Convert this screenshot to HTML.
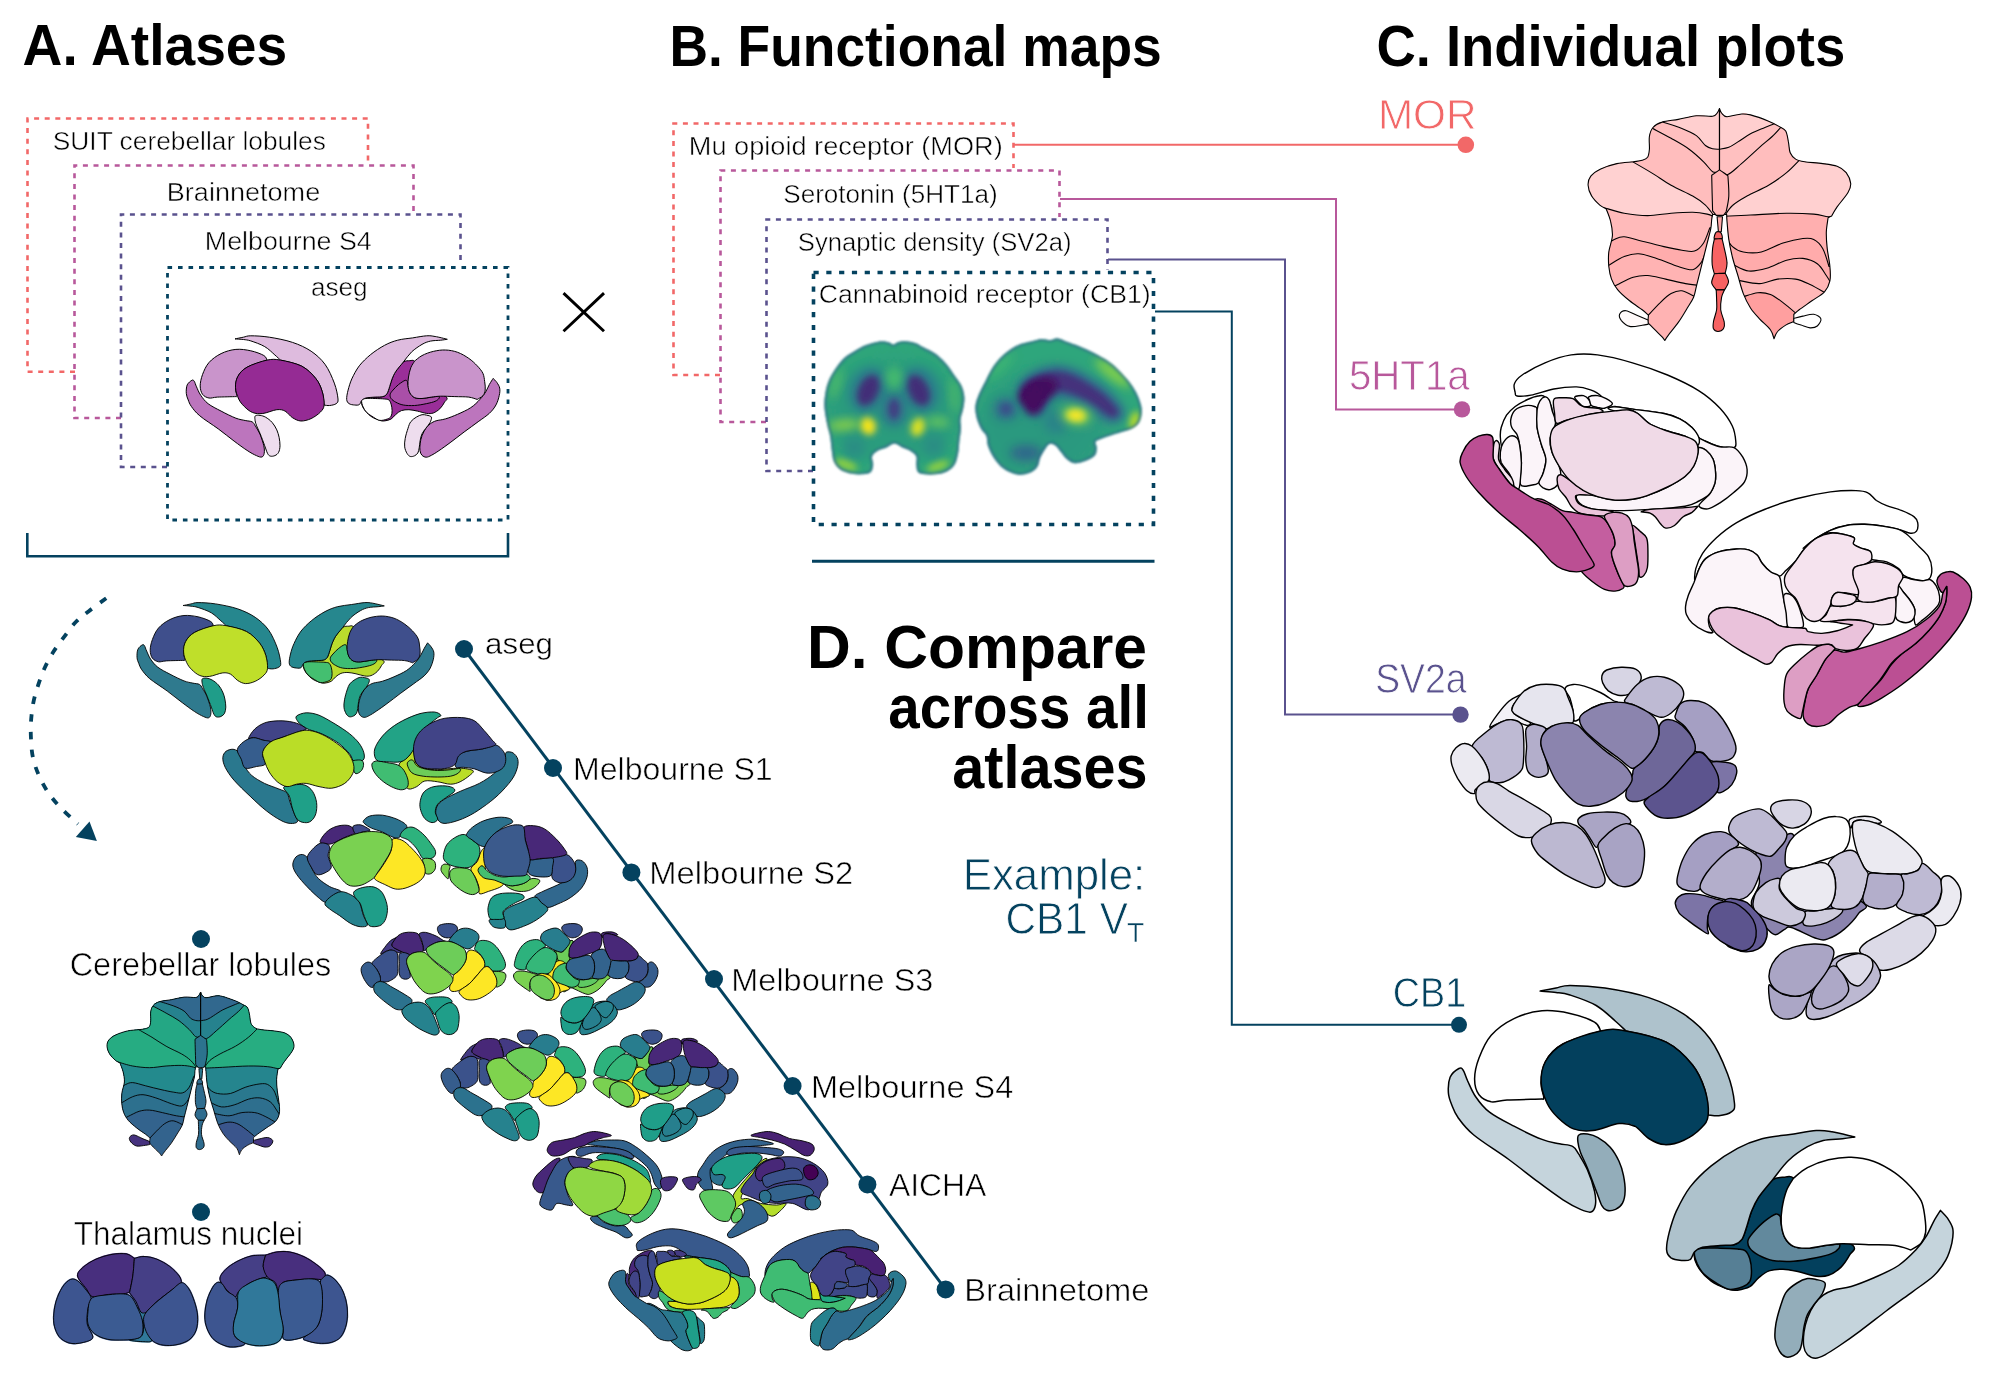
<!DOCTYPE html>
<html><head><meta charset="utf-8"><title>Figure</title>
<style>
html,body{margin:0;padding:0;background:#fff;}
svg{display:block;font-family:"Liberation Sans",sans-serif;}
</style></head>
<body>
<svg width="2000" height="1385" viewBox="0 0 2000 1385">
<rect width="2000" height="1385" fill="#fff"/>
<text opacity="0.999" x="22.6" y="64.5" font-size="57" fill="#000" font-weight="bold" text-anchor="start" textLength="264.6" lengthAdjust="spacingAndGlyphs" >A. Atlases</text>
<text opacity="0.999" x="669.4" y="66" font-size="57" fill="#000" font-weight="bold" text-anchor="start" textLength="492.3" lengthAdjust="spacingAndGlyphs" >B. Functional maps</text>
<text opacity="0.999" x="1376.4" y="66" font-size="57" fill="#000" font-weight="bold" text-anchor="start" textLength="468.8" lengthAdjust="spacingAndGlyphs" >C. Individual plots</text>
<text opacity="0.999" x="806.9" y="668" font-size="61" fill="#000" font-weight="bold" text-anchor="start" textLength="340.1" lengthAdjust="spacingAndGlyphs" >D. Compare</text>
<text opacity="0.999" x="888.3" y="728" font-size="61" fill="#000" font-weight="bold" text-anchor="start" textLength="260.6" lengthAdjust="spacingAndGlyphs" >across all</text>
<text opacity="0.999" x="952.3" y="788" font-size="61" fill="#000" font-weight="bold" text-anchor="start" textLength="195.1" lengthAdjust="spacingAndGlyphs" >atlases</text>
<path d="M75 371.8H27.5V118.5H368V162" fill="none" stroke="#F26868" stroke-width="2.6" stroke-dasharray="5 5.6"/>
<path d="M121 418H74.5V165.5H413.5V211" fill="none" stroke="#B8589B" stroke-width="2.6" stroke-dasharray="5 5.6"/>
<path d="M167 467H121V214.5H460.5V265" fill="none" stroke="#5A528E" stroke-width="2.6" stroke-dasharray="5 5.6"/>
<path d="M167.5 267.5H508V520H167.5Z" fill="none" stroke="#04425F" stroke-width="2.8" stroke-dasharray="4.6 5.9"/>
<text opacity="0.999" x="52.8" y="150" font-size="26.5" fill="#000" font-weight="normal" text-anchor="start" textLength="273.1" lengthAdjust="spacingAndGlyphs" stroke="#fff" stroke-width="0.5">SUIT cerebellar lobules</text>
<text opacity="0.999" x="166.8" y="200.5" font-size="26.5" fill="#000" font-weight="normal" text-anchor="start" textLength="153.4" lengthAdjust="spacingAndGlyphs" stroke="#fff" stroke-width="0.5">Brainnetome</text>
<text opacity="0.999" x="204.8" y="250" font-size="26.5" fill="#000" font-weight="normal" text-anchor="start" textLength="167" lengthAdjust="spacingAndGlyphs" stroke="#fff" stroke-width="0.5">Melbourne S4</text>
<text opacity="0.999" x="310.9" y="296" font-size="26.5" fill="#000" font-weight="normal" text-anchor="start" textLength="56.8" lengthAdjust="spacingAndGlyphs" stroke="#fff" stroke-width="0.5">aseg</text>
<path d="M27.3 533V556.3H508V533" fill="none" stroke="#04425F" stroke-width="2.6"/>
<path d="M563.5 293.1L604 331.2M604 293.1L563.5 331.2" stroke="#000" stroke-width="2.9" fill="none"/>
<path d="M720 375H673.5V123.5H1013.5V168" fill="none" stroke="#F26868" stroke-width="2.6" stroke-dasharray="5 5.6"/>
<path d="M766 422H720.5V170.5H1059.5V217" fill="none" stroke="#B8589B" stroke-width="2.6" stroke-dasharray="5 5.6"/>
<path d="M813 471H766.5V219.5H1107.5V270" fill="none" stroke="#5A528E" stroke-width="2.6" stroke-dasharray="5 5.6"/>
<path d="M813.5 272.5H1153.5V524.5H813.5Z" fill="none" stroke="#04425F" stroke-width="3.6" stroke-dasharray="5.2 7.6"/>
<text opacity="0.999" x="688.8" y="154.5" font-size="26.5" fill="#000" font-weight="normal" text-anchor="start" textLength="313.9" lengthAdjust="spacingAndGlyphs" stroke="#fff" stroke-width="0.5">Mu opioid receptor (MOR)</text>
<text opacity="0.999" x="783.3" y="203" font-size="26.5" fill="#000" font-weight="normal" text-anchor="start" textLength="214.3" lengthAdjust="spacingAndGlyphs" stroke="#fff" stroke-width="0.5">Serotonin (5HT1a)</text>
<text opacity="0.999" x="797.8" y="251" font-size="26.5" fill="#000" font-weight="normal" text-anchor="start" textLength="273.7" lengthAdjust="spacingAndGlyphs" stroke="#fff" stroke-width="0.5">Synaptic density (SV2a)</text>
<text opacity="0.999" x="818.7" y="303" font-size="26.5" fill="#000" font-weight="normal" text-anchor="start" textLength="332" lengthAdjust="spacingAndGlyphs" stroke="#fff" stroke-width="0.5">Cannabinoid receptor (CB1)</text>
<path d="M812 561.3H1154.5" fill="none" stroke="#04425F" stroke-width="3"/>
<path d="M1014 144.8H1466" fill="none" stroke="#F26868" stroke-width="2"/>
<circle cx="1465.8" cy="144.8" r="8.3" fill="#F26868"/>
<path d="M1060 199H1336V409.4H1462" fill="none" stroke="#B8589B" stroke-width="2"/>
<circle cx="1462" cy="409.4" r="8.2" fill="#B8589B"/>
<path d="M1108 259.5H1285V714.6H1460" fill="none" stroke="#5A528E" stroke-width="2"/>
<circle cx="1460.5" cy="714.6" r="8.2" fill="#5A528E"/>
<path d="M1155 311.5H1231.8V1024.8H1459" fill="none" stroke="#04425F" stroke-width="2"/>
<circle cx="1459" cy="1024.8" r="8" fill="#04425F"/>
<text opacity="0.999" x="1377.9" y="129" font-size="43.3" fill="#F26868" font-weight="normal" text-anchor="start" textLength="98.6" lengthAdjust="spacingAndGlyphs" stroke="#fff" stroke-width="0.8">MOR</text>
<text opacity="0.999" x="1349" y="389.5" font-size="43.3" fill="#B8589B" font-weight="normal" text-anchor="start" textLength="120.6" lengthAdjust="spacingAndGlyphs" stroke="#fff" stroke-width="0.8">5HT1a</text>
<text opacity="0.999" x="1375.2" y="693.3" font-size="43.3" fill="#5A528E" font-weight="normal" text-anchor="start" textLength="91.3" lengthAdjust="spacingAndGlyphs" stroke="#fff" stroke-width="0.8">SV2a</text>
<text opacity="0.999" x="1392.8" y="1006.6" font-size="43.3" fill="#04425F" font-weight="normal" text-anchor="start" textLength="73.3" lengthAdjust="spacingAndGlyphs" stroke="#fff" stroke-width="0.8">CB1</text>
<text opacity="0.999" x="962.7" y="889.8" font-size="44.3" fill="#04425F" font-weight="normal" text-anchor="start" textLength="182.6" lengthAdjust="spacingAndGlyphs" stroke="#fff" stroke-width="0.8">Example:</text>
<text opacity="0.999" x="1005.5" y="934" font-size="44.3" fill="#04425F" font-weight="normal" text-anchor="start" textLength="122.4" lengthAdjust="spacingAndGlyphs" stroke="#fff" stroke-width="0.8">CB1 V</text>
<text opacity="0.999" x="1127.1" y="942.4" font-size="28.3" fill="#04425F" font-weight="normal" text-anchor="start" textLength="17.3" lengthAdjust="spacingAndGlyphs" stroke="#fff" stroke-width="0.5">T</text>
<path d="M464 649L945.6 1289.4" stroke="#04425F" stroke-width="3" fill="none"/>
<circle cx="464" cy="649" r="9" fill="#04425F"/>
<circle cx="553" cy="768" r="9" fill="#04425F"/>
<circle cx="631.4" cy="872.4" r="9" fill="#04425F"/>
<circle cx="714" cy="979" r="9" fill="#04425F"/>
<circle cx="792.6" cy="1086" r="9" fill="#04425F"/>
<circle cx="867.4" cy="1184.4" r="9" fill="#04425F"/>
<circle cx="945.6" cy="1289.4" r="9" fill="#04425F"/>
<text opacity="0.999" x="485.1" y="653.6" font-size="29.5" fill="#000" font-weight="normal" text-anchor="start" textLength="67.9" lengthAdjust="spacingAndGlyphs" stroke="#fff" stroke-width="0.5">aseg</text>
<text opacity="0.999" x="573" y="779.6" font-size="31.7" fill="#000" font-weight="normal" text-anchor="start" textLength="199.6" lengthAdjust="spacingAndGlyphs" stroke="#fff" stroke-width="0.6">Melbourne S1</text>
<text opacity="0.999" x="649.3" y="884.4" font-size="31.7" fill="#000" font-weight="normal" text-anchor="start" textLength="204" lengthAdjust="spacingAndGlyphs" stroke="#fff" stroke-width="0.6">Melbourne S2</text>
<text opacity="0.999" x="731.3" y="991" font-size="31.7" fill="#000" font-weight="normal" text-anchor="start" textLength="202.1" lengthAdjust="spacingAndGlyphs" stroke="#fff" stroke-width="0.6">Melbourne S3</text>
<text opacity="0.999" x="810.9" y="1098" font-size="31.7" fill="#000" font-weight="normal" text-anchor="start" textLength="202.4" lengthAdjust="spacingAndGlyphs" stroke="#fff" stroke-width="0.6">Melbourne S4</text>
<text opacity="0.999" x="888.9" y="1196" font-size="31.7" fill="#000" font-weight="normal" text-anchor="start" textLength="97.5" lengthAdjust="spacingAndGlyphs" stroke="#fff" stroke-width="0.6">AICHA</text>
<text opacity="0.999" x="964.3" y="1301" font-size="31.7" fill="#000" font-weight="normal" text-anchor="start" textLength="185.1" lengthAdjust="spacingAndGlyphs" stroke="#fff" stroke-width="0.6">Brainnetome</text>
<circle cx="201" cy="939" r="9" fill="#04425F"/>
<circle cx="201" cy="1212" r="9" fill="#04425F"/>
<text opacity="0.999" x="69.7" y="975.8" font-size="32.3" fill="#000" font-weight="normal" text-anchor="start" textLength="261.5" lengthAdjust="spacingAndGlyphs" stroke="#fff" stroke-width="0.6">Cerebellar lobules</text>
<text opacity="0.999" x="73.7" y="1244.8" font-size="32.3" fill="#000" font-weight="normal" text-anchor="start" textLength="229.4" lengthAdjust="spacingAndGlyphs" stroke="#fff" stroke-width="0.6">Thalamus nuclei</text>
<path d="M106.2 598.2C103.3 600.4 93.9 607.2 88.8 611.2C83.7 615.2 80 617.7 75.8 622C71.6 626.3 67.7 632.2 63.9 637.2C60.1 642.2 56.4 647.1 53.1 652.3C49.9 657.5 46.9 663 44.4 668.6C41.9 674.2 39.8 680.1 37.9 685.9C36 691.7 34.4 697.3 33.2 703.3C32.1 709.3 31.4 715.8 31 721.7C30.6 727.7 30.7 733 31 739C31.3 745 31.6 751.4 32.9 757.4C34.2 763.4 36.2 769.2 38.6 774.8C41 780.4 44 786 47.2 791C50.5 796 54.1 800.6 58.1 805.1C62.1 809.6 68.2 815 71.5 818.1C74.8 821.2 76.9 823 78 824" fill="none" stroke="#04425F" stroke-width="3.8" stroke-dasharray="7.6 10.2"/>
<path d="M89.5 821.4L96.9 840.9L75.8 837Z" fill="#04425F"/>
<g stroke="#000" stroke-width="1.5" stroke-linejoin="round"><path d="M1458.9 1068.5C1456.7 1069.7 1451.9 1073.2 1450.1 1077.2C1448.4 1081.3 1448.1 1088.3 1448.4 1093C1448.7 1097.7 1450.3 1101.2 1451.9 1105.2C1453.5 1109.3 1454.4 1112.5 1458 1117.5C1461.6 1122.5 1465.3 1128 1473.8 1135C1482.2 1142 1498 1151.6 1508.8 1159.5C1519.5 1167.4 1529.5 1175.5 1538.5 1182.2C1547.5 1189 1556 1195.2 1563 1199.8C1570 1204.3 1575.8 1207.3 1580.5 1209.4C1585.2 1211.4 1588.5 1212.7 1591 1212C1593.5 1211.3 1594.8 1208.5 1595.4 1205C1596 1201.5 1595.8 1196.8 1594.5 1191C1593.2 1185.2 1590.1 1176.1 1587.5 1170C1584.9 1163.9 1581.2 1158.2 1578.8 1154.2C1576.3 1150.3 1575.8 1148.1 1572.6 1146.4C1569.4 1144.6 1564.6 1144.9 1559.5 1143.8C1554.4 1142.6 1549.6 1142.3 1542 1139.4C1534.4 1136.5 1522.8 1130.8 1514 1126.2C1505.2 1121.7 1495.9 1117.2 1489.5 1112.2C1483.1 1107.3 1479.1 1101.8 1475.5 1096.5C1471.9 1091.2 1469.7 1085.1 1467.6 1080.8C1465.6 1076.4 1464.7 1072.3 1463.2 1070.2C1461.8 1068.2 1461.1 1067.3 1458.9 1068.5Z" fill="#C5D4DC" /><path d="M1578.8 1135C1580.4 1133.7 1584.3 1133.7 1587.5 1134.1C1590.7 1134.6 1594.2 1135.4 1598 1137.6C1601.8 1139.8 1606.8 1143.3 1610.2 1147.2C1613.8 1151.2 1616.8 1156.6 1619 1161.2C1621.2 1165.9 1622.4 1170.3 1623.4 1175.2C1624.4 1180.2 1625.3 1186.3 1625.1 1191C1625 1195.7 1624.1 1200.2 1622.5 1203.2C1620.9 1206.3 1618.1 1208.2 1615.5 1209.4C1612.9 1210.5 1609.1 1211 1606.8 1210.2C1604.4 1209.5 1603.2 1208.2 1601.5 1205C1599.8 1201.8 1598.6 1197.1 1596.2 1191C1593.9 1184.9 1590.1 1174.7 1587.5 1168.2C1584.9 1161.8 1582.1 1156.9 1580.5 1152.5C1578.9 1148.1 1578.2 1144.9 1577.9 1142C1577.6 1139.1 1577.1 1136.3 1578.8 1135Z" fill="#93ADBA" /><path d="M1540.2 991.1C1542.9 990.6 1551 989 1556 988C1561 987 1561.8 985.4 1570 985.4C1578.2 985.4 1591.9 986 1605 988C1618.1 990 1635.6 993.2 1648.8 997.6C1661.9 1002 1673.5 1007.4 1683.8 1014.2C1694 1021.1 1702.7 1028.8 1710 1038.8C1717.3 1048.7 1723.4 1063 1727.5 1073.8C1731.6 1084.5 1733.9 1097.1 1734.5 1103.5C1735.1 1109.9 1733.6 1110.2 1731 1112.2C1728.4 1114.3 1722.5 1115.3 1718.8 1115.8C1715 1116.2 1710 1115 1708.2 1114.9C1707.7 1110.6 1707.4 1097.8 1704.8 1089.5C1702.1 1081.2 1698.9 1072.9 1692.5 1065C1686.1 1057.1 1677.3 1047.9 1666.2 1042.2C1655.2 1036.6 1632.7 1032.8 1626 1030.9C1624.2 1029.3 1620.5 1025.5 1615.5 1021.2C1610.5 1017 1603.8 1009.9 1596.2 1005.5C1588.7 1001.1 1576.7 997.2 1570 995C1563.3 992.8 1561 993 1556 992.4C1551 991.7 1542.9 991.4 1540.2 991.1Z" fill="#AEC2CC" /><path d="M1600.6 1030.9C1599.6 1029.4 1599.6 1025 1594.5 1022.1C1589.4 1019.2 1578.8 1015.3 1570 1013.4C1561.2 1011.5 1551.3 1009.9 1542 1010.8C1532.7 1011.6 1522.5 1014.5 1514 1018.6C1505.5 1022.7 1497.1 1028.7 1491.2 1035.2C1485.4 1041.8 1481.8 1050.7 1479 1058C1476.2 1065.3 1474.6 1072.9 1474.6 1079C1474.6 1085.1 1476.2 1091 1479 1094.8C1481.8 1098.5 1486.6 1100.9 1491.2 1101.8C1495.9 1102.6 1498.5 1100.4 1507 1100C1515.5 1099.6 1536.2 1099.3 1542 1099.1C1542.3 1098.8 1543.9 1100.1 1543.8 1097.4C1543.6 1094.6 1540.8 1088.5 1541.1 1082.5C1541.4 1076.5 1541.9 1067.9 1545.5 1061.5C1549.1 1055.1 1553.8 1049.1 1563 1044C1572.2 1038.9 1594.4 1033.1 1600.6 1030.9Z" fill="#FFFFFF" /><path d="M1600.6 1030.9C1611.1 1028.7 1615.1 1029 1626 1030.9C1636.9 1032.8 1655.2 1036.6 1666.2 1042.2C1677.3 1047.9 1686.1 1057.1 1692.5 1065C1698.9 1072.9 1702.1 1081.2 1704.8 1089.5C1707.4 1097.8 1708.8 1108.5 1708.2 1114.9C1707.7 1121.3 1705.3 1123.8 1701.2 1128C1697.2 1132.2 1689.9 1137.5 1683.8 1140.2C1677.6 1143 1670.3 1144.9 1664.5 1144.6C1658.7 1144.3 1653.7 1141.6 1648.8 1138.5C1643.8 1135.4 1639.7 1128.7 1634.8 1126.2C1629.8 1123.8 1626 1122.9 1619 1123.6C1612 1124.4 1600.3 1129.8 1592.8 1130.6C1585.2 1131.5 1579.3 1131.1 1573.5 1128.9C1567.7 1126.7 1562.1 1121.7 1557.8 1117.5C1553.4 1113.3 1550 1109.3 1547.2 1103.5C1544.5 1097.7 1541.4 1089.5 1541.1 1082.5C1540.8 1075.5 1541.9 1067.9 1545.5 1061.5C1549.1 1055.1 1553.8 1049.1 1563 1044C1572.2 1038.9 1590.1 1033.1 1600.6 1030.9Z" fill="#03405D" /></g>
<g stroke="#000" stroke-width="1.5" stroke-linejoin="round"><path d="M1940.5 1210.4C1941.7 1211.7 1945.5 1215.2 1947.5 1218.2C1949.5 1221.3 1952 1224.7 1952.8 1228.8C1953.5 1232.8 1953 1237.5 1951.9 1242.8C1950.7 1248 1948.8 1254.7 1945.8 1260.2C1942.7 1265.8 1939 1270.8 1933.5 1276C1928 1281.2 1920.4 1285.9 1912.5 1291.8C1904.6 1297.6 1895 1304.4 1886.2 1311C1877.5 1317.6 1867.9 1325.3 1860 1331.1C1852.1 1337 1844.8 1342.1 1839 1346C1833.2 1349.9 1828.9 1352.7 1825 1354.8C1821.1 1356.8 1818.3 1358.2 1815.4 1358.2C1812.5 1358.2 1809.5 1356.8 1807.5 1354.8C1805.5 1352.7 1804.2 1349.8 1803.7 1346C1803.1 1342.2 1803.4 1336.7 1804 1332C1804.6 1327.3 1805.8 1322.7 1807.5 1318C1809.2 1313.3 1811.9 1307.8 1814.5 1304C1817.1 1300.2 1820 1297.6 1823.2 1295.2C1826.5 1292.9 1829.1 1291.5 1833.8 1290C1838.4 1288.5 1844.5 1288.5 1851.2 1286.5C1858 1284.5 1866.1 1281.2 1874 1277.8C1881.9 1274.2 1891.5 1270.2 1898.5 1265.5C1905.5 1260.8 1911.3 1254.7 1916 1249.8C1920.7 1244.8 1923.6 1240.4 1926.5 1235.8C1929.4 1231.1 1931.2 1226 1933.5 1221.8C1935.8 1217.5 1939.3 1212.3 1940.5 1210.4Z" fill="#C5D4DC" /><path d="M1825 1283C1824 1280.7 1819.2 1280.2 1816.2 1279.5C1813.3 1278.8 1810.7 1278 1807.5 1278.6C1804.3 1279.2 1800.5 1280.8 1797 1283C1793.5 1285.2 1789.1 1288.2 1786.5 1291.8C1783.9 1295.2 1783 1298.8 1781.2 1304C1779.5 1309.2 1777 1317.4 1776 1323.2C1775 1329.1 1774.5 1334.3 1775.1 1339C1775.7 1343.7 1777.8 1348.3 1779.5 1351.2C1781.2 1354.2 1783.3 1356.1 1785.6 1356.8C1788 1357.6 1791.2 1356.7 1793.5 1355.6C1795.8 1354.5 1798.2 1352.9 1799.6 1350.4C1801.1 1347.9 1801.5 1344.7 1802.2 1340.8C1803 1336.8 1803.1 1331.1 1804 1326.8C1804.9 1322.4 1805.8 1318.3 1807.5 1314.5C1809.2 1310.7 1812 1307.5 1814.5 1304C1817 1300.5 1820.6 1297 1822.4 1293.5C1824.1 1290 1826 1285.3 1825 1283Z" fill="#93ADBA" /><path d="M1772.5 1179.9C1776.9 1176.6 1781.2 1177.6 1784.8 1177.3C1788.2 1177 1789.7 1175.1 1793.5 1178.2C1797.3 1181.2 1802.2 1186.8 1807.5 1195.5C1812.8 1204.2 1817.4 1222.2 1825 1230.5C1832.6 1238.8 1848.9 1241.4 1853 1245.5C1857.1 1249.7 1851.5 1251.5 1849.5 1255.2C1847.5 1258.8 1844.2 1264.1 1840.8 1267.4C1837.2 1270.8 1832.6 1273.8 1828.5 1275.3C1824.4 1276.8 1821.2 1276.8 1816.2 1276.2C1811.3 1275.6 1804.3 1273 1798.8 1271.8C1793.2 1270.6 1788 1269.3 1783 1269.2C1778 1269 1773.1 1269.5 1769 1270.9C1764.9 1272.4 1761.7 1275.3 1758.5 1277.9C1755.3 1280.5 1753.2 1284.6 1749.8 1286.7C1746.2 1288.7 1741 1289.7 1737.5 1290.2C1734 1290.6 1733.1 1290.8 1728.8 1289.3C1724.4 1287.8 1716.5 1285.2 1711.2 1281.2C1706 1277.3 1700 1270.4 1697.2 1265.5C1694.5 1260.6 1693.8 1254.7 1694.6 1251.7C1695.5 1248.6 1698.3 1248.3 1702.5 1247.3C1706.7 1246.3 1714.8 1246 1720 1245.5C1725.2 1245.1 1730.4 1245.7 1734 1244.7C1737.6 1243.7 1739.7 1242.6 1741.9 1239.4C1744.1 1236.2 1745.5 1230.1 1747.1 1225.4C1748.7 1220.8 1749.6 1216.1 1751.5 1211.4C1753.4 1206.8 1755 1202.7 1758.5 1197.4C1762 1192.2 1768.1 1183.3 1772.5 1179.9Z" fill="#03405D" /><path d="M1694.6 1251.7C1695.5 1249 1698.3 1248.8 1702.5 1248.2C1706.7 1247.6 1714.2 1248 1720 1248.2C1725.8 1248.3 1733.3 1248.6 1737.5 1249C1741.7 1249.5 1743.3 1249.2 1745.4 1250.8C1747.4 1252.4 1748.7 1255.3 1749.8 1258.7C1750.8 1262 1751.5 1267.1 1751.5 1270.9C1751.5 1274.7 1751.2 1278.8 1749.8 1281.4C1748.3 1284 1746.2 1285.4 1742.8 1286.7C1739.2 1288 1733.1 1289.9 1728.8 1289.3C1724.4 1288.7 1720.6 1285.7 1716.5 1283.2C1712.4 1280.7 1707.5 1277.6 1704.2 1274.4C1701 1271.2 1698.9 1267.7 1697.2 1263.9C1695.6 1260.1 1693.8 1254.3 1694.6 1251.7Z" fill="#567F95" /><path d="M1776 1214C1778.8 1213.2 1779.6 1216.2 1780.4 1216.7C1780.5 1217.8 1780.5 1220.2 1781.2 1223.7C1782 1227.2 1782.7 1233.9 1784.8 1237.7C1786.8 1241.5 1789.7 1244.7 1793.5 1246.4C1797.3 1248.2 1802.2 1248.3 1807.5 1248.2C1812.8 1248 1819.6 1246.3 1825 1245.5C1830.4 1244.8 1837.4 1244.1 1839.9 1243.8C1839.7 1244.5 1840.3 1246.6 1839 1248.2C1837.7 1249.8 1835.8 1251.8 1832 1253.4C1828.2 1255 1822.7 1256.5 1816.2 1257.8C1809.8 1259.1 1800.8 1260.9 1793.5 1261.3C1786.2 1261.7 1778.3 1261.4 1772.5 1260.4C1766.7 1259.4 1762.3 1257.2 1758.5 1255.2C1754.7 1253.1 1751.5 1250.7 1749.8 1248.2C1748 1245.7 1747.4 1242.9 1748 1240.3C1748.6 1237.7 1750.6 1235.5 1753.2 1232.4C1755.9 1229.4 1760 1225 1763.8 1221.9C1767.5 1218.9 1773.2 1214.9 1776 1214Z" fill="#62899D" /><path d="M1854.8 1137C1851 1136.2 1838.4 1132.9 1832 1131.8C1825.6 1130.7 1823.2 1130.1 1816.2 1130.6C1809.2 1131 1799 1133.1 1790 1134.4C1781 1135.8 1770.8 1136.5 1762 1138.8C1753.2 1141.1 1746 1143.9 1737.5 1148.4C1729 1152.9 1719.1 1159.5 1711.2 1165.9C1703.4 1172.3 1696.1 1179.3 1690.2 1186.9C1684.4 1194.5 1679.8 1203.8 1676.2 1211.4C1672.8 1219 1670.9 1226 1669.2 1232.4C1667.6 1238.8 1666.3 1245.7 1666.6 1249.9C1666.9 1254.2 1668.5 1256 1671 1257.8C1673.5 1259.5 1678.3 1260.1 1681.5 1260.4C1684.7 1260.7 1688.1 1261 1690.2 1259.5C1692.4 1258.1 1692.6 1253.7 1694.6 1251.7C1696.7 1249.6 1698.3 1248.3 1702.5 1247.3C1706.7 1246.3 1714.8 1246 1720 1245.5C1725.2 1245.1 1730.4 1245.7 1734 1244.7C1737.6 1243.7 1739.7 1242.6 1741.9 1239.4C1744.1 1236.2 1745.5 1230.1 1747.1 1225.4C1748.7 1220.8 1749.6 1216.1 1751.5 1211.4C1753.4 1206.8 1755 1202.7 1758.5 1197.4C1762 1192.2 1767.5 1186 1772.5 1179.9C1777.5 1173.8 1782.4 1166.2 1788.2 1160.7C1794.1 1155.1 1801.7 1150 1807.5 1146.7C1813.3 1143.3 1817.4 1141.9 1823.2 1140.5C1829.1 1139.2 1837.2 1139.4 1842.5 1138.8C1847.8 1138.2 1852.7 1137.3 1854.8 1137Z" fill="#AEC2CC" /><path d="M1793.5 1178.2C1795.8 1176.4 1801.7 1170.7 1807.5 1167.7C1813.3 1164.6 1821.2 1161.5 1828.5 1159.8C1835.8 1158 1843.7 1156.9 1851.2 1157.2C1858.8 1157.5 1866.7 1158.9 1874 1161.5C1881.3 1164.2 1888.9 1168.7 1895 1172.9C1901.1 1177.2 1906.4 1182.3 1910.8 1186.9C1915.1 1191.6 1918.9 1196 1921.2 1200.9C1923.6 1205.9 1924 1211.4 1924.8 1216.7C1925.5 1221.9 1926.2 1228 1925.6 1232.4C1925 1236.8 1923.7 1240 1921.2 1242.9C1918.8 1245.8 1912.5 1248.8 1910.8 1249.9C1908.1 1249.2 1902 1246.4 1895 1245.5C1888 1244.7 1877.5 1245 1868.8 1244.7C1860 1244.4 1849.8 1243.7 1842.5 1243.8C1835.2 1243.9 1830.8 1244.8 1825 1245.5C1819.2 1246.3 1812.8 1248 1807.5 1248.2C1802.2 1248.3 1797.3 1248.2 1793.5 1246.4C1789.7 1244.7 1786.8 1241.5 1784.8 1237.7C1782.7 1233.9 1781.7 1228.6 1781.2 1223.7C1780.8 1218.7 1781.2 1213.5 1782.1 1207.9C1783 1202.4 1784.6 1195.4 1786.5 1190.4C1788.4 1185.5 1792.3 1180.2 1793.5 1178.2Z" fill="#FFFFFF" /></g>
<g stroke="#000" stroke-width="1" stroke-linejoin="round"><path d="M191.9 380.3C190.7 380.9 188.2 382.8 187.2 384.9C186.3 387.1 186.1 390.9 186.3 393.4C186.5 395.9 187.3 397.7 188.2 399.9C189 402.1 189.5 403.8 191.4 406.5C193.3 409.1 195.3 412.1 199.8 415.8C204.2 419.6 212.6 424.7 218.3 428.9C224 433.1 229.3 437.5 234.1 441.1C238.9 444.7 243.4 448 247.1 450.4C250.8 452.9 253.9 454.5 256.4 455.6C258.8 456.7 260.6 457.4 261.9 457C263.2 456.6 263.9 455.1 264.2 453.3C264.5 451.4 264.5 448.9 263.8 445.8C263.1 442.6 261.5 437.8 260.1 434.5C258.7 431.3 256.7 428.2 255.4 426.1C254.1 424 253.9 422.8 252.2 421.9C250.5 421 247.9 421.1 245.2 420.5C242.5 419.9 240 419.7 235.9 418.2C231.9 416.6 225.7 413.6 221.1 411.1C216.5 408.7 211.5 406.3 208.1 403.7C204.7 401 202.6 398 200.7 395.2C198.7 392.4 197.6 389.1 196.5 386.8C195.4 384.5 195 382.3 194.2 381.2C193.4 380.1 193 379.6 191.9 380.3Z" fill="#BC75BD" /><path d="M255.4 415.8C256.3 415.1 258.4 415.1 260.1 415.4C261.8 415.6 263.6 416.1 265.6 417.2C267.6 418.4 270.3 420.3 272.1 422.4C274 424.5 275.6 427.4 276.8 429.9C277.9 432.4 278.5 434.7 279.1 437.3C279.6 440 280.1 443.3 280 445.8C279.9 448.3 279.5 450.7 278.6 452.3C277.8 454 276.3 455 274.9 455.6C273.5 456.2 271.5 456.5 270.3 456.1C269 455.7 268.4 455 267.5 453.3C266.6 451.5 265.9 449 264.7 445.8C263.5 442.5 261.5 437 260.1 433.6C258.7 430.2 257.2 427.5 256.4 425.2C255.5 422.8 255.1 421.1 255 419.6C254.8 418 254.6 416.5 255.4 415.8Z" fill="#EEDDEE" /><path d="M235 338.9C236.4 338.6 240.7 337.7 243.4 337.2C246 336.7 246.5 335.8 250.8 335.8C255.1 335.8 262.4 336.1 269.3 337.2C276.3 338.3 285.6 340 292.5 342.4C299.5 344.7 305.7 347.6 311.1 351.2C316.5 354.9 321.1 359 325 364.3C328.9 369.6 332.1 377.3 334.3 383.1C336.5 388.8 337.7 395.5 338 399C338.3 402.4 337.5 402.6 336.1 403.7C334.8 404.7 331.7 405.3 329.6 405.5C327.6 405.8 325 405.1 324.1 405.1C323.8 402.8 323.6 395.9 322.2 391.5C320.8 387 319.1 382.6 315.7 378.4C312.3 374.2 307.7 369.3 301.8 366.2C295.9 363.2 284 361.1 280.5 360.1C279.5 359.3 277.5 357.2 274.9 355C272.3 352.7 268.7 348.9 264.7 346.6C260.7 344.2 254.3 342.1 250.8 340.9C247.2 339.8 246 339.9 243.4 339.5C240.7 339.2 236.4 339 235 338.9Z" fill="#DEBBDE" /><path d="M267 360.1C266.5 359.4 266.5 357 263.8 355.5C261.1 353.9 255.4 351.8 250.8 350.8C246.1 349.8 240.9 348.9 235.9 349.4C231 349.8 225.6 351.4 221.1 353.6C216.6 355.8 212.1 359 209 362.5C205.9 366 204 370.7 202.5 374.6C201.1 378.5 200.2 382.6 200.2 385.9C200.2 389.1 201.1 392.3 202.5 394.3C204 396.3 206.6 397.6 209 398C211.5 398.5 212.9 397.3 217.4 397.1C221.9 396.9 232.8 396.7 235.9 396.6C236.1 396.5 236.9 397.2 236.9 395.7C236.8 394.2 235.3 390.9 235.5 387.7C235.6 384.5 235.9 379.9 237.8 376.5C239.7 373.1 242.2 369.9 247.1 367.2C251.9 364.4 263.7 361.3 267 360.1Z" fill="#C994CB" /><path d="M267 360.1C272.6 359 274.7 359.1 280.5 360.1C286.3 361.1 295.9 363.2 301.8 366.2C307.7 369.3 312.3 374.2 315.7 378.4C319.1 382.6 320.8 387 322.2 391.5C323.6 395.9 324.4 401.6 324.1 405.1C323.8 408.5 322.5 409.8 320.4 412.1C318.2 414.3 314.3 417.1 311.1 418.6C307.8 420.1 304 421.1 300.9 421C297.8 420.8 295.2 419.3 292.5 417.7C289.9 416.1 287.7 412.5 285.1 411.1C282.5 409.8 280.5 409.3 276.8 409.7C273.1 410.1 266.9 413 262.8 413.5C258.8 413.9 255.7 413.7 252.6 412.5C249.5 411.4 246.6 408.7 244.3 406.5C242 404.2 240.2 402.1 238.7 399C237.3 395.9 235.6 391.5 235.5 387.7C235.3 384 235.9 379.9 237.8 376.5C239.7 373.1 242.2 369.9 247.1 367.2C251.9 364.4 261.5 361.3 267 360.1Z" fill="#952B94" /></g>
<g stroke="#000" stroke-width="1" stroke-linejoin="round"><path d="M493.1 378.4C493.8 379.1 495.8 380.9 496.9 382.5C498 384.2 499.3 386 499.7 388.1C500.1 390.3 499.9 392.8 499.2 395.6C498.6 398.4 497.6 402 496 404.9C494.3 407.9 492.4 410.5 489.4 413.3C486.4 416.1 482.4 418.6 478.2 421.7C474 424.9 468.8 428.5 464.1 432C459.5 435.5 454.3 439.6 450.1 442.7C445.9 445.8 442 448.6 438.9 450.7C435.8 452.8 433.5 454.2 431.4 455.3C429.3 456.4 427.8 457.2 426.2 457.2C424.7 457.2 423.1 456.4 422 455.3C421 454.2 420.3 452.7 420 450.7C419.7 448.6 419.8 445.7 420.2 443.2C420.5 440.7 421.1 438.2 422 435.7C423 433.2 424.4 430.3 425.8 428.3C427.2 426.3 428.7 424.9 430.5 423.6C432.2 422.4 433.6 421.6 436.1 420.8C438.6 420 441.8 420 445.4 418.9C449 417.9 453.4 416.1 457.6 414.3C461.8 412.4 466.9 410.2 470.7 407.7C474.4 405.3 477.6 402 480 399.3C482.5 396.7 484.1 394.4 485.7 391.9C487.2 389.4 488.2 386.7 489.4 384.4C490.7 382.2 492.5 379.4 493.1 378.4Z" fill="#BC75BD" /><path d="M431.4 417.1C430.8 415.8 428.3 415.6 426.7 415.2C425.1 414.8 423.7 414.4 422 414.7C420.3 415.1 418.3 415.9 416.4 417.1C414.5 418.2 412.2 419.9 410.8 421.7C409.4 423.6 408.9 425.5 408 428.3C407.1 431.1 405.7 435.4 405.2 438.5C404.6 441.6 404.4 444.4 404.7 446.9C405 449.4 406.1 451.9 407.1 453.5C408 455.1 409.1 456.1 410.3 456.5C411.6 456.8 413.3 456.4 414.5 455.8C415.8 455.2 417 454.3 417.8 453C418.6 451.7 418.8 450 419.2 447.9C419.6 445.8 419.7 442.7 420.2 440.4C420.6 438.1 421.1 435.9 422 433.9C423 431.9 424.4 430.1 425.8 428.3C427.1 426.4 429 424.5 430 422.7C430.9 420.8 431.9 418.3 431.4 417.1Z" fill="#EEDDEE" /><path d="M403.3 362.1C405.7 360.3 408 360.9 409.9 360.7C411.7 360.6 412.5 359.6 414.5 361.2C416.6 362.8 419.2 365.8 422 370.4C424.8 375.1 427.3 384.6 431.4 389.1C435.4 393.5 444.2 394.9 446.4 397.1C448.5 399.3 445.6 400.3 444.5 402.2C443.4 404.2 441.7 407 439.8 408.8C437.9 410.6 435.4 412.2 433.3 413C431.1 413.7 429.4 413.7 426.7 413.4C424.1 413.1 420.3 411.7 417.4 411.1C414.4 410.5 411.6 409.8 408.9 409.7C406.3 409.6 403.6 409.9 401.4 410.6C399.3 411.4 397.5 413 395.8 414.4C394.1 415.8 393 417.9 391.1 419C389.3 420.1 386.5 420.7 384.6 420.9C382.7 421.1 382.3 421.2 379.9 420.4C377.6 419.6 373.4 418.3 370.6 416.1C367.8 414 364.6 410.4 363.1 407.7C361.6 405.1 361.2 402 361.7 400.4C362.1 398.8 363.6 398.6 365.9 398C368.1 397.5 372.4 397.3 375.2 397.1C378 396.9 380.8 397.2 382.7 396.6C384.7 396.1 385.8 395.6 386.9 393.8C388.1 392.1 388.9 388.9 389.7 386.4C390.6 383.9 391.1 381.4 392.1 378.9C393.1 376.4 394 374.2 395.8 371.4C397.7 368.6 401 363.9 403.3 362.1Z" fill="#9A2E99" /><path d="M361.7 400.4C362.1 399 363.6 398.8 365.9 398.5C368.1 398.2 372.1 398.4 375.2 398.5C378.4 398.6 382.3 398.7 384.6 399C386.9 399.2 387.7 399.1 388.8 399.9C389.9 400.8 390.6 402.3 391.1 404.1C391.7 405.9 392.1 408.6 392.1 410.6C392.1 412.7 391.9 414.8 391.1 416.2C390.4 417.6 389.3 418.3 387.4 419C385.5 419.7 382.3 420.7 379.9 420.4C377.6 420.1 375.6 418.5 373.4 417.2C371.2 415.8 368.5 414.2 366.8 412.5C365.1 410.8 363.9 408.9 363.1 406.9C362.2 404.9 361.2 401.8 361.7 400.4Z" fill="#FFFFFF" /><path d="M405.2 380.3C406.7 379.8 407.1 381.5 407.5 381.7C407.6 382.3 407.6 383.6 408 385.4C408.4 387.3 408.8 390.9 409.9 392.9C411 394.9 412.5 396.6 414.5 397.6C416.6 398.5 419.2 398.6 422 398.5C424.8 398.4 428.5 397.5 431.4 397.1C434.3 396.7 438 396.3 439.3 396.2C439.3 396.6 439.6 397.7 438.9 398.5C438.2 399.4 437.2 400.5 435.1 401.3C433.1 402.2 430.1 402.9 426.7 403.6C423.3 404.3 418.4 405.3 414.5 405.5C410.6 405.7 406.4 405.6 403.3 405C400.2 404.5 397.9 403.3 395.8 402.2C393.8 401.2 392.1 399.8 391.1 398.5C390.2 397.2 389.9 395.7 390.2 394.3C390.5 392.9 391.6 391.7 393 390.1C394.4 388.5 396.6 386.1 398.6 384.5C400.7 382.9 403.7 380.8 405.2 380.3Z" fill="#A94FA8" /><path d="M447.3 339.3C445.3 338.8 438.6 337 435.1 336.5C431.7 335.9 430.5 335.6 426.7 335.8C423 336 417.5 337.1 412.7 337.9C407.8 338.6 402.4 338.9 397.7 340.2C393 341.4 389.1 342.9 384.6 345.3C380.1 347.7 374.8 351.2 370.6 354.6C366.4 358.1 362.5 361.8 359.3 365.8C356.2 369.9 353.7 374.9 351.8 378.9C350 383 349 386.7 348.1 390.1C347.2 393.5 346.5 397.2 346.7 399.4C346.9 401.7 347.7 402.7 349 403.6C350.4 404.6 352.9 404.9 354.7 405C356.4 405.2 358.2 405.3 359.3 404.6C360.5 403.8 360.6 401.5 361.7 400.4C362.8 399.3 363.6 398.6 365.9 398C368.1 397.5 372.4 397.3 375.2 397.1C378 396.9 380.8 397.2 382.7 396.6C384.7 396.1 385.8 395.6 386.9 393.8C388.1 392.1 388.9 388.9 389.7 386.4C390.6 383.9 391.1 381.4 392.1 378.9C393.1 376.4 394 374.2 395.8 371.4C397.7 368.6 400.7 365.4 403.3 362.1C406 358.8 408.6 354.8 411.7 351.8C414.9 348.9 418.9 346.2 422 344.4C425.1 342.6 427.3 341.8 430.5 341.1C433.6 340.4 437.9 340.5 440.7 340.2C443.6 339.9 446.2 339.4 447.3 339.3Z" fill="#DEBBDE" /><path d="M414.5 361.2C415.8 360.2 418.9 357.2 422 355.6C425.1 353.9 429.4 352.3 433.3 351.4C437.2 350.5 441.4 349.8 445.4 350C449.5 350.1 453.7 350.9 457.6 352.3C461.5 353.7 465.5 356.1 468.8 358.4C472.1 360.6 474.9 363.4 477.2 365.8C479.6 368.3 481.6 370.7 482.9 373.3C484.1 376 484.3 378.9 484.7 381.7C485.1 384.5 485.5 387.8 485.2 390.1C484.9 392.4 484.2 394.2 482.9 395.7C481.5 397.3 478.2 398.8 477.2 399.4C475.8 399.1 472.6 397.6 468.8 397.1C465.1 396.6 459.5 396.8 454.8 396.6C450.1 396.5 444.6 396.1 440.7 396.2C436.8 396.3 434.5 396.7 431.4 397.1C428.3 397.5 424.8 398.4 422 398.5C419.2 398.6 416.6 398.5 414.5 397.6C412.5 396.6 411 394.9 409.9 392.9C408.8 390.9 408.2 388.1 408 385.4C407.8 382.8 408 380 408.5 377C408.9 374.1 409.8 370.4 410.8 367.7C411.8 365.1 413.9 362.3 414.5 361.2Z" fill="#C994CB" /></g>
<g stroke="#000" stroke-width="0.9" stroke-linejoin="round"><path d="M142.3 644.9C141.2 645.4 138.8 647.2 137.9 649.3C137 651.4 136.9 654.9 137 657.3C137.1 659.7 138 661.5 138.8 663.5C139.6 665.6 140 667.2 141.8 669.8C143.7 672.3 145.5 675.1 149.7 678.7C154 682.2 161.9 687.1 167.3 691.1C172.7 695.1 177.7 699.3 182.3 702.7C186.8 706.1 191.1 709.3 194.6 711.6C198.1 713.9 201 715.4 203.4 716.5C205.7 717.5 207.4 718.2 208.6 717.8C209.9 717.4 210.5 716 210.8 714.2C211.1 712.5 211 710.1 210.4 707.1C209.7 704.2 208.2 699.6 206.9 696.5C205.6 693.3 203.7 690.4 202.5 688.4C201.2 686.4 201 685.3 199.4 684.4C197.8 683.6 195.4 683.7 192.8 683.1C190.2 682.5 187.8 682.4 184 680.9C180.2 679.4 174.4 676.5 170 674.2C165.6 671.9 160.9 669.6 157.7 667.1C154.4 664.6 152.5 661.8 150.6 659.1C148.8 656.4 147.7 653.3 146.7 651.1C145.6 648.9 145.2 646.8 144.5 645.7C143.7 644.7 143.4 644.3 142.3 644.9Z" fill="#2F7A8E" /><path d="M202.5 678.7C203.3 678 205.3 678 206.9 678.2C208.5 678.4 210.2 678.9 212.1 680C214.1 681.1 216.5 682.9 218.3 684.9C220.1 686.9 221.6 689.6 222.7 692C223.8 694.4 224.4 696.6 224.9 699.1C225.4 701.6 225.8 704.8 225.8 707.1C225.7 709.5 225.3 711.8 224.5 713.4C223.6 714.9 222.3 715.9 220.9 716.5C219.6 717.1 217.7 717.3 216.5 716.9C215.4 716.5 214.8 715.9 213.9 714.2C213 712.6 212.4 710.2 211.3 707.1C210.1 704 208.2 698.8 206.9 695.6C205.6 692.3 204.2 689.8 203.4 687.6C202.6 685.3 202.2 683.7 202 682.2C201.9 680.7 201.7 679.3 202.5 678.7Z" fill="#1F9D89" /><path d="M183.1 605.5C184.5 605.3 188.6 604.4 191.1 603.9C193.5 603.4 194 602.6 198.1 602.6C202.2 602.6 209.1 602.9 215.7 603.9C222.3 605 231 606.6 237.6 608.8C244.2 611.1 250.1 613.8 255.2 617.3C260.3 620.8 264.7 624.7 268.4 629.7C272.1 634.8 275.1 642 277.2 647.5C279.2 653 280.4 659.4 280.7 662.6C281 665.9 280.3 666.1 278.9 667.1C277.6 668.1 274.7 668.7 272.8 668.9C270.9 669.1 268.4 668.5 267.5 668.4C267.2 666.3 267.1 659.8 265.8 655.5C264.4 651.3 262.8 647.1 259.6 643.1C256.4 639.1 252 634.4 246.4 631.5C240.9 628.6 229.6 626.7 226.2 625.7C225.3 624.9 223.4 623 220.9 620.8C218.4 618.7 215.1 615.1 211.3 612.8C207.5 610.6 201.5 608.6 198.1 607.5C194.7 606.4 193.5 606.5 191.1 606.2C188.6 605.8 184.5 605.6 183.1 605.5Z" fill="#26878E" /><path d="M213.5 625.7C213 625 213 622.8 210.4 621.3C207.8 619.8 202.5 617.8 198.1 616.8C193.7 615.9 188.7 615.1 184 615.5C179.3 615.9 174.2 617.4 170 619.5C165.7 621.6 161.5 624.6 158.5 628C155.6 631.3 153.8 635.8 152.4 639.5C151 643.2 150.2 647.1 150.2 650.2C150.2 653.3 151 656.3 152.4 658.2C153.8 660.1 156.2 661.3 158.5 661.8C160.9 662.2 162.2 661.1 166.4 660.9C170.7 660.6 181.1 660.5 184 660.4C184.2 660.3 185 660.9 184.9 659.5C184.8 658.1 183.4 655 183.6 652C183.7 648.9 183.9 644.6 185.8 641.3C187.6 638 190 635 194.6 632.4C199.2 629.8 210.3 626.8 213.5 625.7Z" fill="#3F4F8C" /><path d="M213.5 625.7C218.7 624.6 220.7 624.8 226.2 625.7C231.7 626.7 240.9 628.6 246.4 631.5C252 634.4 256.4 639.1 259.6 643.1C262.8 647.1 264.4 651.3 265.8 655.5C267.1 659.8 267.8 665.2 267.5 668.4C267.2 671.7 266.1 673 264 675.1C262 677.3 258.3 679.9 255.2 681.3C252.1 682.7 248.5 683.7 245.5 683.6C242.6 683.4 240.1 682 237.6 680.4C235.1 678.9 233.1 675.5 230.6 674.2C228.1 673 226.2 672.5 222.7 672.9C219.2 673.2 213.3 676 209.5 676.4C205.7 676.9 202.8 676.7 199.8 675.5C196.9 674.4 194.1 671.9 191.9 669.8C189.7 667.6 188 665.6 186.7 662.6C185.3 659.7 183.7 655.5 183.6 652C183.4 648.4 183.9 644.6 185.8 641.3C187.6 638 190 635 194.6 632.4C199.2 629.8 208.2 626.8 213.5 625.7Z" fill="#BFDF2A" /></g>
<g stroke="#000" stroke-width="0.9" stroke-linejoin="round"><path d="M427.6 642.8C428.2 643.5 430.1 645.3 431.1 646.8C432.2 648.4 433.4 650 433.8 652.1C434.2 654.2 433.9 656.5 433.4 659.2C432.8 661.8 431.8 665.2 430.3 668C428.7 670.8 426.9 673.3 424.1 675.9C421.3 678.6 417.4 680.9 413.5 683.9C409.5 686.8 404.6 690.3 400.2 693.6C395.8 696.9 390.9 700.8 386.9 703.7C382.9 706.7 379.3 709.2 376.3 711.2C373.4 713.2 371.2 714.6 369.2 715.6C367.2 716.7 365.8 717.4 364.4 717.4C362.9 717.4 361.4 716.7 360.4 715.6C359.4 714.6 358.7 713.1 358.4 711.2C358.2 709.3 358.3 706.5 358.6 704.2C358.9 701.8 359.5 699.5 360.4 697.1C361.3 694.8 362.6 692 363.9 690C365.3 688.1 366.7 686.8 368.4 685.6C370 684.5 371.3 683.7 373.7 683C376 682.3 379.1 682.3 382.5 681.2C385.9 680.2 390 678.6 394 676.8C398 675 402.8 673 406.4 670.6C409.9 668.3 412.9 665.2 415.2 662.7C417.6 660.2 419.1 658 420.5 655.6C422 653.3 422.9 650.7 424.1 648.6C425.3 646.4 427 643.8 427.6 642.8Z" fill="#2F7A8E" /><path d="M369.2 679.5C368.7 678.3 366.3 678.1 364.8 677.7C363.3 677.3 362 677 360.4 677.3C358.8 677.5 356.9 678.4 355.1 679.5C353.3 680.6 351.1 682.1 349.8 683.9C348.5 685.6 348 687.4 347.1 690C346.2 692.7 345 696.8 344.5 699.8C344 702.7 343.7 705.3 344 707.7C344.3 710 345.4 712.4 346.2 713.9C347.1 715.4 348.2 716.3 349.3 716.7C350.5 717.1 352.1 716.6 353.3 716.1C354.5 715.5 355.7 714.7 356.4 713.4C357.2 712.2 357.4 710.6 357.7 708.6C358.1 706.6 358.2 703.7 358.6 701.5C359.1 699.3 359.5 697.3 360.4 695.3C361.3 693.4 362.7 691.8 363.9 690C365.2 688.3 367 686.5 367.9 684.8C368.8 683 369.8 680.6 369.2 679.5Z" fill="#22A085" /><path d="M342.7 627.5C344.9 625.8 347.1 626.3 348.9 626.2C350.7 626 351.4 625.1 353.3 626.6C355.2 628.1 357.7 630.9 360.4 635.3C363 639.7 365.4 648.8 369.2 653C373.1 657.2 381.3 658.5 383.4 660.6C385.5 662.6 382.7 663.6 381.6 665.4C380.6 667.3 379 669.9 377.2 671.6C375.4 673.3 373.1 674.8 371 675.6C368.9 676.3 367.3 676.3 364.8 676C362.3 675.7 358.8 674.4 356 673.8C353.2 673.2 350.5 672.6 348 672.5C345.5 672.4 343 672.6 340.9 673.4C338.9 674.1 337.3 675.6 335.6 676.9C334 678.2 333 680.3 331.2 681.3C329.4 682.3 326.8 682.9 325 683.1C323.2 683.3 322.8 683.4 320.6 682.6C318.4 681.9 314.4 680.6 311.8 678.6C309.1 676.6 306.1 673.1 304.7 670.6C303.3 668.1 302.9 665.2 303.4 663.7C303.8 662.1 305.2 662 307.3 661.5C309.5 660.9 313.5 660.8 316.2 660.6C318.8 660.4 321.4 660.6 323.2 660.1C325.1 659.6 326.1 659.1 327.2 657.5C328.3 655.9 329.1 652.8 329.9 650.4C330.7 648.1 331.1 645.7 332.1 643.4C333.1 641 333.9 639 335.6 636.3C337.4 633.7 340.5 629.2 342.7 627.5Z" fill="#BADC2D" /><path d="M303.4 663.7C303.8 662.3 305.2 662.2 307.3 661.9C309.5 661.6 313.2 661.8 316.2 661.9C319.1 662 322.9 662.1 325 662.3C327.2 662.6 328 662.4 329 663.2C330 664 330.7 665.5 331.2 667.2C331.7 668.9 332.1 671.5 332.1 673.4C332.1 675.3 331.9 677.3 331.2 678.7C330.5 680 329.4 680.6 327.7 681.3C325.9 682 322.8 682.9 320.6 682.6C318.4 682.3 316.5 680.8 314.4 679.5C312.3 678.3 309.8 676.8 308.2 675.1C306.6 673.5 305.5 671.8 304.7 669.8C303.9 667.9 302.9 665 303.4 663.7Z" fill="#44BF70" /><path d="M344.5 644.7C345.9 644.2 346.3 645.8 346.7 646C346.8 646.6 346.8 647.8 347.1 649.5C347.5 651.3 347.9 654.7 348.9 656.6C349.9 658.5 351.4 660.1 353.3 661C355.2 661.9 357.7 662 360.4 661.9C363 661.8 366.5 660.9 369.2 660.6C372 660.2 375.5 659.8 376.8 659.7C376.7 660.1 377 661.1 376.3 661.9C375.7 662.7 374.7 663.7 372.8 664.5C370.9 665.4 368.1 666.1 364.8 666.8C361.6 667.4 357 668.3 353.3 668.5C349.6 668.7 345.7 668.6 342.7 668.1C339.8 667.6 337.5 666.5 335.6 665.4C333.7 664.4 332.1 663.1 331.2 661.9C330.3 660.6 330 659.2 330.3 657.9C330.6 656.6 331.7 655.5 333 654C334.3 652.4 336.4 650.2 338.3 648.7C340.2 647.1 343.1 645.1 344.5 644.7Z" fill="#3DBC74" /><path d="M384.3 605.9C382.4 605.4 376 603.8 372.8 603.2C369.5 602.7 368.4 602.4 364.8 602.6C361.3 602.8 356.1 603.9 351.6 604.5C347 605.2 341.8 605.6 337.4 606.7C333 607.9 329.3 609.3 325 611.6C320.7 613.9 315.7 617.2 311.8 620.4C307.8 623.7 304.1 627.2 301.1 631C298.2 634.8 295.8 639.5 294.1 643.4C292.3 647.2 291.3 650.7 290.5 654C289.7 657.2 289.1 660.6 289.2 662.8C289.3 664.9 290.2 665.9 291.4 666.8C292.7 667.6 295.1 667.9 296.7 668.1C298.3 668.2 300 668.4 301.1 667.6C302.2 666.9 302.3 664.7 303.4 663.7C304.4 662.6 305.2 662 307.3 661.5C309.5 660.9 313.5 660.8 316.2 660.6C318.8 660.4 321.4 660.6 323.2 660.1C325.1 659.6 326.1 659.1 327.2 657.5C328.3 655.9 329.1 652.8 329.9 650.4C330.7 648.1 331.1 645.7 332.1 643.4C333.1 641 333.9 639 335.6 636.3C337.4 633.7 340.2 630.6 342.7 627.5C345.2 624.4 347.7 620.6 350.7 617.8C353.6 615 357.4 612.4 360.4 610.7C363.3 609 365.4 608.3 368.4 607.6C371.3 607 375.4 607 378.1 606.7C380.7 606.5 383.2 606 384.3 605.9Z" fill="#26878E" /><path d="M353.3 626.6C354.5 625.7 357.4 622.9 360.4 621.3C363.3 619.8 367.3 618.2 371 617.3C374.7 616.5 378.7 615.9 382.5 616C386.3 616.2 390.3 616.9 394 618.2C397.7 619.5 401.5 621.8 404.6 624C407.7 626.1 410.4 628.7 412.6 631C414.8 633.4 416.7 635.6 417.9 638.1C419.1 640.6 419.3 643.4 419.6 646C420 648.7 420.4 651.7 420.1 654C419.8 656.2 419.1 657.8 417.9 659.2C416.6 660.7 413.5 662.2 412.6 662.8C411.2 662.4 408.2 661 404.6 660.6C401.1 660.1 395.8 660.3 391.3 660.1C386.9 660 381.8 659.6 378.1 659.7C374.4 659.8 372.2 660.2 369.2 660.6C366.3 660.9 363 661.8 360.4 661.9C357.7 662 355.2 661.9 353.3 661C351.4 660.1 349.9 658.5 348.9 656.6C347.9 654.7 347.3 652 347.1 649.5C346.9 647 347.1 644.4 347.6 641.6C348 638.8 348.8 635.3 349.8 632.8C350.7 630.3 352.7 627.6 353.3 626.6Z" fill="#3F4F8C" /></g>
<g stroke="#000" stroke-width="1.1" stroke-linejoin="round"><clipPath id="cbl1"><path d="M1719.5 108.5C1719.1 109.3 1718.3 111.8 1717.1 113.1C1716 114.3 1716.1 115.8 1712.6 116.3C1709.1 116.8 1702.1 115.2 1696.4 115.8C1690.6 116.3 1684 118.3 1678.3 119.4C1672.6 120.4 1666.3 120.7 1662.1 122.1C1657.8 123.4 1655.1 125.1 1653 127.5C1650.9 129.9 1650 132.9 1649.4 136.5C1648.8 140.1 1649.7 145.7 1649.4 149.2C1649.1 152.6 1648.8 155.4 1647.6 157.3C1646.4 159.1 1644.6 159.6 1642.2 160.3C1639.8 161.1 1637.4 161.2 1633.2 161.8C1629 162.3 1622.3 162.4 1616.9 163.6C1611.5 164.8 1605 166.9 1600.7 169C1596.3 171.1 1592.9 173.5 1590.8 176.2C1588.7 178.9 1587.9 181.9 1588.1 185.3C1588.2 188.6 1589.7 192.8 1591.7 196.1C1593.6 199.4 1597.4 203 1599.8 205.1C1602.2 207.2 1605 208.1 1606.1 208.7C1606.9 210.8 1609.6 216.8 1610.6 221.4C1611.7 225.9 1612.7 230.7 1612.4 235.8C1612.1 240.9 1609.4 246.9 1608.8 252C1608.2 257.2 1608.4 262 1608.8 266.5C1609.3 271 1610 275.2 1611.5 279.1C1613 283 1614.8 286.3 1617.8 289.9C1620.8 293.6 1625.5 297.5 1629.6 300.8C1633.6 304.1 1639 307.4 1642.2 309.8C1645.4 312.2 1647.5 314.3 1648.5 315.2C1648.4 316.4 1647.8 321.2 1647.6 322.4C1648.8 323.6 1652.4 327.3 1654.8 329.7C1657.2 332.1 1660.4 335.1 1662.1 336.9C1663.7 338.7 1664.3 339.9 1664.8 340.5C1665.4 339.6 1666.1 338.1 1668.4 335.1C1670.6 332.1 1675.1 326.9 1678.3 322.4C1681.5 317.9 1684.8 312.2 1687.3 308C1689.9 303.8 1692.1 300.8 1693.6 297.2C1695.2 293.6 1695.3 290.5 1696.4 286.3C1697.4 282.1 1698.8 276.7 1700 271.9C1701.2 267.1 1702.4 262.3 1703.6 257.5C1704.8 252.6 1706 247.8 1707.2 243C1708.4 238.2 1710 232.5 1710.8 228.6C1711.5 224.7 1711.4 221.9 1711.7 219.5C1712 217.2 1712.4 215.3 1712.6 214.5C1713.7 214.5 1718.3 214.5 1719.5 214.5C1719.5 196.8 1719.5 126.2 1719.5 108.5Z"/></clipPath><clipPath id="cbr1"><path d="M1719.5 108.5C1719.8 109.3 1720.4 111.7 1721.6 113.1C1722.9 114.4 1723.7 116.5 1727 116.7C1730.3 116.8 1737.6 114.3 1741.5 114C1745.4 113.7 1746 113.7 1750.5 114.9C1755 116.1 1763.7 119.2 1768.6 121.2C1773.4 123.1 1776.5 124.9 1779.4 126.6C1782.2 128.2 1784.2 128.5 1785.7 131.1C1787.2 133.7 1787.7 138.3 1788.4 141.9C1789.2 145.5 1789 149.9 1790.2 152.8C1791.4 155.6 1793.2 157.6 1795.6 159.1C1798 160.6 1800.1 161 1804.7 161.8C1809.2 162.5 1817.3 162.8 1822.7 163.6C1828.1 164.3 1833.2 164.8 1837.1 166.3C1841.1 167.8 1843.9 169.8 1846.2 172.6C1848.4 175.5 1850.4 180.1 1850.7 183.4C1851 186.8 1850.2 188.6 1848 192.5C1845.7 196.4 1839.9 203 1837.1 206.9C1834.4 210.8 1832.6 214.4 1831.7 215.9C1831.1 216.2 1828.7 217.4 1828.1 217.7C1827.8 220.2 1826.5 227.1 1826.3 232.2C1826.2 237.3 1826.6 242.7 1827.2 248.4C1827.8 254.1 1829.5 261.1 1829.9 266.5C1830.4 271.9 1830.8 276.7 1829.9 280.9C1829 285.1 1827.5 288.4 1824.5 291.8C1821.5 295.1 1816.1 297.8 1811.9 300.8C1807.7 303.8 1802.3 307.5 1799.2 309.8C1796.2 312.1 1794.7 313.6 1793.8 314.3C1793.8 315.5 1793.8 320.3 1793.8 321.5C1792.5 322.1 1788.4 323.5 1785.7 325.1C1783 326.8 1779.5 329.2 1777.6 331.5C1775.6 333.7 1774.6 337.5 1774 338.7C1773.4 337.2 1772.8 333 1770.4 329.7C1768 326.3 1762.8 322.4 1759.5 318.8C1756.2 315.2 1753.2 312.2 1750.5 308C1747.8 303.8 1745.4 299 1743.3 293.6C1741.2 288.1 1739.7 281.5 1737.9 275.5C1736.1 269.5 1734 263.5 1732.5 257.5C1731 251.4 1729.7 245.4 1728.8 239.4C1727.9 233.4 1727.4 225.5 1727 221.4C1726.7 217.2 1726.7 215.6 1726.7 214.5C1725.5 214.5 1720.7 214.5 1719.5 214.5C1719.5 196.8 1719.5 126.2 1719.5 108.5Z"/></clipPath><g clip-path="url(#cbl1)"><path d="M1719.5 108.5C1719.1 109.3 1718.3 111.8 1717.1 113.1C1716 114.3 1716.1 115.8 1712.6 116.3C1709.1 116.8 1702.1 115.2 1696.4 115.8C1690.6 116.3 1684 118.3 1678.3 119.4C1672.6 120.4 1666.3 120.7 1662.1 122.1C1657.8 123.4 1655.1 125.1 1653 127.5C1650.9 129.9 1650 132.9 1649.4 136.5C1648.8 140.1 1649.7 145.7 1649.4 149.2C1649.1 152.6 1648.8 155.4 1647.6 157.3C1646.4 159.1 1644.6 159.6 1642.2 160.3C1639.8 161.1 1637.4 161.2 1633.2 161.8C1629 162.3 1622.3 162.4 1616.9 163.6C1611.5 164.8 1605 166.9 1600.7 169C1596.3 171.1 1592.9 173.5 1590.8 176.2C1588.7 178.9 1587.9 181.9 1588.1 185.3C1588.2 188.6 1589.7 192.8 1591.7 196.1C1593.6 199.4 1597.4 203 1599.8 205.1C1602.2 207.2 1605 208.1 1606.1 208.7C1606.9 210.8 1609.6 216.8 1610.6 221.4C1611.7 225.9 1612.7 230.7 1612.4 235.8C1612.1 240.9 1609.4 246.9 1608.8 252C1608.2 257.2 1608.4 262 1608.8 266.5C1609.3 271 1610 275.2 1611.5 279.1C1613 283 1614.8 286.3 1617.8 289.9C1620.8 293.6 1625.5 297.5 1629.6 300.8C1633.6 304.1 1639 307.4 1642.2 309.8C1645.4 312.2 1647.5 314.3 1648.5 315.2C1648.4 316.4 1647.8 321.2 1647.6 322.4C1648.8 323.6 1652.4 327.3 1654.8 329.7C1657.2 332.1 1660.4 335.1 1662.1 336.9C1663.7 338.7 1664.3 339.9 1664.8 340.5C1665.4 339.6 1666.1 338.1 1668.4 335.1C1670.6 332.1 1675.1 326.9 1678.3 322.4C1681.5 317.9 1684.8 312.2 1687.3 308C1689.9 303.8 1692.1 300.8 1693.6 297.2C1695.2 293.6 1695.3 290.5 1696.4 286.3C1697.4 282.1 1698.8 276.7 1700 271.9C1701.2 267.1 1702.4 262.3 1703.6 257.5C1704.8 252.6 1706 247.8 1707.2 243C1708.4 238.2 1710 232.5 1710.8 228.6C1711.5 224.7 1711.4 221.9 1711.7 219.5C1712 217.2 1712.4 215.3 1712.6 214.5C1713.7 214.5 1718.3 214.5 1719.5 214.5C1719.5 196.8 1719.5 126.2 1719.5 108.5Z" fill="#FFB3B3" stroke="none"/><path d="M1645.8 317.9C1648.2 315.4 1656 306.6 1660.3 302.6C1664.5 298.5 1667.5 295.5 1671.1 293.6C1674.7 291.6 1677.7 290.2 1681.9 290.8C1686.1 291.5 1693.9 296.4 1696.4 297.5L1732.5 296.3L1732.5 95L1570 95L1570 317.9Z" fill="#FFB6B6"/><path d="M1611.5 288.1C1612.6 287.5 1614.2 286.3 1617.8 284.5C1621.4 282.7 1628.2 278.8 1633.2 277.3C1638.1 275.8 1642.2 275.2 1647.6 275.5C1653 275.8 1659.4 277.8 1665.7 279.1C1672 280.5 1680 282.6 1685.5 283.6C1691.1 284.7 1696.8 285.1 1699.1 285.4L1732.5 285.4L1732.5 95L1570 95L1570 288.1Z" fill="#FFB3B3"/><path d="M1606.1 266.5C1606.7 266.2 1606.7 266.3 1609.7 264.7C1612.7 263 1619.3 258.4 1624.2 256.6C1629 254.7 1633.2 253.5 1638.6 253.8C1644 254.1 1650 256.3 1656.6 258.4C1663.3 260.5 1672.3 264.6 1678.3 266.5C1684.3 268.4 1689 270.3 1692.7 269.7C1696.5 269.1 1698.8 265.7 1700.9 262.9C1703 260.1 1704.6 254.6 1705.4 252.9L1732.5 253.8L1732.5 95L1570 95L1570 266.5Z" fill="#FFACAC"/><path d="M1606.1 244.8C1607.5 243.9 1611.2 240.8 1614.2 239.4C1617.2 238.1 1619.5 236.4 1624.2 236.7C1628.8 237 1635.6 239.6 1642.2 241.2C1648.8 242.9 1657.2 245.1 1663.9 246.6C1670.5 248.1 1676.8 249.5 1681.9 250.2C1687 251 1690.9 252.3 1694.5 251.1C1698.2 249.9 1701 246.9 1703.6 243C1706.1 239.1 1708.8 230.2 1709.9 227.7L1732.5 228.6L1732.5 95L1570 95L1570 244.8Z" fill="#FFBABA"/><path d="M1604.3 207.8C1607.6 208.7 1616.9 211.9 1624.2 213.2C1631.4 214.5 1639.8 215.6 1647.6 215.6C1655.4 215.6 1663.6 213.8 1671.1 213.2C1678.6 212.7 1686.7 212.2 1692.7 212.3C1698.8 212.5 1703.6 213.4 1707.2 214.1C1710.8 214.9 1713.2 216.4 1714.4 216.8L1732.5 216.3L1732.5 95L1570 95L1570 207.8Z" fill="#FFD1D1"/><path d="M1631.4 161.1C1634.7 163 1644.6 168.6 1651.2 172.6C1657.8 176.6 1664.2 181.3 1671.1 185.3C1678 189.2 1687 192.8 1692.7 196.1C1698.5 199.4 1701.9 201.9 1705.4 205.1C1708.9 208.4 1712.4 213.8 1713.9 215.6L1732.5 215.6L1732.5 95L1631.4 95Z" fill="#FFBDBD"/><path d="M1650.9 127.5C1654.2 129.3 1664.7 134.7 1671.1 138.3C1677.5 141.9 1683.7 145.2 1689.1 149.2C1694.5 153.1 1699.7 158 1703.6 161.8C1707.5 165.5 1709.9 170.1 1712.6 171.7C1715.3 173.4 1718.6 171.7 1719.8 171.7L1732.5 171.7L1732.5 95L1650.9 95Z" fill="#FFBFBF"/><path d="M1660.3 121.4C1663.9 122.5 1675.9 126 1681.9 128.4C1687.9 130.8 1692.4 132.8 1696.4 135.6C1700.3 138.5 1702.7 143.3 1705.4 145.5C1708.1 147.7 1710.2 148.2 1712.6 148.8C1715 149.4 1718.6 149.1 1719.8 149.2L1732.5 149.2L1732.5 95L1660.3 95Z" fill="#FFCFCF"/></g><path d="M1719.5 108.5C1719.1 109.3 1718.3 111.8 1717.1 113.1C1716 114.3 1716.1 115.8 1712.6 116.3C1709.1 116.8 1702.1 115.2 1696.4 115.8C1690.6 116.3 1684 118.3 1678.3 119.4C1672.6 120.4 1666.3 120.7 1662.1 122.1C1657.8 123.4 1655.1 125.1 1653 127.5C1650.9 129.9 1650 132.9 1649.4 136.5C1648.8 140.1 1649.7 145.7 1649.4 149.2C1649.1 152.6 1648.8 155.4 1647.6 157.3C1646.4 159.1 1644.6 159.6 1642.2 160.3C1639.8 161.1 1637.4 161.2 1633.2 161.8C1629 162.3 1622.3 162.4 1616.9 163.6C1611.5 164.8 1605 166.9 1600.7 169C1596.3 171.1 1592.9 173.5 1590.8 176.2C1588.7 178.9 1587.9 181.9 1588.1 185.3C1588.2 188.6 1589.7 192.8 1591.7 196.1C1593.6 199.4 1597.4 203 1599.8 205.1C1602.2 207.2 1605 208.1 1606.1 208.7C1606.9 210.8 1609.6 216.8 1610.6 221.4C1611.7 225.9 1612.7 230.7 1612.4 235.8C1612.1 240.9 1609.4 246.9 1608.8 252C1608.2 257.2 1608.4 262 1608.8 266.5C1609.3 271 1610 275.2 1611.5 279.1C1613 283 1614.8 286.3 1617.8 289.9C1620.8 293.6 1625.5 297.5 1629.6 300.8C1633.6 304.1 1639 307.4 1642.2 309.8C1645.4 312.2 1647.5 314.3 1648.5 315.2C1648.4 316.4 1647.8 321.2 1647.6 322.4C1648.8 323.6 1652.4 327.3 1654.8 329.7C1657.2 332.1 1660.4 335.1 1662.1 336.9C1663.7 338.7 1664.3 339.9 1664.8 340.5C1665.4 339.6 1666.1 338.1 1668.4 335.1C1670.6 332.1 1675.1 326.9 1678.3 322.4C1681.5 317.9 1684.8 312.2 1687.3 308C1689.9 303.8 1692.1 300.8 1693.6 297.2C1695.2 293.6 1695.3 290.5 1696.4 286.3C1697.4 282.1 1698.8 276.7 1700 271.9C1701.2 267.1 1702.4 262.3 1703.6 257.5C1704.8 252.6 1706 247.8 1707.2 243C1708.4 238.2 1710 232.5 1710.8 228.6C1711.5 224.7 1711.4 221.9 1711.7 219.5C1712 217.2 1712.4 215.3 1712.6 214.5C1713.7 214.5 1718.3 214.5 1719.5 214.5C1719.5 196.8 1719.5 126.2 1719.5 108.5Z" fill="none"/><g clip-path="url(#cbr1)"><path d="M1719.5 108.5C1719.8 109.3 1720.4 111.7 1721.6 113.1C1722.9 114.4 1723.7 116.5 1727 116.7C1730.3 116.8 1737.6 114.3 1741.5 114C1745.4 113.7 1746 113.7 1750.5 114.9C1755 116.1 1763.7 119.2 1768.6 121.2C1773.4 123.1 1776.5 124.9 1779.4 126.6C1782.2 128.2 1784.2 128.5 1785.7 131.1C1787.2 133.7 1787.7 138.3 1788.4 141.9C1789.2 145.5 1789 149.9 1790.2 152.8C1791.4 155.6 1793.2 157.6 1795.6 159.1C1798 160.6 1800.1 161 1804.7 161.8C1809.2 162.5 1817.3 162.8 1822.7 163.6C1828.1 164.3 1833.2 164.8 1837.1 166.3C1841.1 167.8 1843.9 169.8 1846.2 172.6C1848.4 175.5 1850.4 180.1 1850.7 183.4C1851 186.8 1850.2 188.6 1848 192.5C1845.7 196.4 1839.9 203 1837.1 206.9C1834.4 210.8 1832.6 214.4 1831.7 215.9C1831.1 216.2 1828.7 217.4 1828.1 217.7C1827.8 220.2 1826.5 227.1 1826.3 232.2C1826.2 237.3 1826.6 242.7 1827.2 248.4C1827.8 254.1 1829.5 261.1 1829.9 266.5C1830.4 271.9 1830.8 276.7 1829.9 280.9C1829 285.1 1827.5 288.4 1824.5 291.8C1821.5 295.1 1816.1 297.8 1811.9 300.8C1807.7 303.8 1802.3 307.5 1799.2 309.8C1796.2 312.1 1794.7 313.6 1793.8 314.3C1793.8 315.5 1793.8 320.3 1793.8 321.5C1792.5 322.1 1788.4 323.5 1785.7 325.1C1783 326.8 1779.5 329.2 1777.6 331.5C1775.6 333.7 1774.6 337.5 1774 338.7C1773.4 337.2 1772.8 333 1770.4 329.7C1768 326.3 1762.8 322.4 1759.5 318.8C1756.2 315.2 1753.2 312.2 1750.5 308C1747.8 303.8 1745.4 299 1743.3 293.6C1741.2 288.1 1739.7 281.5 1737.9 275.5C1736.1 269.5 1734 263.5 1732.5 257.5C1731 251.4 1729.7 245.4 1728.8 239.4C1727.9 233.4 1727.4 225.5 1727 221.4C1726.7 217.2 1726.7 215.6 1726.7 214.5C1725.5 214.5 1720.7 214.5 1719.5 214.5C1719.5 196.8 1719.5 126.2 1719.5 108.5Z" fill="#FF9F9F" stroke="none"/><path d="M1743.3 296.8C1745.7 296.1 1753.2 293 1757.7 292.7C1762.2 292.3 1766.1 292.8 1770.4 294.5C1774.6 296.1 1778.6 299.4 1783 302.6C1787.4 305.8 1794.3 311.9 1796.5 313.8L1876.9 313.8L1876.9 95L1696.4 95L1696.4 296.8Z" fill="#FFB8B8"/><path d="M1739.7 280.6C1743 281.1 1753.2 283.9 1759.5 283.6C1765.8 283.4 1771.6 279.9 1777.6 279.1C1783.6 278.4 1790.2 278.2 1795.6 279.1C1801 280 1805 282.1 1810.1 284.5C1815.2 286.9 1823.6 292.1 1826.3 293.6L1876.9 293.6L1876.9 95L1696.4 95L1696.4 280.6Z" fill="#FFB5B5"/><path d="M1733.4 264.7C1735.9 265.7 1743.1 270.4 1748.7 271C1754.3 271.6 1760.4 270.1 1766.8 268.3C1773.1 266.5 1780.6 261.8 1786.6 260.2C1792.6 258.5 1797.7 257.8 1802.9 258.4C1808 259 1813.4 260.9 1817.3 263.8C1821.2 266.6 1823.9 272 1826.3 275.5C1828.7 279 1830.8 283 1831.7 284.5L1876.9 284.5L1876.9 95L1696.4 95L1696.4 264.7Z" fill="#FFABAB"/><path d="M1725.2 235.8C1726.4 237.6 1729.4 243.9 1732.5 246.6C1735.5 249.3 1738.5 251.1 1743.3 252C1748.1 252.9 1754.7 253.5 1761.3 252C1768 250.5 1776.1 245.3 1783 243C1789.9 240.8 1797.7 239.1 1802.9 238.5C1808 237.9 1810.4 237.7 1813.7 239.4C1817 241.1 1820.2 243.9 1822.7 248.4C1825.3 252.9 1828 263.5 1829 266.5L1876.9 266.5L1876.9 95L1696.4 95L1696.4 235.8Z" fill="#FFAFAF"/><path d="M1724.3 216.3C1728.7 216.1 1740.1 215.5 1750.5 215C1760.9 214.5 1776.1 213.4 1786.6 213.2C1797.1 213.1 1806.8 213.5 1813.7 214.1C1820.6 214.7 1824.5 216.6 1828.1 216.8C1831.7 217.1 1834.1 215.8 1835.3 215.6L1876.9 215.9L1876.9 95L1696.4 95L1696.4 216.3Z" fill="#FFD0D0"/><path d="M1724.9 215.6C1726.1 213.9 1728.8 208.7 1732.5 205.5C1736.1 202.2 1740.9 199.5 1746.9 196.1C1752.9 192.7 1761.9 189.2 1768.6 185.3C1775.2 181.3 1781.5 176.8 1786.6 172.6C1791.7 168.5 1797.1 162.4 1799.2 160.3L1799.2 95L1696.4 95L1696.4 215.6Z" fill="#FFBDBD"/><path d="M1719.1 171.7C1720.6 172.2 1724.2 175.8 1727.9 174.4C1731.7 173.1 1736.2 168.1 1741.5 163.6C1746.7 159.1 1754.4 151.9 1759.5 147.3C1764.6 142.8 1768.6 139.9 1772.2 136.5C1775.8 133.1 1779.7 128.4 1781.2 126.8L1781.2 95L1696.4 95L1696.4 171.7Z" fill="#FFC0C0"/><path d="M1719.1 149.2C1720.7 148.9 1725.7 148.5 1728.8 147.3C1732 146.1 1734.3 144.2 1737.9 141.9C1741.5 139.7 1746 136.2 1750.5 133.8C1755 131.4 1760.7 129.3 1764.9 127.5C1769.2 125.7 1774 123.9 1775.8 123.2L1775.8 95L1696.4 95L1696.4 149.2Z" fill="#FFCFCF"/></g><path d="M1719.5 108.5C1719.8 109.3 1720.4 111.7 1721.6 113.1C1722.9 114.4 1723.7 116.5 1727 116.7C1730.3 116.8 1737.6 114.3 1741.5 114C1745.4 113.7 1746 113.7 1750.5 114.9C1755 116.1 1763.7 119.2 1768.6 121.2C1773.4 123.1 1776.5 124.9 1779.4 126.6C1782.2 128.2 1784.2 128.5 1785.7 131.1C1787.2 133.7 1787.7 138.3 1788.4 141.9C1789.2 145.5 1789 149.9 1790.2 152.8C1791.4 155.6 1793.2 157.6 1795.6 159.1C1798 160.6 1800.1 161 1804.7 161.8C1809.2 162.5 1817.3 162.8 1822.7 163.6C1828.1 164.3 1833.2 164.8 1837.1 166.3C1841.1 167.8 1843.9 169.8 1846.2 172.6C1848.4 175.5 1850.4 180.1 1850.7 183.4C1851 186.8 1850.2 188.6 1848 192.5C1845.7 196.4 1839.9 203 1837.1 206.9C1834.4 210.8 1832.6 214.4 1831.7 215.9C1831.1 216.2 1828.7 217.4 1828.1 217.7C1827.8 220.2 1826.5 227.1 1826.3 232.2C1826.2 237.3 1826.6 242.7 1827.2 248.4C1827.8 254.1 1829.5 261.1 1829.9 266.5C1830.4 271.9 1830.8 276.7 1829.9 280.9C1829 285.1 1827.5 288.4 1824.5 291.8C1821.5 295.1 1816.1 297.8 1811.9 300.8C1807.7 303.8 1802.3 307.5 1799.2 309.8C1796.2 312.1 1794.7 313.6 1793.8 314.3C1793.8 315.5 1793.8 320.3 1793.8 321.5C1792.5 322.1 1788.4 323.5 1785.7 325.1C1783 326.8 1779.5 329.2 1777.6 331.5C1775.6 333.7 1774.6 337.5 1774 338.7C1773.4 337.2 1772.8 333 1770.4 329.7C1768 326.3 1762.8 322.4 1759.5 318.8C1756.2 315.2 1753.2 312.2 1750.5 308C1747.8 303.8 1745.4 299 1743.3 293.6C1741.2 288.1 1739.7 281.5 1737.9 275.5C1736.1 269.5 1734 263.5 1732.5 257.5C1731 251.4 1729.7 245.4 1728.8 239.4C1727.9 233.4 1727.4 225.5 1727 221.4C1726.7 217.2 1726.7 215.6 1726.7 214.5C1725.5 214.5 1720.7 214.5 1719.5 214.5C1719.5 196.8 1719.5 126.2 1719.5 108.5Z" fill="none"/><path d="M1719.5 108.5L1719.5 170.8" fill="none"/><path d="M1711.7 175.3C1713 174.4 1718.2 170.8 1719.5 169.9C1720.9 170.9 1726.5 174.7 1727.9 175.7C1728.1 179.1 1729.1 190 1728.8 196.1C1728.5 202.1 1726.6 209.3 1726.1 212C1725.7 212.5 1723.9 214.8 1723.4 215.4C1722.2 215.4 1717.4 215.4 1716.2 215.4C1715.6 214.6 1713.2 211.6 1712.6 210.9C1712.4 205 1711.8 181.3 1711.7 175.3Z" fill="#FFB5B5" /><path d="M1717.1 216.8C1718 216.8 1721.6 216.8 1722.5 216.8C1722.3 219.3 1721.5 229.3 1721.3 231.8C1720.8 231.8 1718.9 231.8 1718.4 231.8C1718.2 229.3 1717.3 219.3 1717.1 216.8Z" fill="#FFA9A9" /><path d="M1716.2 232.2C1717.3 231.2 1719.8 231.7 1720.7 232.7C1721.7 233.8 1723 237.5 1722 238.5C1720.9 239.5 1715.4 239.9 1714.4 238.9C1713.4 237.8 1715.2 233.2 1716.2 232.2Z" fill="#F86666" /><path d="M1714.4 238.9C1715.7 238.8 1720.7 238.6 1722 238.5C1722.4 240.2 1723.5 244.4 1724.3 248.4C1725.2 252.5 1726.9 258.8 1727 262.9C1727.2 267 1725.5 271.3 1725.2 273C1723.4 273.1 1716.2 273.6 1714.4 273.7C1714 272.2 1712.5 268.9 1712.2 264.7C1711.9 260.5 1712.2 252.7 1712.6 248.4C1713 244.1 1714.1 240.5 1714.4 238.9Z" fill="#F76363" /><path d="M1714.4 273.7C1716.2 273.6 1723.4 273.2 1725.2 273.2C1725.8 274.6 1728.6 279 1728.5 281.8C1728.4 284.6 1725.2 288.6 1724.5 289.9C1723.1 289.9 1717.6 289.9 1716.2 289.9C1715.5 288.7 1712 285.4 1711.7 282.7C1711.4 280 1714 275.2 1714.4 273.7Z" fill="#F76363" /><path d="M1716.2 289.9C1717.6 289.9 1723.1 289.9 1724.5 289.9C1724 291.1 1722.3 293.9 1721.6 297.2C1721 300.5 1720.3 305.6 1720.7 309.8C1721.2 314 1723.9 319.3 1724.3 322.4C1724.8 325.6 1724.5 327.3 1723.4 328.8C1722.4 330.3 1719.7 331.5 1718 331.5C1716.4 331.5 1714.3 330.4 1713.5 328.8C1712.7 327.1 1713 324.7 1713.5 321.5C1714 318.4 1716.1 313.6 1716.6 309.8C1717.1 306 1716.6 302.3 1716.6 299C1716.5 295.7 1716.3 291.5 1716.2 289.9Z" fill="#F76363" /><path d="M1648 319.9C1646.4 319.3 1642.3 317.7 1638.6 316.1C1634.9 314.6 1629.1 311 1626 310.7C1622.8 310.4 1620.4 312.7 1619.6 314.3C1618.9 316 1619.8 318.6 1621.4 320.6C1623.1 322.6 1626.1 325.6 1629.6 326.4C1633 327.2 1639.1 325.7 1642.2 325.3C1645.3 325 1647.3 324.4 1648.3 324.2C1648.3 323.5 1648 320.6 1648 319.9Z" fill="#FFFAFA" /><path d="M1793.8 318.5C1795.3 318.1 1799.5 316.8 1802.9 316.1C1806.2 315.4 1810.7 313.9 1813.7 314.3C1816.7 314.8 1820.3 316.9 1820.9 318.8C1821.5 320.8 1819.1 324.5 1817.3 326C1815.5 327.6 1812.8 328 1810.1 327.9C1807.4 327.7 1803.8 326 1801 325.1C1798.3 324.2 1795 322.9 1793.8 322.4C1793.8 321.8 1793.8 319.1 1793.8 318.5Z" fill="#FFFFFF" /></g><g stroke="#000" stroke-width="0.9" stroke-linejoin="round"><clipPath id="cbl2"><path d="M200.6 992C200.3 992.5 199.7 994.3 198.9 995.2C198.1 996.1 198.1 997.2 195.7 997.5C193.2 997.8 188.2 996.7 184.1 997.1C180 997.5 175.3 998.9 171.3 999.7C167.2 1000.4 162.7 1000.6 159.7 1001.6C156.7 1002.5 154.8 1003.7 153.3 1005.4C151.8 1007.1 151.1 1009.2 150.7 1011.8C150.3 1014.3 150.9 1018.3 150.7 1020.7C150.5 1023.2 150.3 1025.1 149.4 1026.5C148.6 1027.8 147.3 1028.1 145.6 1028.6C143.8 1029.2 142.1 1029.3 139.1 1029.6C136.1 1030 131.4 1030.1 127.6 1030.9C123.7 1031.8 119.1 1033.3 116 1034.8C112.9 1036.2 110.4 1037.9 108.9 1039.9C107.4 1041.8 106.9 1043.9 107 1046.2C107.1 1048.6 108.2 1051.6 109.6 1053.9C111 1056.2 113.6 1058.8 115.4 1060.3C117.1 1061.8 119.1 1062.4 119.9 1062.8C120.4 1064.3 122.3 1068.6 123.1 1071.8C123.8 1075 124.6 1078.4 124.4 1082C124.1 1085.6 122.2 1089.8 121.8 1093.5C121.4 1097.1 121.5 1100.5 121.8 1103.7C122.1 1106.9 122.6 1109.8 123.7 1112.6C124.8 1115.4 126.1 1117.7 128.2 1120.3C130.3 1122.8 133.7 1125.6 136.6 1127.9C139.5 1130.3 143.3 1132.6 145.6 1134.3C147.8 1136 149.3 1137.5 150.1 1138.1C149.9 1139 149.5 1142.4 149.4 1143.2C150.3 1144.1 152.8 1146.6 154.6 1148.3C156.3 1150 158.5 1152.2 159.7 1153.4C160.9 1154.7 161.3 1155.6 161.6 1156C162.1 1155.4 162.6 1154.3 164.2 1152.2C165.8 1150 169 1146.4 171.3 1143.2C173.5 1140 175.9 1136 177.7 1133C179.5 1130 181.1 1127.9 182.2 1125.4C183.3 1122.8 183.4 1120.7 184.1 1117.7C184.9 1114.7 185.8 1110.9 186.7 1107.5C187.5 1104.1 188.4 1100.7 189.3 1097.3C190.1 1093.9 191 1090.5 191.8 1087.1C192.7 1083.7 193.9 1079.6 194.4 1076.9C194.9 1074.1 194.8 1072.1 195 1070.5C195.3 1068.8 195.6 1067.5 195.7 1066.9C196.5 1066.9 199.8 1066.9 200.6 1066.9C200.6 1054.4 200.6 1004.5 200.6 992Z"/></clipPath><clipPath id="cbr2"><path d="M200.6 992C200.8 992.5 201.2 994.2 202.1 995.2C203 996.1 203.6 997.6 206 997.7C208.3 997.8 213.5 996 216.2 995.8C219 995.6 219.5 995.6 222.7 996.5C225.9 997.3 232.1 999.6 235.5 1000.9C238.9 1002.3 241.2 1003.6 243.2 1004.8C245.3 1005.9 246.7 1006.1 247.7 1008C248.8 1009.8 249.1 1013.1 249.7 1015.6C250.2 1018.2 250.1 1021.2 250.9 1023.3C251.8 1025.3 253.1 1026.7 254.8 1027.7C256.5 1028.8 258 1029.1 261.2 1029.6C264.4 1030.2 270.2 1030.4 274.1 1030.9C277.9 1031.5 281.6 1031.8 284.4 1032.8C287.1 1033.9 289.2 1035.3 290.8 1037.3C292.4 1039.3 293.8 1042.6 294 1045C294.2 1047.3 293.7 1048.6 292.1 1051.3C290.5 1054.1 286.3 1058.8 284.4 1061.6C282.4 1064.3 281.1 1066.9 280.5 1067.9C280.1 1068.2 278.4 1069 277.9 1069.2C277.7 1070.9 276.8 1075.8 276.6 1079.4C276.5 1083 276.9 1086.9 277.3 1090.9C277.7 1095 278.9 1099.8 279.2 1103.7C279.5 1107.5 279.9 1110.9 279.2 1113.9C278.6 1116.9 277.5 1119.2 275.4 1121.5C273.2 1123.9 269.4 1125.8 266.4 1127.9C263.4 1130 259.5 1132.7 257.4 1134.3C255.2 1135.9 254.2 1137 253.5 1137.5C253.5 1138.3 253.5 1141.7 253.5 1142.6C252.6 1143 249.7 1144 247.7 1145.2C245.8 1146.3 243.3 1148 241.9 1149.6C240.6 1151.2 239.8 1153.9 239.4 1154.7C238.9 1153.7 238.5 1150.7 236.8 1148.3C235.1 1146 231.5 1143.2 229.1 1140.7C226.7 1138.1 224.6 1136 222.7 1133C220.7 1130 219 1126.6 217.5 1122.8C216 1119 215 1114.3 213.7 1110.1C212.4 1105.8 210.9 1101.5 209.8 1097.3C208.7 1093 207.9 1088.8 207.2 1084.5C206.6 1080.3 206.2 1074.7 206 1071.8C205.7 1068.8 205.7 1067.7 205.7 1066.9C204.8 1066.9 201.4 1066.9 200.6 1066.9C200.6 1054.4 200.6 1004.5 200.6 992Z"/></clipPath><g clip-path="url(#cbl2)"><path d="M200.6 992C200.3 992.5 199.7 994.3 198.9 995.2C198.1 996.1 198.1 997.2 195.7 997.5C193.2 997.8 188.2 996.7 184.1 997.1C180 997.5 175.3 998.9 171.3 999.7C167.2 1000.4 162.7 1000.6 159.7 1001.6C156.7 1002.5 154.8 1003.7 153.3 1005.4C151.8 1007.1 151.1 1009.2 150.7 1011.8C150.3 1014.3 150.9 1018.3 150.7 1020.7C150.5 1023.2 150.3 1025.1 149.4 1026.5C148.6 1027.8 147.3 1028.1 145.6 1028.6C143.8 1029.2 142.1 1029.3 139.1 1029.6C136.1 1030 131.4 1030.1 127.6 1030.9C123.7 1031.8 119.1 1033.3 116 1034.8C112.9 1036.2 110.4 1037.9 108.9 1039.9C107.4 1041.8 106.9 1043.9 107 1046.2C107.1 1048.6 108.2 1051.6 109.6 1053.9C111 1056.2 113.6 1058.8 115.4 1060.3C117.1 1061.8 119.1 1062.4 119.9 1062.8C120.4 1064.3 122.3 1068.6 123.1 1071.8C123.8 1075 124.6 1078.4 124.4 1082C124.1 1085.6 122.2 1089.8 121.8 1093.5C121.4 1097.1 121.5 1100.5 121.8 1103.7C122.1 1106.9 122.6 1109.8 123.7 1112.6C124.8 1115.4 126.1 1117.7 128.2 1120.3C130.3 1122.8 133.7 1125.6 136.6 1127.9C139.5 1130.3 143.3 1132.6 145.6 1134.3C147.8 1136 149.3 1137.5 150.1 1138.1C149.9 1139 149.5 1142.4 149.4 1143.2C150.3 1144.1 152.8 1146.6 154.6 1148.3C156.3 1150 158.5 1152.2 159.7 1153.4C160.9 1154.7 161.3 1155.6 161.6 1156C162.1 1155.4 162.6 1154.3 164.2 1152.2C165.8 1150 169 1146.4 171.3 1143.2C173.5 1140 175.9 1136 177.7 1133C179.5 1130 181.1 1127.9 182.2 1125.4C183.3 1122.8 183.4 1120.7 184.1 1117.7C184.9 1114.7 185.8 1110.9 186.7 1107.5C187.5 1104.1 188.4 1100.7 189.3 1097.3C190.1 1093.9 191 1090.5 191.8 1087.1C192.7 1083.7 193.9 1079.6 194.4 1076.9C194.9 1074.1 194.8 1072.1 195 1070.5C195.3 1068.8 195.6 1067.5 195.7 1066.9C196.5 1066.9 199.8 1066.9 200.6 1066.9C200.6 1054.4 200.6 1004.5 200.6 992Z" fill="#33638D" stroke="none"/><path d="M148.1 1140C149.8 1138.2 155.4 1132.1 158.4 1129.2C161.4 1126.3 163.5 1124.2 166.1 1122.8C168.7 1121.4 170.8 1120.4 173.8 1120.9C176.8 1121.4 182.4 1124.8 184.1 1125.6L209.8 1124.7L209.8 982.4L94.1 982.4L94.1 1140Z" fill="#33638D"/><path d="M123.7 1119C124.5 1118.6 125.6 1117.7 128.2 1116.4C130.8 1115.2 135.6 1112.4 139.1 1111.3C142.7 1110.3 145.6 1109.8 149.4 1110.1C153.3 1110.3 157.8 1111.6 162.3 1112.6C166.8 1113.6 172.4 1115.1 176.4 1115.8C180.4 1116.5 184.4 1116.9 186 1117.1L209.8 1117.1L209.8 982.4L94.1 982.4L94.1 1119Z" fill="#2D708E"/><path d="M119.9 1103.7C120.3 1103.5 120.3 1103.6 122.4 1102.4C124.6 1101.2 129.3 1097.9 132.7 1096.7C136.1 1095.4 139.1 1094.5 143 1094.7C146.8 1095 151.1 1096.4 155.8 1097.9C160.6 1099.4 167 1102.3 171.3 1103.7C175.5 1105 178.9 1106.4 181.5 1106C184.2 1105.5 185.8 1103.1 187.3 1101.1C188.8 1099.1 190 1095.3 190.5 1094.1L209.8 1094.7L209.8 982.4L94.1 982.4L94.1 1103.7Z" fill="#2A768E"/><path d="M119.9 1088.4C120.8 1087.7 123.5 1085.5 125.6 1084.5C127.8 1083.6 129.4 1082.4 132.7 1082.6C136 1082.8 140.8 1084.6 145.6 1085.8C150.3 1087 156.3 1088.6 161 1089.6C165.7 1090.7 170.2 1091.7 173.8 1092.2C177.5 1092.7 180.3 1093.7 182.8 1092.8C185.4 1092 187.4 1089.8 189.3 1087.1C191.1 1084.3 193 1078 193.8 1076.2L209.8 1076.9L209.8 982.4L94.1 982.4L94.1 1088.4Z" fill="#238A8D"/><path d="M118.6 1062.2C120.9 1062.8 127.6 1065.1 132.7 1066C137.8 1066.9 143.8 1067.7 149.4 1067.7C155 1067.7 160.8 1066.4 166.1 1066C171.5 1065.6 177.3 1065.3 181.5 1065.4C185.8 1065.5 189.3 1066.1 191.8 1066.7C194.4 1067.2 196.1 1068.3 197 1068.6L209.8 1068.2L209.8 982.4L94.1 982.4L94.1 1062.2Z" fill="#26AC82"/><path d="M137.8 1029.1C140.2 1030.5 147.3 1034.5 152 1037.3C156.7 1040.2 161.2 1043.5 166.1 1046.2C171 1049 177.5 1051.6 181.5 1053.9C185.6 1056.2 188 1058 190.5 1060.3C193 1062.6 195.6 1066.4 196.6 1067.7L209.8 1067.7L209.8 982.4L137.8 982.4Z" fill="#24A784"/><path d="M151.7 1005.4C154.1 1006.7 161.6 1010.5 166.1 1013.1C170.7 1015.6 175.1 1018 179 1020.7C182.8 1023.5 186.5 1027 189.3 1029.6C192 1032.3 193.8 1035.5 195.7 1036.7C197.6 1037.8 200 1036.7 200.8 1036.7L209.8 1036.7L209.8 982.4L151.7 982.4Z" fill="#26828E"/><path d="M158.4 1001.1C161 1001.9 169.5 1004.4 173.8 1006C178.1 1007.7 181.3 1009.1 184.1 1011.1C186.9 1013.2 188.6 1016.6 190.5 1018.2C192.5 1019.7 194 1020 195.7 1020.5C197.4 1020.9 200 1020.7 200.8 1020.7L209.8 1020.7L209.8 982.4L158.4 982.4Z" fill="#31688E"/></g><path d="M200.6 992C200.3 992.5 199.7 994.3 198.9 995.2C198.1 996.1 198.1 997.2 195.7 997.5C193.2 997.8 188.2 996.7 184.1 997.1C180 997.5 175.3 998.9 171.3 999.7C167.2 1000.4 162.7 1000.6 159.7 1001.6C156.7 1002.5 154.8 1003.7 153.3 1005.4C151.8 1007.1 151.1 1009.2 150.7 1011.8C150.3 1014.3 150.9 1018.3 150.7 1020.7C150.5 1023.2 150.3 1025.1 149.4 1026.5C148.6 1027.8 147.3 1028.1 145.6 1028.6C143.8 1029.2 142.1 1029.3 139.1 1029.6C136.1 1030 131.4 1030.1 127.6 1030.9C123.7 1031.8 119.1 1033.3 116 1034.8C112.9 1036.2 110.4 1037.9 108.9 1039.9C107.4 1041.8 106.9 1043.9 107 1046.2C107.1 1048.6 108.2 1051.6 109.6 1053.9C111 1056.2 113.6 1058.8 115.4 1060.3C117.1 1061.8 119.1 1062.4 119.9 1062.8C120.4 1064.3 122.3 1068.6 123.1 1071.8C123.8 1075 124.6 1078.4 124.4 1082C124.1 1085.6 122.2 1089.8 121.8 1093.5C121.4 1097.1 121.5 1100.5 121.8 1103.7C122.1 1106.9 122.6 1109.8 123.7 1112.6C124.8 1115.4 126.1 1117.7 128.2 1120.3C130.3 1122.8 133.7 1125.6 136.6 1127.9C139.5 1130.3 143.3 1132.6 145.6 1134.3C147.8 1136 149.3 1137.5 150.1 1138.1C149.9 1139 149.5 1142.4 149.4 1143.2C150.3 1144.1 152.8 1146.6 154.6 1148.3C156.3 1150 158.5 1152.2 159.7 1153.4C160.9 1154.7 161.3 1155.6 161.6 1156C162.1 1155.4 162.6 1154.3 164.2 1152.2C165.8 1150 169 1146.4 171.3 1143.2C173.5 1140 175.9 1136 177.7 1133C179.5 1130 181.1 1127.9 182.2 1125.4C183.3 1122.8 183.4 1120.7 184.1 1117.7C184.9 1114.7 185.8 1110.9 186.7 1107.5C187.5 1104.1 188.4 1100.7 189.3 1097.3C190.1 1093.9 191 1090.5 191.8 1087.1C192.7 1083.7 193.9 1079.6 194.4 1076.9C194.9 1074.1 194.8 1072.1 195 1070.5C195.3 1068.8 195.6 1067.5 195.7 1066.9C196.5 1066.9 199.8 1066.9 200.6 1066.9C200.6 1054.4 200.6 1004.5 200.6 992Z" fill="none"/><g clip-path="url(#cbr2)"><path d="M200.6 992C200.8 992.5 201.2 994.2 202.1 995.2C203 996.1 203.6 997.6 206 997.7C208.3 997.8 213.5 996 216.2 995.8C219 995.6 219.5 995.6 222.7 996.5C225.9 997.3 232.1 999.6 235.5 1000.9C238.9 1002.3 241.2 1003.6 243.2 1004.8C245.3 1005.9 246.7 1006.1 247.7 1008C248.8 1009.8 249.1 1013.1 249.7 1015.6C250.2 1018.2 250.1 1021.2 250.9 1023.3C251.8 1025.3 253.1 1026.7 254.8 1027.7C256.5 1028.8 258 1029.1 261.2 1029.6C264.4 1030.2 270.2 1030.4 274.1 1030.9C277.9 1031.5 281.6 1031.8 284.4 1032.8C287.1 1033.9 289.2 1035.3 290.8 1037.3C292.4 1039.3 293.8 1042.6 294 1045C294.2 1047.3 293.7 1048.6 292.1 1051.3C290.5 1054.1 286.3 1058.8 284.4 1061.6C282.4 1064.3 281.1 1066.9 280.5 1067.9C280.1 1068.2 278.4 1069 277.9 1069.2C277.7 1070.9 276.8 1075.8 276.6 1079.4C276.5 1083 276.9 1086.9 277.3 1090.9C277.7 1095 278.9 1099.8 279.2 1103.7C279.5 1107.5 279.9 1110.9 279.2 1113.9C278.6 1116.9 277.5 1119.2 275.4 1121.5C273.2 1123.9 269.4 1125.8 266.4 1127.9C263.4 1130 259.5 1132.7 257.4 1134.3C255.2 1135.9 254.2 1137 253.5 1137.5C253.5 1138.3 253.5 1141.7 253.5 1142.6C252.6 1143 249.7 1144 247.7 1145.2C245.8 1146.3 243.3 1148 241.9 1149.6C240.6 1151.2 239.8 1153.9 239.4 1154.7C238.9 1153.7 238.5 1150.7 236.8 1148.3C235.1 1146 231.5 1143.2 229.1 1140.7C226.7 1138.1 224.6 1136 222.7 1133C220.7 1130 219 1126.6 217.5 1122.8C216 1119 215 1114.3 213.7 1110.1C212.4 1105.8 210.9 1101.5 209.8 1097.3C208.7 1093 207.9 1088.8 207.2 1084.5C206.6 1080.3 206.2 1074.7 206 1071.8C205.7 1068.8 205.7 1067.7 205.7 1066.9C204.8 1066.9 201.4 1066.9 200.6 1066.9C200.6 1054.4 200.6 1004.5 200.6 992Z" fill="#3A558C" stroke="none"/><path d="M217.5 1125.1C219.2 1124.6 224.6 1122.5 227.8 1122.2C231 1121.9 233.8 1122.3 236.8 1123.5C239.8 1124.6 242.7 1126.9 245.8 1129.2C248.9 1131.5 253.8 1135.8 255.4 1137.1L312.6 1137.1L312.6 982.4L184.1 982.4L184.1 1125.1Z" fill="#32658E"/><path d="M215 1113.6C217.3 1114 224.6 1116 229.1 1115.8C233.6 1115.6 237.7 1113.1 241.9 1112.6C246.2 1112.1 250.9 1112 254.8 1112.6C258.7 1113.2 261.4 1114.7 265.1 1116.4C268.7 1118.1 274.7 1121.8 276.6 1122.8L312.6 1122.8L312.6 982.4L184.1 982.4L184.1 1113.6Z" fill="#2E6F8E"/><path d="M210.5 1102.4C212.3 1103.1 217.4 1106.4 221.4 1106.9C225.3 1107.3 229.7 1106.2 234.2 1104.9C238.7 1103.7 244.1 1100.4 248.4 1099.2C252.7 1098 256.3 1097.5 259.9 1097.9C263.6 1098.4 267.4 1099.7 270.2 1101.8C273 1103.8 274.9 1107.6 276.6 1110.1C278.4 1112.5 279.9 1115.4 280.5 1116.4L312.6 1116.4L312.6 982.4L184.1 982.4L184.1 1102.4Z" fill="#2A788E"/><path d="M204.7 1082C205.5 1083.3 207.7 1087.7 209.8 1089.6C212 1091.5 214.1 1092.8 217.5 1093.5C221 1094.1 225.7 1094.5 230.4 1093.5C235.1 1092.4 240.9 1088.7 245.8 1087.1C250.7 1085.5 256.3 1084.3 259.9 1083.9C263.6 1083.5 265.3 1083.4 267.7 1084.5C270 1085.7 272.3 1087.7 274.1 1090.9C275.9 1094.1 277.8 1101.5 278.6 1103.7L312.6 1103.7L312.6 982.4L184.1 982.4L184.1 1082Z" fill="#25858E"/><path d="M204 1068.2C207.1 1068 215.3 1067.7 222.7 1067.3C230.1 1066.9 240.9 1066.1 248.4 1066C255.9 1065.9 262.7 1066.2 267.7 1066.7C272.6 1067.1 275.4 1068.4 277.9 1068.6C280.5 1068.7 282.2 1067.8 283.1 1067.7L312.6 1067.9L312.6 982.4L184.1 982.4L184.1 1068.2Z" fill="#27AD81"/><path d="M204.4 1067.7C205.3 1066.5 207.2 1062.8 209.8 1060.5C212.4 1058.2 215.8 1056.3 220.1 1053.9C224.4 1051.5 230.8 1049 235.5 1046.2C240.2 1043.5 244.7 1040.2 248.4 1037.3C252 1034.4 255.9 1030.1 257.4 1028.6L257.4 982.4L184.1 982.4L184.1 1067.7Z" fill="#22A884"/><path d="M200.3 1036.7C201.4 1037 203.9 1039.5 206.6 1038.6C209.3 1037.6 212.5 1034.1 216.2 1030.9C220 1027.7 225.5 1022.6 229.1 1019.4C232.7 1016.2 235.5 1014.2 238.1 1011.8C240.7 1009.4 243.4 1006 244.5 1004.9L244.5 982.4L184.1 982.4L184.1 1036.7Z" fill="#26828E"/><path d="M200.3 1020.7C201.5 1020.5 205 1020.3 207.2 1019.4C209.5 1018.6 211.1 1017.2 213.7 1015.6C216.2 1014 219.5 1011.6 222.7 1009.9C225.9 1008.2 230 1006.7 233 1005.4C236 1004.1 239.4 1002.8 240.7 1002.3L240.7 982.4L184.1 982.4L184.1 1020.7Z" fill="#31688E"/></g><path d="M200.6 992C200.8 992.5 201.2 994.2 202.1 995.2C203 996.1 203.6 997.6 206 997.7C208.3 997.8 213.5 996 216.2 995.8C219 995.6 219.5 995.6 222.7 996.5C225.9 997.3 232.1 999.6 235.5 1000.9C238.9 1002.3 241.2 1003.6 243.2 1004.8C245.3 1005.9 246.7 1006.1 247.7 1008C248.8 1009.8 249.1 1013.1 249.7 1015.6C250.2 1018.2 250.1 1021.2 250.9 1023.3C251.8 1025.3 253.1 1026.7 254.8 1027.7C256.5 1028.8 258 1029.1 261.2 1029.6C264.4 1030.2 270.2 1030.4 274.1 1030.9C277.9 1031.5 281.6 1031.8 284.4 1032.8C287.1 1033.9 289.2 1035.3 290.8 1037.3C292.4 1039.3 293.8 1042.6 294 1045C294.2 1047.3 293.7 1048.6 292.1 1051.3C290.5 1054.1 286.3 1058.8 284.4 1061.6C282.4 1064.3 281.1 1066.9 280.5 1067.9C280.1 1068.2 278.4 1069 277.9 1069.2C277.7 1070.9 276.8 1075.8 276.6 1079.4C276.5 1083 276.9 1086.9 277.3 1090.9C277.7 1095 278.9 1099.8 279.2 1103.7C279.5 1107.5 279.9 1110.9 279.2 1113.9C278.6 1116.9 277.5 1119.2 275.4 1121.5C273.2 1123.9 269.4 1125.8 266.4 1127.9C263.4 1130 259.5 1132.7 257.4 1134.3C255.2 1135.9 254.2 1137 253.5 1137.5C253.5 1138.3 253.5 1141.7 253.5 1142.6C252.6 1143 249.7 1144 247.7 1145.2C245.8 1146.3 243.3 1148 241.9 1149.6C240.6 1151.2 239.8 1153.9 239.4 1154.7C238.9 1153.7 238.5 1150.7 236.8 1148.3C235.1 1146 231.5 1143.2 229.1 1140.7C226.7 1138.1 224.6 1136 222.7 1133C220.7 1130 219 1126.6 217.5 1122.8C216 1119 215 1114.3 213.7 1110.1C212.4 1105.8 210.9 1101.5 209.8 1097.3C208.7 1093 207.9 1088.8 207.2 1084.5C206.6 1080.3 206.2 1074.7 206 1071.8C205.7 1068.8 205.7 1067.7 205.7 1066.9C204.8 1066.9 201.4 1066.9 200.6 1066.9C200.6 1054.4 200.6 1004.5 200.6 992Z" fill="none"/><path d="M200.6 992L200.6 1036" fill="none"/><path d="M195 1039.2C196 1038.6 199.6 1036 200.6 1035.4C201.6 1036.1 205.6 1038.8 206.6 1039.5C206.7 1041.9 207.5 1049.6 207.2 1053.9C207 1058.2 205.6 1063.3 205.3 1065.1C205 1065.5 203.7 1067.2 203.4 1067.6C202.5 1067.6 199.1 1067.6 198.3 1067.6C197.8 1067 196.1 1064.9 195.7 1064.4C195.6 1060.2 195.1 1043.4 195 1039.2Z" fill="#2C738E" /><path d="M198.9 1068.6C199.5 1068.6 202.1 1068.6 202.7 1068.6C202.6 1070.3 202 1077.4 201.8 1079.2C201.5 1079.2 200.1 1079.2 199.8 1079.2C199.6 1077.4 199 1070.3 198.9 1068.6Z" fill="#2A788E" /><path d="M198.3 1079.4C199 1078.7 200.8 1079.1 201.5 1079.8C202.1 1080.6 203.1 1083.2 202.4 1083.9C201.6 1084.6 197.7 1084.9 197 1084.1C196.3 1083.4 197.5 1080.1 198.3 1079.4Z" fill="#2F6C8E" /><path d="M197 1084.1C197.9 1084.1 201.5 1083.9 202.4 1083.9C202.6 1085.1 203.4 1088 204 1090.9C204.6 1093.8 205.9 1098.2 206 1101.1C206.1 1104 204.9 1107.1 204.7 1108.3C203.4 1108.4 198.3 1108.7 197 1108.8C196.7 1107.7 195.6 1105.4 195.4 1102.4C195.2 1099.4 195.4 1094 195.7 1090.9C195.9 1087.9 196.8 1085.3 197 1084.1Z" fill="#2F6C8E" /><path d="M197 1108.8C198.3 1108.7 203.4 1108.5 204.7 1108.4C205.1 1109.4 207.1 1112.5 207 1114.5C206.9 1116.5 204.6 1119.3 204.2 1120.3C203.2 1120.3 199.2 1120.3 198.3 1120.3C197.7 1119.4 195.3 1117.1 195 1115.2C194.8 1113.2 196.6 1109.8 197 1108.8Z" fill="#2F6C8E" /><path d="M198.3 1120.3C199.2 1120.3 203.2 1120.3 204.2 1120.3C203.8 1121.1 202.6 1123 202.1 1125.4C201.7 1127.7 201.1 1131.3 201.5 1134.3C201.8 1137.3 203.7 1141 204 1143.2C204.4 1145.5 204.1 1146.6 203.4 1147.7C202.6 1148.8 200.7 1149.6 199.5 1149.6C198.4 1149.6 196.9 1148.9 196.3 1147.7C195.8 1146.5 196 1144.8 196.3 1142.6C196.7 1140.4 198.1 1137 198.5 1134.3C198.9 1131.6 198.6 1129 198.5 1126.6C198.5 1124.3 198.3 1121.3 198.3 1120.3Z" fill="#2F6C8E" /><path d="M149.7 1141.5C148.6 1141 145.6 1139.9 143 1138.8C140.4 1137.7 136.2 1135.2 134 1134.9C131.7 1134.7 130 1136.3 129.5 1137.5C129 1138.7 129.6 1140.5 130.8 1142C132 1143.4 134.1 1145.5 136.6 1146C139 1146.6 143.3 1145.5 145.6 1145.3C147.8 1145 149.2 1144.6 149.9 1144.5C149.9 1144 149.7 1142 149.7 1141.5Z" fill="#46327E" /><path d="M253.5 1140.4C254.6 1140.2 257.6 1139.3 259.9 1138.8C262.3 1138.3 265.5 1137.2 267.7 1137.5C269.8 1137.8 272.4 1139.3 272.8 1140.7C273.2 1142.1 271.5 1144.7 270.2 1145.8C268.9 1146.9 267 1147.2 265.1 1147.1C263.2 1147 260.6 1145.8 258.7 1145.2C256.7 1144.5 254.4 1143.6 253.5 1143.2C253.5 1142.8 253.5 1140.9 253.5 1140.4Z" fill="#453781" /></g>
<defs><filter id="b5" x="-50%" y="-50%" width="200%" height="200%"><feGaussianBlur stdDeviation="5"/></filter><filter id="b3" x="-50%" y="-50%" width="200%" height="200%"><feGaussianBlur stdDeviation="3.2"/></filter><filter id="b8" x="-50%" y="-50%" width="200%" height="200%"><feGaussianBlur stdDeviation="8"/></filter><filter id="b1" x="-5%" y="-5%" width="110%" height="110%"><feGaussianBlur stdDeviation="0.9"/></filter><clipPath id="ccor"><path d="M867.6 344.5C869.8 343.8 873 342.9 875.4 342.3C877.8 341.7 879.9 341.2 882.1 341.2C884.4 341.2 887 341.7 888.8 342.3C890.7 342.9 891.8 344.5 893.3 344.5C894.8 344.5 896.1 342.9 897.8 342.3C899.5 341.7 901.3 341.1 903.4 341C905.4 340.9 907.9 341.3 910.1 341.7C912.3 342.2 914.8 342.6 916.8 343.4C918.9 344.3 920 345.5 922.4 346.8C924.8 348.1 928.8 349.8 931.4 351.3C934 352.8 935.5 353.5 938.1 355.7C940.7 358 944.2 361.3 947 364.7C949.8 368 952.4 372.3 954.9 375.9C957.3 379.4 960 382.4 961.6 385.9C963.2 389.5 964.1 393.4 964.4 397.1C964.7 400.9 963.9 404.6 963.3 408.3C962.6 412.1 960.8 416.2 960.5 419.5C960.1 422.9 961.2 424.7 961 428.5C960.8 432.2 959.8 437.8 959.3 441.9C958.9 446 959 449.3 958.2 453.1C957.5 456.8 956.7 461.2 954.9 464.3C953 467.3 950.2 469.9 947 471.5C943.9 473.2 939.6 473.9 935.8 474.3C932.1 474.8 927.6 474.7 924.7 474.3C921.7 474 919.3 473.8 917.9 472.1C916.5 470.4 916.5 466.9 916.3 464.3C916 461.7 917.3 458.7 916.3 456.4C915.2 454.2 912.4 452.3 910.1 450.8C907.8 449.3 904.9 448.7 902.3 447.5C899.7 446.3 897.1 443.6 894.4 443.6C891.8 443.6 889.4 446.3 886.6 447.5C883.8 448.7 880.1 449.3 877.7 450.8C875.2 452.3 872.8 454.2 872.1 456.4C871.3 458.7 873.4 461.7 873.2 464.3C873 466.9 872.6 470.4 870.9 472.1C869.3 473.8 866.3 474.1 863.1 474.3C859.9 474.6 855.7 474.5 851.9 473.8C848.2 473 843.7 471.8 840.7 469.9C837.8 467.9 835.5 465.2 834 462C832.5 458.9 832.4 455.1 831.8 450.8C831.1 446.6 830.9 440.6 830.1 436.3C829.4 432 828.2 429.8 827.3 425.1C826.4 420.4 824.9 413.4 824.5 408.3C824.1 403.3 824.4 399.4 825.1 394.9C825.7 390.4 826.7 385.8 828.4 381.5C830.1 377.2 832.5 373.1 835.1 369.2C837.8 365.2 840.9 361 844.1 358C847.3 355 851.2 353.1 854.2 351.3C857.1 349.4 859.8 347.9 862 346.8C864.2 345.7 865.3 345.3 867.6 344.5Z"/></clipPath><clipPath id="csag"><path d="M1014.7 474.1C1011.4 473 1006.6 471 1003.1 468.3C999.7 465.6 996.4 461.5 993.9 457.9C991.4 454.2 989.4 450 988.1 446.3C986.9 442.7 987.5 438.8 986.4 435.9C985.2 433 982.8 432.1 981.2 429C979.5 425.9 977.5 421.3 976.6 417.4C975.6 413.6 975 409.7 975.4 405.9C975.8 402 977.3 398.2 978.9 394.3C980.4 390.5 982.7 386.6 984.6 382.8C986.6 378.9 988.1 375.1 990.4 371.2C992.7 367.4 995.4 363.1 998.5 359.7C1001.6 356.2 1005.3 353 1008.9 350.4C1012.6 347.8 1016.6 345.6 1020.5 344.1C1024.3 342.5 1028.6 342 1032 341.2C1035.5 340.3 1038.2 339.1 1041.3 338.9C1044.3 338.7 1047.8 340.1 1050.5 340C1053.2 339.9 1054.9 338.1 1057.4 338.3C1059.9 338.5 1062.6 340.1 1065.5 341.2C1068.4 342.2 1071.3 343.3 1074.8 344.6C1078.2 346 1082.5 347.5 1086.3 349.3C1090.2 351 1094 352.9 1097.9 355C1101.7 357.2 1105.8 359.3 1109.4 362C1113.1 364.7 1116.6 367.9 1119.8 371.2C1123.1 374.5 1126.4 378.2 1129.1 381.6C1131.8 385.1 1134.1 388.4 1136 392C1137.9 395.7 1139.7 400.1 1140.6 403.6C1141.6 407 1142 409.7 1141.8 412.8C1141.6 415.9 1140.8 419.6 1139.5 422.1C1138.1 424.6 1136.2 426.3 1133.7 427.8C1131.2 429.4 1127.9 430.2 1124.5 431.3C1121 432.5 1116.8 433.5 1112.9 434.8C1109.1 436 1104.2 437.7 1101.4 438.8C1098.5 440 1096.3 440.3 1095.6 441.7C1094.8 443.2 1096.7 445.4 1096.7 447.5C1096.7 449.6 1096.7 452.5 1095.6 454.4C1094.4 456.3 1092.3 457.7 1089.8 459C1087.3 460.4 1083.2 461.8 1080.6 462.5C1077.9 463.2 1075.9 463.7 1073.6 463.1C1071.3 462.5 1068.8 460.9 1066.7 459C1064.6 457.2 1062.8 454.4 1060.9 452.1C1059 449.8 1057.1 446.5 1055.1 445.2C1053.2 443.8 1051.1 443.2 1049.4 444C1047.6 444.8 1046.3 447.5 1044.7 449.8C1043.2 452.1 1041.3 455.2 1040.1 457.9C1039 460.6 1039.1 463.7 1037.8 466C1036.5 468.3 1034.5 470.3 1032 471.8C1029.5 473.2 1025.7 474.3 1022.8 474.6C1019.9 475 1018 475.1 1014.7 474.1Z"/></clipPath></defs><g filter="url(#b1)"><g clip-path="url(#ccor)"><rect x="815" y="335" width="160" height="150" fill="#2FA67B"/><ellipse cx="894" cy="412" rx="66" ry="52" fill="#2A9480" opacity="0.55" transform="rotate(0 894 412)" filter="url(#b8)"/><ellipse cx="868" cy="390" rx="19" ry="24" fill="#2C7F8C" opacity="0.95" transform="rotate(20 868 390)" filter="url(#b5)"/><ellipse cx="920" cy="390" rx="19" ry="24" fill="#2C7F8C" opacity="0.95" transform="rotate(-20 920 390)" filter="url(#b5)"/><ellipse cx="894" cy="409" rx="14" ry="18" fill="#2F768D" opacity="0.9" transform="rotate(0 894 409)" filter="url(#b5)"/><ellipse cx="868.4" cy="390.4" rx="10" ry="16.4" fill="#432D78" opacity="1" transform="rotate(25 868.4 390.4)" filter="url(#b3)"/><ellipse cx="918.6" cy="390.4" rx="10" ry="16.4" fill="#432D78" opacity="1" transform="rotate(-25 918.6 390.4)" filter="url(#b3)"/><ellipse cx="894" cy="409" rx="5.6" ry="10.4" fill="#433A82" opacity="1" transform="rotate(0 894 409)" filter="url(#b3)"/><ellipse cx="894" cy="378" rx="8" ry="11" fill="#4CC06C" opacity="0.9" transform="rotate(0 894 378)" filter="url(#b5)"/><ellipse cx="868" cy="426" rx="7.6" ry="9" fill="#F4E41F" opacity="1" transform="rotate(-20 868 426)" filter="url(#b3)"/><ellipse cx="918" cy="427" rx="6.8" ry="9.6" fill="#D8E028" opacity="1" transform="rotate(20 918 427)" filter="url(#b3)"/><ellipse cx="844" cy="425" rx="16" ry="5.6" fill="#8FD444" opacity="0.9" transform="rotate(-5 844 425)" filter="url(#b5)"/><ellipse cx="938" cy="422" rx="12" ry="5.2" fill="#6CCB5A" opacity="0.85" transform="rotate(5 938 422)" filter="url(#b5)"/><ellipse cx="836" cy="384" rx="5" ry="16" fill="#5FC761" opacity="0.6" transform="rotate(15 836 384)" filter="url(#b5)"/><ellipse cx="954" cy="396" rx="4.4" ry="18" fill="#5FC761" opacity="0.6" transform="rotate(-5 954 396)" filter="url(#b5)"/><ellipse cx="846" cy="464.4" rx="12" ry="4.4" fill="#A5DA37" opacity="0.9" transform="rotate(20 846 464.4)" filter="url(#b3)"/><ellipse cx="938" cy="466" rx="12" ry="4" fill="#A5DA37" opacity="0.9" transform="rotate(-20 938 466)" filter="url(#b3)"/><ellipse cx="854" cy="448" rx="11" ry="11" fill="#2C8A86" opacity="0.8" transform="rotate(0 854 448)" filter="url(#b5)"/><ellipse cx="934" cy="446" rx="11" ry="11" fill="#2C8A86" opacity="0.8" transform="rotate(0 934 446)" filter="url(#b5)"/><path d="M867.6 344.5C869.8 343.8 873 342.9 875.4 342.3C877.8 341.7 879.9 341.2 882.1 341.2C884.4 341.2 887 341.7 888.8 342.3C890.7 342.9 891.8 344.5 893.3 344.5C894.8 344.5 896.1 342.9 897.8 342.3C899.5 341.7 901.3 341.1 903.4 341C905.4 340.9 907.9 341.3 910.1 341.7C912.3 342.2 914.8 342.6 916.8 343.4C918.9 344.3 920 345.5 922.4 346.8C924.8 348.1 928.8 349.8 931.4 351.3C934 352.8 935.5 353.5 938.1 355.7C940.7 358 944.2 361.3 947 364.7C949.8 368 952.4 372.3 954.9 375.9C957.3 379.4 960 382.4 961.6 385.9C963.2 389.5 964.1 393.4 964.4 397.1C964.7 400.9 963.9 404.6 963.3 408.3C962.6 412.1 960.8 416.2 960.5 419.5C960.1 422.9 961.2 424.7 961 428.5C960.8 432.2 959.8 437.8 959.3 441.9C958.9 446 959 449.3 958.2 453.1C957.5 456.8 956.7 461.2 954.9 464.3C953 467.3 950.2 469.9 947 471.5C943.9 473.2 939.6 473.9 935.8 474.3C932.1 474.8 927.6 474.7 924.7 474.3C921.7 474 919.3 473.8 917.9 472.1C916.5 470.4 916.5 466.9 916.3 464.3C916 461.7 917.3 458.7 916.3 456.4C915.2 454.2 912.4 452.3 910.1 450.8C907.8 449.3 904.9 448.7 902.3 447.5C899.7 446.3 897.1 443.6 894.4 443.6C891.8 443.6 889.4 446.3 886.6 447.5C883.8 448.7 880.1 449.3 877.7 450.8C875.2 452.3 872.8 454.2 872.1 456.4C871.3 458.7 873.4 461.7 873.2 464.3C873 466.9 872.6 470.4 870.9 472.1C869.3 473.8 866.3 474.1 863.1 474.3C859.9 474.6 855.7 474.5 851.9 473.8C848.2 473 843.7 471.8 840.7 469.9C837.8 467.9 835.5 465.2 834 462C832.5 458.9 832.4 455.1 831.8 450.8C831.1 446.6 830.9 440.6 830.1 436.3C829.4 432 828.2 429.8 827.3 425.1C826.4 420.4 824.9 413.4 824.5 408.3C824.1 403.3 824.4 399.4 825.1 394.9C825.7 390.4 826.7 385.8 828.4 381.5C830.1 377.2 832.5 373.1 835.1 369.2C837.8 365.2 840.9 361 844.1 358C847.3 355 851.2 353.1 854.2 351.3C857.1 349.4 859.8 347.9 862 346.8C864.2 345.7 865.3 345.3 867.6 344.5Z" fill="none" stroke="#34618D" stroke-width="3.2" opacity="0.85" filter="url(#b1)"/></g></g><g filter="url(#b1)"><g clip-path="url(#csag)"><rect x="970" y="330" width="180" height="150" fill="#2FA67B"/><ellipse cx="1040" cy="428" rx="66" ry="52" fill="#2B9282" opacity="0.6" transform="rotate(0 1040 428)" filter="url(#b8)"/><path d="M1022.8 389.7C1023.5 386.4 1026.2 383.2 1029.7 380.5C1033.2 377.8 1039 375.1 1043.6 373.5C1048.2 372 1052.6 371 1057.4 371.2C1062.3 371.4 1067.5 372.8 1072.5 374.7C1077.5 376.6 1082.5 379.7 1087.5 382.8C1092.5 385.9 1098.1 389.5 1102.5 393.2C1106.9 396.8 1111.4 401.5 1114.1 404.7C1116.8 408 1118.7 410.7 1118.7 412.8C1118.7 414.9 1116 417.1 1114.1 417.4C1112.1 417.8 1110 416.9 1107.1 415.1C1104.2 413.4 1100.8 409.7 1096.7 407C1092.7 404.3 1087.5 401.3 1082.9 399C1078.2 396.6 1073.4 394.5 1069 393.2C1064.6 391.8 1059.8 390.9 1056.3 390.9C1052.8 390.9 1050.1 391.6 1048.2 393.2C1046.3 394.7 1045.9 397.6 1044.7 400.1C1043.6 402.6 1042.8 406.3 1041.3 408.2C1039.7 410.1 1037.4 411.7 1035.5 411.7C1033.6 411.7 1031.4 410.1 1029.7 408.2C1028 406.3 1026.2 403.2 1025.1 400.1C1023.9 397 1022 393 1022.8 389.7Z" fill="#2E6F8E" stroke="#2E6F8E" stroke-width="13" stroke-linejoin="round" filter="url(#b5)"/><ellipse cx="1006" cy="409" rx="12" ry="11" fill="#31688E" opacity="0.95" transform="rotate(0 1006 409)" filter="url(#b5)"/><ellipse cx="1026" cy="453" rx="16" ry="8" fill="#33638D" opacity="0.9" transform="rotate(0 1026 453)" filter="url(#b5)"/><ellipse cx="1056" cy="422" rx="12" ry="12" fill="#2C7F8C" opacity="0.8" transform="rotate(0 1056 422)" filter="url(#b5)"/><path d="M1022.8 389.7C1023.5 386.4 1026.2 383.2 1029.7 380.5C1033.2 377.8 1039 375.1 1043.6 373.5C1048.2 372 1052.6 371 1057.4 371.2C1062.3 371.4 1067.5 372.8 1072.5 374.7C1077.5 376.6 1082.5 379.7 1087.5 382.8C1092.5 385.9 1098.1 389.5 1102.5 393.2C1106.9 396.8 1111.4 401.5 1114.1 404.7C1116.8 408 1118.7 410.7 1118.7 412.8C1118.7 414.9 1116 417.1 1114.1 417.4C1112.1 417.8 1110 416.9 1107.1 415.1C1104.2 413.4 1100.8 409.7 1096.7 407C1092.7 404.3 1087.5 401.3 1082.9 399C1078.2 396.6 1073.4 394.5 1069 393.2C1064.6 391.8 1059.8 390.9 1056.3 390.9C1052.8 390.9 1050.1 391.6 1048.2 393.2C1046.3 394.7 1045.9 397.6 1044.7 400.1C1043.6 402.6 1042.8 406.3 1041.3 408.2C1039.7 410.1 1037.4 411.7 1035.5 411.7C1033.6 411.7 1031.4 410.1 1029.7 408.2C1028 406.3 1026.2 403.2 1025.1 400.1C1023.9 397 1022 393 1022.8 389.7Z" fill="#45307B" filter="url(#b3)"/><ellipse cx="1038" cy="391" rx="21" ry="12.4" fill="#440F5E" opacity="0.95" transform="rotate(-25 1038 391)" filter="url(#b3)"/><ellipse cx="1033.6" cy="400" rx="10" ry="15" fill="#440F5E" opacity="0.9" transform="rotate(5 1033.6 400)" filter="url(#b3)"/><ellipse cx="1006" cy="409" rx="5" ry="5" fill="#3D4A89" opacity="1" transform="rotate(0 1006 409)" filter="url(#b3)"/><ellipse cx="1076" cy="415.4" rx="10.4" ry="6" fill="#FDE725" opacity="1" transform="rotate(8 1076 415.4)" filter="url(#b3)"/><ellipse cx="1076" cy="415.4" rx="17" ry="11" fill="#7AD151" opacity="0.55" transform="rotate(8 1076 415.4)" filter="url(#b5)"/><ellipse cx="1076" cy="415.4" rx="8" ry="4.4" fill="#FDE725" opacity="1" transform="rotate(8 1076 415.4)" filter="url(#b3)"/><ellipse cx="1113" cy="373" rx="22" ry="6" fill="#8ED645" opacity="0.9" transform="rotate(38 1113 373)" filter="url(#b5)"/><ellipse cx="1134.4" cy="421" rx="4.4" ry="10" fill="#C5E021" opacity="0.95" transform="rotate(15 1134.4 421)" filter="url(#b3)"/><ellipse cx="1000" cy="366" rx="18" ry="5.6" fill="#46BE70" opacity="0.6" transform="rotate(-45 1000 366)" filter="url(#b5)"/><path d="M1014.7 474.1C1011.4 473 1006.6 471 1003.1 468.3C999.7 465.6 996.4 461.5 993.9 457.9C991.4 454.2 989.4 450 988.1 446.3C986.9 442.7 987.5 438.8 986.4 435.9C985.2 433 982.8 432.1 981.2 429C979.5 425.9 977.5 421.3 976.6 417.4C975.6 413.6 975 409.7 975.4 405.9C975.8 402 977.3 398.2 978.9 394.3C980.4 390.5 982.7 386.6 984.6 382.8C986.6 378.9 988.1 375.1 990.4 371.2C992.7 367.4 995.4 363.1 998.5 359.7C1001.6 356.2 1005.3 353 1008.9 350.4C1012.6 347.8 1016.6 345.6 1020.5 344.1C1024.3 342.5 1028.6 342 1032 341.2C1035.5 340.3 1038.2 339.1 1041.3 338.9C1044.3 338.7 1047.8 340.1 1050.5 340C1053.2 339.9 1054.9 338.1 1057.4 338.3C1059.9 338.5 1062.6 340.1 1065.5 341.2C1068.4 342.2 1071.3 343.3 1074.8 344.6C1078.2 346 1082.5 347.5 1086.3 349.3C1090.2 351 1094 352.9 1097.9 355C1101.7 357.2 1105.8 359.3 1109.4 362C1113.1 364.7 1116.6 367.9 1119.8 371.2C1123.1 374.5 1126.4 378.2 1129.1 381.6C1131.8 385.1 1134.1 388.4 1136 392C1137.9 395.7 1139.7 400.1 1140.6 403.6C1141.6 407 1142 409.7 1141.8 412.8C1141.6 415.9 1140.8 419.6 1139.5 422.1C1138.1 424.6 1136.2 426.3 1133.7 427.8C1131.2 429.4 1127.9 430.2 1124.5 431.3C1121 432.5 1116.8 433.5 1112.9 434.8C1109.1 436 1104.2 437.7 1101.4 438.8C1098.5 440 1096.3 440.3 1095.6 441.7C1094.8 443.2 1096.7 445.4 1096.7 447.5C1096.7 449.6 1096.7 452.5 1095.6 454.4C1094.4 456.3 1092.3 457.7 1089.8 459C1087.3 460.4 1083.2 461.8 1080.6 462.5C1077.9 463.2 1075.9 463.7 1073.6 463.1C1071.3 462.5 1068.8 460.9 1066.7 459C1064.6 457.2 1062.8 454.4 1060.9 452.1C1059 449.8 1057.1 446.5 1055.1 445.2C1053.2 443.8 1051.1 443.2 1049.4 444C1047.6 444.8 1046.3 447.5 1044.7 449.8C1043.2 452.1 1041.3 455.2 1040.1 457.9C1039 460.6 1039.1 463.7 1037.8 466C1036.5 468.3 1034.5 470.3 1032 471.8C1029.5 473.2 1025.7 474.3 1022.8 474.6C1019.9 475 1018 475.1 1014.7 474.1Z" fill="none" stroke="#34618D" stroke-width="3.2" opacity="0.85" filter="url(#b1)"/></g></g>
<g stroke="#000" stroke-width="1.4" stroke-linejoin="round"><path d="M1515.2 392.5C1514.8 390.5 1513.2 386.7 1514.4 383.8C1515.5 380.8 1517.1 378.5 1522.2 375C1527.4 371.5 1536.8 366.1 1545 362.8C1553.2 359.4 1562.5 356.2 1571.2 354.9C1580 353.6 1587.3 353.6 1597.5 354.9C1607.7 356.2 1620.8 359.4 1632.5 362.8C1644.2 366.1 1656.4 370.3 1667.5 375C1678.6 379.7 1690.2 385.2 1699 390.8C1707.8 396.3 1714.5 402.4 1720 408.2C1725.5 414.1 1729.6 420.2 1732.2 425.8C1734.9 431.3 1735.5 437.9 1735.8 441.5C1736 445.1 1736.6 446.8 1734 447.6C1731.4 448.5 1724.7 447.8 1720 446.8C1715.3 445.7 1709.5 443 1706 441.5C1702.5 440 1701.3 440.3 1699 438C1696.7 435.7 1695.2 430.7 1692 427.5C1688.8 424.3 1684.4 421.1 1679.8 418.8C1675.1 416.4 1671.9 415.1 1664 413.5C1656.1 411.9 1640.7 410.3 1632.5 409.1C1624.3 408 1619.1 406.8 1615 406.5C1610.9 406.2 1610.3 409.1 1608 407.4C1605.7 405.6 1603.9 398.9 1601 396C1598.1 393.1 1594.6 391.4 1590.5 389.9C1586.4 388.4 1582.6 387 1576.5 386.9C1570.4 386.8 1561.3 387.6 1553.8 389C1546.2 390.4 1537.1 394 1531 395.1C1524.9 396.3 1519.6 396.4 1517 396C1514.4 395.6 1515.7 394.5 1515.2 392.5Z" fill="#FFFFFF" /><path d="M1699 438C1700.2 438.6 1702.5 440 1706 441.5C1709.5 443 1715.3 445.7 1720 446.8C1724.7 447.8 1730.2 445.9 1734 447.6C1737.8 449.4 1740.6 453.6 1742.8 457.2C1744.9 460.9 1746.8 465.4 1747.1 469.5C1747.4 473.6 1746.7 478 1744.5 481.8C1742.3 485.5 1738.1 488.8 1734 492.2C1729.9 495.8 1724.4 500 1720 502.8C1715.6 505.5 1711.2 508.4 1707.8 508.9C1704.2 509.3 1698.7 507.9 1699 505.4C1699.3 502.9 1706.9 497.6 1709.5 494C1712.1 490.4 1713.7 487 1714.8 483.5C1715.8 480 1715.9 477.1 1715.6 473C1715.3 468.9 1714.6 462.8 1713 459C1711.4 455.2 1708.5 452.3 1706 450.2C1703.5 448.2 1699.3 448.8 1698.1 446.8C1697 444.7 1698.9 439.5 1699 438Z" fill="#FBF4F9" /><path d="M1576.5 495.8C1577.4 494.1 1581.8 493.9 1585.2 494C1588.8 494.1 1592.5 495.6 1597.5 496.6C1602.5 497.6 1609.2 499.7 1615 500.1C1620.8 500.6 1627.2 500 1632.5 499.2C1637.8 498.5 1640.7 497.8 1646.5 495.8C1652.3 493.7 1661.1 490.2 1667.5 487C1673.9 483.8 1680.6 480 1685 476.5C1689.4 473 1691.6 470.1 1693.8 466C1695.9 461.9 1697.2 455.1 1698.1 452C1699 448.9 1697.7 447.9 1699 447.6C1700.3 447.3 1703.7 448.4 1706 450.2C1708.3 452.1 1711.4 455.2 1713 459C1714.6 462.8 1715.3 468.9 1715.6 473C1715.9 477.1 1715.8 480 1714.8 483.5C1713.7 487 1712.1 491.1 1709.5 494C1706.9 496.9 1703.1 499 1699 501C1694.9 503 1693.2 504.9 1685 506.2C1676.8 507.6 1661.7 508.7 1650 509.4C1638.3 510.1 1624.6 510.7 1615 510.6C1605.4 510.5 1598.1 510 1592.2 508.9C1586.4 507.7 1582.6 505.8 1580 503.6C1577.4 501.4 1575.6 497.4 1576.5 495.8Z" fill="#FBF4F9" /><path d="M1501.2 427.5C1502.3 423.7 1504.2 418.8 1506.5 415.2C1508.8 411.8 1511.8 409.1 1515.2 406.5C1518.8 403.9 1523.7 401.2 1527.5 399.5C1531.3 397.8 1535.1 396.4 1538 396C1540.9 395.6 1542.7 394.5 1545 396.9C1547.3 399.2 1552 404.9 1552 410C1552 415.1 1549.1 422.8 1545 427.5C1540.9 432.2 1532.8 435.1 1527.5 438C1522.2 440.9 1517.6 443.2 1513.5 445C1509.4 446.8 1505.2 449.7 1503 448.5C1500.8 447.3 1500.7 441.5 1500.4 438C1500.1 434.5 1500.2 431.3 1501.2 427.5Z" fill="#FFFFFF" /><path d="M1525.8 405.6C1529 405 1532.6 405.8 1534.5 406.5C1536.4 407.2 1536.7 406.5 1537.1 410C1537.6 413.5 1536.4 421.7 1537.1 427.5C1537.9 433.3 1540 439.8 1541.5 445C1543 450.2 1545.6 454.3 1545.9 459C1546.2 463.7 1544.4 469.1 1543.2 473C1542.1 476.9 1540.9 480.6 1538.9 482.6C1536.8 484.7 1534.1 485 1531 485.2C1527.9 485.5 1522.1 488.2 1520.5 484.4C1518.9 480.6 1521.5 469.1 1521.4 462.5C1521.2 455.9 1520.4 449.7 1519.6 445C1518.9 440.3 1518.3 437.4 1517 434.5C1515.7 431.6 1512.8 430.1 1511.8 427.5C1510.7 424.9 1510.3 421.7 1510.9 418.8C1511.5 415.8 1512.8 412.2 1515.2 410C1517.7 407.8 1522.5 406.2 1525.8 405.6Z" fill="#FBF4F9" /><path d="M1510 436.2C1512.3 435.4 1515.4 436.5 1517 438C1518.6 439.5 1518.9 440.9 1519.6 445C1520.4 449.1 1521.2 457 1521.4 462.5C1521.5 468 1520.9 473.9 1520.5 478.2C1520.1 482.6 1519.9 487.6 1518.8 488.8C1517.6 489.9 1515 487.6 1513.5 485.2C1512 482.9 1512 478.5 1510 474.8C1508 471 1502.9 466.3 1501.2 462.5C1499.6 458.7 1500.1 455.2 1500.4 452C1500.7 448.8 1501.4 445.9 1503 443.2C1504.6 440.6 1507.7 437.1 1510 436.2Z" fill="#FBF4F9" /><path d="M1496 440.6C1497 440.3 1499.1 441.9 1499.5 445C1499.9 448.1 1497.8 454.9 1498.6 459C1499.5 463.1 1502.6 466.3 1504.8 469.5C1506.9 472.7 1510.3 475.6 1511.8 478.2C1513.2 480.9 1513.8 484.4 1513.5 485.2C1513.2 486.1 1512.3 486.1 1510 483.5C1507.7 480.9 1502.3 473.6 1499.5 469.5C1496.7 465.4 1494.4 462.8 1493.4 459C1492.4 455.2 1492.9 449.8 1493.4 446.8C1493.8 443.7 1495 440.9 1496 440.6Z" fill="#F3E1EC" /><path d="M1545 396.9C1546.6 396.7 1548.2 398.2 1549.4 400.4C1550.5 402.6 1551 406.2 1552 410C1553 413.8 1555.8 418.5 1555.5 423.1C1555.2 427.8 1550.8 433.2 1550.2 438C1549.7 442.8 1550.5 447.3 1552 452C1553.5 456.7 1557.5 462.2 1559 466C1560.5 469.8 1561 471.5 1560.8 474.8C1560.5 478 1559 482.8 1557.2 485.2C1555.5 487.7 1552.6 489.2 1550.2 489.6C1547.9 490.1 1545.1 489 1543.2 487.9C1541.4 486.7 1538.9 485.1 1538.9 482.6C1538.9 480.1 1542.1 476.9 1543.2 473C1544.4 469.1 1546.2 463.7 1545.9 459C1545.6 454.3 1543 450.2 1541.5 445C1540 439.8 1537.9 433.3 1537.1 427.5C1536.4 421.7 1536.7 414.4 1537.1 410C1537.6 405.6 1538.4 403.4 1539.8 401.2C1541.1 399.1 1543.4 397 1545 396.9Z" fill="#FBF4F9" /><path d="M1553.8 399.5C1555.1 396.9 1559.3 397.9 1562.5 397.8C1565.7 397.6 1570.1 397.5 1573 398.6C1575.9 399.8 1577.7 403.3 1580 404.8C1582.3 406.2 1584.1 406.8 1587 407.4C1589.9 408 1594.9 407.5 1597.5 408.2C1600.1 409 1604.2 410.7 1602.8 411.8C1601.3 412.8 1594.9 412.9 1588.8 414.4C1582.6 415.8 1571.4 419 1566 420.5C1560.6 422 1558.3 424.3 1556.4 423.1C1554.5 422 1555.1 417.4 1554.6 413.5C1554.2 409.6 1552.4 402.1 1553.8 399.5Z" fill="#F0DAE7" /><path d="M1574.8 396.9C1575.6 395.8 1581.2 395.2 1583.5 395.6C1585.8 396.1 1587.6 397.8 1588.8 399.5C1589.9 401.2 1591.4 404.5 1590.5 405.6C1589.6 406.8 1585.5 407.1 1583.5 406.5C1581.5 405.9 1579.7 403.7 1578.2 402.1C1576.8 400.5 1573.9 398 1574.8 396.9Z" fill="#FDF8FB" /><path d="M1588.8 396.9C1590.1 396.1 1594.6 395.4 1597.5 395.6C1600.4 395.9 1603.8 397.3 1606.2 398.6C1608.7 400 1612.7 402.3 1612.4 403.9C1612.1 405.5 1607 407.7 1604.5 408.2C1602 408.8 1599.7 407.8 1597.5 407.4C1595.3 406.9 1592.7 406.8 1591.4 405.6C1590.1 404.5 1590.1 401.8 1589.6 400.4C1589.2 398.9 1587.4 397.7 1588.8 396.9Z" fill="#FDF8FB" /><path d="M1557.2 478.2C1557.5 475.9 1558.7 474.5 1560.8 474.8C1562.8 475 1565.7 477.4 1569.5 480C1573.3 482.6 1579.7 488 1583.5 490.5C1587.3 493 1593.1 494.1 1592.2 494.9C1591.4 495.6 1581 494.4 1578.2 494.9C1575.5 495.3 1575.3 495.9 1575.6 497.5C1575.9 499.1 1577.2 502.6 1580 504.5C1582.8 506.4 1587.6 507.9 1592.2 508.9C1596.9 509.9 1604.5 510 1608 510.6C1611.5 511.2 1613.8 511.5 1613.2 512.4C1612.7 513.2 1608.6 515.4 1604.5 515.9C1600.4 516.3 1593.1 515.6 1588.8 515C1584.4 514.4 1581.2 513.8 1578.2 512.4C1575.3 510.9 1573.3 508.7 1571.2 506.2C1569.2 503.8 1568 500.4 1566 497.5C1564 494.6 1560.5 492 1559 488.8C1557.5 485.5 1557 480.6 1557.2 478.2Z" fill="#EBC5DC" /><path d="M1641.2 511.9C1642.7 511.4 1642.7 510.1 1650 509.4C1657.3 508.7 1677 508.2 1685 507.6C1693 507.1 1695.9 506.5 1698.1 506.2C1697.1 507.3 1694.5 510.6 1692 512.4C1689.5 514.1 1686.2 514.6 1683.2 516.8C1680.3 518.9 1677.4 523.6 1674.5 525.5C1671.6 527.4 1668.1 528.4 1665.8 528.1C1663.4 527.8 1662.2 525.6 1660.5 523.8C1658.8 521.9 1657 518.5 1655.2 516.8C1653.5 515 1652.3 514.1 1650 513.2C1647.7 512.4 1642.7 512.1 1641.2 511.9Z" fill="#EBC5DC" /><path d="M1608 408.2C1608 407.6 1610.9 406.7 1615 406.9C1619.1 407 1624.3 408 1632.5 409.1C1640.7 410.2 1656.1 411.9 1664 413.5C1671.9 415.1 1675.1 416.4 1679.8 418.8C1684.4 421.1 1688.8 424.3 1692 427.5C1695.2 430.7 1698.1 435.1 1699 438C1699.9 440.9 1699.6 445.3 1697.2 445C1694.9 444.7 1690 438.6 1685 436.2C1680 433.9 1673.3 433 1667.5 431C1661.7 429 1655 426.9 1650 424C1645 421.1 1641.2 415.8 1637.8 413.5C1634.2 411.2 1632.8 410.4 1629 410C1625.2 409.6 1618.5 411.2 1615 410.9C1611.5 410.6 1608 408.9 1608 408.2Z" fill="#FFFFFF" /><path d="M1550.2 438C1550.5 433.9 1551.1 430.4 1553.8 427.5C1556.4 424.6 1560.2 422.7 1566 420.5C1571.8 418.3 1580.6 416 1588.8 414.4C1596.9 412.8 1608.3 411.6 1615 410.9C1621.7 410.1 1625.2 409.6 1629 410C1632.8 410.4 1634.2 411.2 1637.8 413.5C1641.2 415.8 1645 421.1 1650 424C1655 426.9 1661.7 429 1667.5 431C1673.3 433 1680.3 434.5 1685 436.2C1689.7 438 1693.3 438.9 1695.5 441.5C1697.7 444.1 1698.4 447.9 1698.1 452C1697.8 456.1 1695.9 461.9 1693.8 466C1691.6 470.1 1689.4 473 1685 476.5C1680.6 480 1673.9 483.8 1667.5 487C1661.1 490.2 1652.3 493.7 1646.5 495.8C1640.7 497.8 1637.8 498.5 1632.5 499.2C1627.2 500 1620.8 500.6 1615 500.1C1609.2 499.7 1602.8 498.2 1597.5 496.6C1592.2 495 1588.2 493.3 1583.5 490.5C1578.8 487.7 1573.6 484.1 1569.5 480C1565.4 475.9 1561.9 470.7 1559 466C1556.1 461.3 1553.5 456.7 1552 452C1550.5 447.3 1550 442.1 1550.2 438Z" fill="#F0DAE7" /><path d="M1534.5 500.1C1535.1 498.7 1538.6 498.5 1541.5 499.2C1544.4 500 1548.5 502.6 1552 504.5C1555.5 506.4 1559 509.3 1562.5 510.6C1566 511.9 1568.6 511.6 1573 512.4C1577.4 513.1 1584.1 514.3 1588.8 515C1593.4 515.7 1597.8 515.3 1601 516.8C1604.2 518.2 1606 520.8 1608 523.8C1610 526.7 1612.1 530.8 1613.2 534.2C1614.4 537.8 1615.3 541.8 1615 544.8C1614.7 547.7 1611.8 549.1 1611.5 551.8C1611.2 554.4 1612.1 556.7 1613.2 560.5C1614.4 564.3 1616.8 570.4 1618.5 574.5C1620.2 578.6 1623 582.7 1623.8 585C1624.5 587.3 1624.3 587.5 1622.9 588.5C1621.4 589.5 1618.1 591 1615 591.1C1611.9 591.3 1608.3 591 1604.5 589.4C1600.7 587.8 1596 584.4 1592.2 581.5C1588.5 578.6 1585 575.7 1581.8 571.9C1578.5 568.1 1576.2 563.9 1573 558.8C1569.8 553.6 1566.6 547.4 1562.5 541.2C1558.4 535.1 1552.6 527.5 1548.5 522C1544.4 516.5 1540.3 511.6 1538 508C1535.7 504.4 1533.9 501.6 1534.5 500.1Z" fill="#C45E9F" /><path d="M1487.2 434.5C1489.6 434.6 1491.5 435.1 1492.5 437.1C1493.5 439.2 1493.2 443.1 1493.4 446.8C1493.5 450.4 1492.4 455.2 1493.4 459C1494.4 462.8 1496.7 465.4 1499.5 469.5C1502.3 473.6 1506.8 480.1 1510 483.5C1513.2 486.9 1514.7 487 1518.8 489.6C1522.8 492.2 1529.5 496.8 1534.5 499.2C1539.5 501.7 1543.8 501.9 1548.5 504.5C1553.2 507.1 1558.4 510.9 1562.5 515C1566.6 519.1 1569.5 523.8 1573 529C1576.5 534.2 1580.3 541.2 1583.5 546.5C1586.7 551.8 1590.5 557.3 1592.2 560.5C1594 563.7 1594.6 564.3 1594 565.8C1593.4 567.2 1591.7 568.2 1588.8 569.2C1585.8 570.3 1580.9 571.9 1576.5 571.9C1572.1 571.9 1566.6 570.9 1562.5 569.2C1558.4 567.6 1556.1 566 1552 562.2C1547.9 558.5 1543.5 552 1538 546.5C1532.5 541 1525.5 534.8 1518.8 529C1512 523.2 1504.5 517.6 1497.8 511.5C1491 505.4 1483.8 498.1 1478.5 492.2C1473.2 486.4 1469.3 481.5 1466.2 476.5C1463.2 471.5 1460.7 466.6 1460.1 462.5C1459.5 458.4 1461.1 455.5 1462.8 452C1464.4 448.5 1467.1 444.1 1469.8 441.5C1472.4 438.9 1475.6 437.4 1478.5 436.2C1481.4 435.1 1484.9 434.4 1487.2 434.5Z" fill="#BB4F93" /><path d="M1632.5 525.5C1633.4 524.6 1637.2 528.7 1639.5 530.8C1641.8 532.8 1645.1 534.5 1646.5 537.8C1647.9 541 1647.8 545 1647.9 550C1648 555 1648 563.3 1647.4 567.5C1646.7 571.7 1645.2 573.9 1643.9 575.4C1642.6 576.9 1640.4 577.9 1639.5 576.6C1638.6 575.3 1639.2 571.9 1638.6 567.5C1638 563.1 1636.8 555.2 1636 550C1635.2 544.8 1634.5 540.1 1633.9 536C1633.3 531.9 1631.6 526.4 1632.5 525.5Z" fill="#DD9EC4" /><path d="M1604.5 515.9C1605.4 514 1610.3 512.8 1613.2 512.4C1616.2 511.9 1619.4 512.4 1622 513.2C1624.6 514.1 1627.2 515.3 1629 517.6C1630.8 520 1631.6 523.3 1632.5 527.2C1633.4 531.2 1633.5 536 1634.2 541.2C1635 546.5 1636.1 553.5 1636.9 558.8C1637.6 564 1638.8 568.7 1638.6 572.8C1638.5 576.8 1637.6 581 1636 583.2C1634.4 585.5 1631 586.1 1629 586.4C1627 586.7 1625.5 587 1623.8 585C1622 583 1620.2 578.6 1618.5 574.5C1616.8 570.4 1614.4 564.3 1613.2 560.5C1612.1 556.7 1611.2 554.4 1611.5 551.8C1611.8 549.1 1614.7 547.7 1615 544.8C1615.3 541.8 1614.4 537.8 1613.2 534.2C1612.1 530.8 1609.5 526.8 1608 523.8C1606.5 520.7 1603.6 517.8 1604.5 515.9Z" fill="#DD9EC4" /></g><g stroke="#000" stroke-width="1.4" stroke-linejoin="round"><path d="M1694.9 580.6C1694.4 580.6 1694.5 573.2 1695.8 568.6C1697.1 564.1 1699.2 558.4 1702.6 553.3C1706 548.2 1710.6 543.1 1716.2 537.9C1721.9 532.8 1728.5 527.4 1736.7 522.6C1744.9 517.8 1755.7 512.9 1765.7 509C1775.6 505 1785.5 501.6 1796.3 498.7C1807.1 495.9 1820.5 493.3 1830.4 491.9C1840.4 490.6 1849.7 490.4 1856 490.6C1862.2 490.7 1864.5 491.1 1867.9 492.8C1871.3 494.4 1873.3 498.3 1876.4 500.5C1879.6 502.6 1882.4 503.9 1886.7 505.6C1890.9 507.3 1897.5 508.8 1902 510.7C1906.5 512.5 1911.3 514.7 1913.9 516.6C1916.5 518.6 1917.3 520.2 1917.7 522.6C1918.1 525 1917.7 529.4 1916.5 531.1C1915.3 532.9 1913.5 533.5 1910.5 533.2C1907.5 532.9 1903.4 530.6 1898.6 529.4C1893.8 528.2 1887.2 526.9 1881.6 526C1875.9 525.2 1870.2 524.5 1864.5 524.3C1858.8 524.2 1853.1 524.2 1847.5 525.2C1841.8 526.2 1835.5 528.1 1830.4 530.3C1825.3 532.4 1821.1 535 1816.8 537.9C1812.5 540.9 1808.3 544.5 1804.9 548.2C1801.5 551.9 1799.5 556.4 1796.3 560.1C1793.2 563.8 1789 567.6 1786.1 570.3C1783.3 573 1781.9 576 1779.3 576.3C1776.7 576.6 1773.6 574.2 1770.8 572C1767.9 569.9 1764.5 566.3 1762.3 563.5C1760 560.7 1759.4 557.3 1757.1 555C1754.9 552.7 1752 550.9 1748.6 549.9C1745.2 548.9 1741.5 548.7 1736.7 549C1731.9 549.3 1724.8 550 1719.6 551.6C1714.5 553.1 1709.4 555.6 1706 558.4C1702.6 561.2 1701 564.9 1699.2 568.6C1697.4 572.3 1695.5 580.6 1694.9 580.6Z" fill="#FFFFFF" /><path d="M1685.6 606.1C1685.8 603 1686.7 599.9 1688.1 595.9C1689.5 591.9 1692.2 586.8 1694.1 582.3C1695.9 577.7 1697.2 572.6 1699.2 568.6C1701.2 564.6 1702.6 561.2 1706 558.4C1709.4 555.6 1714.5 553.1 1719.6 551.6C1724.8 550 1731.9 549.3 1736.7 549C1741.5 548.7 1745.2 548.9 1748.6 549.9C1752 550.9 1754.9 552.7 1757.1 555C1759.4 557.3 1760 560.7 1762.3 563.5C1764.5 566.3 1767.9 569.9 1770.8 572C1773.6 574.2 1777.5 573.5 1779.3 576.3C1781.1 579.1 1781 584.7 1781.9 589.1C1782.7 593.5 1783.4 598.2 1784.4 602.7C1785.4 607.3 1787.4 612.4 1787.8 616.3C1788.2 620.3 1788.4 625 1787 626.6C1785.5 628.1 1782.3 626.9 1779.3 625.7C1776.3 624.6 1773.6 621.9 1769.1 619.7C1764.5 617.6 1758 614.9 1752 612.9C1746.1 610.9 1738.4 608.7 1733.3 607.8C1728.2 607 1724.8 607.3 1721.4 607.8C1717.9 608.4 1715 609.5 1712.8 611.2C1710.7 612.9 1709.1 615.5 1708.6 618C1708 620.6 1708.7 624.2 1709.4 626.6C1710.1 629 1713.7 631.8 1712.8 632.5C1712 633.2 1707.7 632.4 1704.3 630.8C1700.9 629.3 1695.4 625.9 1692.4 623.2C1689.4 620.5 1687.6 617.5 1686.4 614.6C1685.3 611.8 1685.3 609.2 1685.6 606.1Z" fill="#FBF4F9" /><path d="M1803.2 548.2C1803.2 548.2 1812.2 540.9 1816.8 537.9C1821.3 535 1825.3 532.4 1830.4 530.3C1835.5 528.1 1841.8 526.2 1847.5 525.2C1853.1 524.2 1858.8 524.2 1864.5 524.3C1870.2 524.5 1875.9 525.2 1881.6 526C1887.2 526.9 1894.3 528 1898.6 529.4C1902.9 530.8 1903.7 531.7 1907.1 534.5C1910.5 537.4 1915.5 542.8 1919 546.5C1922.6 550.2 1926.3 553 1928.4 556.7C1930.6 560.4 1931.7 564.9 1931.8 568.6C1932 572.3 1930.8 576.9 1929.3 578.8C1927.7 580.8 1925.3 580.6 1922.5 580.6C1919.6 580.6 1915.4 579.7 1912.2 578.8C1909.1 578 1906 577.1 1903.7 575.4C1901.4 573.7 1901.4 570.9 1898.6 568.6C1895.8 566.3 1891.2 563.4 1886.7 561.8C1882.1 560.2 1874 561 1871.3 559.2C1868.6 557.5 1872.2 553.4 1870.5 551.6C1868.8 549.7 1863.9 549.4 1861.1 548.2C1858.3 546.9 1854.6 545.6 1853.4 543.9C1852.3 542.2 1855.8 539.5 1854.3 537.9C1852.7 536.4 1848 535.4 1844.1 534.5C1840.1 533.7 1835 532.3 1830.4 532.8C1825.9 533.4 1821.3 535.4 1816.8 537.9C1812.2 540.5 1803.2 548.2 1803.2 548.2Z" fill="#FFFFFF" /><path d="M1898.6 585.7C1898.5 583.2 1900.6 578.6 1902.9 577.5C1905.1 576.4 1909 578.6 1912.2 579.2C1915.5 579.8 1919.5 580.8 1922.5 580.9C1925.4 581 1927.9 578.9 1930.1 579.7C1932.4 580.5 1934.5 583 1936.1 585.7C1937.7 588.4 1939.1 592.8 1939.5 595.9C1939.9 599 1940.4 601.3 1938.6 604.4C1936.9 607.5 1932.3 611.8 1929.3 614.6C1926.3 617.5 1923 619.7 1920.8 621.5C1918.5 623.2 1916.8 625.7 1915.6 624.9C1914.5 624 1914.1 618.9 1913.9 616.3C1913.8 613.8 1915.4 612.1 1914.8 609.5C1914.2 607 1912.4 603.8 1910.5 601C1908.7 598.2 1905.7 595 1903.7 592.5C1901.7 589.9 1898.7 588.2 1898.6 585.7Z" fill="#FBF4F9" /><path d="M1896 597.6C1896.6 592.6 1897.3 587.4 1898.6 586.5C1899.9 585.7 1901.7 590.1 1903.7 592.5C1905.7 594.9 1908.7 598.2 1910.5 601C1912.4 603.8 1914.2 606.7 1914.8 609.5C1915.4 612.4 1914.9 615.9 1913.9 618C1912.9 620.2 1911.1 621.7 1908.8 622.3C1906.5 622.9 1902.5 622.4 1900.3 621.5C1898.1 620.5 1896.2 620.3 1895.5 616.3C1894.8 612.4 1895.5 602.6 1896 597.6Z" fill="#FBF4F9" /><path d="M1783.6 595.9C1784.1 592.8 1787.4 593.3 1789.5 594.2C1791.7 595 1794.4 597.6 1796.3 601C1798.3 604.4 1800.3 610.4 1801.5 614.6C1802.6 618.9 1804.3 624.4 1803.2 626.6C1802 628.8 1797.2 627.9 1794.6 627.9C1792.1 628 1789.2 629.4 1787.8 626.9C1786.4 624.4 1786.8 618.1 1786.1 612.9C1785.4 607.8 1783 599 1783.6 595.9Z" fill="#FBF4F9" /><path d="M1830.4 606.1C1832.8 604.8 1837.2 606.7 1840.7 606.5C1844.1 606.2 1848.2 605.3 1850.9 604.4C1853.6 603.6 1853.1 601.8 1856.8 601.3C1860.5 600.9 1868.1 602.3 1873 601.9C1878 601.4 1883 599.5 1886.7 598.8C1890.4 598.1 1893.8 594.7 1895.2 597.6C1896.6 600.5 1895.8 612.1 1895.2 616.3C1894.6 620.6 1894.1 621.7 1891.8 623.2C1889.5 624.6 1884.7 624.8 1881.6 624.9C1878.4 624.9 1876.4 624.4 1873 623.7C1869.6 622.9 1865.4 621 1861.1 620.3C1856.8 619.6 1852.6 619.2 1847.5 619.4C1842.4 619.6 1835 621.3 1830.4 621.5C1825.9 621.7 1820.9 621.7 1820.2 620.6C1819.5 619.5 1824.5 617.1 1826.2 614.6C1827.9 612.2 1828 607.5 1830.4 606.1Z" fill="#F5E3EE" /><path d="M1785.3 575.4C1787.1 571.2 1793.1 564.6 1796.3 560.1C1799.6 555.6 1801.5 551.9 1804.9 548.2C1808.3 544.5 1812.5 540.4 1816.8 537.9C1821.1 535.4 1825.9 533.7 1830.4 533.2C1835 532.6 1840.1 533.7 1844.1 534.5C1848 535.3 1852.7 536.4 1854.3 537.9C1855.8 539.5 1852.3 542.2 1853.4 543.9C1854.6 545.6 1858.3 546.9 1861.1 548.2C1863.9 549.4 1868.8 549.6 1870.5 551.6C1872.2 553.6 1872.3 558 1871.3 560.1C1870.3 562.2 1867.4 563.1 1864.5 564.4C1861.7 565.6 1856.1 565.9 1854.3 567.8C1852.4 569.6 1852.9 572.5 1853.4 575.4C1854 578.4 1856.8 582.5 1857.7 585.7C1858.5 588.8 1860.3 592.9 1858.5 594.2C1856.8 595.5 1851 593.6 1847.5 593.3C1843.9 593 1839.8 591.8 1837.2 592.5C1834.7 593.2 1833.3 595.5 1832.1 597.6C1831 599.7 1831.6 602.4 1830.4 605.3C1829.3 608.1 1827.3 612.1 1825.3 614.6C1823.3 617.2 1821.1 619.6 1818.5 620.6C1815.9 621.6 1812.5 621.6 1810 620.6C1807.4 619.6 1805.4 618.2 1803.2 614.6C1800.9 611.1 1798.6 603 1796.3 599.3C1794.1 595.6 1791.4 594.8 1789.5 592.5C1787.7 590.2 1786 588.5 1785.3 585.7C1784.6 582.8 1783.4 579.7 1785.3 575.4Z" fill="#F5E3EE" /><path d="M1854.3 567.8C1856.1 565.6 1861.1 565.4 1864.5 564.4C1867.9 563.4 1871 561.9 1874.7 561.8C1878.4 561.7 1882.7 562.2 1886.7 563.5C1890.6 564.8 1895.9 567.2 1898.6 569.5C1901.3 571.7 1902.9 574.4 1902.9 577.1C1902.9 579.8 1899.6 582.5 1898.6 585.7C1897.6 588.8 1898.9 593.8 1896.9 595.9C1894.9 598 1890.6 597.5 1886.7 598.4C1882.7 599.4 1877 601.3 1873 601.9C1869.1 602.4 1865.4 602.3 1862.8 601.9C1860.3 601.4 1858.4 601.1 1857.7 599.3C1857 597.5 1859.3 594.5 1858.5 590.8C1857.8 587.1 1854.1 581 1853.4 577.1C1852.7 573.3 1852.4 569.9 1854.3 567.8Z" fill="#F5E3EE" /><path d="M1832.1 597.6C1833 595.5 1834.7 593.1 1837.2 592.5C1839.8 591.9 1844.5 593.3 1847.5 593.8C1850.5 594.4 1853.7 594.8 1855.1 595.9C1856.6 596.9 1856.7 598.7 1856 600.2C1855.3 601.6 1853.4 603.4 1850.9 604.4C1848.3 605.4 1843.8 606 1840.7 606.1C1837.5 606.3 1833.6 606.7 1832.1 605.3C1830.7 603.8 1831.3 599.7 1832.1 597.6Z" fill="#F5E3EE" /><path d="M1708.6 618C1708.3 614.6 1710.7 612.9 1712.8 611.2C1715 609.5 1717.9 608.4 1721.4 607.8C1724.8 607.3 1728.2 607 1733.3 607.8C1738.4 608.7 1746.1 610.9 1752 612.9C1758 614.9 1764.5 617.6 1769.1 619.7C1773.6 621.9 1775.9 624.4 1779.3 625.7C1782.7 627 1785.3 627 1789.5 627.4C1793.8 627.8 1801.7 627.6 1804.9 628.3C1808 629 1805.4 630.8 1808.3 631.7C1811.1 632.5 1817.1 633.5 1821.9 633.4C1826.7 633.2 1832.1 632.2 1837.2 630.8C1842.4 629.4 1850 625.9 1852.6 624.9C1850.6 624.6 1844.3 623.7 1840.7 623.2C1837 622.6 1832.1 621.7 1830.4 621.5C1833.3 621.2 1842.4 619.9 1847.5 619.7C1852.6 619.6 1856.8 619.9 1861.1 620.6C1865.4 621.3 1871.3 622.4 1873 624C1874.7 625.6 1872.7 627.6 1871.3 630C1869.9 632.4 1866.8 635.5 1864.5 638.5C1862.2 641.5 1860.5 645.9 1857.7 647.9C1854.9 649.9 1851.2 650.3 1847.5 650.4C1843.8 650.6 1838.4 649.7 1835.5 648.7C1832.7 647.7 1833.6 645 1830.4 644.5C1827.3 643.9 1821.9 645.3 1816.8 645.3C1811.7 645.3 1804.9 644.2 1799.7 644.5C1794.6 644.7 1789.8 645.5 1786.1 647C1782.4 648.6 1780 651.3 1777.6 653.8C1775.2 656.4 1773.6 660.7 1771.6 662.4C1769.6 664.1 1768.4 664.6 1765.7 664.1C1763 663.5 1759.7 661.2 1755.4 658.9C1751.2 656.7 1745.2 653.6 1740.1 650.4C1735 647.3 1729 643.3 1724.8 640.2C1720.5 637.1 1717.2 635.4 1714.5 631.7C1711.8 628 1708.9 621.5 1708.6 618Z" fill="#EAC2DB" /><path d="M1946.3 572C1948.4 571.6 1950.3 570.9 1953.1 572C1956 573.2 1960.5 576.3 1963.4 578.8C1966.2 581.4 1968.8 584.2 1970.2 587.4C1971.5 590.5 1972.1 593.3 1971.5 597.6C1971 601.9 1969.3 607.5 1966.8 612.9C1964.3 618.3 1960.8 624 1956.5 630C1952.3 635.9 1946.9 642.5 1941.2 648.7C1935.5 655 1929 661.5 1922.5 667.5C1915.9 673.4 1908.8 679.4 1902 684.5C1895.2 689.6 1887.2 694.7 1881.6 698.1C1875.9 701.6 1871.9 703.7 1867.9 705C1863.9 706.2 1858.3 707.2 1857.7 705.8C1857.1 704.4 1860.8 700.6 1864.5 696.4C1868.2 692.3 1875.3 686.5 1879.8 681.1C1884.4 675.7 1888.1 668.6 1891.8 664.1C1895.5 659.5 1898 657.2 1902 653.8C1906 650.4 1911.1 647.6 1915.6 643.6C1920.2 639.6 1925.3 634.5 1929.3 630C1933.2 625.4 1936.8 620.9 1939.5 616.3C1942.2 611.8 1944.2 606.7 1945.5 602.7C1946.7 598.7 1946.6 595.2 1946.8 592.5C1947 589.8 1946.7 587.5 1946.7 586.5C1946 587.5 1944.1 592.1 1942.9 592.5C1941.7 592.9 1940.5 591.1 1939.5 589.1C1938.5 587.1 1936.8 583 1936.9 580.6C1937.1 578.1 1938.8 576 1940.4 574.6C1941.9 573.2 1944.2 572.5 1946.3 572Z" fill="#BB4F93" /><path d="M1946.7 586.5C1946 587.7 1944.1 590.1 1942.9 593.3C1941.7 596.6 1942.3 601.7 1939.5 606.1C1936.7 610.5 1931.3 615.5 1925.9 619.7C1920.5 624 1914.5 628 1907.1 631.7C1899.7 635.4 1889.5 639.1 1881.6 641.9C1873.6 644.7 1865.6 647 1859.4 648.7C1853.1 650.4 1848.3 651.9 1844.1 652.1C1839.8 652.4 1837 649 1833.8 650.3C1830.7 651.5 1828.2 655.5 1825.3 659.6C1822.5 663.7 1819.6 670.1 1816.8 675C1814 679.8 1810.3 684.1 1808.3 688.6C1806.3 693.1 1805.7 697.7 1804.9 702.2C1804 706.8 1802.6 712.2 1803.2 715.9C1803.7 719.6 1805.7 722.6 1808.3 724.4C1810.8 726.2 1815.1 726.6 1818.5 726.4C1821.9 726.3 1825.3 725.6 1828.7 723.5C1832.1 721.5 1835.5 716.9 1838.9 714.2C1842.4 711.5 1846 709 1849.2 707.3C1852.3 705.7 1855.1 706 1857.7 704.3C1860.3 702.6 1860.8 701.2 1864.5 697.1C1868.2 693.1 1875.3 685.8 1879.8 680.1C1884.4 674.4 1888.1 667.4 1891.8 663C1895.5 658.6 1898 656.9 1902 653.7C1906 650.4 1911.1 647.6 1915.6 643.6C1920.2 639.7 1925.3 634.5 1929.3 630C1933.2 625.4 1936.8 620.9 1939.5 616.3C1942.2 611.8 1944.2 606.7 1945.5 602.7C1946.7 598.7 1946.6 595.2 1946.8 592.5C1947 589.8 1946.7 587.5 1946.7 586.5Z" fill="#C45E9F" /><path d="M1834.7 647.7C1833.8 646.7 1831.4 644.6 1828.7 644.3C1826 644 1821.9 644.6 1818.5 646C1815.1 647.4 1812 650 1808.3 652.8C1804.6 655.7 1799.9 659.6 1796.3 663C1792.8 666.4 1789 669.6 1787 673.3C1785 677 1784.9 680.4 1784.4 685.2C1783.9 690 1783.6 698 1784.1 702.2C1784.5 706.5 1785.2 708.3 1787 710.8C1788.7 713.2 1792.4 715.4 1794.6 716.7C1796.9 718 1799.3 719.1 1800.6 718.4C1801.9 717.7 1801.6 715.4 1802.3 712.5C1803 709.5 1803.9 704.5 1804.9 700.5C1805.9 696.6 1806.3 692.9 1808.3 688.6C1810.3 684.3 1814 679.8 1816.8 675C1819.6 670.1 1822.5 663.7 1825.3 659.6C1828.2 655.5 1832.3 652.2 1833.8 650.3C1835.4 648.3 1835.5 648.7 1834.7 647.7Z" fill="#DD9EC4" /></g>
<g stroke="#000" stroke-width="1.4" stroke-linejoin="round"><path d="M1489.7 727C1489.2 725.6 1494.5 718.4 1497.7 714.1C1500.9 709.9 1505.2 704.5 1508.9 701.3C1512.7 698.1 1517.8 696.1 1520.2 694.9C1522.6 693.7 1524.4 692.5 1523.4 694.1C1522.3 695.7 1515.6 701.7 1513.7 704.5C1511.9 707.3 1511.6 709.1 1512.1 710.9C1512.7 712.8 1514 713.9 1517 715.7C1519.9 717.6 1528.2 720.5 1529.8 722.1C1531.4 723.7 1529.8 725.8 1526.6 725.4C1523.4 724.9 1514.8 720.3 1510.5 719.7C1506.3 719.2 1504.4 720.9 1500.9 722.1C1497.4 723.3 1490.2 728.3 1489.7 727Z" fill="#F2F1F6" /><path d="M1565.1 688.5C1565.6 686.2 1569.9 684.9 1573.1 684.5C1576.3 684.1 1579.7 684.7 1584.3 686.1C1588.8 687.4 1595.5 690.1 1600.3 692.5C1605.1 694.9 1610.5 698.9 1613.1 700.5C1615.8 702.1 1618.5 701.4 1616.4 702.1C1614.2 702.8 1605.7 702.8 1600.3 704.5C1595 706.2 1587.8 710.1 1584.3 712.5C1580.8 714.9 1581.2 717.6 1579.5 718.9C1577.7 720.3 1574.9 721.9 1573.9 720.5C1572.8 719.2 1573.7 714.7 1573.1 710.9C1572.4 707.2 1571.2 701.8 1569.9 698.1C1568.5 694.4 1564.5 690.7 1565.1 688.5Z" fill="#FFFFFF" /><path d="M1513.7 704.5C1515.6 701.3 1519.6 694.9 1523.4 691.7C1527.1 688.5 1531.4 686.5 1536.2 685.3C1541 684.1 1547.7 684.1 1552.2 684.5C1556.8 684.9 1560.8 685.4 1563.4 687.7C1566.1 689.9 1566.7 694.2 1568.3 698.1C1569.9 702 1572.3 706.9 1573.1 710.9C1573.9 714.9 1574.1 720.1 1573.1 722.1C1572 724.1 1570.1 722.3 1566.7 722.9C1563.2 723.6 1555.7 725.2 1552.2 726.2C1548.8 727.1 1549.6 729.2 1545.8 728.6C1542.1 727.9 1534.6 724.3 1529.8 722.1C1525 720 1519.9 717.6 1517 715.7C1514 713.9 1512.7 712.8 1512.1 710.9C1511.6 709.1 1511.9 707.7 1513.7 704.5Z" fill="#E6E5EE" /><path d="M1601.9 675.7C1602.6 673.5 1603.5 671.4 1606.7 670C1609.9 668.7 1616.4 667.4 1621.2 667.3C1626 667.2 1632.3 667.7 1635.6 669.2C1638.9 670.8 1640.8 673.8 1641.2 676.5C1641.6 679.1 1640 682.3 1638 685.3C1636 688.2 1632.5 692.4 1629.2 694.1C1625.8 695.7 1621.4 695.7 1618 695.2C1614.5 694.7 1610.9 692.9 1608.3 690.9C1605.8 688.8 1603.8 685.4 1602.7 682.9C1601.7 680.3 1601.3 677.8 1601.9 675.7Z" fill="#D7D5E4" /><path d="M1626 698.1C1628 695.2 1633.2 687.9 1637.2 684.5C1641.2 681 1645.5 678.5 1650 677.3C1654.6 676.1 1659.6 676.1 1664.4 677.3C1669.3 678.5 1675.7 681.8 1678.9 684.5C1682.1 687.1 1683.4 690.2 1683.7 693.3C1684 696.4 1682.6 699.6 1680.5 702.9C1678.3 706.2 1674.1 710.9 1670.9 713.3C1667.7 715.7 1665 717.5 1661.2 717.3C1657.5 717.2 1653.2 714.7 1648.4 712.5C1643.6 710.4 1636.3 706.2 1632.4 704.5C1628.5 702.8 1626.2 703.2 1625.2 702.1C1624.1 701 1624 701 1626 698.1Z" fill="#BEBAD3" /><path d="M1675.7 714.1C1676.5 711.6 1678.1 706 1680.5 703.7C1682.9 701.4 1686.1 700.6 1690.1 700.5C1694.1 700.4 1700 700.9 1704.5 702.9C1709.1 704.9 1713.3 708.2 1717.4 712.5C1721.4 716.8 1725.5 722.9 1728.6 728.6C1731.6 734.2 1735 741.5 1735.8 746.2C1736.6 750.9 1735.1 754.2 1733.4 756.6C1731.6 759 1729.1 760 1725.4 760.6C1721.6 761.3 1714.7 762 1710.9 760.6C1707.2 759.3 1705.6 754.2 1702.9 752.6C1700.3 751 1696.5 753.1 1694.9 751C1693.3 748.9 1694.9 743.8 1693.3 739.8C1691.7 735.8 1688.2 730.4 1685.3 727C1682.4 723.5 1677.3 721.1 1675.7 718.9C1674.1 716.8 1674.9 716.7 1675.7 714.1Z" fill="#A59FC3" /><path d="M1710.9 762.2C1713.1 761.4 1721.4 761.7 1725.4 762.2C1729.4 762.8 1733.1 763.6 1735 765.4C1736.9 767.3 1737.1 770.2 1736.6 773.4C1736.1 776.7 1733.9 781.7 1731.8 784.7C1729.6 787.6 1726.2 789.9 1723.8 791.1C1721.4 792.3 1718.3 794 1717.4 791.9C1716.4 789.7 1719 782.4 1718.2 778.3C1717.4 774.1 1713.7 769.7 1712.5 767C1711.3 764.4 1708.8 763 1710.9 762.2Z" fill="#7C74A6" /><path d="M1659.6 725.4C1660.8 722.8 1663.1 720.3 1666.1 719.7C1669 719.2 1673.8 720.4 1677.3 722.1C1680.7 723.9 1684.1 727 1686.9 730.2C1689.7 733.4 1692.8 737.9 1694.1 741.4C1695.4 744.9 1695.6 748.3 1694.9 751C1694.2 753.7 1692.5 754.5 1690.1 757.4C1687.7 760.4 1684.8 763.8 1680.5 768.6C1676.2 773.4 1670.1 781.3 1664.4 786.3C1658.8 791.2 1652.2 795.8 1646.8 798.3C1641.5 800.8 1635.9 801.8 1632.4 801.5C1628.9 801.2 1626.8 799.2 1626 796.7C1625.2 794.2 1626.5 789.9 1627.6 786.3C1628.6 782.7 1631.3 778 1632.4 775.1C1633.5 772.1 1631.9 771.3 1634 768.6C1636.1 766 1641.7 762.8 1645.2 759C1648.7 755.3 1652.6 750.2 1654.8 746.2C1657.1 742.2 1658 738.4 1658.8 735C1659.6 731.5 1658.4 727.9 1659.6 725.4Z" fill="#6E6799" /><path d="M1696.5 752.6C1698.7 751.9 1700.5 751.8 1702.9 753.4C1705.3 755 1708.4 758.4 1710.9 762.2C1713.5 766.1 1717.1 771.8 1718.2 776.7C1719.2 781.5 1719.6 786.5 1717.4 791.1C1715.1 795.6 1709.9 799.9 1704.5 803.9C1699.2 807.9 1691.4 812.7 1685.3 815.1C1679.1 817.5 1672.7 818.3 1667.7 818.3C1662.6 818.3 1658.7 817.5 1654.8 815.1C1651 812.7 1645.5 806.8 1644.4 803.9C1643.3 801 1645.1 800.4 1648.4 797.5C1651.8 794.6 1659.1 791.1 1664.4 786.3C1669.8 781.5 1676.2 773.4 1680.5 768.6C1684.8 763.8 1687.4 760.1 1690.1 757.4C1692.8 754.7 1694.4 753.3 1696.5 752.6Z" fill="#5C548E" /><path d="M1579.5 718.9C1579.5 716 1580.8 714.9 1584.3 712.5C1587.8 710.1 1595 706.2 1600.3 704.5C1605.7 702.8 1611 702.1 1616.4 702.1C1621.7 702.1 1627 702.8 1632.4 704.5C1637.7 706.2 1644.4 709.9 1648.4 712.5C1652.4 715.2 1654.7 717.1 1656.4 720.5C1658.2 724 1659.1 729.1 1658.8 733.4C1658.6 737.6 1657.1 741.9 1654.8 746.2C1652.6 750.5 1648.4 755.5 1645.2 759C1642 762.5 1638 765.6 1635.6 767C1633.2 768.5 1633.5 769.2 1630.8 767.8C1628.1 766.5 1624.6 762.9 1619.6 759C1614.5 755.1 1606.2 749.4 1600.3 744.6C1594.4 739.8 1587.8 734.4 1584.3 730.2C1580.8 725.9 1579.5 721.9 1579.5 718.9Z" fill="#8B84AE" /><path d="M1525.8 730.2C1526.3 726.7 1528 726.3 1529.8 725.4C1531.5 724.4 1533.5 724 1536.2 724.5C1538.9 725.1 1544.7 726.8 1545.8 728.6C1546.9 730.3 1543.4 732.3 1542.6 735C1541.8 737.6 1540.5 740.6 1541 744.6C1541.5 748.6 1544.6 754.5 1545.8 759C1547 763.6 1548.8 768.9 1548.2 771.8C1547.7 774.8 1544.9 775.9 1542.6 776.7C1540.3 777.5 1537 777.5 1534.6 776.7C1532.2 775.9 1529.6 774.5 1528.2 771.8C1526.7 769.2 1526 764.9 1525.8 760.6C1525.5 756.3 1526.6 751.3 1526.6 746.2C1526.6 741.1 1525.2 733.6 1525.8 730.2Z" fill="#B3AECB" /><path d="M1542.6 735C1544.5 731.9 1548.2 728.2 1552.2 726.2C1556.2 724.1 1562.4 723.1 1566.7 722.9C1570.9 722.8 1574.4 723.3 1577.9 725.4C1581.3 727.4 1583.2 731 1587.5 735C1591.8 739 1597.6 744.6 1603.5 749.4C1609.4 754.2 1618.2 759.8 1622.8 763.8C1627.3 767.8 1629.3 770.5 1630.8 773.4C1632.3 776.4 1632.9 778.3 1631.6 781.5C1630.2 784.7 1626.9 789.2 1622.8 792.7C1618.6 796.2 1612.1 800 1606.7 802.3C1601.4 804.6 1595.5 806 1590.7 806.3C1585.9 806.6 1581.9 805.9 1577.9 803.9C1573.9 801.9 1570.4 798.3 1566.7 794.3C1562.9 790.3 1558.9 785.7 1555.4 779.9C1552 774 1548.2 764.9 1545.8 759C1543.4 753.1 1541.5 748.6 1541 744.6C1540.5 740.6 1540.7 738 1542.6 735Z" fill="#8B84AE" /><path d="M1472.1 746.2C1472.9 741.9 1481.7 735.8 1486.5 731.8C1491.3 727.8 1496.6 724.1 1500.9 722.1C1505.2 720.1 1508.8 719.5 1512.1 719.7C1515.5 720 1519.1 721.5 1521 723.7C1522.8 726 1523 727 1523.4 733.4C1523.8 739.8 1523.9 755.8 1523.4 762.2C1522.8 768.6 1522.6 768.9 1520.2 771.8C1517.8 774.8 1512.4 778 1508.9 779.9C1505.5 781.7 1502.5 782.6 1499.3 782.7C1496.1 782.9 1491.6 782.7 1489.7 780.7C1487.8 778.6 1489.4 774.1 1488.1 770.2C1486.8 766.4 1484.4 761.4 1481.7 757.4C1479 753.4 1471.3 750.5 1472.1 746.2Z" fill="#BEBAD3" /><path d="M1451.2 755.8C1451.9 752.9 1453.9 749.9 1456 747.8C1458.2 745.7 1461.4 743.7 1464 743.5C1466.7 743.2 1469.1 743.9 1472.1 746.2C1475 748.5 1479 753.4 1481.7 757.4C1484.4 761.4 1486.9 766.5 1488.1 770.2C1489.3 774 1489.7 777.5 1488.9 779.9C1488.1 782.3 1485.6 783.1 1483.3 784.7C1481 786.3 1476.7 788 1475.3 789.5C1473.8 790.9 1475.8 793.2 1474.5 793.5C1473.1 793.8 1470.1 793.6 1467.3 791.1C1464.4 788.5 1460.2 782.5 1457.6 778.3C1455.1 774 1453.1 769.2 1452 765.4C1451 761.7 1450.6 758.8 1451.2 755.8Z" fill="#EBEAF1" /><path d="M1476.1 791.1C1476.5 788.1 1478.1 786.2 1480.1 784.7C1482.1 783.1 1485.2 781.9 1488.1 781.8C1491 781.6 1494.2 782.3 1497.7 783.9C1501.2 785.4 1504.7 788.5 1508.9 791.1C1513.2 793.6 1518.3 796.2 1523.4 799.1C1528.4 802 1535.1 806 1539.4 808.7C1543.7 811.4 1547 813.3 1549 815.1C1551 817 1551.4 818.1 1551.4 819.9C1551.4 821.8 1551 823.9 1549 826.4C1547 828.8 1542.6 832.5 1539.4 834.4C1536.2 836.2 1533.3 837.3 1529.8 837.6C1526.3 837.8 1522.8 837.8 1518.6 836C1514.3 834.1 1509.2 830.1 1504.1 826.4C1499.1 822.6 1492.5 817.5 1488.1 813.5C1483.7 809.5 1479.7 806 1477.7 802.3C1475.7 798.6 1475.7 794 1476.1 791.1Z" fill="#D9D7E5" /><path d="M1578.7 818.5C1580.1 816.8 1583.4 814.8 1587.5 813.7C1591.6 812.6 1598.2 812.2 1603.5 812.1C1608.9 812 1615.6 812.1 1619.6 812.9C1623.6 813.7 1625.8 815.2 1627.6 816.9C1629.4 818.6 1631.5 821.5 1630.5 823C1629.4 824.5 1624.6 824.1 1621.2 825.7C1617.7 827.4 1613.4 830.3 1609.9 832.9C1606.5 835.6 1602.6 839.3 1600.3 841.7C1598 844.1 1597.9 847.8 1596.3 847.4C1594.7 847 1592.7 842.3 1590.7 839.3C1588.7 836.4 1586.3 832.3 1584.3 829.7C1582.3 827.2 1579.6 826 1578.7 824.1C1577.7 822.2 1577.2 820.2 1578.7 818.5Z" fill="#AAA5C5" /><path d="M1531.4 840.9C1531.1 837.5 1533.3 835.6 1536.2 832.9C1539.1 830.3 1544.5 826.6 1549 824.9C1553.6 823.2 1558.9 822.4 1563.4 822.5C1568 822.6 1572.5 823.7 1576.3 825.7C1580 827.7 1583 830.7 1585.9 834.5C1588.8 838.4 1591.5 843.9 1593.9 849C1596.3 854 1598.5 859.9 1600.3 865C1602.2 870.1 1604.9 875.9 1605.1 879.4C1605.4 882.9 1603.8 884.5 1601.9 885.8C1600.1 887.2 1597.4 888 1593.9 887.4C1590.4 886.9 1585.9 884.8 1581.1 882.6C1576.3 880.5 1570.4 877.8 1565.1 874.6C1559.7 871.4 1553.6 866.9 1549 863.4C1544.5 859.9 1540.7 857.5 1537.8 853.8C1534.9 850 1531.6 844.4 1531.4 840.9Z" fill="#BCB8D1" /><path d="M1597.9 845.8C1598.2 842 1600.7 840.7 1603.5 837.7C1606.3 834.8 1611 830.5 1614.7 828.1C1618.5 825.8 1622.8 823.9 1626 823.6C1629.2 823.4 1631.6 824.7 1634 826.5C1636.4 828.3 1638.7 830.8 1640.4 834.5C1642.1 838.3 1643.9 843.9 1644.4 849C1644.9 854 1644.3 860.2 1643.6 865C1642.9 869.8 1642.3 874.5 1640.4 877.8C1638.5 881.2 1635.3 883.6 1632.4 885C1629.4 886.5 1626 887 1622.8 886.6C1619.6 886.2 1615.8 884.6 1613.1 882.6C1610.5 880.6 1608.6 878.4 1606.7 874.6C1604.9 870.9 1603.4 865 1601.9 860.2C1600.5 855.4 1597.6 849.5 1597.9 845.8Z" fill="#A8A3C4" /></g><g stroke="#000" stroke-width="1.4" stroke-linejoin="round"><path d="M1756.2 852.1C1758.3 845.7 1766.1 847.1 1772.2 844.1C1778.4 841.2 1789.1 830.2 1793.1 834.5C1797.1 838.8 1784.8 858.6 1796.3 869.8C1807.8 881 1851.6 894.6 1862 901.8C1872.4 909.1 1861.7 908.5 1858.8 913.1C1855.9 917.6 1849.4 924.8 1844.4 929.1C1839.3 933.4 1832.9 937.1 1828.3 938.7C1823.8 940.3 1823.3 940.6 1817.1 938.7C1811 936.8 1796.8 929.1 1791.5 927.5C1786.1 925.9 1787.7 927.9 1785.1 929.1C1782.4 930.3 1778.4 934.7 1775.4 934.7C1772.5 934.7 1770.6 932.2 1767.4 929.1C1764.2 926 1758.9 920.8 1756.2 916.3C1753.5 911.7 1750.8 907.5 1751.4 901.8C1751.9 896.2 1758.6 890.9 1759.4 882.6C1760.2 874.3 1754.1 858.6 1756.2 852.1Z" fill="#8B84AE" /><path d="M1849.2 820.1C1850.2 818.2 1853.5 817.4 1857.2 816.9C1860.9 816.3 1867.6 816.1 1871.6 816.9C1875.6 817.7 1880.4 820.6 1881.2 821.7C1882 822.8 1879.6 823.6 1876.4 823.3C1873.2 823 1865.7 820.3 1862 820.1C1858.3 819.8 1855.9 820.3 1854 821.7C1852.1 823 1851.6 828.4 1850.8 828.1C1850 827.8 1848.1 822 1849.2 820.1Z" fill="#EFEEF4" /><path d="M1770.6 808.9C1770.6 806.2 1772.5 803.9 1775.4 802.4C1778.4 801 1784 800.3 1788.3 800C1792.5 799.8 1797.5 799.8 1801.1 800.8C1804.7 801.9 1808.3 804 1809.9 806.5C1811.5 808.9 1811.6 812.3 1810.7 815.3C1809.8 818.2 1807.2 822 1804.3 824.1C1801.3 826.2 1796.5 827.8 1793.1 828.1C1789.6 828.4 1786.4 827.3 1783.4 825.7C1780.5 824.1 1777.6 821.3 1775.4 818.5C1773.3 815.7 1770.6 811.5 1770.6 808.9Z" fill="#D7D5E4" /><path d="M1728.9 826.5C1729.6 824 1730.8 820.2 1733.7 817.7C1736.7 815.1 1742.3 812.7 1746.6 811.3C1750.8 809.8 1755.7 808.5 1759.4 808.9C1763.1 809.3 1765.8 811.3 1769 813.7C1772.2 816.1 1775.7 820.1 1778.6 823.3C1781.6 826.5 1785.6 830 1786.7 832.9C1787.7 835.8 1786.4 838.2 1785.1 840.9C1783.7 843.6 1781 846.4 1778.6 848.9C1776.2 851.5 1773.8 855.4 1770.6 856.2C1767.4 857 1763.4 855.2 1759.4 853.7C1755.4 852.3 1750.6 849.7 1746.6 847.3C1742.6 844.9 1738.2 841.7 1735.4 839.3C1732.5 836.9 1730.8 835 1729.7 832.9C1728.7 830.8 1728.3 829 1728.9 826.5Z" fill="#BEBAD3" /><path d="M1677.6 876.2C1678.5 872.2 1680 865.5 1682.4 860.2C1684.8 854.8 1688.3 848.4 1692.1 844.1C1695.8 839.9 1700.1 836.6 1704.9 834.5C1709.7 832.4 1716.6 831.5 1720.9 831.6C1725.2 831.8 1727.6 833.2 1730.5 835.3C1733.5 837.4 1738.6 841.6 1738.6 844.1C1738.6 846.7 1734 847.3 1730.5 850.5C1727.1 853.7 1721.7 859.1 1717.7 863.4C1713.7 867.6 1709.4 871.9 1706.5 876.2C1703.6 880.5 1702.2 886.5 1700.1 889C1697.9 891.6 1696.6 891.4 1693.7 891.4C1690.7 891.4 1685.2 890.2 1682.4 889C1679.7 887.8 1678.1 886.3 1677.3 884.2C1676.5 882.1 1676.8 880.2 1677.6 876.2Z" fill="#A59FC3" /><path d="M1700.1 885.8C1700.6 882.6 1703.6 877.3 1706.5 873C1709.4 868.7 1713.7 864 1717.7 860.2C1721.7 856.3 1726.8 851.9 1730.5 849.7C1734.3 847.6 1737 847.2 1740.2 847.3C1743.4 847.5 1746.6 848.7 1749.8 850.5C1753 852.4 1757.5 855.9 1759.4 858.6C1761.3 861.2 1761.6 863.1 1761.3 866.6C1761.1 870 1759.5 875.1 1757.8 879.4C1756.1 883.7 1753.8 889 1751.4 892.2C1749 895.4 1746.8 897.3 1743.4 898.6C1739.9 900 1735.4 900.5 1730.5 900.2C1725.7 900 1719.1 898.4 1714.5 897C1710 895.7 1705.7 894.1 1703.3 892.2C1700.9 890.4 1699.5 889 1700.1 885.8Z" fill="#B3AECB" /><path d="M1675.2 903.4C1675.1 900.8 1676.7 898.6 1678.4 897C1680.2 895.4 1682 894.2 1685.7 893.8C1689.3 893.4 1695.3 893.8 1700.1 894.6C1704.9 895.4 1710.5 897.4 1714.5 898.6C1718.5 899.8 1724.4 900.5 1724.1 901.8C1723.9 903.2 1715.6 904.2 1712.9 906.7C1710.2 909.1 1709 912.8 1708.1 916.3C1707.2 919.7 1707.3 924.6 1707.3 927.5C1707.3 930.4 1709.3 933.6 1708.1 933.9C1706.9 934.2 1703.3 931.2 1700.1 929.1C1696.9 927 1692.3 923.8 1688.9 921.1C1685.4 918.4 1681.5 916 1679.2 913.1C1677 910.1 1675.4 906.1 1675.2 903.4Z" fill="#7C74A6" /><path d="M1724.1 901.8C1727.3 895.3 1738.6 900 1743.4 901C1748.2 902.1 1749.8 905.2 1753 908.3C1756.2 911.3 1760.3 915.7 1762.6 919.5C1765 923.2 1766.7 927 1767.1 930.7C1767.5 934.4 1766.6 938.9 1765 941.9C1763.5 945 1760.9 947.5 1757.8 949.1C1754.7 950.8 1750 951.7 1746.6 951.9C1743.1 952 1740.7 951.9 1737 949.9C1733.2 948 1726.3 948.3 1724.1 940.3C1722 932.3 1720.9 908.4 1724.1 901.8Z" fill="#635B96" /><path d="M1708.1 916.3C1708.6 912.5 1710.2 909.1 1712.9 906.7C1715.6 904.2 1720.4 902.4 1724.1 901.8C1727.9 901.3 1731.9 902.1 1735.4 903.4C1738.8 904.8 1742 907.2 1745 909.9C1747.9 912.5 1751.1 916 1753 919.5C1754.9 923 1755.9 927 1756.2 930.7C1756.5 934.4 1755.7 939 1754.6 941.9C1753.5 944.9 1751.9 946.9 1749.8 948.3C1747.6 949.8 1745 951 1741.8 950.7C1738.6 950.5 1734.5 948.7 1730.5 946.7C1726.5 944.7 1721.2 941.7 1717.7 938.7C1714.2 935.8 1711.3 932.8 1709.7 929.1C1708.1 925.4 1707.6 920 1708.1 916.3Z" fill="#5C548E" /><path d="M1785.1 860.2C1785.1 857 1785.1 851.5 1786.7 847.3C1788.3 843.2 1791.2 838.8 1794.7 835.3C1798.1 831.8 1802.7 829.3 1807.5 826.5C1812.3 823.7 1818.7 820.1 1823.5 818.5C1828.3 816.8 1832.6 816.4 1836.4 816.6C1840.1 816.7 1843.7 817.4 1846 819.3C1848.2 821.2 1849.4 824.5 1850 828.1C1850.5 831.7 1850.1 837.2 1849.2 840.9C1848.2 844.7 1846.8 848 1844.4 850.5C1842 853.1 1838.8 854.4 1834.7 856.2C1830.7 857.9 1825.4 859.2 1820.3 861C1815.2 862.7 1808.8 865.4 1804.3 866.6C1799.7 867.8 1796 868.2 1793.1 868.2C1790.1 868.2 1788 867.9 1786.7 866.6C1785.3 865.2 1785.1 863.4 1785.1 860.2Z" fill="#FFFFFF" /><path d="M1854 821.7C1855.6 820.6 1858.3 819.8 1862 820.1C1865.7 820.3 1871.4 821.4 1876.4 823.3C1881.5 825.2 1887.4 828.1 1892.5 831.3C1897.5 834.5 1902.6 838.8 1906.9 842.5C1911.2 846.3 1915.6 850.5 1918.1 853.7C1920.7 857 1922.1 859.1 1922.1 861.8C1922.1 864.4 1920.7 867.8 1918.1 869.8C1915.6 871.8 1912 873.1 1906.9 873.8C1901.8 874.5 1893.8 874.1 1887.7 873.8C1881.5 873.5 1874 873.4 1870 872.2C1866 871 1865.7 869.9 1863.6 866.6C1861.5 863.2 1858.9 857.2 1857.2 852.1C1855.5 847.1 1854 840.4 1853.2 836.1C1852.4 831.8 1852.3 828.9 1852.4 826.5C1852.5 824.1 1852.4 822.8 1854 821.7Z" fill="#EBEAF1" /><path d="M1805.1 911.5C1807 910.1 1810.3 911.5 1813.9 911.1C1817.5 910.7 1823 909.5 1826.7 909.1C1830.5 908.6 1833.7 908.1 1836.4 908.3C1839 908.4 1842.5 908.8 1842.8 910.2C1843 911.5 1840.6 914.2 1838 916.3C1835.3 918.4 1830.7 921.1 1826.7 922.7C1822.7 924.3 1817.6 925.5 1813.9 925.9C1810.2 926.3 1806.2 926.2 1804.3 925.1C1802.4 924 1802.6 921.8 1802.7 919.5C1802.8 917.2 1803.2 912.9 1805.1 911.5Z" fill="#CFCCDD" /><path d="M1753 903.4C1753.3 900.5 1754.1 895.7 1756.2 892.2C1758.3 888.8 1762.6 884.9 1765.8 882.6C1769 880.3 1773 879.1 1775.4 878.6C1777.8 878.1 1779.6 877.7 1780.2 879.4C1780.9 881.1 1778.4 885.7 1779.4 889C1780.5 892.4 1783.8 896.2 1786.7 899.4C1789.5 902.6 1793.3 906.3 1796.3 908.3C1799.2 910.3 1802.8 910.1 1804.3 911.5C1805.8 912.8 1805.6 914.4 1805.1 916.3C1804.6 918.1 1803.6 921.1 1801.1 922.7C1798.5 924.3 1794.1 926.2 1789.9 925.9C1785.6 925.6 1780 922.7 1775.4 921.1C1770.9 919.5 1766.1 918.1 1762.6 916.3C1759.1 914.4 1756.2 912 1754.6 909.9C1753 907.7 1752.7 906.4 1753 903.4Z" fill="#CCC9DC" /><path d="M1828.3 864.2C1828.6 861.6 1832.1 858.3 1834.7 856.2C1837.4 854 1841.4 852.3 1844.4 851.3C1847.3 850.4 1850.2 850.1 1852.4 850.5C1854.5 850.9 1855.3 851.1 1857.2 853.7C1859.1 856.4 1861.7 863.1 1863.6 866.6C1865.5 870 1868 871.4 1868.4 874.6C1868.8 877.8 1867.1 881.8 1866 885.8C1864.9 889.8 1863.7 895.2 1862 898.6C1860.3 902.1 1858.5 904.8 1855.6 906.7C1852.7 908.5 1848.4 909.5 1844.4 909.5C1840.4 909.5 1833.1 909 1831.5 906.7C1829.9 904.3 1834.1 899.4 1834.7 895.4C1835.4 891.4 1835.8 886.6 1835.6 882.6C1835.3 878.6 1834.3 874.5 1833.1 871.4C1831.9 868.3 1828.1 866.7 1828.3 864.2Z" fill="#CCC9DC" /><path d="M1779.4 885.8C1779.4 883.1 1780.1 878.9 1781.8 876.2C1783.6 873.5 1786.1 871.4 1789.9 869.8C1793.6 868.2 1799.2 867.8 1804.3 866.6C1809.4 865.4 1816.3 862.8 1820.3 862.6C1824.3 862.3 1826.1 863 1828.3 865C1830.6 867 1832.7 870.8 1833.9 874.6C1835.2 878.3 1835.7 883.1 1835.6 887.4C1835.4 891.7 1834.6 896.8 1833.1 900.2C1831.7 903.7 1829.9 906.5 1826.7 908.3C1823.5 910 1818.5 910.7 1813.9 910.7C1809.4 910.7 1803.8 910 1799.5 908.3C1795.2 906.5 1791.2 902.9 1788.3 900.2C1785.3 897.6 1783.3 894.6 1781.8 892.2C1780.4 889.8 1779.4 888.5 1779.4 885.8Z" fill="#EBEAF1" /><path d="M1868.4 874.6C1869.6 872.5 1870 873.1 1873.2 873C1876.4 872.9 1883.1 873.8 1887.7 874.1C1892.2 874.4 1897.8 873.2 1900.5 874.6C1903.2 876 1903.3 879.4 1903.7 882.6C1904.1 885.8 1904 890.4 1902.9 893.8C1901.8 897.3 1899.8 901 1897.3 903.4C1894.7 905.9 1891.4 907.5 1887.7 908.3C1883.9 909.1 1878.6 908.9 1874.8 908.3C1871.1 907.6 1867.2 905.9 1865.2 904.2C1863.2 902.6 1862.7 901.7 1862.8 898.6C1862.9 895.6 1865.1 889.8 1866 885.8C1866.9 881.8 1867.2 876.7 1868.4 874.6Z" fill="#B3AECB" /><path d="M1901.3 874.6C1902 873.1 1904.9 874.5 1907.7 873.8C1910.5 873 1915.6 871.8 1918.1 870.1C1920.7 868.4 1920.5 863.2 1922.9 863.4C1925.3 863.6 1929.6 868.7 1932.5 871.4C1935.5 874.1 1939.1 875.9 1940.6 879.4C1942 882.9 1941.9 888.2 1941.4 892.2C1940.8 896.2 1939.4 900.2 1937.4 903.4C1935.4 906.7 1932.3 909.6 1929.3 911.5C1926.4 913.3 1923.5 914.5 1919.7 914.7C1916 914.8 1910.8 913.7 1906.9 912.3C1903 910.8 1897.2 908.8 1896.5 905.9C1895.7 902.9 1901.2 898.5 1902.4 894.6C1903.6 890.8 1903.9 885.9 1903.7 882.6C1903.5 879.3 1900.6 876.1 1901.3 874.6Z" fill="#BEBAD3" /><path d="M1941.4 879.4C1942.4 876.6 1945.5 875.6 1947.8 875.7C1950 875.8 1952.9 877.7 1955 880.2C1957.1 882.7 1959.8 886.7 1960.6 890.6C1961.4 894.5 1961 899.2 1959.8 903.4C1958.6 907.7 1955.8 912.8 1953.4 916.3C1951 919.7 1948.3 922.7 1945.4 924.3C1942.4 925.8 1938.7 925.8 1935.8 925.6C1932.8 925.3 1929.9 924.2 1927.7 922.7C1925.6 921.1 1922.5 918.1 1922.9 916.3C1923.3 914.4 1927.6 913.6 1930.1 911.5C1932.7 909.3 1936.2 906.7 1938.2 903.4C1940.1 900.2 1941.1 896.2 1941.7 892.2C1942.2 888.2 1940.3 882.2 1941.4 879.4Z" fill="#EBEAF1" /><path d="M1859.6 949.9C1860.1 947.5 1863.2 944.6 1866.8 941.9C1870.4 939.3 1876.2 936.7 1881.2 933.9C1886.3 931.1 1892.2 927.9 1897.3 925.1C1902.4 922.3 1907.7 918.7 1911.7 917.1C1915.7 915.5 1918.1 914.8 1921.3 915.5C1924.5 916.1 1928.5 918.8 1930.9 921.1C1933.3 923.4 1935.5 925.9 1935.8 929.1C1936 932.3 1934.9 936.3 1932.5 940.3C1930.1 944.3 1925.6 949.4 1921.3 953.1C1917 956.9 1912 960.1 1906.9 962.8C1901.8 965.4 1895.4 968 1890.9 969.2C1886.3 970.4 1882.8 970.8 1879.6 970C1876.4 969.2 1874.3 966.6 1871.6 964.4C1869 962.1 1865.6 958.8 1863.6 956.4C1861.6 953.9 1859.1 952.3 1859.6 949.9Z" fill="#DCDAE7" /><path d="M1833.9 959C1836.4 956.9 1838.6 955.8 1842.8 954.8C1846.9 953.9 1854 952.5 1858.8 953.2C1863.6 954 1868.3 956.7 1871.6 959.3C1875 961.9 1877.4 966 1878.8 968.9C1880.3 971.9 1881.1 973.7 1880.4 977C1879.8 980.2 1877.9 984.4 1874.8 988.2C1871.8 991.9 1867.1 995.9 1862 999.4C1856.9 1002.9 1850.2 1006.1 1844.4 1009C1838.5 1012 1832.1 1015.3 1826.7 1017C1821.4 1018.8 1815.6 1019.7 1812.3 1019.4C1809 1019.2 1807.6 1017.7 1806.7 1015.4C1805.8 1013.2 1806 1009.6 1806.7 1005.8C1807.4 1002.1 1808.4 997.5 1810.7 993C1813 988.4 1817.4 982.8 1820.3 978.6C1823.3 974.3 1826.1 970.6 1828.3 967.3C1830.6 964.1 1831.5 961.1 1833.9 959Z" fill="#BCB8D1" /><path d="M1769 985C1769.8 983.5 1771.2 987.3 1773.8 989C1776.5 990.6 1780.8 993.7 1785.1 994.9C1789.3 996.1 1795.2 996.6 1799.5 996.2C1803.8 995.7 1809.4 991.1 1810.7 992.2C1812 993.3 1809.1 999 1807.5 1002.6C1805.9 1006.2 1803.8 1011.2 1801.1 1013.8C1798.4 1016.5 1794.9 1018 1791.5 1018.6C1788 1019.3 1783.4 1019.2 1780.2 1017.8C1777 1016.5 1774 1014 1772.2 1010.6C1770.4 1007.3 1769.9 1002.1 1769.3 997.8C1768.8 993.5 1768.3 986.4 1769 985Z" fill="#ABA6C6" /><path d="M1811.5 999.4C1811.5 996.6 1812.2 993.5 1813.9 989.8C1815.6 986 1819.3 980.7 1821.9 977C1824.6 973.2 1827.5 969.1 1829.9 967.3C1832.3 965.6 1834.2 965.5 1836.4 966.5C1838.5 967.6 1840.9 970.9 1842.8 973.7C1844.6 976.6 1846.6 980.4 1847.6 983.4C1848.5 986.3 1849.2 988.7 1848.4 991.4C1847.6 994.1 1845.6 997 1842.8 999.4C1840 1001.8 1835.3 1004.2 1831.5 1005.8C1827.8 1007.4 1823.3 1008.9 1820.3 1009C1817.4 1009.2 1815.4 1008.2 1813.9 1006.6C1812.4 1005 1811.5 1002.2 1811.5 999.4Z" fill="#ADA8C7" /><path d="M1769 976.9C1768.8 972.9 1770.1 968.1 1772.2 964C1774.4 960 1777.8 955.8 1781.8 952.8C1785.9 949.9 1790.9 947.9 1796.3 946.4C1801.6 944.9 1808.6 944.1 1813.9 944C1819.3 943.9 1825 944.3 1828.3 945.6C1831.7 946.9 1833.7 948.7 1833.9 952C1834.2 955.4 1831.9 961.2 1829.9 965.7C1827.9 970.1 1824.9 974.5 1821.9 978.5C1819 982.5 1816 986.8 1812.3 989.7C1808.6 992.6 1804 995 1799.5 995.8C1794.9 996.6 1789.3 995.8 1785.1 994.5C1780.8 993.2 1776.5 991 1773.8 988.1C1771.2 985.2 1769.3 980.9 1769 976.9Z" fill="#AAA5C5" /><path d="M1836.4 964.1C1836.6 961.1 1842.5 958.7 1846 956.9C1849.4 955.2 1853.7 953.9 1857.2 953.7C1860.7 953.5 1864.3 954.4 1866.8 955.6C1869.4 956.9 1871.6 958.8 1872.4 961.2C1873.2 963.7 1872.8 967.4 1871.6 970.5C1870.4 973.7 1867.3 977.6 1865.2 980.2C1863.1 982.7 1861.2 985.2 1858.8 985.8C1856.4 986.3 1853.2 985.1 1850.8 983.4C1848.4 981.6 1846.8 978.6 1844.4 975.4C1842 972.1 1836.1 967.2 1836.4 964.1Z" fill="#DEDCE9" /></g>
<g stroke="#000" stroke-width="0.9" stroke-linejoin="round"><path d="M222.8 757.7C223 755 224.2 752.7 226 751.3C227.9 749.9 231.6 748.8 234 749.4C236.5 749.9 238.7 751.8 240.5 754.5C242.2 757.2 242.6 762.3 244.5 765.7C246.3 769.2 248.3 772.4 251.7 775.4C255 778.3 260 781.1 264.5 783.4C269.1 785.6 275.2 787.4 278.9 789C282.7 790.6 285.1 790.7 287 793C288.8 795.3 288.8 798.9 290.2 802.6C291.5 806.3 293.8 812.2 295 815.4C296.2 818.6 298.2 820.5 297.4 821.8C296.6 823.2 293 823.7 290.2 823.4C287.4 823.2 284.5 822.4 280.5 820.2C276.5 818.1 271.2 814.6 266.1 810.6C261 806.6 255.4 801.3 250.1 796.2C244.7 791.1 238.2 785 234 780.2C229.9 775.4 227.1 771.1 225.2 767.3C223.4 763.6 222.7 760.4 222.8 757.7Z" fill="#2A788E" /><path d="M283.7 787.4C284.4 785.5 289.9 785.4 293.4 785C296.8 784.6 301.4 783.9 304.6 785C307.8 786 310.6 788.4 312.6 791.4C314.6 794.3 316.1 798.9 316.6 802.6C317.1 806.3 316.7 810.8 315.8 813.8C314.9 816.9 312.9 819.6 311 821C309.1 822.5 306.9 822.9 304.6 822.6C302.3 822.4 299.4 821.7 297.4 819.4C295.4 817.2 293.9 812.9 292.6 809C291.2 805.1 290.8 799.8 289.4 796.2C287.9 792.6 283.1 789.2 283.7 787.4Z" fill="#1FA088" /><path d="M296.6 716C298 714.7 302.5 713 306.2 712.8C309.9 712.7 314.2 713.4 319 715.2C323.8 717.1 330 721 335.1 724C340.1 727.1 345.5 730.5 349.5 733.7C353.5 736.9 356.7 740.1 359.1 743.3C361.5 746.5 363.2 750.1 363.9 752.9C364.6 755.7 364.7 758.7 363.1 760.1C361.5 761.6 356.6 762.8 354.3 761.7C352 760.7 352.2 756.8 349.5 753.7C346.8 750.6 342.8 746.3 338.3 743C333.7 739.7 327 736.2 322.2 734C317.4 731.8 312.7 731 309.4 729.7C306.1 728.3 304.2 727.1 302.2 725.7C300.2 724.2 298.3 722.4 297.4 720.8C296.4 719.2 295.1 717.4 296.6 716Z" fill="#22A386" /><path d="M248.5 738.5C248.7 737 252 731.5 254.9 728.9C257.8 726.2 261.6 723.8 266.1 722.4C270.7 721.1 277.1 720.7 282.1 720.8C287.2 721 292.6 721.9 296.6 723.2C300.6 724.6 305.7 727.5 306.2 728.9C306.7 730.2 303.5 729.9 299.8 731.3C296 732.6 288.6 735.1 283.7 736.9C278.9 738.6 274.4 741.1 270.9 741.7C267.4 742.2 265.8 740.7 262.9 740.1C260 739.4 255.7 737.9 253.3 737.7C250.9 737.4 248.2 739.9 248.5 738.5Z" fill="#414487" /><path d="M237.3 749.7C237.7 746.8 241 743.7 243.7 741.7C246.3 739.7 250.1 737.9 253.3 737.7C256.5 737.4 260 739.4 262.9 740.1C265.8 740.8 270.7 740.7 270.9 742C271.2 743.3 265.8 745.7 264.5 748.1C263.2 750.4 262.8 753.4 262.9 756.1C263 758.8 266.4 762.4 265.3 764.1C264.2 765.9 259.8 765.9 256.5 766.5C253.2 767.2 247.8 769.3 245.3 768.1C242.7 766.9 242.6 762.4 241.3 759.3C239.9 756.2 236.9 752.6 237.3 749.7Z" fill="#365D8D" /><path d="M351.1 761.7C352.3 760.3 358.6 759.7 360.7 760.1C362.8 760.5 363.5 762.4 363.6 764.1C363.7 765.9 362.8 768.9 361.5 770.5C360.2 772.1 357.3 774 355.9 773.7C354.5 773.5 354 770.9 353.2 768.9C352.4 766.9 349.8 763.2 351.1 761.7Z" fill="#3FBC73" /><path d="M262.9 751.3C264 748.1 267.4 744.1 270.9 741.7C274.4 739.3 278.9 738.6 283.7 736.9C288.6 735.1 295.5 732.3 299.8 731.3C304.1 730.2 305.7 729.9 309.4 730.5C313.1 731 317.7 732.3 322.2 734.5C326.8 736.6 332.4 740.2 336.7 743.3C340.9 746.4 345.1 749.4 347.9 752.9C350.7 756.4 352.7 760.7 353.5 764.1C354.3 767.6 354.2 770.5 352.7 773.7C351.2 777 348.1 781 344.7 783.4C341.2 785.8 336.1 787.6 331.8 788.2C327.6 788.7 323.3 787.4 319 786.6C314.7 785.8 309.9 783.8 306.2 783.4C302.5 783 299.8 783.6 296.6 784.2C293.4 784.7 290.2 787 287 786.6C283.7 786.2 280.3 784.2 277.3 781.8C274.4 779.4 271.5 775.6 269.3 772.1C267.2 768.7 265.6 764.4 264.5 760.9C263.4 757.4 261.8 754.5 262.9 751.3Z" fill="#BADD27" /></g><g stroke="#000" stroke-width="0.9" stroke-linejoin="round"><path d="M506.6 752.1C507.9 751.6 511.1 751.7 513 752.9C514.9 754.1 517.1 756.6 517.8 759.3C518.5 762 518.1 765.5 517 768.9C515.9 772.4 514.5 775.9 511.4 780.2C508.3 784.4 503.4 790 498.6 794.6C493.8 799.1 487.9 803.7 482.5 807.4C477.2 811.2 471.9 814.5 466.5 817C461.2 819.6 454.8 821.7 450.5 822.6C446.2 823.6 443.3 823.8 440.9 822.6C438.5 821.4 436.7 818.1 436.1 815.4C435.4 812.8 435.5 809.3 436.9 806.6C438.2 803.9 440.2 801.9 444.1 799.4C447.9 796.9 454.2 794.1 460.1 791.4C466 788.7 473.7 786.3 479.3 783.4C484.9 780.4 490 777 493.8 773.7C497.5 770.5 499.9 767.1 501.8 764.1C503.7 761.2 504.2 758.1 505 756.1C505.8 754.1 505.3 752.6 506.6 752.1Z" fill="#2A788E" /><path d="M420 802.6C420.4 799.7 421.4 795.5 423.2 793C425.1 790.4 428 788.6 431.2 787.4C434.4 786.2 439 785.8 442.5 785.8C445.9 785.8 450.1 786.4 452.1 787.4C454.1 788.3 455.6 789.6 454.5 791.4C453.4 793.1 448.5 795.7 445.7 797.8C442.9 799.9 439.4 801.8 437.7 804.2C435.9 806.6 435.3 809.7 435.3 812.2C435.3 814.8 438.2 817.7 437.7 819.4C437.1 821.2 434.2 822.8 432 822.6C429.9 822.5 426.7 820.6 424.8 818.6C423 816.6 421.6 813.3 420.8 810.6C420 807.9 419.6 805.5 420 802.6Z" fill="#1FA088" /><path d="M399.2 764.1C400.2 761.5 406.4 758.8 408.8 756.1C411.2 753.4 412.5 747.3 413.6 748.1C414.7 748.9 413.9 757.7 415.2 760.9C416.5 764.1 418.4 765.9 421.6 767.3C424.8 768.8 430.2 769.5 434.4 769.7C438.7 770 443 769.2 447.3 768.9C451.5 768.7 455.8 767.9 460.1 768.1C464.4 768.4 471.3 769.3 472.9 770.5C474.5 771.7 471.9 773.5 469.7 775.4C467.6 777.2 463.3 780.3 460.1 781.8C456.9 783.2 454.2 784.2 450.5 784.2C446.7 784.2 441.9 782.3 437.7 781.8C433.4 781.2 428.3 780.2 424.8 781C421.4 781.8 419.5 785.2 416.8 786.6C414.1 787.9 410.9 789.5 408.8 789C406.7 788.4 405.1 786.2 404 783.4C402.9 780.6 403.2 775.4 402.4 772.1C401.6 768.9 398.1 766.8 399.2 764.1Z" fill="#BADD27" /><path d="M407.2 764.1C406.9 762 409.3 760.7 410.4 760.1C411.5 759.6 412.5 760 413.6 760.9C414.7 761.9 414.9 764.4 416.8 765.7C418.7 767.1 421.4 768.1 424.8 768.9C428.3 769.7 433.4 770.4 437.7 770.5C441.9 770.7 446.7 770.1 450.5 769.7C454.2 769.4 458.8 768.1 460.1 768.6C461.4 769.2 460.1 771.7 458.5 772.9C456.9 774.2 454 775.5 450.5 776.2C447 776.8 442.2 777 437.7 777C433.1 777 427.5 776.8 423.2 776.2C419 775.5 414.7 774.9 412 772.9C409.3 770.9 407.5 766.3 407.2 764.1Z" fill="#6DCD59" /><path d="M371.9 764.1C372.3 762.3 374.3 761.2 376.7 760.9C379.1 760.7 382.9 761.9 386.4 762.5C389.8 763.2 394.6 763.6 397.6 764.9C400.5 766.3 402.3 768 404 770.5C405.7 773.1 407.5 777.4 408 780.2C408.5 783 408.4 785.8 407.2 787.4C406 789 403.5 789.9 400.8 789.8C398.1 789.6 394.4 788.2 391.2 786.6C388 785 384.3 782.6 381.5 780.2C378.7 777.8 375.9 774.8 374.3 772.1C372.7 769.5 371.5 766 371.9 764.1Z" fill="#40BD72" /><path d="M374.3 751.3C374.6 748.2 376.1 745.2 378.3 741.7C380.6 738.2 383.9 733.9 388 730.5C392 727 397 723.6 402.4 720.8C407.7 718 414.7 715.1 420 713.6C425.4 712.2 431 711.8 434.4 712C437.9 712.3 440.3 714.3 440.9 715.2C441.4 716.2 439.5 716.2 437.7 717.6C435.8 719.1 432.6 721.4 429.6 724C426.7 726.7 422.4 729.9 420 733.7C417.6 737.4 417.1 742.8 415.2 746.5C413.3 750.2 411.2 753.6 408.8 756.1C406.4 758.7 404.5 760.8 400.8 761.7C397 762.7 390.4 762 386.4 761.7C382.3 761.5 378.7 761.9 376.7 760.1C374.7 758.4 374.1 754.4 374.3 751.3Z" fill="#22A386" /><path d="M455.3 760.9C455.7 758.8 456.4 756.2 458.5 754.5C460.6 752.9 464.1 751.9 468.1 751C472.1 750 478 749.9 482.5 748.9C487.1 747.9 491.9 744.5 495.4 744.9C498.8 745.3 501.6 748.9 503.4 751.3C505.1 753.7 505.8 756.6 505.8 759.3C505.8 762 505.1 765.2 503.4 767.3C501.6 769.5 498.3 771.2 495.4 772.1C492.4 773.1 489.2 773.5 485.8 772.9C482.3 772.4 478.3 769.9 474.5 768.9C470.8 768 466.4 767.6 463.3 767.3C460.2 767.1 457.4 768.4 456.1 767.3C454.8 766.3 454.9 763.1 455.3 760.9Z" fill="#365D8D" /><path d="M413.6 746.5C414.1 742 415.7 737.4 418.4 733.7C421.1 729.9 425.4 726.6 429.6 724C433.9 721.5 438.7 719.5 444.1 718.4C449.4 717.4 456.6 717.2 461.7 717.6C466.8 718 470.8 718.7 474.5 720.8C478.3 723 481.2 727.3 484.1 730.5C487.1 733.7 490.3 737.7 492.2 740.1C494 742.5 497 743.4 495.4 744.9C493.8 746.4 487.4 747.8 482.5 748.9C477.7 750 470.5 750.1 466.5 751.3C462.5 752.5 460.4 754 458.5 756.1C456.6 758.2 457.2 762.1 455.3 764.1C453.4 766.1 450.7 767.3 447.3 768.1C443.8 768.9 438.7 769.1 434.4 768.9C430.2 768.8 424.8 768.7 421.6 767.3C418.4 766 416.5 764.4 415.2 760.9C413.9 757.4 413.1 751 413.6 746.5Z" fill="#414487" /></g><g stroke="#000" stroke-width="0.9" stroke-linejoin="round"><path d="M292.8 864.1C293 861.6 294.4 858.5 296 856.9C297.6 855.3 300.4 854.2 302.4 854.5C304.4 854.8 306.5 856.1 308.1 858.5C309.7 860.9 310.3 865.6 312.1 868.9C313.8 872.3 315.5 875.6 318.5 878.6C321.4 881.5 326 884.4 329.7 886.6C333.4 888.7 340.4 889.8 340.9 891.4C341.5 893 335.3 894.3 332.9 896.2C330.5 898.1 329.2 902.6 326.5 902.6C323.8 902.6 320.6 899.4 316.9 896.2C313.1 893 307.7 887.4 304 883.4C300.4 879.4 297.1 875.4 295.2 872.1C293.4 868.9 292.7 866.7 292.8 864.1Z" fill="#31688E" /><path d="M324.9 903.4C325.2 901.3 328.6 898.1 331.3 896.2C334 894.2 337.7 892 340.9 891.7C344.1 891.4 347.9 893.3 350.5 894.6C353.2 895.9 355.4 897.8 357 899.4C358.6 901 359.1 901.5 360.2 904.2C361.2 906.9 362.2 912 363.4 915.4C364.6 918.9 367.9 923.2 367.4 925.1C366.8 926.9 363 926.9 360.2 926.7C357.4 926.4 354 925.3 350.5 923.4C347.1 921.6 342.8 917.8 339.3 915.4C335.8 913 332.1 911 329.7 909C327.3 907 324.6 905.5 324.9 903.4Z" fill="#26828E" /><path d="M353.7 892.2C354.5 890.6 357.2 889.1 360.2 888.2C363.1 887.2 368.2 886.3 371.4 886.6C374.6 886.8 377.3 888.2 379.4 889.8C381.5 891.4 382.9 893.3 384.2 896.2C385.5 899.1 387.1 903.7 387.4 907.4C387.7 911.2 386.9 915.7 385.8 918.6C384.7 921.6 383.1 923.7 381 925.1C378.9 926.4 375.2 926.8 373 926.7C370.8 926.5 369.5 926.4 367.9 924.2C366.3 922.1 364.6 917.3 363.4 913.8C362.1 910.4 361.5 906.1 360.2 903.4C358.8 900.7 356.4 899.7 355.4 897.8C354.3 895.9 352.9 893.8 353.7 892.2Z" fill="#1F9E89" /><path d="M363.4 820.8C364.2 819.5 366.6 817 369.8 816C373 815.1 378.1 814.7 382.6 815.2C387.1 815.8 393 817.5 397 819.2C401 821 405.6 823.5 406.7 825.7C407.7 827.8 404.8 830.1 403.4 832.1C402.1 834.1 400.5 836.9 398.6 837.7C396.8 838.5 394.9 837.8 392.2 836.9C389.6 835.9 386.1 833.5 382.6 832.1C379.1 830.6 374.3 829.4 371.4 828.1C368.4 826.7 366.3 825.3 365 824C363.6 822.8 362.6 822.2 363.4 820.8Z" fill="#2C728E" /><path d="M400.2 836.1C399.7 834.2 402.9 830.3 405.1 828.9C407.2 827.4 410.1 826.5 413.1 827.3C416 828.1 419.7 831 422.7 833.7C425.6 836.3 428.6 840.3 430.7 843.3C432.8 846.2 435 849 435.5 851.3C436 853.6 435.2 855.6 433.9 856.9C432.6 858.2 429.4 859.1 427.5 859.3C425.6 859.6 424.6 860.4 422.7 858.5C420.8 856.6 418.7 851.2 416.3 848.1C413.9 845 410.9 842.1 408.3 840.1C405.6 838.1 400.8 837.9 400.2 836.1Z" fill="#2DB27D" /><path d="M422.7 859.3C423.5 858.1 427.1 858.1 429.1 858.5C431.1 858.9 433.7 860 434.7 861.7C435.7 863.5 435.9 866.9 435.2 868.9C434.5 870.9 432.4 873.1 430.7 873.7C429 874.4 426.2 874.3 425.1 872.9C424 871.6 424.7 868 424.3 865.7C423.9 863.5 421.9 860.5 422.7 859.3Z" fill="#7AD151" /><path d="M320.1 841.7C320.1 839.7 323.8 834.6 326.5 832.1C329.2 829.5 332.6 827.6 336.1 826.5C339.6 825.3 344.4 824.9 347.3 825.3C350.3 825.7 352.4 827.6 353.7 828.9C355.1 830.1 357 831.4 355.4 832.9C353.7 834.3 347.9 835.9 344.1 837.7C340.4 839.4 335.8 842.2 332.9 843.3C330 844.4 328.6 844.4 326.5 844.1C324.4 843.8 320.1 843.7 320.1 841.7Z" fill="#482878" /><path d="M352.9 826.5C353.7 825 357.8 824.6 360.2 824.8C362.6 825.1 365.8 827.1 367.4 828.1C369 829 370.7 829.8 369.8 830.5C368.8 831.1 364.2 831.5 361.8 832.1C359.4 832.6 356.8 834.6 355.4 833.7C353.9 832.7 352.1 827.9 352.9 826.5Z" fill="#3E4A89" /><path d="M307.3 857.7C307.4 854.8 309.9 852.1 312.1 849.7C314.2 847.3 317.5 844.2 320.1 843.3C322.6 842.4 325.7 843.3 327.3 844.1C328.9 844.9 329.6 846.1 329.7 848.1C329.8 850.1 327.8 852.9 328.1 856.1C328.4 859.3 331.8 864.5 331.3 867.3C330.8 870.1 327.3 871.7 324.9 872.9C322.5 874.1 319.1 875.5 316.9 874.5C314.6 873.6 312.9 870.1 311.3 867.3C309.7 864.5 307.1 860.7 307.3 857.7Z" fill="#3B528B" /><path d="M392.2 839.3C394 837.7 398.6 838.6 401.8 840.1C405.1 841.5 408.3 844.9 411.5 848.1C414.7 851.3 418.8 855.8 421.1 859.3C423.4 862.8 424.7 866 425.1 868.9C425.5 871.9 425 874.5 423.5 877C422 879.4 419.3 881.5 416.3 883.4C413.2 885.2 408.5 887.2 405.1 888.2C401.6 889.1 398.6 889.5 395.4 889C392.2 888.4 389.3 886.7 385.8 885C382.3 883.2 375.7 881 374.6 878.6C373.5 876.2 377.5 873.5 379.4 870.5C381.3 867.6 383.8 864.4 385.8 860.9C387.8 857.4 390.4 853.3 391.4 849.7C392.5 846.1 390.5 840.9 392.2 839.3Z" fill="#FDE725" /><path d="M329.7 851.3C330.5 848.6 331.6 845.7 334.5 843.3C337.4 840.9 342.5 838.7 347.3 836.9C352.1 835 358 832.9 363.4 832.1C368.7 831.3 375.1 831.4 379.4 832.1C383.7 832.7 386.9 834.5 389 836.1C391.2 837.7 392 839.1 392.2 841.7C392.5 844.2 392 847.8 390.6 851.3C389.3 854.8 386.3 859.1 384.2 862.5C382.1 866 379.7 869.5 377.8 872.1C375.9 874.8 375.7 876.4 373 878.6C370.3 880.7 365.5 883.8 361.8 885C358 886.2 353.7 886.6 350.5 885.8C347.3 885 345.2 883 342.5 880.2C339.9 877.4 336.6 872.4 334.5 868.9C332.4 865.5 330.5 862.3 329.7 859.3C328.9 856.4 328.9 854 329.7 851.3Z" fill="#7AD151" /></g><g stroke="#000" stroke-width="0.9" stroke-linejoin="round"><path d="M575.8 860.9C577 859.3 580.3 859.9 582.2 860.9C584.1 862 586.2 864.7 587 867.3C587.8 870 587.9 873.5 587 877C586.1 880.4 584.2 884.7 581.4 888.2C578.6 891.6 574.2 895.1 570.2 897.8C566.2 900.5 561.1 902.6 557.4 904.2C553.6 905.8 550.4 907.7 547.7 907.4C545.1 907.1 543.5 904.5 541.3 902.6C539.2 900.7 534.6 898.1 534.9 896.2C535.2 894.3 539.2 893.3 542.9 891.4C546.7 889.5 553.1 887.1 557.4 885C561.6 882.8 565.6 881 568.6 878.6C571.5 876.2 573.8 873.5 575 870.5C576.2 867.6 574.6 862.5 575.8 860.9Z" fill="#31688E" /><path d="M503.6 912.2C504.4 910.2 506.5 909 509.3 907.4C512.1 905.8 516.2 904.3 520.5 902.6C524.8 900.9 531.4 897 534.9 897C538.4 897 539.2 900.7 541.3 902.6C543.5 904.5 547.2 906.3 547.7 908.2C548.3 910.1 546.9 911.6 544.5 913.8C542.1 916.1 537.3 919.6 533.3 921.8C529.3 924.1 524.2 926.1 520.5 927.5C516.7 928.8 513.3 930 510.9 929.9C508.5 929.7 507.1 928.4 506.1 926.7C505 924.9 504.8 921.8 504.4 919.4C504 917 502.8 914.2 503.6 912.2Z" fill="#26828E" /><path d="M490 919.4C492.2 918.5 501.1 917.4 503.6 918.6C506.2 919.8 505.7 925.1 505.3 926.7C504.8 928.3 503 928.1 501.2 928.3C499.5 928.4 496.6 928.1 494.8 927.5C493.1 926.8 491.6 925.6 490.8 924.2C490 922.9 487.9 920.4 490 919.4Z" fill="#26828E" /><path d="M488.4 905.8C489 903.4 489.8 899.8 491.6 897.8C493.5 895.8 496.2 894.6 499.6 893.8C503.1 893 508.7 892.9 512.5 893C516.2 893.1 520.2 893.7 522.1 894.6C524 895.5 524.8 897.3 523.7 898.6C522.6 899.9 518.3 901.1 515.7 902.6C513 904.1 509.8 905.8 507.7 907.4C505.5 909 503.5 910.4 502.8 912.2C502.2 914.1 505 917.4 503.6 918.6C502.3 919.8 497.1 919.4 494.8 919.4C492.6 919.4 491.1 919.8 490 918.6C488.9 917.4 488.4 914.4 488.1 912.2C487.8 910.1 487.8 908.2 488.4 905.8Z" fill="#1F9E89" /><path d="M470.8 868.9C471 866.3 475.6 864.4 477.2 861.7C478.8 859.1 479.2 855.2 480.4 852.9C481.6 850.6 483.3 847.6 484.4 848.1C485.5 848.6 486.7 852.9 486.8 856.1C486.9 859.3 484.9 864.4 485.2 867.3C485.5 870.3 486 871.9 488.4 873.7C490.8 875.6 497.1 877 499.6 878.6C502.2 880.2 503.6 881.9 503.6 883.4C503.6 884.8 502.2 886 499.6 887.4C497.1 888.7 491.8 890.3 488.4 891.4C485.1 892.5 481.2 894.6 479.6 893.8C478 893 479.5 889.2 478.8 886.6C478.1 883.9 476.9 880.7 475.6 877.8C474.3 874.8 470.5 871.6 470.8 868.9Z" fill="#FDE725" /><path d="M504.4 884.2C504.7 883.6 509.3 885.9 512.5 885.8C515.7 885.6 520.5 884.6 523.7 883.4C526.9 882.2 529 879.1 531.7 878.6C534.4 878 538.9 879 539.7 880.2C540.5 881.4 538.4 884 536.5 885.8C534.6 887.5 531.4 889.6 528.5 890.6C525.6 891.5 521.8 891.6 518.9 891.4C515.9 891.1 513.3 890.2 510.9 889C508.5 887.8 504.2 884.7 504.4 884.2Z" fill="#7AD151" /><path d="M478 870.5C477.7 868.5 480.5 865.7 482 865.7C483.5 865.7 484.7 868.9 486.8 870.5C489 872.1 491.9 874.3 494.8 875.4C497.8 876.4 501 877 504.4 877C507.9 877 511.9 875.8 515.7 875.4C519.4 874.9 524.5 874 526.9 874.5C529.3 875.1 530.6 877.1 530.1 878.6C529.6 880 526.6 882.2 523.7 883.4C520.7 884.6 515.7 885.6 512.5 885.8C509.3 885.9 507.4 885.1 504.4 884.2C501.5 883.2 498.3 881.2 494.8 880.2C491.4 879.1 486.4 879.4 483.6 877.8C480.8 876.2 478.3 872.5 478 870.5Z" fill="#44BF70" /><path d="M441.9 865.7C442.6 864.7 443.8 864.1 445.1 864.1C446.5 864.1 449.3 864.7 449.9 865.7C450.6 866.8 449.4 868.4 449.1 870.5C448.9 872.7 449.1 877.8 448.3 878.6C447.5 879.4 445.5 876.7 444.3 875.4C443.1 874 441.5 872.1 441.1 870.5C440.7 868.9 441.3 866.8 441.9 865.7Z" fill="#7AD151" /><path d="M449.9 872.1C450.6 870.1 452.3 868.8 454.7 868.1C457.2 867.5 461.7 867.7 464.4 868.1C467 868.5 468.9 868.8 470.8 870.5C472.7 872.3 474.3 875.6 475.6 878.6C476.9 881.5 478.4 885.9 478.8 888.2C479.2 890.4 479.1 891.1 478 892.2C476.9 893.3 474.7 894.6 472.4 894.6C470.1 894.6 467 893.5 464.4 892.2C461.7 890.8 458.6 888.6 456.4 886.6C454.1 884.6 451.8 882.6 450.7 880.2C449.7 877.8 449.3 874.1 449.9 872.1Z" fill="#6DCD59" /><path d="M443.5 854.5C443.9 852 444.9 847.7 446.7 844.9C448.6 842.1 451.8 839.4 454.7 837.7C457.7 835.9 461.4 834.1 464.4 834.5C467.3 834.9 470 838.2 472.4 840.1C474.8 842 477.6 843.3 478.8 845.7C480 848.1 480.1 851.7 479.6 854.5C479.1 857.3 477.3 860.4 475.6 862.5C473.9 864.7 471.9 866.5 469.2 867.3C466.5 868.1 462.8 867.7 459.6 867.3C456.4 866.9 452.5 866.1 449.9 864.9C447.4 863.7 445.4 861.9 444.3 860.1C443.3 858.4 443.1 857 443.5 854.5Z" fill="#2DB27D" /><path d="M466.8 833.7C467.6 832.1 469.6 829.4 472.4 827.3C475.2 825.1 479.3 822.5 483.6 820.8C487.9 819.2 493.8 817.7 498 817.3C502.3 816.9 506.9 817.6 509.3 818.4C511.7 819.3 513.3 821.1 512.5 822.4C511.7 823.8 507.4 824.6 504.4 826.5C501.5 828.3 497.5 831.1 494.8 833.7C492.2 836.2 490 839.5 488.4 841.7C486.8 843.8 486.8 846 485.2 846.5C483.6 847 480.9 846 478.8 844.9C476.7 843.8 474.3 841.4 472.4 840.1C470.5 838.7 468.5 837.9 467.6 836.9C466.6 835.8 466 835.3 466.8 833.7Z" fill="#2C728E" /><path d="M552.5 858C554.9 855.6 562.7 854 566.2 854.5C569.6 855 571.8 858.5 573.4 860.9C575 863.3 575.8 866.3 575.8 868.9C575.8 871.6 574.9 874.8 573.4 877C571.9 879.1 569.4 880.8 567 881.8C564.6 882.7 561.4 883.1 559 882.6C556.6 882 553.7 880.8 552.5 878.6C551.3 876.3 551.7 872.4 551.7 868.9C551.7 865.5 550.1 860.4 552.5 858Z" fill="#3B528B" /><path d="M530.1 860.1C532.1 858.2 536 859.3 539.7 859C543.5 858.7 550.4 856.6 552.5 858C554.7 859.4 552.8 864.4 552.5 867.3C552.3 870.2 552.5 873.7 550.9 875.4C549.3 877 546.1 877 542.9 877C539.7 877 534.2 876.4 531.7 875.4C529.2 874.3 528 873.1 527.7 870.5C527.4 868 528.1 862 530.1 860.1Z" fill="#33638D" /><path d="M523.7 827.3C525.2 825.4 529.8 825.4 533.3 825.7C536.8 825.9 540.8 826.7 544.5 828.9C548.3 831 552.5 835.3 555.8 838.5C559 841.7 562 845.4 563.8 848.1C565.5 850.8 568 852.9 566.2 854.5C564.3 856.1 557 857 552.5 857.7C548.1 858.4 543.5 858.2 539.7 858.5C536 858.8 532.1 861.1 530.1 859.3C528.1 857.6 528.6 851.8 527.7 848.1C526.8 844.4 525.2 840.3 524.5 836.9C523.8 833.4 522.2 829.1 523.7 827.3Z" fill="#482878" /><path d="M484.4 848.1C485.2 845.4 486.4 842.8 488.4 840.1C490.4 837.4 493.2 834.3 496.4 832.1C499.6 829.8 504.2 827.7 507.7 826.5C511.1 825.3 514.6 824.7 517.3 824.8C519.9 825 522.4 824.7 523.7 827.3C525 829.8 524.5 836.1 525.3 840.1C526.1 844.1 527.7 847.8 528.5 851.3C529.3 854.8 530.2 857.7 530.1 860.9C530 864.1 528.5 868.1 527.7 870.5C526.9 872.9 527.6 874.4 525.3 875.4C523 876.3 517.8 876 514.1 876.2C510.3 876.3 506.6 876.7 502.8 876.2C499.1 875.6 494.6 874.7 491.6 872.9C488.7 871.2 486.5 868.5 485.2 865.7C483.9 862.9 483.7 859.1 483.6 856.1C483.5 853.2 483.6 850.8 484.4 848.1Z" fill="#3B5A8C" /></g><g stroke="#000" stroke-width="0.9" stroke-linejoin="round"><path d="M380.7 953.8C380.4 953.1 383.1 949.5 384.8 947.3C386.4 945.1 388.5 942.4 390.4 940.8C392.3 939.2 394.9 938.2 396.1 937.6C397.3 936.9 398.3 936.3 397.8 937.1C397.2 938 393.8 941 392.9 942.4C391.9 943.8 391.8 944.7 392.1 945.7C392.3 946.6 393 947.2 394.5 948.1C396 949 400.2 950.5 401 951.3C401.8 952.2 401 953.2 399.4 953C397.8 952.8 393.4 950.4 391.3 950.1C389.1 949.9 388.1 950.7 386.4 951.3C384.6 952 381 954.5 380.7 953.8Z" fill="#443A83" /><path d="M418.9 934.3C419.1 933.2 421.3 932.5 422.9 932.3C424.6 932.1 426.3 932.4 428.6 933.1C430.9 933.8 434.3 935.1 436.7 936.3C439.2 937.6 441.9 939.6 443.2 940.4C444.6 941.2 446 940.9 444.9 941.2C443.8 941.5 439.5 941.5 436.7 942.4C434 943.3 430.4 945.3 428.6 946.5C426.9 947.7 427.1 949 426.2 949.7C425.3 950.4 423.9 951.2 423.3 950.5C422.8 949.9 423.3 947.6 422.9 945.7C422.6 943.8 422 941.1 421.3 939.2C420.6 937.3 418.6 935.5 418.9 934.3Z" fill="#443A83" /><path d="M392.9 942.4C393.8 940.8 395.9 937.6 397.8 935.9C399.7 934.3 401.8 933.3 404.3 932.7C406.7 932.1 410.1 932.1 412.4 932.3C414.7 932.5 416.7 932.8 418.1 933.9C419.4 935.1 419.7 937.2 420.5 939.2C421.3 941.1 422.5 943.6 422.9 945.7C423.3 947.7 423.5 950.3 422.9 951.3C422.4 952.4 421.4 951.4 419.7 951.8C417.9 952.1 414.1 952.9 412.4 953.4C410.6 953.9 411 954.9 409.1 954.6C407.2 954.3 403.4 952.4 401 951.3C398.6 950.3 396 949 394.5 948.1C393 947.2 392.3 946.6 392.1 945.7C391.8 944.7 391.9 944 392.9 942.4Z" fill="#482878" /><path d="M437.6 927.8C437.9 926.7 438.4 925.7 440 925C441.6 924.3 444.9 923.7 447.3 923.6C449.7 923.5 452.9 923.8 454.6 924.6C456.3 925.3 457.3 926.9 457.5 928.2C457.7 929.6 456.9 931.2 455.8 932.7C454.8 934.2 453.1 936.3 451.4 937.1C449.7 938 447.4 938 445.7 937.7C443.9 937.4 442.1 936.6 440.8 935.5C439.5 934.5 438.5 932.8 438 931.5C437.4 930.2 437.2 928.9 437.6 927.8Z" fill="#3B528B" /><path d="M449.7 939.2C450.8 937.7 453.4 934 455.4 932.3C457.5 930.5 459.6 929.2 461.9 928.6C464.2 928 466.8 928 469.2 928.6C471.7 929.2 474.9 930.9 476.6 932.3C478.2 933.6 478.9 935.2 479 936.7C479.1 938.3 478.5 939.9 477.4 941.6C476.3 943.3 474.1 945.7 472.5 946.9C470.9 948.1 469.5 949 467.6 948.9C465.7 948.8 463.6 947.6 461.1 946.5C458.7 945.4 455 943.3 453 942.4C451 941.5 449.9 941.7 449.3 941.2C448.8 940.7 448.7 940.7 449.7 939.2Z" fill="#287D8E" /><path d="M474.9 947.3C475.3 946 476.1 943.2 477.4 942C478.6 940.9 480.2 940.5 482.2 940.4C484.3 940.3 487.3 940.6 489.6 941.6C491.9 942.6 494 944.3 496.1 946.5C498.1 948.6 500.2 951.8 501.7 954.6C503.3 957.4 505 961.2 505.4 963.5C505.8 965.9 505.1 967.6 504.2 968.8C503.3 970 502 970.5 500.1 970.8C498.2 971.2 494.7 971.5 492.8 970.8C490.9 970.1 490.1 967.6 488.7 966.8C487.4 966 485.5 967 484.7 966C483.9 964.9 484.7 962.3 483.9 960.3C483.1 958.2 481.3 955.5 479.8 953.8C478.3 952 475.7 950.8 474.9 949.7C474.1 948.6 474.5 948.6 474.9 947.3Z" fill="#2DB27D" /><path d="M492.8 971.6C493.9 971.2 498.1 971.4 500.1 971.6C502.1 971.9 504 972.3 505 973.3C505.9 974.2 506.1 975.7 505.8 977.3C505.5 978.9 504.4 981.5 503.4 983C502.3 984.5 500.5 985.6 499.3 986.2C498.1 986.8 496.5 987.7 496.1 986.6C495.6 985.6 496.9 981.8 496.5 979.7C496.1 977.7 494.2 975.4 493.6 974.1C493 972.7 491.7 972 492.8 971.6Z" fill="#7AD151" /><path d="M466.8 953C467.4 951.7 468.6 950.4 470.1 950.1C471.5 949.9 474 950.5 475.7 951.3C477.5 952.2 479.2 953.8 480.6 955.4C482 957 483.6 959.3 484.3 961.1C484.9 962.8 485 964.6 484.7 966C484.3 967.3 483.5 967.7 482.2 969.2C481 970.7 479.5 972.4 477.4 974.9C475.2 977.3 472.1 981.3 469.2 983.8C466.4 986.3 463 988.6 460.3 989.9C457.6 991.2 454.8 991.6 453 991.5C451.2 991.4 450.2 990.4 449.7 989.1C449.3 987.8 450 985.6 450.6 983.8C451.1 982 452.5 979.6 453 978.1C453.5 976.6 452.7 976.2 453.8 974.9C454.9 973.5 457.7 971.9 459.5 970C461.3 968.1 463.2 965.5 464.4 963.5C465.5 961.5 466 959.6 466.4 957.8C466.8 956.1 466.2 954.3 466.8 953Z" fill="#FDE725" /><path d="M485.5 966.8C486.6 966.4 487.5 966.4 488.7 967.2C490 968 491.5 969.7 492.8 971.6C494.1 973.6 495.9 976.5 496.5 978.9C497 981.4 497.2 983.9 496.1 986.2C494.9 988.5 492.3 990.7 489.6 992.7C486.8 994.8 482.9 997.2 479.8 998.4C476.7 999.6 473.4 1000 470.9 1000C468.3 1000 466.3 999.6 464.4 998.4C462.4 997.2 459.6 994.2 459.1 992.7C458.5 991.2 459.4 991 461.1 989.5C462.8 988 466.5 986.2 469.2 983.8C472 981.4 475.2 977.3 477.4 974.9C479.5 972.4 480.9 970.6 482.2 969.2C483.6 967.8 484.4 967.1 485.5 966.8Z" fill="#FDE725" /><path d="M426.2 949.7C426.2 948.2 426.9 947.7 428.6 946.5C430.4 945.3 434 943.3 436.7 942.4C439.5 941.5 442.2 941.2 444.9 941.2C447.6 941.2 450.3 941.5 453 942.4C455.7 943.3 459.1 945.1 461.1 946.5C463.2 947.8 464.3 948.8 465.2 950.5C466.1 952.3 466.5 954.9 466.4 957C466.3 959.2 465.5 961.4 464.4 963.5C463.2 965.7 461.1 968.3 459.5 970C457.9 971.8 455.8 973.3 454.6 974.1C453.4 974.8 453.5 975.1 452.2 974.5C450.8 973.8 449.1 972 446.5 970C443.9 968 439.7 965.1 436.7 962.7C433.8 960.3 430.4 957.6 428.6 955.4C426.9 953.2 426.2 951.2 426.2 949.7Z" fill="#6DCD59" /><path d="M399 955.4C399.2 953.6 400.1 953.4 401 953C401.9 952.5 402.9 952.3 404.3 952.6C405.6 952.8 408.6 953.7 409.1 954.6C409.7 955.5 407.9 956.5 407.5 957.8C407.1 959.2 406.4 960.7 406.7 962.7C407 964.7 408.5 967.7 409.1 970C409.7 972.3 410.6 975 410.3 976.5C410.1 978 408.7 978.5 407.5 978.9C406.4 979.3 404.7 979.3 403.4 978.9C402.2 978.5 400.9 977.9 400.2 976.5C399.4 975.1 399.1 973 399 970.8C398.8 968.7 399.4 966.1 399.4 963.5C399.4 960.9 398.7 957.2 399 955.4Z" fill="#3B528B" /><path d="M407.5 957.8C408.5 956.3 410.3 954.4 412.4 953.4C414.4 952.4 417.5 951.8 419.7 951.8C421.9 951.7 423.6 952 425.4 953C427.1 954 428.1 955.8 430.3 957.8C432.4 959.9 435.4 962.7 438.4 965.1C441.4 967.6 445.8 970.4 448.1 972.4C450.4 974.5 451.4 975.8 452.2 977.3C452.9 978.8 453.3 979.7 452.6 981.4C451.9 983 450.2 985.3 448.1 987C446 988.8 442.7 990.8 440 991.9C437.3 993.1 434.3 993.8 431.9 993.9C429.4 994.1 427.4 993.7 425.4 992.7C423.3 991.7 421.6 989.9 419.7 987.9C417.8 985.8 415.8 983.5 414 980.6C412.2 977.6 410.3 973 409.1 970C407.9 967 407 964.7 406.7 962.7C406.4 960.7 406.6 959.4 407.5 957.8Z" fill="#7FD34E" /><path d="M371.8 963.5C372.2 961.4 376.6 958.2 379.1 956.2C381.5 954.2 384.2 952.4 386.4 951.3C388.5 950.3 390.4 950 392.1 950.1C393.8 950.3 395.6 951 396.5 952.2C397.5 953.3 397.6 953.8 397.8 957C398 960.3 398 968.4 397.8 971.6C397.5 974.9 397.3 975 396.1 976.5C394.9 978 392.2 979.6 390.4 980.6C388.7 981.5 387.2 982 385.6 982C383.9 982.1 381.6 982 380.7 981C379.7 979.9 380.6 977.7 379.9 975.7C379.2 973.7 378 971.2 376.6 969.2C375.3 967.2 371.4 965.7 371.8 963.5Z" fill="#3B528B" /><path d="M361.2 968.4C361.5 966.9 362.6 965.4 363.6 964.3C364.7 963.3 366.3 962.3 367.7 962.1C369.1 962 370.3 962.3 371.8 963.5C373.2 964.7 375.3 967.2 376.6 969.2C378 971.2 379.3 973.8 379.9 975.7C380.5 977.6 380.7 979.3 380.3 980.6C379.9 981.8 378.6 982.2 377.4 983C376.3 983.8 374.1 984.7 373.4 985.4C372.6 986.2 373.7 987.3 373 987.5C372.3 987.6 370.7 987.5 369.3 986.2C367.9 985 365.7 981.9 364.4 979.7C363.2 977.6 362.1 975.1 361.6 973.3C361.1 971.4 360.9 969.9 361.2 968.4Z" fill="#365D8D" /><path d="M373.8 986.2C374 984.7 374.8 983.8 375.8 983C376.8 982.2 378.4 981.6 379.9 981.5C381.4 981.5 383 981.8 384.8 982.6C386.5 983.4 388.3 985 390.4 986.2C392.6 987.5 395.2 988.8 397.8 990.3C400.3 991.8 403.7 993.8 405.9 995.2C408 996.5 409.7 997.5 410.8 998.4C411.8 999.4 412 999.9 412 1000.8C412 1001.8 411.8 1002.9 410.8 1004.1C409.7 1005.3 407.5 1007.2 405.9 1008.1C404.3 1009.1 402.8 1009.6 401 1009.8C399.2 1009.9 397.5 1009.9 395.3 1009C393.2 1008 390.6 1006 388 1004.1C385.4 1002.2 382.1 999.6 379.9 997.6C377.7 995.6 375.6 993.8 374.6 991.9C373.6 990 373.6 987.7 373.8 986.2Z" fill="#2C728E" /><path d="M425.8 1000.1C426.5 999.2 428.2 998.2 430.3 997.7C432.3 997.1 435.7 996.9 438.4 996.9C441.1 996.8 444.5 996.9 446.5 997.3C448.5 997.7 449.6 998.4 450.6 999.3C451.5 1000.2 452.6 1001.6 452 1002.4C451.5 1003.1 449 1002.9 447.3 1003.8C445.6 1004.6 443.4 1006.1 441.6 1007.4C439.9 1008.8 437.9 1010.7 436.7 1011.9C435.6 1013.1 435.5 1014.9 434.7 1014.7C433.9 1014.5 432.9 1012.1 431.9 1010.7C430.9 1009.2 429.6 1007.1 428.6 1005.8C427.6 1004.5 426.3 1003.9 425.8 1003C425.3 1002 425 1001 425.8 1000.1Z" fill="#1F9E89" /><path d="M401.8 1011.5C401.7 1009.7 402.8 1008.8 404.3 1007.4C405.7 1006.1 408.5 1004.2 410.8 1003.4C413.1 1002.5 415.8 1002.1 418.1 1002.1C420.4 1002.2 422.7 1002.7 424.6 1003.8C426.5 1004.8 427.9 1006.3 429.4 1008.2C430.9 1010.2 432.3 1013 433.5 1015.5C434.7 1018.1 435.8 1021.1 436.7 1023.6C437.7 1026.2 439.1 1029.2 439.2 1030.9C439.3 1032.7 438.5 1033.5 437.6 1034.2C436.6 1034.9 435.3 1035.3 433.5 1035C431.7 1034.7 429.4 1033.6 427 1032.6C424.6 1031.5 421.6 1030.1 418.9 1028.5C416.2 1026.9 413.1 1024.6 410.8 1022.8C408.5 1021.1 406.6 1019.9 405.1 1018C403.6 1016.1 402 1013.2 401.8 1011.5Z" fill="#26828E" /><path d="M435.5 1013.9C435.7 1012 437 1011.3 438.4 1009.8C439.8 1008.4 442.2 1006.2 444.1 1005C446 1003.8 448.1 1002.8 449.7 1002.7C451.4 1002.6 452.6 1003.2 453.8 1004.2C455 1005.1 456.2 1006.3 457.1 1008.2C457.9 1010.1 458.8 1013 459.1 1015.5C459.4 1018.1 459 1021.2 458.7 1023.6C458.3 1026.1 458 1028.4 457.1 1030.1C456.1 1031.8 454.5 1033 453 1033.8C451.5 1034.5 449.7 1034.8 448.1 1034.6C446.5 1034.4 444.6 1033.6 443.2 1032.6C441.9 1031.6 440.9 1030.4 440 1028.5C439.1 1026.6 438.3 1023.6 437.6 1021.2C436.8 1018.8 435.4 1015.8 435.5 1013.9Z" fill="#1F9E89" /></g><g stroke="#000" stroke-width="0.9" stroke-linejoin="round"><path d="M554.4 950C555.5 946.7 559.4 947.4 562.5 945.9C565.7 944.4 571.1 938.9 573.1 941.1C575.1 943.2 568.9 953.2 574.7 958.9C580.5 964.6 602.7 971.5 607.9 975.2C613.2 978.8 607.8 978.5 606.3 980.8C604.8 983.1 601.6 986.8 599 989C596.5 991.1 593.2 993 590.9 993.8C588.6 994.6 588.4 994.8 585.2 993.8C582.1 992.9 575 989 572.3 988.1C569.6 987.3 570.4 988.3 569 989C567.7 989.6 565.7 991.8 564.2 991.8C562.7 991.8 561.7 990.5 560.1 989C558.5 987.4 555.8 984.8 554.4 982.5C553.1 980.2 551.7 978 552 975.2C552.3 972.3 555.7 969.6 556.1 965.4C556.5 961.2 553.4 953.2 554.4 950Z" fill="#7AD151" /><path d="M556.1 950.8C556.8 949.9 560.1 952.4 561.7 952C563.4 951.6 564.4 950.2 565.8 948.4C567.1 946.5 568.6 942.2 569.8 941.1C571.1 939.9 572.9 940.4 573.1 941.5C573.2 942.5 571.3 945.2 570.7 947.5C570 949.9 569.2 953.8 569 955.7C568.9 957.6 570.1 957.7 569.8 958.9C569.6 960.1 568.6 962.1 567.4 963C566.2 963.9 563.9 964.3 562.5 964.2C561.2 964.1 560.2 963.3 559.3 962.2C558.4 961 557.6 959.2 557 957.3C556.5 955.4 555.3 951.7 556.1 950.8Z" fill="#6DCD59" /><path d="M548 974.2C549 970.2 554 963.2 556.8 961.4C559.6 959.5 563.9 961.4 564.8 962.9C565.8 964.4 563.6 967.9 562.5 970.3C561.5 972.7 558.1 975.3 558.4 977.4C558.7 979.6 562.3 981.4 564.2 983.3C566 985.2 569.9 987.4 569.6 988.7C569.3 990.1 564.7 990.6 562.5 991.4C560.4 992.2 558.8 994.5 556.8 993.5C554.8 992.5 551.9 988.6 550.4 985.4C548.9 982.2 546.9 978.2 548 974.2Z" fill="#FDE725" /><path d="M601.5 933.7C602 932.8 603.6 932.4 605.5 932.1C607.4 931.9 610.8 931.7 612.8 932.1C614.8 932.5 617.3 934 617.7 934.6C618.1 935.1 616.9 935.5 615.2 935.4C613.6 935.2 609.8 933.9 607.9 933.7C606.1 933.6 604.8 933.9 603.9 934.6C602.9 935.2 602.7 937.9 602.3 937.8C601.9 937.7 600.9 934.7 601.5 933.7Z" fill="#482878" /><path d="M561.7 928.1C561.7 926.7 562.7 925.6 564.2 924.8C565.7 924.1 568.5 923.7 570.7 923.6C572.8 923.5 575.3 923.5 577.1 924C579 924.5 580.8 925.6 581.6 926.8C582.4 928.1 582.5 929.8 582 931.3C581.5 932.8 580.2 934.7 578.8 935.8C577.3 936.9 574.8 937.7 573.1 937.8C571.3 937.9 569.7 937.4 568.2 936.6C566.7 935.8 565.2 934.4 564.2 932.9C563.1 931.5 561.7 929.4 561.7 928.1Z" fill="#3B528B" /><path d="M540.7 937C541 935.7 541.6 933.8 543.1 932.5C544.6 931.2 547.4 930 549.6 929.3C551.7 928.5 554.2 927.9 556.1 928.1C558 928.3 559.3 929.3 560.9 930.5C562.5 931.7 564.3 933.7 565.8 935.4C567.3 937 569.3 938.8 569.8 940.2C570.4 941.7 569.7 942.9 569 944.3C568.4 945.7 567 947.1 565.8 948.4C564.6 949.6 563.4 951.6 561.7 952C560.1 952.4 558.1 951.5 556.1 950.8C554 950.1 551.6 948.8 549.6 947.5C547.5 946.3 545.3 944.7 543.9 943.5C542.5 942.3 541.6 941.3 541.1 940.2C540.5 939.2 540.3 938.3 540.7 937Z" fill="#287D8E" /><path d="M514.7 962.2C515.1 960.1 515.9 956.8 517.1 954C518.4 951.3 520.1 948.1 522 945.9C523.9 943.8 526.1 942.1 528.5 941.1C530.9 940 534.4 939.5 536.6 939.6C538.8 939.7 540 940.4 541.5 941.5C543 942.5 545.5 944.6 545.5 945.9C545.5 947.2 543.2 947.5 541.5 949.2C539.7 950.8 537 953.5 535 955.7C533 957.8 530.8 960 529.3 962.2C527.8 964.3 527.1 967.4 526.1 968.7C525 969.9 524.3 969.9 522.8 969.9C521.3 969.9 518.5 969.3 517.1 968.7C515.8 968 515 967.3 514.6 966.2C514.1 965.1 514.3 964.2 514.7 962.2Z" fill="#2DB27D" /><path d="M526.1 967C526.3 965.4 527.8 962.7 529.3 960.5C530.8 958.4 533 956 535 954C537 952.1 539.6 949.8 541.5 948.8C543.4 947.7 544.7 947.5 546.3 947.5C548 947.6 549.6 948.2 551.2 949.2C552.8 950.1 555.1 951.9 556.1 953.2C557 954.6 557.2 955.5 557 957.3C556.9 959.1 556.1 961.6 555.2 963.8C554.4 966 553.2 968.7 552 970.3C550.8 971.9 549.7 972.9 548 973.5C546.2 974.2 543.9 974.5 541.5 974.3C539 974.2 535.7 973.4 533.4 972.7C531.1 972 528.9 971.2 527.7 970.3C526.5 969.3 525.8 968.7 526.1 967Z" fill="#35B779" /><path d="M513.5 976C513.4 974.6 514.2 973.5 515.1 972.7C516 971.9 516.9 971.3 518.8 971.1C520.6 970.9 523.6 971.1 526.1 971.5C528.5 971.9 531.3 972.9 533.4 973.5C535.4 974.1 538.4 974.5 538.2 975.2C538.1 975.8 533.9 976.4 532.6 977.6C531.2 978.8 530.6 980.7 530.1 982.5C529.6 984.2 529.7 986.7 529.7 988.1C529.7 989.6 530.7 991.3 530.1 991.4C529.5 991.5 527.7 990 526.1 989C524.4 987.9 522.1 986.2 520.4 984.9C518.6 983.5 516.7 982.3 515.5 980.8C514.4 979.3 513.6 977.3 513.5 976Z" fill="#7AD151" /><path d="M538.2 975.2C539.8 971.8 545.5 974.2 548 974.7C550.4 975.3 551.2 976.8 552.8 978.4C554.4 980 556.5 982.2 557.7 984.1C558.9 986 559.7 987.9 560 989.8C560.2 991.7 559.7 993.9 558.9 995.4C558.1 997 556.8 998.3 555.2 999.1C553.7 999.9 551.3 1000.4 549.6 1000.5C547.8 1000.5 546.6 1000.5 544.7 999.5C542.8 998.5 539.3 998.7 538.2 994.6C537.1 990.6 536.6 978.5 538.2 975.2Z" fill="#FDE725" /><path d="M530.1 982.5C530.4 980.6 531.2 978.8 532.6 977.6C533.9 976.4 536.3 975.4 538.2 975.2C540.1 974.9 542.1 975.3 543.9 976C545.7 976.6 547.3 977.9 548.8 979.2C550.3 980.6 551.9 982.3 552.8 984.1C553.8 985.8 554.3 987.9 554.4 989.8C554.6 991.7 554.2 994 553.6 995.4C553.1 996.9 552.3 998 551.2 998.7C550.1 999.4 548.8 1000 547.1 999.9C545.5 999.8 543.5 998.9 541.5 997.9C539.4 996.9 536.7 995.3 535 993.8C533.2 992.3 531.7 990.8 530.9 989C530.1 987.1 529.8 984.4 530.1 982.5Z" fill="#6DCD59" /><path d="M569 954C569 952.4 569 949.6 569.8 947.5C570.7 945.5 572.1 943.2 573.9 941.5C575.7 939.7 577.9 938.4 580.4 937C582.8 935.6 586.1 933.8 588.5 932.9C590.9 932.1 593.1 931.9 595 932C596.9 932 598.7 932.4 599.8 933.3C601 934.3 601.6 936 601.9 937.8C602.1 939.6 601.9 942.4 601.5 944.3C601 946.2 600.2 947.9 599 949.2C597.8 950.5 596.2 951.1 594.2 952C592.1 952.9 589.4 953.6 586.9 954.4C584.3 955.3 581.1 956.7 578.8 957.3C576.5 957.9 574.6 958.1 573.1 958.1C571.6 958.1 570.5 958 569.8 957.3C569.2 956.6 569 955.7 569 954Z" fill="#482878" /><path d="M603.9 934.6C604.7 934 606.1 933.6 607.9 933.7C609.8 933.9 612.7 934.4 615.2 935.4C617.8 936.3 620.8 937.8 623.3 939.4C625.9 941.1 628.5 943.2 630.6 945.1C632.8 947 635 949.2 636.3 950.8C637.6 952.4 638.3 953.5 638.3 954.9C638.3 956.2 637.6 957.9 636.3 958.9C635 959.9 633.2 960.6 630.6 960.9C628.1 961.3 624 961.1 620.9 960.9C617.8 960.8 614 960.7 612 960.1C610 959.5 609.8 959 608.8 957.3C607.7 955.6 606.4 952.6 605.5 950C604.6 947.4 603.9 944 603.5 941.9C603.1 939.7 603 938.2 603.1 937C603.1 935.8 603.1 935.1 603.9 934.6Z" fill="#482878" /><path d="M579.2 980C580.1 979.3 581.8 980.1 583.6 979.9C585.4 979.7 588.2 979 590.1 978.8C592 978.6 593.6 978.3 595 978.4C596.3 978.5 598.1 978.7 598.2 979.4C598.4 980 597.1 981.4 595.8 982.5C594.4 983.5 592.1 984.9 590.1 985.7C588.1 986.5 585.5 987.1 583.6 987.3C581.7 987.5 579.7 987.5 578.8 986.9C577.8 986.4 577.9 985.2 577.9 984.1C578 982.9 578.2 980.7 579.2 980Z" fill="#5EC962" /><path d="M552.8 976C553 974.5 553.4 972 554.4 970.3C555.5 968.5 557.7 966.6 559.3 965.4C560.9 964.3 563 963.7 564.2 963.4C565.4 963.1 566.3 962.9 566.6 963.8C566.9 964.7 565.7 967 566.2 968.7C566.7 970.3 568.4 972.3 569.8 973.9C571.3 975.6 573.2 977.4 574.7 978.4C576.2 979.4 578 979.3 578.8 980C579.5 980.7 579.4 981.5 579.2 982.5C578.9 983.4 578.4 984.9 577.1 985.7C575.9 986.5 573.6 987.5 571.5 987.3C569.3 987.2 566.5 985.7 564.2 984.9C561.9 984.1 559.4 983.4 557.7 982.5C555.9 981.5 554.4 980.3 553.6 979.2C552.8 978.1 552.7 977.5 552.8 976Z" fill="#3FBC73" /><path d="M590.9 956.1C591.1 954.8 592.8 953.1 594.2 952C595.5 950.9 597.5 950.1 599 949.6C600.5 949.1 602 949 603.1 949.2C604.2 949.4 604.6 949.4 605.5 950.8C606.5 952.1 607.8 955.5 608.8 957.3C609.7 959.1 611 959.7 611.2 961.4C611.4 963 610.5 965 610 967C609.4 969.1 608.8 971.8 607.9 973.5C607.1 975.3 606.2 976.7 604.7 977.6C603.2 978.5 601.1 979 599 979C597 979 593.4 978.8 592.5 977.6C591.7 976.4 593.8 973.9 594.2 971.9C594.5 969.9 594.7 967.4 594.6 965.4C594.4 963.4 594 961.3 593.4 959.7C592.7 958.2 590.8 957.4 590.9 956.1Z" fill="#33638D" /><path d="M566.2 967C566.2 965.7 566.5 963.5 567.4 962.2C568.3 960.8 569.6 959.7 571.5 958.9C573.4 958.1 576.2 957.9 578.8 957.3C581.3 956.7 584.8 955.4 586.9 955.3C588.9 955.1 589.8 955.5 590.9 956.5C592.1 957.5 593.1 959.5 593.8 961.4C594.4 963.2 594.6 965.7 594.6 967.8C594.5 970 594.1 972.6 593.4 974.3C592.6 976.1 591.7 977.5 590.1 978.4C588.5 979.3 585.9 979.6 583.6 979.6C581.3 979.6 578.5 979.3 576.3 978.4C574.2 977.5 572.1 975.7 570.7 974.3C569.2 973 568.2 971.5 567.4 970.3C566.7 969.1 566.2 968.4 566.2 967Z" fill="#33638D" /><path d="M611.2 961.4C611.8 960.3 612 960.6 613.6 960.5C615.2 960.5 618.6 961 620.9 961.1C623.2 961.2 626 960.6 627.4 961.4C628.8 962.1 628.8 963.8 629 965.4C629.2 967 629.2 969.3 628.6 971.1C628.1 972.9 627.1 974.7 625.8 976C624.5 977.2 622.8 978 620.9 978.4C619 978.8 616.3 978.7 614.4 978.4C612.5 978.1 610.6 977.2 609.6 976.4C608.6 975.6 608.3 975.1 608.3 973.5C608.4 972 609.5 969.1 610 967C610.4 965 610.6 962.4 611.2 961.4Z" fill="#33638D" /><path d="M627.8 961.4C628.1 960.6 629.6 961.3 631 960.9C632.5 960.6 635 960 636.3 959.1C637.6 958.2 637.5 955.6 638.7 955.7C640 955.8 642.1 958.4 643.6 959.7C645.1 961.1 646.9 962 647.7 963.8C648.4 965.5 648.3 968.3 648.1 970.3C647.8 972.3 647.1 974.3 646 976C645 977.6 643.5 979.1 642 980C640.5 981 639 981.6 637.1 981.6C635.2 981.7 632.6 981.2 630.6 980.4C628.7 979.7 625.8 978.7 625.4 977.2C625 975.7 627.8 973.5 628.4 971.5C629 969.5 629.1 967.1 629 965.4C628.9 963.7 627.5 962.1 627.8 961.4Z" fill="#3B528B" /><path d="M648.1 963.8C648.6 962.4 650.2 961.9 651.3 961.9C652.5 962 653.9 962.9 655 964.2C656 965.5 657.4 967.5 657.8 969.5C658.2 971.4 658 973.8 657.4 976C656.8 978.1 655.4 980.7 654.2 982.5C652.9 984.2 651.6 985.7 650.1 986.5C648.6 987.3 646.7 987.3 645.2 987.2C643.7 987 642.3 986.5 641.2 985.7C640.1 984.9 638.5 983.4 638.7 982.5C639 981.5 641.1 981.1 642.4 980C643.7 978.9 645.5 977.6 646.5 976C647.4 974.3 648 972.3 648.2 970.3C648.5 968.3 647.6 965.2 648.1 963.8Z" fill="#365D8D" /><path d="M606.7 999.5C607 998.3 608.6 996.8 610.4 995.4C612.2 994.1 615.1 992.8 617.7 991.4C620.2 990 623.2 988.3 625.8 986.9C628.3 985.5 631 983.7 633.1 982.9C635.1 982.1 636.3 981.7 637.9 982.1C639.6 982.4 641.6 983.7 642.8 984.9C644 986 645.1 987.3 645.2 989C645.4 990.6 644.8 992.6 643.6 994.6C642.4 996.7 640.1 999.2 637.9 1001.1C635.8 1003 633.2 1004.6 630.6 1006C628.1 1007.4 624.8 1008.6 622.5 1009.2C620.2 1009.9 618.5 1010.1 616.9 1009.7C615.2 1009.2 614.2 1008 612.8 1006.8C611.5 1005.7 609.8 1004 608.8 1002.8C607.7 1001.5 606.5 1000.7 606.7 999.5Z" fill="#2C728E" /><path d="M593.8 1004.1C595 1003 596.1 1002.5 598.2 1002C600.3 1001.5 603.9 1000.8 606.3 1001.2C608.8 1001.5 611.1 1002.9 612.8 1004.3C614.5 1005.6 615.7 1007.6 616.5 1009.1C617.2 1010.6 617.6 1011.6 617.3 1013.2C616.9 1014.8 616 1017 614.4 1018.9C612.9 1020.8 610.5 1022.8 607.9 1024.6C605.4 1026.3 602 1027.9 599 1029.4C596.1 1030.9 592.8 1032.6 590.1 1033.5C587.4 1034.4 584.5 1034.8 582.8 1034.7C581.1 1034.6 580.4 1033.8 580 1032.7C579.5 1031.5 579.6 1029.7 580 1027.8C580.3 1025.9 580.9 1023.6 582 1021.3C583.2 1019 585.4 1016.2 586.9 1014C588.4 1011.8 589.8 1010 590.9 1008.3C592.1 1006.7 592.5 1005.1 593.8 1004.1Z" fill="#26828E" /><path d="M560.9 1017.2C561.3 1016.5 562 1018.4 563.4 1019.3C564.7 1020.1 566.9 1021.7 569 1022.3C571.2 1022.9 574.2 1023.2 576.3 1022.9C578.5 1022.7 581.3 1020.4 582 1020.9C582.7 1021.4 581.2 1024.3 580.4 1026.2C579.6 1028 578.5 1030.5 577.1 1031.9C575.8 1033.2 574 1034 572.3 1034.3C570.5 1034.6 568.2 1034.6 566.6 1033.9C565 1033.2 563.5 1031.9 562.5 1030.2C561.6 1028.5 561.4 1025.9 561.1 1023.7C560.8 1021.6 560.5 1018 560.9 1017.2Z" fill="#1F9E89" /><path d="M582.4 1024.6C582.4 1023.1 582.7 1021.6 583.6 1019.7C584.5 1017.8 586.3 1015.1 587.7 1013.2C589 1011.3 590.5 1009.2 591.7 1008.3C592.9 1007.4 593.9 1007.4 595 1007.9C596.1 1008.5 597.3 1010.1 598.2 1011.6C599.2 1013 600.2 1014.9 600.6 1016.4C601.1 1017.9 601.5 1019.1 601.1 1020.5C600.6 1021.8 599.6 1023.3 598.2 1024.6C596.8 1025.8 594.4 1027 592.5 1027.8C590.6 1028.6 588.4 1029.4 586.9 1029.4C585.4 1029.5 584.4 1029 583.6 1028.2C582.9 1027.4 582.4 1026 582.4 1024.6Z" fill="#277F8E" /><path d="M560.9 1013.1C560.8 1011.1 561.5 1008.7 562.5 1006.7C563.6 1004.6 565.4 1002.5 567.4 1001C569.4 999.5 572 998.5 574.7 997.7C577.4 997 580.9 996.6 583.6 996.5C586.3 996.4 589.2 996.6 590.9 997.3C592.6 998 593.6 998.9 593.8 1000.6C593.9 1002.3 592.7 1005.2 591.7 1007.5C590.7 1009.7 589.2 1011.9 587.7 1014C586.2 1016 584.7 1018.2 582.8 1019.6C580.9 1021.1 578.6 1022.3 576.3 1022.7C574 1023.1 571.2 1022.7 569 1022.1C566.9 1021.4 564.7 1020.3 563.4 1018.8C562 1017.3 561.1 1015.2 560.9 1013.1Z" fill="#1F9E89" /><path d="M595 1006.7C595.1 1005.1 598.1 1003.9 599.8 1003C601.6 1002.2 603.8 1001.5 605.5 1001.4C607.3 1001.3 609.1 1001.8 610.4 1002.4C611.7 1003 612.8 1004 613.2 1005.2C613.6 1006.5 613.4 1008.3 612.8 1009.9C612.2 1011.5 610.6 1013.5 609.6 1014.8C608.5 1016.1 607.5 1017.4 606.3 1017.7C605.1 1017.9 603.5 1017.3 602.3 1016.4C601.1 1015.6 600.2 1014 599 1012.4C597.8 1010.8 594.8 1008.2 595 1006.7Z" fill="#26828E" /></g><g stroke="#000" stroke-width="0.9" stroke-linejoin="round"><path d="M460.7 1060C460.4 1059.3 463.1 1055.7 464.8 1053.5C466.4 1051.4 468.5 1048.7 470.4 1047.1C472.3 1045.5 474.9 1044.5 476.1 1043.9C477.3 1043.3 478.3 1042.7 477.8 1043.5C477.2 1044.3 473.8 1047.3 472.9 1048.7C471.9 1050.1 471.8 1051 472.1 1051.9C472.3 1052.9 473 1053.4 474.5 1054.3C476 1055.3 480.2 1056.8 481 1057.6C481.8 1058.4 481 1059.4 479.4 1059.2C477.8 1059 473.4 1056.6 471.3 1056.4C469.1 1056.1 468.1 1057 466.4 1057.6C464.6 1058.2 461 1060.7 460.7 1060Z" fill="#443A83" /><path d="M498.9 1040.6C499.1 1039.5 501.3 1038.8 502.9 1038.6C504.6 1038.4 506.3 1038.8 508.6 1039.4C510.9 1040.1 514.3 1041.4 516.7 1042.7C519.2 1043.9 521.9 1045.9 523.2 1046.7C524.6 1047.5 526 1047.2 524.9 1047.5C523.8 1047.8 519.5 1047.8 516.7 1048.7C514 1049.6 510.4 1051.5 508.6 1052.7C506.9 1053.9 507.1 1055.3 506.2 1056C505.3 1056.6 503.9 1057.4 503.3 1056.8C502.8 1056.1 503.3 1053.8 502.9 1051.9C502.6 1050 502 1047.4 501.3 1045.5C500.6 1043.6 498.6 1041.8 498.9 1040.6Z" fill="#443A83" /><path d="M472.9 1048.7C473.8 1047.1 475.9 1043.9 477.8 1042.3C479.7 1040.6 481.8 1039.6 484.3 1039C486.7 1038.4 490.1 1038.4 492.4 1038.6C494.7 1038.8 496.7 1039.1 498.1 1040.2C499.4 1041.4 499.7 1043.5 500.5 1045.5C501.3 1047.4 502.5 1049.9 502.9 1051.9C503.3 1053.9 503.5 1056.6 502.9 1057.6C502.4 1058.6 501.4 1057.6 499.7 1058C497.9 1058.3 494.1 1059.1 492.4 1059.6C490.6 1060.1 491 1061.1 489.1 1060.8C487.2 1060.5 483.4 1058.6 481 1057.6C478.6 1056.5 476 1055.3 474.5 1054.3C473 1053.4 472.3 1052.9 472.1 1051.9C471.8 1051 471.9 1050.3 472.9 1048.7Z" fill="#482878" /><path d="M517.6 1034.2C517.9 1033.1 518.4 1032.1 520 1031.4C521.6 1030.7 524.9 1030.1 527.3 1030C529.7 1029.9 532.9 1030.2 534.6 1031C536.3 1031.7 537.3 1033.3 537.5 1034.6C537.7 1035.9 536.9 1037.6 535.8 1039C534.8 1040.5 533.1 1042.6 531.4 1043.5C529.7 1044.3 527.4 1044.3 525.7 1044C523.9 1043.8 522.1 1042.9 520.8 1041.9C519.5 1040.8 518.5 1039.1 518 1037.8C517.4 1036.5 517.2 1035.3 517.6 1034.2Z" fill="#3B528B" /><path d="M529.7 1045.5C530.8 1044 533.4 1040.4 535.4 1038.6C537.5 1036.9 539.6 1035.6 541.9 1035C544.2 1034.4 546.8 1034.4 549.2 1035C551.7 1035.6 554.9 1037.3 556.6 1038.6C558.2 1040 558.9 1041.5 559 1043.1C559.1 1044.6 558.5 1046.2 557.4 1047.9C556.3 1049.6 554.1 1051.9 552.5 1053.1C550.9 1054.3 549.5 1055.2 547.6 1055.2C545.7 1055.1 543.6 1053.8 541.1 1052.7C538.7 1051.7 535 1049.6 533 1048.7C531 1047.8 529.9 1048 529.3 1047.5C528.8 1047 528.7 1047 529.7 1045.5Z" fill="#287D8E" /><path d="M554.9 1053.5C555.3 1052.3 556.1 1049.4 557.4 1048.3C558.6 1047.2 560.2 1046.8 562.2 1046.7C564.3 1046.6 567.3 1046.9 569.6 1047.9C571.9 1048.9 574 1050.6 576.1 1052.7C578.1 1054.9 580.2 1058 581.7 1060.8C583.3 1063.6 585 1067.3 585.4 1069.7C585.8 1072 585.1 1073.7 584.2 1074.9C583.3 1076.1 582 1076.6 580.1 1076.9C578.2 1077.3 574.7 1077.6 572.8 1076.9C570.9 1076.3 570.1 1073.7 568.7 1072.9C567.4 1072.1 565.5 1073.2 564.7 1072.1C563.9 1071 564.7 1068.5 563.9 1066.4C563.1 1064.4 561.3 1061.7 559.8 1060C558.3 1058.2 555.7 1057 554.9 1056C554.1 1054.9 554.5 1054.8 554.9 1053.5Z" fill="#2DB27D" /><path d="M572.8 1077.7C573.9 1077.3 578.1 1077.5 580.1 1077.7C582.1 1078 584 1078.4 585 1079.3C585.9 1080.3 586.1 1081.8 585.8 1083.4C585.5 1085 584.4 1087.5 583.4 1089C582.3 1090.5 580.5 1091.6 579.3 1092.2C578.1 1092.8 576.5 1093.7 576.1 1092.6C575.6 1091.6 576.9 1087.9 576.5 1085.8C576.1 1083.7 574.2 1081.5 573.6 1080.1C573 1078.8 571.7 1078.1 572.8 1077.7Z" fill="#7AD151" /><path d="M546.8 1059.2C547.4 1057.9 548.6 1056.6 550.1 1056.4C551.5 1056.1 554 1056.7 555.7 1057.6C557.5 1058.4 559.2 1060 560.6 1061.6C562 1063.2 563.6 1065.5 564.3 1067.2C564.9 1069 565 1070.7 564.7 1072.1C564.3 1073.4 563.5 1073.8 562.2 1075.3C561 1076.8 559.5 1078.5 557.4 1081C555.2 1083.4 552.1 1087.3 549.2 1089.8C546.4 1092.3 543 1094.6 540.3 1095.9C537.6 1097.1 534.8 1097.6 533 1097.5C531.2 1097.3 530.2 1096.3 529.7 1095.1C529.3 1093.8 530 1091.6 530.6 1089.8C531.1 1088 532.5 1085.7 533 1084.2C533.5 1082.7 532.7 1082.3 533.8 1081C534.9 1079.6 537.7 1078 539.5 1076.1C541.3 1074.2 543.2 1071.7 544.4 1069.7C545.5 1067.7 546 1065.8 546.4 1064C546.8 1062.3 546.2 1060.5 546.8 1059.2Z" fill="#FDE725" /><path d="M565.5 1072.9C566.6 1072.6 567.5 1072.5 568.7 1073.3C570 1074.1 571.5 1075.8 572.8 1077.7C574.1 1079.7 575.9 1082.6 576.5 1085C577 1087.4 577.2 1090 576.1 1092.2C574.9 1094.5 572.3 1096.7 569.6 1098.7C566.8 1100.7 562.9 1103.1 559.8 1104.3C556.7 1105.5 553.4 1106 550.9 1106C548.3 1106 546.3 1105.5 544.4 1104.3C542.4 1103.1 539.6 1100.2 539.1 1098.7C538.5 1097.2 539.4 1096.9 541.1 1095.5C542.8 1094 546.5 1092.2 549.2 1089.8C552 1087.4 555.2 1083.4 557.4 1081C559.5 1078.5 560.9 1076.7 562.2 1075.3C563.6 1074 564.4 1073.2 565.5 1072.9Z" fill="#FDE725" /><path d="M506.2 1056C506.2 1054.5 506.9 1053.9 508.6 1052.7C510.4 1051.5 514 1049.6 516.7 1048.7C519.5 1047.8 522.2 1047.5 524.9 1047.5C527.6 1047.5 530.3 1047.8 533 1048.7C535.7 1049.6 539.1 1051.4 541.1 1052.7C543.2 1054.1 544.3 1055 545.2 1056.8C546.1 1058.5 546.5 1061.1 546.4 1063.2C546.3 1065.4 545.5 1067.5 544.4 1069.7C543.2 1071.8 541.1 1074.4 539.5 1076.1C537.9 1077.9 535.8 1079.4 534.6 1080.1C533.4 1080.9 533.5 1081.2 532.2 1080.6C530.8 1079.9 529.1 1078.1 526.5 1076.1C523.9 1074.2 519.7 1071.3 516.7 1068.9C513.8 1066.4 510.4 1063.8 508.6 1061.6C506.9 1059.5 506.2 1057.4 506.2 1056Z" fill="#6DCD59" /><path d="M479 1061.6C479.2 1059.9 480.1 1059.7 481 1059.2C481.9 1058.7 482.9 1058.5 484.3 1058.8C485.6 1059.1 488.6 1059.9 489.1 1060.8C489.7 1061.7 487.9 1062.7 487.5 1064C487.1 1065.4 486.4 1066.8 486.7 1068.9C487 1070.9 488.5 1073.8 489.1 1076.1C489.7 1078.4 490.6 1081.1 490.3 1082.6C490.1 1084 488.7 1084.6 487.5 1085C486.4 1085.4 484.7 1085.4 483.4 1085C482.2 1084.6 480.9 1083.9 480.2 1082.6C479.4 1081.2 479.1 1079.1 479 1076.9C478.8 1074.8 479.4 1072.2 479.4 1069.7C479.4 1067.1 478.7 1063.4 479 1061.6Z" fill="#3B528B" /><path d="M487.5 1064C488.5 1062.5 490.3 1060.6 492.4 1059.6C494.4 1058.6 497.5 1058 499.7 1058C501.9 1057.9 503.6 1058.2 505.4 1059.2C507.1 1060.2 508.1 1062 510.3 1064C512.4 1066 515.4 1068.9 518.4 1071.3C521.4 1073.7 525.8 1076.5 528.1 1078.5C530.4 1080.6 531.4 1081.9 532.2 1083.4C532.9 1084.9 533.3 1085.8 532.6 1087.4C531.9 1089 530.2 1091.3 528.1 1093C526 1094.8 522.7 1096.7 520 1097.9C517.3 1099 514.3 1099.8 511.9 1099.9C509.4 1100 507.4 1099.7 505.4 1098.7C503.3 1097.7 501.6 1095.9 499.7 1093.9C497.8 1091.8 495.8 1089.6 494 1086.6C492.2 1083.6 490.3 1079.1 489.1 1076.1C487.9 1073.2 487 1070.9 486.7 1068.9C486.4 1066.8 486.6 1065.6 487.5 1064Z" fill="#7FD34E" /><path d="M451.8 1069.7C452.2 1067.5 456.6 1064.4 459.1 1062.4C461.5 1060.4 464.2 1058.6 466.4 1057.6C468.5 1056.6 470.4 1056.2 472.1 1056.4C473.8 1056.5 475.6 1057.2 476.5 1058.4C477.5 1059.5 477.6 1060 477.8 1063.2C478 1066.4 478 1074.5 477.8 1077.7C477.5 1081 477.3 1081.1 476.1 1082.6C474.9 1084 472.2 1085.7 470.4 1086.6C468.7 1087.5 467.2 1088 465.6 1088.1C463.9 1088.1 461.6 1088.1 460.7 1087C459.7 1086 460.6 1083.7 459.9 1081.8C459.2 1079.8 458 1077.3 456.6 1075.3C455.3 1073.3 451.4 1071.8 451.8 1069.7Z" fill="#3B528B" /><path d="M441.2 1074.5C441.5 1073 442.6 1071.5 443.6 1070.5C444.7 1069.4 446.3 1068.4 447.7 1068.3C449.1 1068.2 450.3 1068.5 451.8 1069.7C453.2 1070.8 455.3 1073.3 456.6 1075.3C458 1077.3 459.3 1079.9 459.9 1081.8C460.5 1083.6 460.7 1085.4 460.3 1086.6C459.9 1087.8 458.6 1088.2 457.4 1089C456.3 1089.8 454.1 1090.7 453.4 1091.4C452.6 1092.2 453.7 1093.3 453 1093.5C452.3 1093.6 450.7 1093.5 449.3 1092.2C447.9 1091 445.7 1087.9 444.4 1085.8C443.2 1083.6 442.1 1081.2 441.6 1079.3C441.1 1077.5 440.9 1076 441.2 1074.5Z" fill="#365D8D" /><path d="M453.8 1092.2C454 1090.8 454.8 1089.8 455.8 1089C456.8 1088.2 458.4 1087.6 459.9 1087.6C461.4 1087.5 463 1087.8 464.8 1088.6C466.5 1089.4 468.3 1091 470.4 1092.2C472.6 1093.5 475.2 1094.8 477.8 1096.3C480.3 1097.8 483.7 1099.8 485.9 1101.1C488 1102.5 489.7 1103.4 490.8 1104.3C491.8 1105.3 492 1105.8 492 1106.8C492 1107.7 491.8 1108.8 490.8 1110C489.7 1111.2 487.5 1113.1 485.9 1114C484.3 1115 482.8 1115.5 481 1115.6C479.2 1115.8 477.5 1115.8 475.3 1114.8C473.2 1113.9 470.6 1111.9 468 1110C465.4 1108.1 462.1 1105.5 459.9 1103.5C457.7 1101.5 455.6 1099.8 454.6 1097.9C453.6 1096 453.6 1093.7 453.8 1092.2Z" fill="#2C728E" /><path d="M505.8 1106C506.5 1105.2 508.2 1104.1 510.3 1103.6C512.3 1103.1 515.7 1102.9 518.4 1102.8C521.1 1102.7 524.5 1102.8 526.5 1103.2C528.5 1103.6 529.6 1104.4 530.6 1105.2C531.5 1106.1 532.6 1107.5 532 1108.3C531.5 1109 529 1108.8 527.3 1109.7C525.6 1110.5 523.4 1111.9 521.6 1113.3C519.9 1114.6 517.9 1116.5 516.7 1117.7C515.6 1118.9 515.5 1120.7 514.7 1120.5C513.9 1120.3 512.9 1118 511.9 1116.5C510.9 1115 509.6 1113 508.6 1111.7C507.6 1110.4 506.3 1109.8 505.8 1108.9C505.3 1107.9 505 1106.9 505.8 1106Z" fill="#1F9E89" /><path d="M481.8 1117.3C481.7 1115.6 482.8 1114.6 484.3 1113.3C485.7 1111.9 488.5 1110.1 490.8 1109.3C493.1 1108.4 495.8 1108 498.1 1108C500.4 1108.1 502.7 1108.7 504.6 1109.7C506.5 1110.7 507.9 1112.1 509.4 1114.1C510.9 1116 512.3 1118.8 513.5 1121.3C514.7 1123.9 515.8 1126.9 516.7 1129.4C517.7 1132 519.1 1134.9 519.2 1136.7C519.3 1138.4 518.5 1139.2 517.6 1139.9C516.6 1140.6 515.3 1141 513.5 1140.7C511.7 1140.4 509.4 1139.4 507 1138.3C504.6 1137.2 501.6 1135.9 498.9 1134.2C496.2 1132.6 493.1 1130.4 490.8 1128.6C488.5 1126.9 486.6 1125.6 485.1 1123.8C483.6 1121.9 482 1119.1 481.8 1117.3Z" fill="#26828E" /><path d="M515.5 1119.7C515.7 1117.9 517 1117.2 518.4 1115.7C519.8 1114.2 522.2 1112.1 524.1 1110.9C526 1109.7 528.1 1108.7 529.7 1108.6C531.4 1108.5 532.6 1109.1 533.8 1110.1C535 1111 536.2 1112.2 537.1 1114.1C537.9 1116 538.8 1118.8 539.1 1121.3C539.4 1123.9 539 1127 538.7 1129.4C538.3 1131.8 538 1134.2 537.1 1135.9C536.1 1137.5 534.5 1138.8 533 1139.5C531.5 1140.2 529.7 1140.5 528.1 1140.3C526.5 1140.1 524.6 1139.3 523.2 1138.3C521.9 1137.3 520.9 1136.1 520 1134.2C519.1 1132.4 518.3 1129.4 517.6 1127C516.8 1124.6 515.4 1121.6 515.5 1119.7Z" fill="#1F9E89" /></g><g stroke="#000" stroke-width="0.9" stroke-linejoin="round"><path d="M634.2 1056.5C635.3 1053.2 639.2 1053.9 642.3 1052.4C645.5 1050.9 650.9 1045.3 652.9 1047.5C654.9 1049.7 648.7 1059.7 654.5 1065.4C660.4 1071.1 682.6 1078.1 687.8 1081.7C693.1 1085.4 687.7 1085.1 686.2 1087.4C684.7 1089.7 681.5 1093.4 678.9 1095.6C676.3 1097.8 673.1 1099.7 670.8 1100.5C668.5 1101.3 668.2 1101.4 665.1 1100.5C662 1099.5 654.8 1095.6 652.1 1094.8C649.4 1094 650.2 1095 648.8 1095.6C647.5 1096.2 645.5 1098.4 644 1098.4C642.5 1098.4 641.5 1097.1 639.9 1095.6C638.3 1094 635.6 1091.4 634.2 1089.1C632.9 1086.8 631.5 1084.6 631.8 1081.7C632.1 1078.9 635.4 1076.2 635.8 1072C636.3 1067.8 633.1 1059.7 634.2 1056.5Z" fill="#7AD151" /><path d="M635.8 1057.3C636.6 1056.4 639.9 1058.9 641.5 1058.5C643.2 1058.1 644.2 1056.7 645.6 1054.9C647 1053 648.4 1048.7 649.7 1047.5C650.9 1046.4 652.8 1046.8 652.9 1047.9C653 1049 651.1 1051.7 650.5 1054C649.8 1056.4 649 1060.3 648.8 1062.2C648.7 1064.1 649.9 1064.2 649.7 1065.4C649.4 1066.7 648.4 1068.6 647.2 1069.5C646 1070.4 643.7 1070.9 642.3 1070.7C641 1070.6 640 1069.9 639.1 1068.7C638.2 1067.5 637.4 1065.7 636.8 1063.8C636.3 1061.9 635.1 1058.2 635.8 1057.3Z" fill="#6DCD59" /><path d="M627.7 1080.8C628.8 1076.7 633.8 1069.8 636.6 1067.9C639.4 1066 643.7 1067.9 644.6 1069.4C645.6 1070.9 643.4 1074.4 642.3 1076.8C641.3 1079.3 637.9 1081.8 638.2 1084C638.5 1086.2 642.1 1088 644 1089.9C645.8 1091.8 649.7 1094 649.4 1095.3C649.1 1096.7 644.5 1097.2 642.3 1098C640.2 1098.8 638.6 1101.2 636.6 1100.2C634.5 1099.1 631.6 1095.2 630.2 1092C628.7 1088.8 626.7 1084.8 627.7 1080.8Z" fill="#FDE725" /><path d="M681.3 1040.2C681.9 1039.2 683.5 1038.8 685.4 1038.6C687.3 1038.3 690.7 1038.1 692.7 1038.6C694.7 1039 697.2 1040.5 697.6 1041C698 1041.5 696.8 1041.9 695.2 1041.8C693.5 1041.7 689.7 1040.3 687.8 1040.2C685.9 1040 684.7 1040.3 683.8 1041C682.8 1041.7 682.6 1044.4 682.2 1044.3C681.7 1044.1 680.8 1041.1 681.3 1040.2Z" fill="#482878" /><path d="M641.5 1034.5C641.5 1033.1 642.5 1032 644 1031.2C645.5 1030.5 648.3 1030.1 650.5 1030C652.6 1029.9 655.1 1029.9 657 1030.4C658.8 1031 660.6 1032 661.4 1033.3C662.3 1034.5 662.3 1036.2 661.8 1037.7C661.4 1039.2 660.1 1041.1 658.6 1042.2C657.1 1043.3 654.7 1044.1 652.9 1044.3C651.1 1044.4 649.5 1043.9 648 1043C646.5 1042.2 645.1 1040.8 644 1039.4C642.9 1037.9 641.5 1035.8 641.5 1034.5Z" fill="#3B528B" /><path d="M620.4 1043.4C620.8 1042.2 621.4 1040.3 622.9 1039C624.3 1037.7 627.2 1036.5 629.4 1035.7C631.5 1035 634 1034.3 635.8 1034.5C637.7 1034.7 639.1 1035.7 640.7 1036.9C642.3 1038.1 644.1 1040.2 645.6 1041.8C647.1 1043.4 649.1 1045.2 649.7 1046.7C650.2 1048.2 649.5 1049.4 648.8 1050.8C648.2 1052.1 646.8 1053.6 645.6 1054.9C644.4 1056.1 643.2 1058.1 641.5 1058.5C639.9 1058.9 637.9 1058 635.8 1057.3C633.8 1056.5 631.4 1055.3 629.4 1054C627.3 1052.8 625.1 1051.2 623.7 1050C622.2 1048.7 621.4 1047.8 620.8 1046.7C620.3 1045.6 620.1 1044.7 620.4 1043.4Z" fill="#287D8E" /><path d="M594.4 1068.7C594.9 1066.7 595.6 1063.3 596.9 1060.6C598.1 1057.8 599.8 1054.6 601.7 1052.4C603.6 1050.2 605.8 1048.6 608.2 1047.5C610.7 1046.5 614.2 1046 616.4 1046.1C618.5 1046.1 619.7 1046.9 621.2 1047.9C622.7 1049 625.3 1051.1 625.3 1052.4C625.3 1053.7 623 1054 621.2 1055.7C619.5 1057.3 616.8 1060 614.7 1062.2C612.7 1064.4 610.5 1066.5 609 1068.7C607.6 1070.9 606.9 1073.9 605.8 1075.2C604.7 1076.5 604 1076.4 602.5 1076.4C601.1 1076.4 598.2 1075.8 596.9 1075.2C595.5 1074.6 594.7 1073.9 594.3 1072.8C593.8 1071.7 594 1070.7 594.4 1068.7Z" fill="#2DB27D" /><path d="M605.8 1073.6C606.1 1072 607.6 1069.2 609 1067.1C610.5 1064.9 612.7 1062.5 614.7 1060.6C616.8 1058.6 619.3 1056.3 621.2 1055.3C623.1 1054.2 624.5 1054 626.1 1054C627.7 1054.1 629.4 1054.7 631 1055.7C632.6 1056.6 634.9 1058.4 635.8 1059.7C636.8 1061.1 637 1062 636.8 1063.8C636.7 1065.6 635.9 1068.2 635 1070.3C634.2 1072.5 633 1075.2 631.8 1076.8C630.6 1078.5 629.5 1079.4 627.7 1080.1C626 1080.8 623.7 1081.1 621.2 1080.9C618.8 1080.8 615.4 1080 613.1 1079.3C610.8 1078.6 608.6 1077.8 607.4 1076.8C606.2 1075.9 605.5 1075.2 605.8 1073.6Z" fill="#35B779" /><path d="M593.2 1082.6C593.1 1081.2 593.9 1080.1 594.8 1079.3C595.7 1078.5 596.7 1077.9 598.5 1077.7C600.3 1077.5 603.4 1077.7 605.8 1078.1C608.2 1078.5 611.1 1079.5 613.1 1080.1C615.1 1080.7 618.1 1081.1 618 1081.7C617.8 1082.4 613.6 1083 612.3 1084.2C610.9 1085.4 610.3 1087.3 609.9 1089.1C609.4 1090.8 609.4 1093.3 609.4 1094.8C609.4 1096.3 610.5 1097.9 609.9 1098C609.2 1098.2 607.4 1096.7 605.8 1095.6C604.2 1094.5 601.9 1092.9 600.1 1091.5C598.3 1090.2 596.4 1088.9 595.2 1087.4C594.1 1085.9 593.3 1083.9 593.2 1082.6Z" fill="#7AD151" /><path d="M618 1081.7C619.6 1078.4 625.3 1080.8 627.7 1081.3C630.2 1081.9 631 1083.4 632.6 1085C634.2 1086.6 636.3 1088.8 637.5 1090.7C638.7 1092.6 639.5 1094.5 639.7 1096.4C640 1098.3 639.5 1100.5 638.7 1102.1C637.9 1103.7 636.6 1104.9 635 1105.8C633.5 1106.6 631.1 1107.1 629.4 1107.2C627.6 1107.2 626.4 1107.2 624.5 1106.2C622.6 1105.2 619.1 1105.4 618 1101.3C616.9 1097.2 616.4 1085.1 618 1081.7Z" fill="#FDE725" /><path d="M609.9 1089.1C610.1 1087.2 610.9 1085.4 612.3 1084.2C613.6 1083 616.1 1082 618 1081.7C619.9 1081.5 621.9 1081.9 623.7 1082.6C625.4 1083.2 627 1084.5 628.5 1085.8C630 1087.2 631.7 1088.9 632.6 1090.7C633.5 1092.5 634.1 1094.5 634.2 1096.4C634.4 1098.3 634 1100.6 633.4 1102.1C632.9 1103.6 632.1 1104.6 631 1105.4C629.9 1106.1 628.5 1106.7 626.9 1106.6C625.3 1106.5 623.3 1105.6 621.2 1104.6C619.2 1103.5 616.5 1102 614.7 1100.5C613 1099 611.5 1097.5 610.7 1095.6C609.9 1093.7 609.6 1091 609.9 1089.1Z" fill="#6DCD59" /><path d="M648.8 1060.6C648.8 1058.9 648.8 1056.1 649.7 1054C650.5 1051.9 652 1049.7 653.7 1047.9C655.5 1046.2 657.8 1044.9 660.2 1043.4C662.7 1042 665.9 1040.2 668.3 1039.4C670.8 1038.5 672.9 1038.3 674.8 1038.4C676.7 1038.5 678.6 1038.8 679.7 1039.8C680.9 1040.8 681.5 1042.4 681.7 1044.3C682 1046.1 681.8 1048.9 681.3 1050.8C680.9 1052.7 680.1 1054.4 678.9 1055.7C677.7 1057 676.1 1057.6 674 1058.5C672 1059.4 669.3 1060.1 666.7 1061C664.1 1061.8 660.9 1063.2 658.6 1063.8C656.3 1064.4 654.4 1064.6 652.9 1064.6C651.4 1064.6 650.3 1064.5 649.7 1063.8C649 1063.1 648.8 1062.2 648.8 1060.6Z" fill="#482878" /><path d="M683.8 1041C684.6 1040.5 685.9 1040 687.8 1040.2C689.7 1040.3 692.6 1040.9 695.2 1041.8C697.7 1042.8 700.7 1044.3 703.3 1045.9C705.8 1047.5 708.4 1049.7 710.6 1051.6C712.8 1053.5 715 1055.7 716.3 1057.3C717.6 1058.9 718.3 1060 718.3 1061.4C718.3 1062.7 717.6 1064.4 716.3 1065.4C715 1066.5 713.2 1067.1 710.6 1067.5C708 1067.8 704 1067.6 700.8 1067.5C697.7 1067.3 693.9 1067.3 691.9 1066.7C689.9 1066.1 689.7 1065.5 688.7 1063.8C687.6 1062.1 686.3 1059.1 685.4 1056.5C684.5 1053.9 683.8 1050.5 683.4 1048.3C683 1046.2 682.9 1044.7 683 1043.4C683 1042.2 683 1041.5 683.8 1041Z" fill="#482878" /><path d="M659 1086.6C659.9 1085.9 661.6 1086.7 663.5 1086.5C665.3 1086.3 668.1 1085.6 670 1085.4C671.9 1085.2 673.5 1084.9 674.8 1085C676.2 1085.1 678 1085.3 678.1 1086C678.2 1086.7 677 1088 675.7 1089.1C674.3 1090.1 672 1091.5 670 1092.3C667.9 1093.1 665.4 1093.8 663.5 1094C661.6 1094.2 659.5 1094.1 658.6 1093.6C657.6 1093 657.7 1091.9 657.8 1090.7C657.9 1089.5 658.1 1087.3 659 1086.6Z" fill="#5EC962" /><path d="M632.6 1082.6C632.7 1081.1 633.1 1078.6 634.2 1076.8C635.3 1075.1 637.5 1073.1 639.1 1072C640.7 1070.8 642.8 1070.2 644 1069.9C645.2 1069.7 646.1 1069.4 646.4 1070.3C646.7 1071.2 645.5 1073.5 646 1075.2C646.5 1076.9 648.2 1078.9 649.7 1080.5C651.1 1082.1 653 1084 654.5 1085C656 1086 657.9 1085.9 658.6 1086.6C659.3 1087.3 659.3 1088.1 659 1089.1C658.7 1090 658.3 1091.5 657 1092.3C655.7 1093.1 653.5 1094.1 651.3 1094C649.1 1093.8 646.3 1092.3 644 1091.5C641.7 1090.7 639.2 1090 637.5 1089.1C635.7 1088.1 634.2 1086.9 633.4 1085.8C632.6 1084.7 632.5 1084 632.6 1082.6Z" fill="#3FBC73" /><path d="M670.8 1062.6C670.9 1061.3 672.7 1059.6 674 1058.5C675.4 1057.4 677.4 1056.5 678.9 1056.1C680.4 1055.6 681.9 1055.5 683 1055.7C684 1055.9 684.5 1055.9 685.4 1057.3C686.4 1058.7 687.7 1062 688.7 1063.8C689.6 1065.6 690.9 1066.3 691.1 1067.9C691.3 1069.5 690.4 1071.6 689.9 1073.6C689.3 1075.6 688.7 1078.3 687.8 1080.1C687 1081.9 686.1 1083.3 684.6 1084.2C683.1 1085.1 680.9 1085.6 678.9 1085.6C676.9 1085.6 673.2 1085.4 672.4 1084.2C671.6 1083 673.7 1080.5 674 1078.5C674.4 1076.4 674.6 1074 674.4 1072C674.3 1069.9 673.8 1067.8 673.2 1066.3C672.6 1064.7 670.6 1063.9 670.8 1062.6Z" fill="#33638D" /><path d="M646 1073.6C646 1072.2 646.3 1070.1 647.2 1068.7C648.1 1067.3 649.4 1066.3 651.3 1065.4C653.2 1064.6 656 1064.4 658.6 1063.8C661.2 1063.2 664.7 1061.9 666.7 1061.8C668.7 1061.6 669.6 1062 670.8 1063C671.9 1064 673 1066 673.6 1067.9C674.2 1069.8 674.5 1072.2 674.4 1074.4C674.4 1076.6 674 1079.2 673.2 1080.9C672.5 1082.7 671.6 1084.1 670 1085C668.3 1085.9 665.8 1086.2 663.5 1086.2C661.2 1086.2 658.3 1085.9 656.2 1085C654 1084.1 652 1082.3 650.5 1080.9C649 1079.6 648 1078.1 647.2 1076.8C646.5 1075.6 646 1074.9 646 1073.6Z" fill="#33638D" /><path d="M691.1 1067.9C691.7 1066.8 691.9 1067.1 693.5 1067.1C695.2 1067 698.5 1067.5 700.8 1067.6C703.1 1067.8 706 1067.2 707.3 1067.9C708.7 1068.6 708.8 1070.3 709 1072C709.2 1073.6 709.1 1075.9 708.6 1077.7C708 1079.4 707 1081.3 705.7 1082.6C704.4 1083.8 702.7 1084.6 700.8 1085C698.9 1085.4 696.2 1085.3 694.3 1085C692.4 1084.7 690.5 1083.8 689.5 1083C688.4 1082.1 688.2 1081.7 688.2 1080.1C688.3 1078.5 689.4 1075.6 689.9 1073.6C690.3 1071.6 690.5 1069 691.1 1067.9Z" fill="#33638D" /><path d="M707.7 1067.9C708.1 1067.1 709.6 1067.9 711 1067.5C712.4 1067.1 715 1066.5 716.3 1065.6C717.6 1064.7 717.5 1062.1 718.7 1062.2C719.9 1062.3 722.1 1064.9 723.6 1066.3C725.1 1067.6 726.9 1068.6 727.6 1070.3C728.4 1072.1 728.3 1074.8 728.1 1076.8C727.8 1078.9 727 1080.9 726 1082.6C725 1084.2 723.4 1085.7 722 1086.6C720.5 1087.6 719 1088.2 717.1 1088.3C715.2 1088.3 712.5 1087.8 710.6 1087C708.6 1086.3 705.7 1085.3 705.3 1083.8C704.9 1082.3 707.7 1080 708.3 1078.1C708.9 1076.1 709.1 1073.7 709 1072C708.9 1070.3 707.4 1068.6 707.7 1067.9Z" fill="#3B528B" /><path d="M728.1 1070.3C728.6 1068.9 730.2 1068.4 731.3 1068.5C732.5 1068.5 733.9 1069.5 735 1070.7C736 1072 737.4 1074.1 737.8 1076C738.2 1078 738 1080.4 737.4 1082.6C736.8 1084.7 735.4 1087.3 734.1 1089.1C732.9 1090.8 731.6 1092.4 730.1 1093.1C728.6 1093.9 726.7 1093.9 725.2 1093.8C723.7 1093.7 722.2 1093.1 721.1 1092.3C720.1 1091.5 718.5 1090 718.7 1089.1C718.9 1088.1 721.1 1087.7 722.4 1086.6C723.7 1085.5 725.5 1084.2 726.4 1082.6C727.4 1080.9 727.9 1078.9 728.2 1076.8C728.5 1074.8 727.5 1071.7 728.1 1070.3Z" fill="#365D8D" /><path d="M686.6 1106.2C686.9 1105 688.4 1103.5 690.3 1102.1C692.1 1100.7 695 1099.5 697.6 1098C700.2 1096.6 703.1 1095 705.7 1093.6C708.3 1092.1 711 1090.3 713 1089.5C715.1 1088.7 716.3 1088.3 717.9 1088.7C719.5 1089 721.6 1090.4 722.8 1091.5C724 1092.7 725.1 1094 725.2 1095.6C725.3 1097.2 724.8 1099.3 723.6 1101.3C722.4 1103.3 720.1 1105.9 717.9 1107.8C715.7 1109.7 713.2 1111.3 710.6 1112.7C708 1114.1 704.8 1115.3 702.5 1116C700.2 1116.6 698.4 1116.8 696.8 1116.4C695.2 1116 694.1 1114.7 692.7 1113.5C691.4 1112.4 689.7 1110.7 688.7 1109.4C687.6 1108.2 686.4 1107.4 686.6 1106.2Z" fill="#2C728E" /><path d="M673.6 1110.8C674.8 1109.7 676 1109.2 678.1 1108.7C680.2 1108.2 683.8 1107.5 686.2 1107.9C688.7 1108.2 691 1109.6 692.7 1110.9C694.4 1112.3 695.6 1114.3 696.4 1115.8C697.1 1117.3 697.5 1118.3 697.2 1119.9C696.8 1121.5 695.9 1123.7 694.3 1125.6C692.8 1127.5 690.4 1129.6 687.8 1131.3C685.3 1133.1 681.9 1134.7 678.9 1136.2C675.9 1137.7 672.7 1139.4 670 1140.3C667.3 1141.2 664.3 1141.6 662.7 1141.5C661 1141.4 660.3 1140.6 659.8 1139.5C659.3 1138.3 659.5 1136.5 659.8 1134.6C660.2 1132.7 660.7 1130.4 661.8 1128.1C663 1125.7 665.2 1122.9 666.7 1120.7C668.2 1118.6 669.6 1116.7 670.8 1115C671.9 1113.4 672.4 1111.8 673.6 1110.8Z" fill="#26828E" /><path d="M640.7 1124C641.1 1123.2 641.8 1125.2 643.2 1126C644.5 1126.9 646.7 1128.4 648.8 1129C651 1129.6 654 1129.9 656.2 1129.7C658.3 1129.5 661.2 1127.1 661.8 1127.6C662.5 1128.2 661 1131.1 660.2 1132.9C659.4 1134.8 658.3 1137.3 657 1138.6C655.6 1140 653.9 1140.8 652.1 1141.1C650.3 1141.4 648 1141.4 646.4 1140.7C644.8 1140 643.3 1138.7 642.3 1137C641.4 1135.3 641.2 1132.7 640.9 1130.5C640.6 1128.3 640.3 1124.7 640.7 1124Z" fill="#1F9E89" /><path d="M662.3 1131.3C662.3 1129.9 662.6 1128.3 663.5 1126.4C664.3 1124.5 666.2 1121.8 667.5 1119.9C668.9 1118 670.4 1115.9 671.6 1115C672.8 1114.1 673.8 1114.1 674.8 1114.6C675.9 1115.2 677.1 1116.9 678.1 1118.3C679 1119.7 680.1 1121.7 680.5 1123.2C681 1124.7 681.3 1125.9 680.9 1127.2C680.5 1128.6 679.5 1130.1 678.1 1131.3C676.7 1132.5 674.3 1133.8 672.4 1134.6C670.5 1135.4 668.2 1136.1 666.7 1136.2C665.2 1136.3 664.2 1135.8 663.5 1135C662.7 1134.2 662.3 1132.7 662.3 1131.3Z" fill="#277F8E" /><path d="M640.7 1119.9C640.6 1117.8 641.3 1115.4 642.3 1113.4C643.4 1111.3 645.2 1109.1 647.2 1107.6C649.3 1106.2 651.8 1105.1 654.5 1104.4C657.2 1103.6 660.8 1103.2 663.5 1103.2C666.2 1103.1 669.1 1103.3 670.8 1104C672.5 1104.7 673.5 1105.5 673.6 1107.2C673.8 1108.9 672.6 1111.9 671.6 1114.2C670.6 1116.4 669 1118.6 667.5 1120.7C666 1122.7 664.6 1124.9 662.7 1126.4C660.8 1127.9 658.5 1129.1 656.2 1129.5C653.9 1129.9 651 1129.5 648.8 1128.8C646.7 1128.2 644.5 1127.1 643.2 1125.6C641.8 1124.1 640.9 1121.9 640.7 1119.9Z" fill="#1F9E89" /><path d="M674.8 1113.4C675 1111.8 678 1110.6 679.7 1109.7C681.5 1108.8 683.6 1108.2 685.4 1108.1C687.2 1108 689 1108.4 690.3 1109.1C691.6 1109.7 692.7 1110.7 693.1 1111.9C693.5 1113.2 693.3 1115 692.7 1116.6C692.1 1118.3 690.5 1120.2 689.5 1121.5C688.4 1122.8 687.4 1124.1 686.2 1124.4C685 1124.7 683.4 1124.1 682.2 1123.2C680.9 1122.3 680.1 1120.7 678.9 1119.1C677.7 1117.5 674.7 1115 674.8 1113.4Z" fill="#26828E" /></g><g stroke="#000" stroke-width="0.9" stroke-linejoin="round"><path d="M547.3 1148.9C547.8 1147 549.4 1143.9 552.1 1142.4C554.7 1141 559.5 1140.8 563.3 1140C567 1139.2 571 1138.7 574.5 1137.6C578 1136.6 580.9 1134.6 584.1 1133.6C587.3 1132.6 590.5 1131.7 593.7 1131.5C597 1131.4 600.4 1132.2 603.4 1132.8C606.3 1133.5 611.4 1134.7 611.4 1135.6C611.4 1136.4 606.3 1136.8 603.4 1137.6C600.4 1138.5 597 1139.5 593.7 1140.8C590.5 1142.2 587.6 1144.3 584.1 1145.7C580.7 1147 576.4 1147.4 572.9 1148.9C569.4 1150.3 566.5 1153.3 563.3 1154.5C560.1 1155.7 556.1 1156.2 553.7 1156.1C551.3 1155.9 549.9 1154.9 548.9 1153.7C547.8 1152.5 546.7 1150.7 547.3 1148.9Z" fill="#482173" /><path d="M587.3 1144C587.3 1143.2 592.9 1141.5 597 1140.8C601 1140.2 606.8 1140 611.4 1140C615.9 1140 620.2 1139.8 624.2 1140.8C628.2 1141.9 631.7 1144 635.4 1146.5C639.2 1148.9 643.2 1152.2 646.7 1155.3C650.1 1158.3 653.9 1161.7 656.3 1164.9C658.7 1168.1 660 1171.3 661.1 1174.5C662.2 1177.7 663 1181.7 662.7 1184.1C662.4 1186.5 660.8 1188.9 659.5 1188.9C658.1 1188.9 656 1186.5 654.7 1184.1C653.3 1181.7 652.8 1177.4 651.5 1174.5C650.1 1171.6 649.3 1169.4 646.7 1166.5C644 1163.6 639.2 1159.5 635.4 1156.9C631.7 1154.2 628.5 1152.1 624.2 1150.5C619.9 1148.9 614.3 1148.1 609.8 1147.3C605.2 1146.5 600.7 1146.2 597 1145.7C593.2 1145.1 587.3 1144.8 587.3 1144Z" fill="#33638D" /><path d="M576.1 1152.1C576.4 1150.8 576.9 1149 579.3 1148.1C581.7 1147.1 586 1146.6 590.5 1146.5C595.1 1146.3 601.8 1146.9 606.6 1147.3C611.4 1147.7 615.7 1148.1 619.4 1148.9C623.1 1149.7 626.6 1150.7 629 1152.1C631.4 1153.4 633.6 1155.8 633.8 1156.9C634.1 1157.9 633 1158.9 630.6 1158.5C628.2 1158.1 623.4 1155.4 619.4 1154.5C615.4 1153.5 611.1 1153.1 606.6 1152.9C602 1152.6 596.2 1152.3 592.1 1152.9C588.1 1153.4 584.9 1155.6 582.5 1156.1C580.1 1156.5 578.8 1156.3 577.7 1155.6C576.6 1154.9 575.8 1153.3 576.1 1152.1Z" fill="#38598C" /><path d="M590.5 1217.8C591.1 1216.7 594.8 1215.5 597 1216.2C599.1 1216.9 600.4 1220.2 603.4 1221.8C606.3 1223.4 611.1 1225.1 614.6 1225.8C618.1 1226.5 621.8 1225 624.2 1225.8C626.6 1226.6 627.7 1229 629 1230.6C630.4 1232.2 632.8 1234.2 632.2 1235.4C631.7 1236.6 628.5 1238.4 625.8 1237.8C623.1 1237.3 619.9 1234 616.2 1232.2C612.5 1230.5 607.1 1229 603.4 1227.4C599.6 1225.8 595.9 1224.2 593.7 1222.6C591.6 1221 590 1218.9 590.5 1217.8Z" fill="#33638D" /><path d="M532.8 1184.1C532.8 1181.7 534.2 1178.8 536 1176.1C537.9 1173.4 541.1 1170.8 544 1168.1C547 1165.4 551 1161.7 553.7 1160.1C556.3 1158.5 559.5 1157.4 560.1 1158.5C560.6 1159.5 558.2 1163.8 556.9 1166.5C555.5 1169.2 553.4 1171.6 552.1 1174.5C550.7 1177.4 549.9 1181.5 548.9 1184.1C547.8 1186.8 547 1189.1 545.7 1190.5C544.3 1192 542.4 1192.9 540.8 1192.9C539.2 1192.9 537.4 1192 536 1190.5C534.7 1189.1 532.8 1186.5 532.8 1184.1Z" fill="#482878" /><path d="M544 1190.5C545.1 1187.6 545.9 1184.1 547.3 1180.9C548.6 1177.7 550.2 1174.5 552.1 1171.3C553.9 1168.1 555.8 1164.1 558.5 1161.7C561.1 1159.3 565.2 1157.5 568.1 1156.9C571 1156.2 575.3 1155.8 576.1 1157.7C576.9 1159.5 574.2 1165.6 572.9 1168.1C571.6 1170.6 569.4 1170.5 568.1 1172.9C566.8 1175.3 564.9 1178.8 564.9 1182.5C564.9 1186.3 566.8 1191.6 568.1 1195.4C569.4 1199.1 573.2 1203.4 572.9 1205C572.6 1206.6 569.2 1205.2 566.5 1205C563.8 1204.7 559.3 1202.6 556.9 1203.4C554.5 1204.2 553.9 1208.8 552.1 1209.8C550.2 1210.7 547.7 1209.8 545.7 1209C543.6 1208.2 540.8 1206.7 540 1205C539.2 1203.2 540.2 1201 540.8 1198.6C541.5 1196.2 543 1193.5 544 1190.5Z" fill="#38598C" /><path d="M568.1 1157.7C568.4 1155.9 571.8 1156.7 574.5 1156.9C577.2 1157 581.2 1157.9 584.1 1158.5C587.1 1159 591.3 1158.7 592.1 1160.1C592.9 1161.4 590.8 1165.2 588.9 1166.5C587.1 1167.8 583.6 1168 580.9 1168.1C578.2 1168.2 575 1169 572.9 1167.3C570.8 1165.6 567.8 1159.4 568.1 1157.7Z" fill="#443A83" /><path d="M597 1156.9C597.8 1155.9 600.2 1154.1 603.4 1153.7C606.6 1153.3 611.9 1153.7 616.2 1154.5C620.5 1155.3 625.3 1157 629 1158.5C632.8 1159.9 635.7 1161.4 638.6 1163.3C641.6 1165.2 644.8 1167.3 646.7 1169.7C648.5 1172.1 649.3 1175.6 649.9 1177.7C650.4 1179.9 651.2 1183.1 649.9 1182.5C648.5 1182 644.8 1176.9 641.8 1174.5C638.9 1172.1 636 1170.1 632.2 1168.1C628.5 1166.1 623.7 1163.8 619.4 1162.5C615.1 1161.1 610 1160.6 606.6 1160.1C603.1 1159.5 600.2 1159.8 598.6 1159.3C597 1158.7 596.2 1157.8 597 1156.9Z" fill="#1FA088" /><path d="M661.1 1179.3C662.2 1177.8 664.8 1177.2 667.5 1176.9C670.2 1176.6 675.8 1176.5 677.1 1177.7C678.5 1178.9 676.6 1182.1 675.5 1184.1C674.4 1186.1 672.6 1188.7 670.7 1189.7C668.8 1190.8 665.9 1191.2 664.3 1190.5C662.7 1189.9 661.6 1187.6 661.1 1185.7C660.5 1183.9 660 1180.8 661.1 1179.3Z" fill="#472F7D" /><path d="M651.5 1190.5C653.3 1188.1 656.3 1188.1 657.9 1188.9C659.5 1189.7 661.1 1192.7 661.1 1195.4C661.1 1198 659.5 1201.8 657.9 1205C656.3 1208.2 653.9 1211.9 651.5 1214.6C649.1 1217.3 646.1 1219.7 643.4 1221C640.8 1222.3 637.6 1223.1 635.4 1222.6C633.3 1222.1 630.1 1219.4 630.6 1217.8C631.2 1216.2 636 1215.4 638.6 1213C641.3 1210.6 644.5 1207.1 646.7 1203.4C648.8 1199.6 649.6 1192.9 651.5 1190.5Z" fill="#4AC16D" /><path d="M597 1214.6C597 1212.7 600.7 1210.7 603.4 1209.8C606 1208.8 609.8 1208.6 613 1209C616.2 1209.4 619.9 1211 622.6 1212.2C625.3 1213.4 627.7 1214.7 629 1216.2C630.4 1217.7 631.4 1219.5 630.6 1221C629.8 1222.5 627.1 1224.3 624.2 1225C621.3 1225.7 616.5 1225.7 613 1225C609.5 1224.3 606 1222.7 603.4 1221C600.7 1219.3 597 1216.5 597 1214.6Z" fill="#4AC16D" /><path d="M588.9 1166.5C588.1 1164.9 592.4 1162 595.4 1160.9C598.3 1159.8 602.6 1159.8 606.6 1160.1C610.6 1160.3 615.1 1161.1 619.4 1162.5C623.7 1163.8 628.5 1166.1 632.2 1168.1C636 1170.1 638.9 1172.1 641.8 1174.5C644.8 1176.9 648.3 1179.6 649.9 1182.5C651.5 1185.5 652 1188.7 651.5 1192.1C650.9 1195.6 648.8 1199.9 646.7 1203.4C644.5 1206.8 641.6 1211.1 638.6 1213C635.7 1214.9 632.8 1215.1 629 1214.6C625.3 1214.1 617.3 1212.2 616.2 1209.8C615.1 1207.4 621.1 1203.9 622.6 1200.2C624.1 1196.4 625 1191.1 625 1187.3C625 1183.6 624.6 1180.1 622.6 1177.7C620.6 1175.3 616.7 1174.1 613 1172.9C609.2 1171.7 604.2 1171.6 600.2 1170.5C596.2 1169.4 589.7 1168.1 588.9 1166.5Z" fill="#A0DA39" /><path d="M564.9 1182.5C564.9 1179.1 566.5 1175.3 568.1 1172.9C569.7 1170.5 572.1 1169 574.5 1168.1C576.9 1167.2 579.6 1167 582.5 1167.3C585.5 1167.6 588.7 1169 592.1 1169.7C595.6 1170.4 599.6 1170.6 603.4 1171.3C607.1 1172 611.4 1172.6 614.6 1173.7C617.8 1174.8 620.9 1175.4 622.6 1177.7C624.3 1180 625 1183.6 625 1187.3C625 1191.1 624.1 1196.7 622.6 1200.2C621.1 1203.6 619.4 1206 616.2 1208.2C613 1210.3 607.1 1211.6 603.4 1213C599.6 1214.3 597 1216.2 593.7 1216.2C590.5 1216.2 587.3 1215.1 584.1 1213C580.9 1210.8 577.2 1206.6 574.5 1203.4C571.8 1200.2 569.7 1197.2 568.1 1193.7C566.5 1190.3 564.9 1186 564.9 1182.5Z" fill="#8FD744" /></g><g stroke="#000" stroke-width="0.9" stroke-linejoin="round"><path d="M750.9 1135.6C750.6 1134.7 755.9 1133.5 758.9 1132.8C761.8 1132.2 765.3 1131.4 768.5 1131.5C771.7 1131.7 774.6 1132.5 778.1 1133.6C781.6 1134.8 785.3 1137.2 789.3 1138.4C793.3 1139.6 798.4 1139.9 802.2 1140.8C805.9 1141.8 809.8 1142.6 811.8 1144C813.8 1145.5 814.5 1147.8 814.2 1149.7C813.9 1151.5 811.9 1154.3 810.2 1155.3C808.4 1156.2 806.2 1156.1 803.8 1155.3C801.4 1154.5 799 1152.3 795.8 1150.5C792.5 1148.6 788.5 1145.8 784.5 1144C780.5 1142.3 775.7 1141.1 771.7 1140C767.7 1139 764 1138.4 760.5 1137.6C757 1136.9 751.1 1136.4 750.9 1135.6Z" fill="#482173" /><path d="M698 1172.9C698.8 1170.2 700.6 1168.1 702.8 1164.9C704.9 1161.7 707.6 1156.9 710.8 1153.7C714 1150.5 717.7 1147.8 722 1145.7C726.3 1143.5 731.4 1141.9 736.4 1140.8C741.5 1139.8 747.4 1139.1 752.5 1139.2C757.5 1139.4 763.4 1140.8 766.9 1141.6C770.4 1142.4 774.4 1143.4 773.3 1144C772.2 1144.7 765.3 1145.1 760.5 1145.7C755.7 1146.2 749.5 1146.2 744.4 1147.3C739.4 1148.3 734 1149.9 730 1152.1C726 1154.2 723.3 1156.9 720.4 1160.1C717.5 1163.3 713.9 1167.8 712.4 1171.3C710.9 1174.8 711.6 1177.8 711.6 1180.9C711.6 1184 713.3 1188.1 712.4 1189.7C711.4 1191.3 707.8 1190.9 706 1190.5C704.1 1190.1 702.5 1188.9 701.2 1187.3C699.8 1185.7 698.5 1183.3 698 1180.9C697.4 1178.5 697.2 1175.6 698 1172.9Z" fill="#33638D" /><path d="M710.8 1168.1C711.9 1167 715.1 1171.8 717.2 1172.9C719.3 1174 722.1 1173.4 723.6 1174.5C725.1 1175.6 726.3 1177.6 726 1179.3C725.7 1181.1 723.7 1184.1 722 1184.9C720.3 1185.7 717.5 1185.1 715.6 1184.1C713.7 1183.2 711.6 1182 710.8 1179.3C710 1176.6 709.7 1169.2 710.8 1168.1Z" fill="#2C728E" /><path d="M726.8 1152.1C727.3 1150.8 729.8 1149 733.2 1148.1C736.7 1147.1 742.6 1146.6 747.7 1146.5C752.7 1146.3 758.6 1146.9 763.7 1147.3C768.8 1147.7 774.8 1148.1 778.1 1148.9C781.5 1149.7 783.5 1150.9 783.7 1152.1C784 1153.3 782 1155.7 779.7 1156.1C777.4 1156.5 774.1 1155 770.1 1154.5C766.1 1153.9 760.5 1153.1 755.7 1152.9C750.9 1152.7 745.5 1152.9 741.2 1153.3C737 1153.8 732.4 1155.8 730 1155.6C727.6 1155.4 726.3 1153.3 726.8 1152.1Z" fill="#38598C" /><path d="M682.7 1179.3C683.7 1178.1 687.4 1177.3 689.9 1176.9C692.5 1176.5 696.1 1176.4 698 1176.9C699.8 1177.4 701.4 1178.9 701.2 1180.1C700.9 1181.3 697.6 1182.5 696.4 1184.1C695.2 1185.7 695.3 1188.9 693.9 1189.7C692.6 1190.5 689.9 1189.9 688.3 1188.9C686.7 1188 685.3 1185.7 684.3 1184.1C683.4 1182.5 681.8 1180.5 682.7 1179.3Z" fill="#472F7D" /><path d="M733.2 1195.4C734.3 1192.1 738.3 1187.9 741.2 1184.1C744.2 1180.4 747.7 1176.6 750.9 1172.9C754.1 1169.2 757.8 1164.1 760.5 1161.7C763.2 1159.3 766.4 1157.7 766.9 1158.5C767.4 1159.3 765.6 1163.3 763.7 1166.5C761.8 1169.7 758.9 1173.7 755.7 1177.7C752.5 1181.7 746.9 1187.1 744.4 1190.5C742 1194 740.7 1197.2 741.2 1198.6C741.8 1199.9 744.4 1197.8 747.7 1198.6C750.9 1199.4 755.7 1202.3 760.5 1203.4C765.3 1204.4 772.2 1205 776.5 1205C780.8 1205 785.6 1202.3 786.1 1203.4C786.7 1204.4 782.1 1209.2 779.7 1211.4C777.3 1213.5 774.9 1216.5 771.7 1216.2C768.5 1215.9 764.5 1211.9 760.5 1209.8C756.5 1207.6 751.4 1203.9 747.7 1203.4C743.9 1202.8 740.4 1204.4 738 1206.6C735.6 1208.7 734.3 1215.7 733.2 1216.2C732.2 1216.7 731.4 1211.9 731.6 1209.8C731.9 1207.6 734.6 1205.8 734.8 1203.4C735.1 1201 732.2 1198.6 733.2 1195.4Z" fill="#B5DE2B" /><path d="M711.6 1168.1C712.1 1166 714.4 1163.7 717.2 1161.7C720 1159.7 723.9 1157.4 728.4 1156.1C733 1154.7 739.6 1154.1 744.4 1153.7C749.3 1153.3 754.3 1153 757.3 1153.7C760.2 1154.3 762.1 1155.8 762.1 1157.7C762.1 1159.5 759.1 1162.6 757.3 1164.9C755.4 1167.2 753.3 1168.9 750.9 1171.3C748.5 1173.7 745.5 1176.6 742.8 1179.3C740.2 1182 737.5 1185.7 734.8 1187.3C732.2 1188.9 729 1189.2 726.8 1188.9C724.7 1188.7 722.3 1187.6 722 1185.7C721.7 1183.9 725.2 1179.6 725.2 1177.7C725.2 1175.8 723.9 1175 722 1174.5C720.1 1174 715.7 1175.6 714 1174.5C712.3 1173.4 711 1170.2 711.6 1168.1Z" fill="#1FA088" /><path d="M699.6 1195.4C699.8 1193.2 701.7 1191.5 704.4 1190.5C707 1189.6 711.9 1189.6 715.6 1189.7C719.3 1189.9 723.9 1190.1 726.8 1191.3C729.8 1192.5 731.8 1194.7 733.2 1197C734.7 1199.2 735.9 1202 735.6 1205C735.4 1207.9 732.8 1211.9 731.6 1214.6C730.4 1217.3 730.6 1220.1 728.4 1221C726.3 1221.9 722 1221.5 718.8 1220.2C715.6 1218.9 711.9 1215.8 709.2 1213C706.5 1210.2 704.4 1206.3 702.8 1203.4C701.2 1200.4 699.3 1197.5 699.6 1195.4Z" fill="#5EC962" /><path d="M757.3 1166.5C759.7 1164.1 762.6 1161.7 766.9 1160.1C771.2 1158.5 777.6 1157.3 782.9 1156.9C788.3 1156.5 793.9 1156.6 799 1157.7C804 1158.7 809.1 1160.7 813.4 1163.3C817.7 1165.8 822.2 1169.4 824.6 1172.9C827 1176.4 828.4 1180.9 827.8 1184.1C827.3 1187.3 823 1189.5 821.4 1192.1C819.8 1194.8 820.3 1197.2 818.2 1200.2C816.1 1203.1 812.9 1209.2 808.6 1209.8C804.3 1210.3 797.9 1204.4 792.5 1203.4C787.2 1202.3 781.3 1203.6 776.5 1203.4C771.7 1203.1 768 1202.8 763.7 1201.8C759.4 1200.7 754.6 1198.6 750.9 1197C747.1 1195.4 742.3 1194.3 741.2 1192.1C740.2 1190 742.6 1187.1 744.4 1184.1C746.3 1181.2 750.3 1177.4 752.5 1174.5C754.6 1171.6 754.9 1168.9 757.3 1166.5Z" fill="#414487" /><path d="M757.3 1168.1C759.1 1165.6 763.2 1162.5 766.9 1160.9C770.6 1159.3 776.8 1158.1 779.7 1158.5C782.7 1158.9 784 1161.4 784.5 1163.3C785.1 1165.2 785.3 1167.8 782.9 1169.7C780.5 1171.6 773.8 1172.6 770.1 1174.5C766.4 1176.4 762.9 1180.7 760.5 1180.9C758.1 1181.2 756.2 1178.2 755.7 1176.1C755.1 1174 755.4 1170.6 757.3 1168.1Z" fill="#482878" /><path d="M763.7 1176.1C766 1174.2 771.7 1172.6 776.5 1171.3C781.3 1170 788.5 1168.1 792.5 1168.1C796.6 1168.1 799 1169.4 800.6 1171.3C802.2 1173.2 804 1177.7 802.2 1179.3C800.3 1180.9 793.9 1180.1 789.3 1180.9C784.8 1181.7 778.7 1183.1 774.9 1184.1C771.2 1185.2 768.9 1187.6 766.9 1187.3C764.9 1187.1 763.4 1184.4 762.9 1182.5C762.4 1180.7 761.4 1178 763.7 1176.1Z" fill="#3B528B" /><path d="M766.9 1190.5C768.8 1188.7 774.9 1186.8 779.7 1185.7C784.5 1184.7 790.9 1183.9 795.8 1184.1C800.6 1184.4 805.6 1185.7 808.6 1187.3C811.5 1188.9 814.5 1192.1 813.4 1193.7C812.3 1195.4 806.7 1195.9 802.2 1197C797.6 1198 790.7 1199.4 786.1 1200.2C781.6 1201 777.8 1202.3 774.9 1201.8C772 1201.2 769.8 1198.8 768.5 1197C767.2 1195.1 765 1192.4 766.9 1190.5Z" fill="#33638D" /><path d="M803.8 1168.1C804.4 1166.4 806.7 1165.2 808.6 1164.9C810.4 1164.6 813.4 1165.2 815 1166.5C816.6 1167.8 818.2 1170.9 818.2 1172.9C818.2 1174.9 816.6 1177.4 815 1178.5C813.4 1179.6 810.3 1180.2 808.6 1179.6C806.8 1179.1 805.4 1177.2 804.6 1175.3C803.8 1173.4 803.1 1169.8 803.8 1168.1Z" fill="#440154" /><path d="M807 1197C808.6 1195.5 812.7 1195.4 815 1196.2C817.3 1197 820.1 1199.8 820.6 1201.8C821.1 1203.8 819.9 1206.8 818.2 1208.2C816.5 1209.5 812.3 1210.3 810.2 1209.8C808 1209.2 805.9 1207.1 805.4 1205C804.8 1202.8 805.4 1198.4 807 1197Z" fill="#2C728E" /><path d="M760.5 1192.1C761.7 1190.8 765.2 1190 766.9 1190.5C768.6 1191.1 770.5 1193.5 770.9 1195.4C771.3 1197.2 770.5 1200.4 769.3 1201.8C768.1 1203.1 765.3 1203.9 763.7 1203.4C762.1 1202.8 760.2 1200.4 759.7 1198.6C759.1 1196.7 759.3 1193.5 760.5 1192.1Z" fill="#2C728E" /><path d="M742.8 1203.4C743.9 1201.8 747.9 1199.9 750.9 1200.2C753.8 1200.4 757.8 1202.8 760.5 1205C763.2 1207.1 765.8 1210.3 766.9 1213C768 1215.7 768.5 1218.9 766.9 1221C765.3 1223.1 760.5 1224.2 757.3 1225.8C754.1 1227.4 750.9 1229 747.7 1230.6C744.4 1232.2 741 1234.2 738 1235.4C735.1 1236.6 731.8 1238.1 730 1237.8C728.3 1237.6 726.8 1235.8 727.6 1233.8C728.4 1231.8 732.3 1228.8 734.8 1225.8C737.4 1222.9 741.2 1218.9 742.8 1216.2C744.4 1213.5 744.4 1211.9 744.4 1209.8C744.4 1207.6 741.8 1205 742.8 1203.4Z" fill="#33638D" /><path d="M731.6 1216.2C732.3 1214.1 734.8 1210 736.4 1209C738 1207.9 740.3 1208.3 741.2 1209.8C742.2 1211.2 742.8 1215.7 742 1217.8C741.2 1219.9 738 1221.9 736.4 1222.6C734.8 1223.3 733.2 1222.9 732.4 1221.8C731.6 1220.7 731 1218.3 731.6 1216.2Z" fill="#5EC962" /></g><g stroke="#000" stroke-width="0.9" stroke-linejoin="round"><path d="M636.9 1248.7C636.7 1247.6 635.9 1245.7 636.5 1244.2C637.1 1242.7 637.9 1241.5 640.5 1239.7C643.1 1237.9 647.9 1235.1 652.1 1233.4C656.3 1231.6 661 1230 665.5 1229.3C669.9 1228.6 673.7 1228.6 678.9 1229.3C684.1 1230 690.8 1231.6 696.7 1233.4C702.7 1235.1 708.9 1237.2 714.6 1239.7C720.2 1242.1 726.2 1244.9 730.7 1247.8C735.1 1250.6 738.5 1253.8 741.4 1256.8C744.2 1259.8 746.3 1262.9 747.6 1265.8C749 1268.6 749.2 1272 749.4 1273.8C749.5 1275.7 749.8 1276.5 748.5 1277C747.2 1277.5 743.7 1277.1 741.4 1276.5C739 1276 736 1274.6 734.2 1273.8C732.4 1273.1 731.8 1273.2 730.7 1272C729.5 1270.8 728.7 1268.3 727.1 1266.7C725.4 1265 723.2 1263.4 720.8 1262.2C718.5 1261 716.8 1260.3 712.8 1259.5C708.8 1258.6 700.9 1257.8 696.7 1257.2C692.6 1256.6 689.9 1256 687.8 1255.9C685.7 1255.7 685.4 1257.2 684.2 1256.3C683 1255.4 682.1 1252 680.7 1250.5C679.2 1249 677.4 1248.1 675.3 1247.3C673.2 1246.5 671.3 1245.8 668.2 1245.8C665 1245.7 660.4 1246.1 656.6 1246.9C652.7 1247.6 648.1 1249.4 645 1250C641.8 1250.6 639.2 1250.7 637.8 1250.5C636.5 1250.2 637.1 1249.7 636.9 1248.7Z" fill="#38598C" /><path d="M730.7 1272C731.2 1272.3 732.4 1273.1 734.2 1273.8C736 1274.6 739 1276 741.4 1276.5C743.7 1277.1 746.6 1276.1 748.5 1277C750.4 1277.9 751.9 1280.1 753 1282C754.1 1283.8 755.1 1286.2 755.2 1288.2C755.3 1290.3 755 1292.6 753.9 1294.5C752.7 1296.5 750.6 1298.2 748.5 1300C746.4 1301.8 743.6 1303.9 741.4 1305.3C739.1 1306.8 736.9 1308.3 735.1 1308.5C733.3 1308.7 730.5 1308 730.7 1306.7C730.8 1305.4 734.7 1302.7 736 1300.8C737.3 1299 738.2 1297.2 738.7 1295.5C739.2 1293.7 739.3 1292.2 739.1 1290C739 1287.9 738.6 1284.8 737.8 1282.8C737 1280.9 735.5 1279.4 734.2 1278.3C733 1277.3 730.8 1277.6 730.2 1276.5C729.6 1275.5 730.6 1272.8 730.7 1272Z" fill="#3FBC73" /><path d="M668.2 1301.8C668.6 1300.9 670.8 1300.8 672.6 1300.8C674.4 1300.9 676.3 1301.7 678.9 1302.2C681.4 1302.7 684.8 1303.8 687.8 1304C690.8 1304.2 694.1 1303.9 696.7 1303.5C699.4 1303.2 700.9 1302.8 703.9 1301.8C706.8 1300.7 711.3 1298.9 714.6 1297.2C717.9 1295.6 721.3 1293.6 723.5 1291.8C725.7 1290 726.9 1288.5 728 1286.5C729.1 1284.4 729.8 1280.8 730.2 1279.2C730.7 1277.7 730 1277.2 730.7 1277C731.3 1276.8 733 1277.4 734.2 1278.3C735.4 1279.3 737 1280.9 737.8 1282.8C738.6 1284.8 739 1287.9 739.1 1290C739.3 1292.2 739.2 1293.7 738.7 1295.5C738.2 1297.2 737.3 1299.3 736 1300.8C734.7 1302.3 732.7 1303.4 730.7 1304.5C728.6 1305.5 727.7 1306.4 723.5 1307.2C719.3 1307.9 711.6 1308.4 705.7 1308.8C699.7 1309.1 692.7 1309.4 687.8 1309.4C682.9 1309.4 679.2 1309.1 676.2 1308.5C673.2 1307.9 671.3 1306.9 669.9 1305.8C668.6 1304.7 667.7 1302.6 668.2 1301.8Z" fill="#DDE318" /><path d="M629.8 1266.7C630.3 1264.7 631.3 1262.2 632.5 1260.4C633.6 1258.6 635.1 1257.2 636.9 1255.9C638.7 1254.5 641.2 1253.2 643.2 1252.2C645.1 1251.3 647 1250.7 648.5 1250.5C650 1250.2 650.9 1249.7 652.1 1250.9C653.3 1252.1 655.7 1255 655.7 1257.7C655.7 1260.3 654.2 1264.2 652.1 1266.7C650 1269.1 645.8 1270.5 643.2 1272C640.5 1273.5 638.1 1274.8 636 1275.7C633.9 1276.6 631.8 1278.1 630.7 1277.5C629.6 1276.8 629.5 1273.8 629.3 1272C629.2 1270.2 629.3 1268.6 629.8 1266.7Z" fill="#482878" /><path d="M642.3 1255.4C643.9 1255.1 645.8 1255.5 646.7 1255.9C647.7 1256.2 647.9 1255.9 648.1 1257.7C648.3 1259.5 647.7 1263.7 648.1 1266.7C648.4 1269.7 649.6 1273 650.3 1275.7C651.1 1278.4 652.4 1280.4 652.5 1282.8C652.7 1285.2 651.8 1288 651.2 1290C650.6 1292.1 650 1294 649 1295C647.9 1296 646.5 1296.2 645 1296.3C643.4 1296.5 640.4 1297.9 639.6 1295.9C638.8 1294 640.1 1288 640 1284.7C640 1281.3 639.5 1278.1 639.2 1275.7C638.8 1273.2 638.5 1271.8 637.8 1270.2C637.1 1268.8 635.7 1268 635.1 1266.7C634.6 1265.3 634.4 1263.7 634.7 1262.2C635 1260.7 635.7 1258.8 636.9 1257.7C638.2 1256.5 640.6 1255.7 642.3 1255.4Z" fill="#3E4A89" /><path d="M634.2 1271.2C635.4 1270.7 637 1271.3 637.8 1272C638.6 1272.8 638.8 1273.6 639.2 1275.7C639.5 1277.8 640 1281.8 640 1284.7C640.1 1287.5 639.8 1290.5 639.6 1292.8C639.4 1295 639.3 1297.6 638.7 1298.2C638.1 1298.8 636.8 1297.5 636 1296.3C635.3 1295.1 635.3 1292.9 634.2 1291C633.2 1289 630.6 1286.6 629.8 1284.7C629 1282.7 629.2 1280.9 629.3 1279.2C629.5 1277.6 629.9 1276.1 630.7 1274.8C631.5 1273.4 633.1 1271.6 634.2 1271.2Z" fill="#414487" /><path d="M627.1 1273.4C627.6 1273.2 628.7 1274.1 628.9 1275.7C629.1 1277.2 628 1280.8 628.4 1282.8C628.9 1284.9 630.4 1286.6 631.6 1288.2C632.7 1289.9 634.4 1291.4 635.1 1292.8C635.9 1294.1 636.2 1295.9 636 1296.3C635.9 1296.8 635.4 1296.8 634.2 1295.5C633.1 1294.1 630.3 1290.3 628.9 1288.2C627.5 1286.2 626.3 1284.8 625.8 1282.8C625.2 1280.9 625.5 1278.1 625.8 1276.5C626 1275 626.6 1273.6 627.1 1273.4Z" fill="#46327E" /><path d="M652.1 1250.9C652.9 1250.8 653.7 1251.6 654.3 1252.7C654.9 1253.8 655.1 1255.7 655.7 1257.7C656.2 1259.6 657.6 1262 657.5 1264.4C657.3 1266.8 655.1 1269.6 654.8 1272C654.5 1274.5 654.9 1276.8 655.7 1279.2C656.4 1281.7 658.5 1284.5 659.2 1286.5C660 1288.4 660.3 1289.3 660.1 1291C660 1292.6 659.2 1295.1 658.3 1296.3C657.5 1297.6 656 1298.4 654.8 1298.6C653.6 1298.8 652.2 1298.3 651.2 1297.7C650.2 1297.1 649 1296.3 649 1295C649 1293.7 650.6 1292.1 651.2 1290C651.8 1288 652.7 1285.2 652.5 1282.8C652.4 1280.4 651.1 1278.4 650.3 1275.7C649.6 1273 648.4 1269.7 648.1 1266.7C647.7 1263.7 647.9 1259.9 648.1 1257.7C648.3 1255.4 648.7 1254.3 649.4 1253.2C650.1 1252 651.3 1251 652.1 1250.9Z" fill="#3E4A89" /><path d="M656.6 1252.2C657.2 1250.9 659.4 1251.4 661 1251.4C662.7 1251.3 664.9 1251.2 666.4 1251.8C667.9 1252.4 668.8 1254.2 669.9 1255C671.1 1255.7 672 1256 673.5 1256.3C675 1256.6 677.5 1256.4 678.9 1256.8C680.2 1257.1 682.3 1258 681.6 1258.5C680.8 1259.1 677.5 1259.2 674.4 1259.9C671.3 1260.7 665.6 1262.3 662.8 1263C660.1 1263.8 658.9 1265 657.9 1264.4C656.9 1263.8 657.2 1261.5 657 1259.5C656.8 1257.4 655.9 1253.6 656.6 1252.2Z" fill="#3E4A89" /><path d="M667.3 1250.9C667.7 1250.3 670.5 1250 671.7 1250.3C672.9 1250.5 673.8 1251.4 674.4 1252.2C675 1253.1 675.8 1254.8 675.3 1255.4C674.9 1256 672.8 1256.2 671.7 1255.9C670.7 1255.6 669.8 1254.4 669.1 1253.6C668.3 1252.8 666.8 1251.5 667.3 1250.9Z" fill="#443A83" /><path d="M674.4 1250.9C675.1 1250.5 677.4 1250.1 678.9 1250.3C680.4 1250.4 682.1 1251.1 683.3 1251.8C684.6 1252.5 686.6 1253.7 686.5 1254.5C686.3 1255.3 683.7 1256.5 682.4 1256.8C681.2 1257 680 1256.5 678.9 1256.3C677.8 1256.1 676.4 1256 675.8 1255.4C675.1 1254.8 675.1 1253.5 674.9 1252.7C674.6 1252 673.7 1251.3 674.4 1250.9Z" fill="#443A83" /><path d="M658.3 1292.8C658.5 1291.5 659.1 1290.8 660.1 1291C661.2 1291.1 662.7 1292.3 664.6 1293.7C666.5 1295 669.8 1297.8 671.7 1299C673.7 1300.3 676.6 1300.9 676.2 1301.3C675.8 1301.7 670.5 1301.1 669.1 1301.3C667.6 1301.5 667.6 1301.8 667.7 1302.7C667.9 1303.5 668.5 1305.3 669.9 1306.2C671.4 1307.2 673.8 1308 676.2 1308.5C678.6 1309 682.4 1309.1 684.2 1309.4C686 1309.7 687.2 1309.8 686.9 1310.3C686.6 1310.8 684.5 1311.9 682.4 1312.1C680.4 1312.3 676.6 1312 674.4 1311.7C672.2 1311.4 670.5 1311 669.1 1310.3C667.6 1309.5 666.5 1308.4 665.5 1307.2C664.4 1305.9 663.8 1304.2 662.8 1302.7C661.8 1301.2 660 1299.8 659.2 1298.2C658.5 1296.5 658.2 1294 658.3 1292.8Z" fill="#3FBC73" /><path d="M701.2 1310C701.9 1309.8 701.9 1309.1 705.7 1308.8C709.4 1308.4 719.4 1308.1 723.5 1307.9C727.6 1307.6 729.1 1307.3 730.2 1307.2C729.7 1307.7 728.3 1309.4 727.1 1310.3C725.8 1311.2 724.1 1311.4 722.6 1312.5C721.1 1313.7 719.6 1316.1 718.2 1317C716.7 1318 714.9 1318.6 713.7 1318.4C712.5 1318.2 711.9 1317.1 711 1316.2C710.1 1315.2 709.2 1313.5 708.3 1312.5C707.4 1311.6 706.8 1311.2 705.7 1310.8C704.5 1310.3 701.9 1310.2 701.2 1310Z" fill="#3FBC73" /><path d="M684.2 1256.8C684.2 1256.4 685.7 1256 687.8 1256C689.9 1256.1 692.6 1256.6 696.7 1257.2C700.9 1257.8 708.8 1258.6 712.8 1259.5C716.8 1260.3 718.5 1261 720.8 1262.2C723.2 1263.4 725.4 1265 727.1 1266.7C728.7 1268.3 730.2 1270.5 730.7 1272C731.1 1273.5 730.9 1275.8 729.8 1275.7C728.6 1275.5 726 1272.4 723.5 1271.2C721 1270 717.6 1269.5 714.6 1268.5C711.6 1267.4 708.2 1266.3 705.7 1264.8C703.1 1263.3 701.2 1260.7 699.4 1259.5C697.6 1258.2 696.9 1257.9 694.9 1257.7C693 1257.4 689.6 1258.3 687.8 1258.1C686 1258 684.2 1257.1 684.2 1256.8Z" fill="#22A884" /><path d="M654.8 1272C654.9 1270 655.2 1268.2 656.6 1266.7C657.9 1265.2 659.8 1264.2 662.8 1263C665.8 1261.9 670.2 1260.7 674.4 1259.9C678.6 1259.1 684.4 1258.5 687.8 1258.1C691.2 1257.7 693 1257.4 694.9 1257.7C696.9 1257.9 697.6 1258.2 699.4 1259.5C701.2 1260.7 703.1 1263.3 705.7 1264.8C708.2 1266.3 711.6 1267.4 714.6 1268.5C717.6 1269.5 721.1 1270.2 723.5 1271.2C725.9 1272.1 727.8 1272.5 728.9 1273.8C730 1275.2 730.4 1277.2 730.2 1279.2C730.1 1281.3 729.1 1284.4 728 1286.5C726.9 1288.5 725.7 1290 723.5 1291.8C721.3 1293.6 717.9 1295.6 714.6 1297.2C711.3 1298.9 706.8 1300.7 703.9 1301.8C700.9 1302.8 699.4 1303.2 696.7 1303.5C694.1 1303.9 690.8 1304.2 687.8 1304C684.8 1303.8 681.6 1303 678.9 1302.2C676.2 1301.4 674.1 1300.5 671.7 1299C669.4 1297.6 666.7 1295.8 664.6 1293.7C662.5 1291.6 660.7 1288.9 659.2 1286.5C657.7 1284 656.4 1281.7 655.7 1279.2C654.9 1276.8 654.6 1274.1 654.8 1272Z" fill="#C8E020" /><path d="M646.7 1304C647 1303.2 648.8 1303.2 650.3 1303.5C651.8 1303.9 653.9 1305.3 655.7 1306.2C657.5 1307.2 659.2 1308.7 661 1309.4C662.8 1310.1 664.1 1309.9 666.4 1310.3C668.6 1310.7 672 1311.3 674.4 1311.7C676.8 1312 679 1311.8 680.7 1312.5C682.3 1313.3 683.2 1314.7 684.2 1316.2C685.3 1317.7 686.3 1319.8 686.9 1321.5C687.5 1323.3 688 1325.5 687.8 1327C687.7 1328.5 686.2 1329.2 686 1330.5C685.9 1331.9 686.3 1333.1 686.9 1335C687.5 1337 688.7 1340.2 689.6 1342.2C690.5 1344.3 691.9 1346.5 692.3 1347.7C692.6 1348.9 692.6 1348.9 691.8 1349.5C691.1 1350 689.4 1350.7 687.8 1350.8C686.2 1350.9 684.4 1350.7 682.4 1349.9C680.5 1349.1 678.1 1347.3 676.2 1345.8C674.3 1344.3 672.5 1342.9 670.8 1340.9C669.2 1339 668 1336.8 666.4 1334.2C664.7 1331.5 663.1 1328.3 661 1325.2C658.9 1322 656 1318.1 653.9 1315.2C651.8 1312.4 649.7 1309.9 648.5 1308C647.3 1306.2 646.4 1304.8 646.7 1304Z" fill="#2A788E" /><path d="M622.6 1270.2C623.8 1270.3 624.8 1270.5 625.3 1271.6C625.8 1272.6 625.7 1274.7 625.8 1276.5C625.8 1278.4 625.2 1280.9 625.8 1282.8C626.3 1284.8 627.5 1286.2 628.9 1288.2C630.3 1290.3 632.6 1293.7 634.2 1295.5C635.9 1297.2 636.6 1297.2 638.7 1298.6C640.8 1299.9 644.2 1302.3 646.7 1303.5C649.3 1304.8 651.5 1304.9 653.9 1306.2C656.3 1307.6 658.9 1309.6 661 1311.7C663.1 1313.8 664.6 1316.1 666.4 1318.8C668.2 1321.5 670.1 1325.1 671.7 1327.8C673.4 1330.5 675.3 1333.4 676.2 1335C677.1 1336.7 677.4 1337 677.1 1337.8C676.8 1338.5 675.9 1339 674.4 1339.5C672.9 1340.1 670.4 1340.9 668.2 1340.9C665.9 1340.9 663.1 1340.4 661 1339.5C658.9 1338.7 657.7 1337.9 655.7 1336C653.6 1334 651.4 1330.7 648.5 1327.8C645.7 1325 642.1 1321.8 638.7 1318.8C635.3 1315.8 631.4 1313 628 1309.8C624.6 1306.7 620.9 1303 618.2 1300C615.5 1297 613.5 1294.4 611.9 1291.8C610.4 1289.3 609.1 1286.8 608.8 1284.7C608.5 1282.6 609.3 1281 610.1 1279.2C611 1277.5 612.4 1275.2 613.7 1273.8C615 1272.5 616.7 1271.8 618.2 1271.2C619.7 1270.6 621.4 1270.2 622.6 1270.2Z" fill="#2F6C8E" /><path d="M696.7 1317C697.2 1316.6 699.1 1318.7 700.3 1319.8C701.5 1320.8 703.2 1321.7 703.9 1323.3C704.6 1325 704.5 1327.1 704.6 1329.7C704.7 1332.2 704.7 1336.5 704.3 1338.7C704 1340.8 703.2 1341.9 702.5 1342.7C701.9 1343.5 700.7 1344 700.3 1343.3C699.9 1342.7 700.2 1340.9 699.9 1338.7C699.6 1336.4 698.9 1332.4 698.5 1329.7C698.1 1327 697.7 1324.6 697.4 1322.5C697.1 1320.3 696.3 1317.5 696.7 1317Z" fill="#26828E" /><path d="M682.4 1312.1C682.9 1311.1 685.4 1310.5 686.9 1310.3C688.4 1310.1 690 1310.3 691.4 1310.8C692.7 1311.2 694.1 1311.8 694.9 1313C695.8 1314.2 696.3 1315.9 696.7 1318C697.2 1320 697.2 1322.5 697.6 1325.2C698 1327.9 698.6 1331.5 699 1334.2C699.3 1336.9 699.9 1339.2 699.9 1341.3C699.8 1343.4 699.3 1345.6 698.5 1346.8C697.7 1347.9 696 1348.2 694.9 1348.4C693.9 1348.5 693.2 1348.7 692.3 1347.7C691.4 1346.6 690.5 1344.3 689.6 1342.2C688.7 1340.2 687.5 1337 686.9 1335C686.3 1333.1 685.9 1331.9 686 1330.5C686.2 1329.2 687.7 1328.5 687.8 1327C688 1325.5 687.5 1323.3 686.9 1321.5C686.3 1319.8 685 1317.7 684.2 1316.2C683.5 1314.6 682 1313.1 682.4 1312.1Z" fill="#1F9E89" /></g><g stroke="#000" stroke-width="0.9" stroke-linejoin="round"><path d="M765.1 1275.6C764.8 1275.6 764.9 1271.8 765.5 1269.5C766.2 1267.2 767.2 1264.3 769 1261.7C770.7 1259.1 773 1256.5 775.9 1253.9C778.8 1251.3 782.1 1248.5 786.3 1246C790.5 1243.6 796 1241.1 801.1 1239.1C806.1 1237.1 811.2 1235.3 816.7 1233.9C822.2 1232.4 829 1231.1 834.1 1230.4C839.1 1229.7 843.9 1229.6 847.1 1229.7C850.3 1229.8 851.4 1230 853.1 1230.8C854.9 1231.7 855.9 1233.7 857.5 1234.7C859.1 1235.8 860.5 1236.5 862.7 1237.3C864.9 1238.2 868.2 1239 870.5 1240C872.8 1240.9 875.2 1242 876.6 1243C877.9 1244 878.3 1244.8 878.5 1246C878.7 1247.3 878.5 1249.5 877.9 1250.4C877.3 1251.3 876.4 1251.6 874.8 1251.4C873.3 1251.3 871.2 1250.1 868.8 1249.5C866.3 1248.9 863 1248.2 860.1 1247.8C857.2 1247.3 854.3 1247 851.4 1246.9C848.5 1246.8 845.6 1246.8 842.7 1247.3C839.8 1247.9 836.7 1248.9 834.1 1250C831.5 1251 829.3 1252.3 827.1 1253.9C824.9 1255.4 822.8 1257.2 821 1259.1C819.3 1261 818.3 1263.3 816.7 1265.2C815.1 1267 812.9 1269 811.5 1270.4C810 1271.8 809.3 1273.3 808 1273.4C806.7 1273.6 805.1 1272.3 803.7 1271.2C802.2 1270.2 800.5 1268.4 799.3 1266.9C798.2 1265.5 797.9 1263.7 796.7 1262.6C795.6 1261.4 794.1 1260.5 792.4 1259.9C790.7 1259.4 788.8 1259.4 786.3 1259.5C783.9 1259.7 780.3 1260 777.7 1260.8C775.1 1261.6 772.4 1262.8 770.7 1264.3C769 1265.7 768.2 1267.6 767.2 1269.5C766.3 1271.4 765.4 1275.6 765.1 1275.6Z" fill="#38598C" /><path d="M760.3 1288.6C760.4 1287 760.9 1285.4 761.6 1283.4C762.3 1281.4 763.7 1278.8 764.6 1276.5C765.6 1274.1 766.2 1271.5 767.2 1269.5C768.3 1267.5 769 1265.7 770.7 1264.3C772.4 1262.8 775.1 1261.6 777.7 1260.8C780.3 1260 783.9 1259.7 786.3 1259.5C788.8 1259.4 790.7 1259.4 792.4 1259.9C794.1 1260.5 795.6 1261.4 796.7 1262.6C797.9 1263.7 798.2 1265.5 799.3 1266.9C800.5 1268.4 802.2 1270.2 803.7 1271.2C805.1 1272.3 807.1 1272 808 1273.4C809 1274.9 808.9 1277.7 809.3 1279.9C809.8 1282.2 810.1 1284.6 810.6 1286.9C811.1 1289.2 812.1 1291.8 812.4 1293.8C812.6 1295.9 812.7 1298.3 811.9 1299.1C811.2 1299.9 809.5 1299.2 808 1298.6C806.5 1298 805.1 1296.7 802.8 1295.6C800.5 1294.5 797.2 1293.1 794.1 1292.1C791.1 1291.1 787.2 1289.9 784.6 1289.5C782 1289.1 780.3 1289.2 778.5 1289.5C776.8 1289.8 775.3 1290.4 774.2 1291.2C773.1 1292.1 772.3 1293.4 772 1294.7C771.7 1296 772.1 1297.8 772.4 1299.1C772.8 1300.3 774.6 1301.7 774.2 1302.1C773.7 1302.5 771.6 1302 769.8 1301.2C768.1 1300.4 765.3 1298.7 763.8 1297.3C762.3 1295.9 761.3 1294.4 760.7 1293C760.2 1291.5 760.2 1290.2 760.3 1288.6Z" fill="#3FBC73" /><path d="M820.2 1259.1C820.2 1259.1 824.8 1255.4 827.1 1253.9C829.4 1252.3 831.5 1251 834.1 1250C836.7 1248.9 839.8 1247.9 842.7 1247.3C845.6 1246.8 848.5 1246.8 851.4 1246.9C854.3 1247 857.2 1247.3 860.1 1247.8C863 1248.2 866.6 1248.8 868.8 1249.5C870.9 1250.2 871.4 1250.7 873.1 1252.1C874.8 1253.6 877.4 1256.3 879.2 1258.2C881 1260.1 882.9 1261.5 883.9 1263.4C885 1265.3 885.6 1267.6 885.7 1269.5C885.8 1271.4 885.2 1273.7 884.4 1274.7C883.6 1275.7 882.4 1275.6 880.9 1275.6C879.5 1275.6 877.3 1275.2 875.7 1274.7C874.1 1274.3 872.5 1273.9 871.4 1273C870.2 1272.1 870.2 1270.7 868.8 1269.5C867.3 1268.4 865 1266.8 862.7 1266C860.4 1265.2 856.3 1265.6 854.9 1264.7C853.5 1263.9 855.3 1261.8 854.4 1260.8C853.6 1259.9 851.1 1259.7 849.7 1259.1C848.2 1258.4 846.3 1257.8 845.8 1256.9C845.2 1256 847 1254.7 846.2 1253.9C845.4 1253.1 843 1252.6 841 1252.1C839 1251.7 836.4 1251 834.1 1251.3C831.7 1251.5 829.4 1252.6 827.1 1253.9C824.8 1255.2 820.2 1259.1 820.2 1259.1Z" fill="#482173" /><path d="M868.8 1278.2C868.7 1276.9 869.8 1274.6 870.9 1274C872.1 1273.5 874 1274.6 875.7 1274.9C877.4 1275.2 879.4 1275.7 880.9 1275.8C882.4 1275.8 883.7 1274.8 884.8 1275.2C886 1275.6 887.1 1276.8 887.9 1278.2C888.6 1279.6 889.4 1281.8 889.6 1283.4C889.8 1285 890 1286.2 889.2 1287.8C888.3 1289.4 885.9 1291.5 884.4 1293C882.9 1294.4 881.2 1295.6 880 1296.5C878.9 1297.3 878 1298.6 877.4 1298.2C876.9 1297.8 876.6 1295.2 876.6 1293.8C876.5 1292.5 877.3 1291.7 877 1290.4C876.7 1289.1 875.8 1287.5 874.8 1286C873.9 1284.6 872.4 1283 871.4 1281.7C870.4 1280.4 868.8 1279.5 868.8 1278.2Z" fill="#443A83" /><path d="M867.5 1284.3C867.7 1281.8 868.1 1279.1 868.8 1278.6C869.4 1278.2 870.4 1280.4 871.4 1281.7C872.4 1282.9 873.9 1284.6 874.8 1286C875.8 1287.5 876.7 1288.9 877 1290.4C877.3 1291.8 877.1 1293.6 876.6 1294.7C876.1 1295.8 875.1 1296.6 874 1296.9C872.8 1297.2 870.8 1297 869.6 1296.5C868.5 1295.9 867.6 1295.9 867.2 1293.8C866.8 1291.8 867.2 1286.8 867.5 1284.3Z" fill="#3E4A89" /><path d="M810.2 1283.4C810.5 1281.8 812.1 1282.1 813.2 1282.5C814.3 1283 815.7 1284.3 816.7 1286C817.7 1287.8 818.7 1290.8 819.3 1293C819.9 1295.2 820.7 1297.9 820.2 1299.1C819.6 1300.2 817.1 1299.7 815.8 1299.8C814.5 1299.8 813.1 1300.5 812.4 1299.2C811.6 1298 811.9 1294.7 811.5 1292.1C811.1 1289.5 809.9 1285 810.2 1283.4Z" fill="#DDE318" /><path d="M834.1 1288.6C835.3 1287.9 837.5 1289 839.3 1288.8C841 1288.7 843.1 1288.2 844.5 1287.8C845.8 1287.3 845.6 1286.4 847.5 1286.2C849.4 1286 853.2 1286.7 855.7 1286.5C858.3 1286.2 860.8 1285.3 862.7 1284.9C864.6 1284.5 866.3 1282.8 867 1284.3C867.8 1285.8 867.3 1291.7 867 1293.8C866.7 1296 866.4 1296.6 865.3 1297.3C864.1 1298 861.7 1298.2 860.1 1298.2C858.5 1298.2 857.5 1298 855.7 1297.6C854 1297.2 851.8 1296.2 849.7 1295.8C847.5 1295.5 845.3 1295.3 842.7 1295.4C840.1 1295.5 836.4 1296.4 834.1 1296.5C831.7 1296.6 829.2 1296.6 828.8 1296C828.5 1295.4 831 1294.2 831.9 1293C832.8 1291.7 832.8 1289.3 834.1 1288.6Z" fill="#3E4A89" /><path d="M811.1 1273C812 1270.8 815 1267.5 816.7 1265.2C818.4 1262.8 819.3 1261 821 1259.1C822.8 1257.2 824.9 1255.1 827.1 1253.9C829.3 1252.6 831.7 1251.7 834.1 1251.4C836.4 1251.1 839 1251.7 841 1252.1C843 1252.5 845.4 1253.1 846.2 1253.9C847 1254.7 845.2 1256 845.8 1256.9C846.3 1257.8 848.2 1258.4 849.7 1259.1C851.1 1259.7 853.6 1259.8 854.4 1260.8C855.3 1261.8 855.4 1264.1 854.9 1265.2C854.4 1266.3 852.9 1266.7 851.4 1267.3C850 1268 847.1 1268.1 846.2 1269.1C845.3 1270 845.5 1271.5 845.8 1273C846.1 1274.5 847.5 1276.6 847.9 1278.2C848.4 1279.8 849.2 1281.9 848.4 1282.5C847.5 1283.2 844.5 1282.3 842.7 1282.1C840.9 1282 838.8 1281.3 837.5 1281.7C836.2 1282 835.5 1283.2 834.9 1284.3C834.3 1285.4 834.6 1286.7 834.1 1288.2C833.5 1289.6 832.5 1291.7 831.5 1293C830.4 1294.3 829.3 1295.5 828 1296C826.7 1296.5 824.9 1296.5 823.6 1296C822.3 1295.5 821.3 1294.8 820.2 1293C819 1291.2 817.9 1287 816.7 1285.2C815.5 1283.3 814.2 1282.8 813.2 1281.7C812.3 1280.5 811.4 1279.7 811.1 1278.2C810.7 1276.8 810.1 1275.2 811.1 1273Z" fill="#414487" /><path d="M846.2 1269.1C847.1 1268 849.7 1267.8 851.4 1267.3C853.1 1266.8 854.7 1266.1 856.6 1266C858.5 1266 860.7 1266.3 862.7 1266.9C864.7 1267.6 867.4 1268.8 868.8 1269.9C870.1 1271.1 870.9 1272.5 870.9 1273.9C870.9 1275.2 869.3 1276.6 868.8 1278.2C868.3 1279.8 868.9 1282.3 867.9 1283.4C866.9 1284.5 864.7 1284.2 862.7 1284.7C860.7 1285.2 857.8 1286.2 855.7 1286.5C853.7 1286.7 851.8 1286.7 850.5 1286.5C849.2 1286.2 848.3 1286.1 847.9 1285.2C847.6 1284.2 848.7 1282.7 848.4 1280.8C848 1278.9 846.1 1275.8 845.8 1273.9C845.4 1271.9 845.3 1270.2 846.2 1269.1Z" fill="#3E4A89" /><path d="M834.9 1284.3C835.4 1283.2 836.2 1282 837.5 1281.7C838.8 1281.4 841.2 1282.1 842.7 1282.4C844.2 1282.7 845.9 1282.9 846.6 1283.4C847.4 1284 847.4 1284.9 847.1 1285.6C846.7 1286.3 845.8 1287.3 844.5 1287.8C843.2 1288.3 840.9 1288.6 839.3 1288.6C837.7 1288.7 835.6 1288.9 834.9 1288.2C834.2 1287.5 834.5 1285.4 834.9 1284.3Z" fill="#3B528B" /><path d="M820.2 1293.8C820.6 1293.3 822.2 1295.7 823.6 1296C825.1 1296.4 827.1 1295.9 828.8 1296C830.6 1296.1 832.3 1296.2 834.1 1296.5C835.8 1296.7 837.4 1297 839.3 1297.3C841.1 1297.6 845.6 1297.5 845.3 1298.2C845 1298.8 840.1 1300.5 837.5 1301.2C834.9 1302 832.2 1302.5 829.7 1302.5C827.3 1302.6 824.2 1302.3 822.8 1301.7C821.3 1301.1 821.5 1300.4 821 1299.1C820.6 1297.8 819.7 1294.4 820.2 1293.8Z" fill="#22A884" /><path d="M772 1294.7C771.9 1293 773.1 1292.1 774.2 1291.2C775.3 1290.4 776.8 1289.8 778.5 1289.5C780.3 1289.2 782 1289.1 784.6 1289.5C787.2 1289.9 791.1 1291.1 794.1 1292.1C797.2 1293.1 800.5 1294.5 802.8 1295.6C805.1 1296.7 806.3 1298 808 1298.6C809.8 1299.3 811.1 1299.3 813.2 1299.5C815.4 1299.7 819.4 1299.6 821 1299.9C822.6 1300.3 821.3 1301.2 822.8 1301.7C824.2 1302.1 827.3 1302.6 829.7 1302.5C832.2 1302.5 834.9 1302 837.5 1301.2C840.1 1300.5 844 1298.7 845.3 1298.2C844.3 1298 841.1 1297.6 839.3 1297.3C837.4 1297 834.9 1296.6 834.1 1296.5C835.5 1296.3 840.1 1295.7 842.7 1295.6C845.3 1295.5 847.5 1295.7 849.7 1296C851.8 1296.4 854.9 1297 855.7 1297.8C856.6 1298.6 855.6 1299.6 854.9 1300.8C854.2 1302 852.6 1303.6 851.4 1305.1C850.3 1306.7 849.4 1308.9 847.9 1309.9C846.5 1310.9 844.6 1311.2 842.7 1311.2C840.9 1311.3 838.1 1310.9 836.7 1310.4C835.2 1309.9 835.6 1308.5 834.1 1308.2C832.5 1307.9 829.7 1308.6 827.1 1308.6C824.5 1308.6 821 1308 818.4 1308.2C815.8 1308.3 813.4 1308.7 811.5 1309.5C809.6 1310.3 808.4 1311.7 807.2 1313C805.9 1314.3 805.1 1316.4 804.1 1317.3C803.1 1318.2 802.5 1318.5 801.1 1318.2C799.7 1317.9 798 1316.7 795.9 1315.6C793.7 1314.4 790.7 1312.8 788.1 1311.2C785.5 1309.6 782.4 1307.6 780.3 1306C778.1 1304.4 776.4 1303.6 775.1 1301.7C773.7 1299.8 772.2 1296.5 772 1294.7Z" fill="#3FBC73" /><path d="M893.1 1271.2C894.1 1271 895.1 1270.7 896.5 1271.2C898 1271.8 900.3 1273.4 901.7 1274.7C903.2 1276 904.5 1277.5 905.2 1279.1C905.9 1280.7 906.2 1282.1 905.9 1284.3C905.6 1286.5 904.7 1289.4 903.5 1292.1C902.2 1294.9 900.4 1297.8 898.3 1300.8C896.1 1303.8 893.3 1307.2 890.5 1310.4C887.6 1313.6 884.2 1316.9 880.9 1319.9C877.6 1323 874 1326 870.5 1328.6C867 1331.2 863 1333.8 860.1 1335.6C857.2 1337.3 855.2 1338.4 853.1 1339C851.1 1339.7 848.2 1340.2 847.9 1339.5C847.6 1338.8 849.5 1336.8 851.4 1334.7C853.3 1332.6 856.9 1329.6 859.2 1326.9C861.5 1324.1 863.4 1320.5 865.3 1318.2C867.2 1315.9 868.5 1314.7 870.5 1313C872.5 1311.2 875.1 1309.8 877.4 1307.8C879.8 1305.7 882.4 1303.1 884.4 1300.8C886.4 1298.5 888.2 1296.2 889.6 1293.8C891 1291.5 892 1288.9 892.6 1286.9C893.2 1284.9 893.2 1283.1 893.3 1281.7C893.4 1280.3 893.2 1279.1 893.2 1278.6C892.9 1279.1 891.9 1281.5 891.3 1281.7C890.7 1281.9 890.1 1281 889.6 1279.9C889.1 1278.9 888.2 1276.8 888.3 1275.6C888.4 1274.4 889.2 1273.3 890 1272.6C890.8 1271.8 892 1271.5 893.1 1271.2Z" fill="#2A788E" /><path d="M893.2 1278.6C892.9 1279.2 891.9 1280.4 891.3 1282.1C890.7 1283.8 891 1286.4 889.6 1288.6C888.1 1290.9 885.4 1293.4 882.6 1295.6C879.9 1297.8 876.9 1299.8 873.1 1301.7C869.3 1303.6 864.1 1305.4 860.1 1306.9C856 1308.3 852 1309.5 848.8 1310.4C845.6 1311.2 843.2 1312 841 1312.1C838.8 1312.2 837.4 1310.5 835.8 1311.1C834.2 1311.8 832.9 1313.8 831.5 1315.9C830 1318 828.6 1321.3 827.1 1323.7C825.7 1326.2 823.8 1328.4 822.8 1330.7C821.8 1333 821.5 1335.3 821 1337.7C820.6 1340 819.9 1342.7 820.2 1344.6C820.5 1346.5 821.5 1348.1 822.8 1349C824.1 1349.9 826.2 1350.1 828 1350C829.7 1349.9 831.5 1349.6 833.2 1348.5C834.9 1347.5 836.7 1345.1 838.4 1343.7C840.1 1342.4 842 1341.1 843.6 1340.3C845.2 1339.4 846.6 1339.6 847.9 1338.7C849.2 1337.8 849.5 1337.1 851.4 1335C853.3 1333 856.9 1329.3 859.2 1326.4C861.5 1323.5 863.4 1319.9 865.3 1317.7C867.2 1315.4 868.5 1314.5 870.5 1312.9C872.5 1311.2 875.1 1309.8 877.4 1307.8C879.8 1305.7 882.4 1303.1 884.4 1300.8C886.4 1298.5 888.2 1296.2 889.6 1293.8C891 1291.5 892 1288.9 892.6 1286.9C893.2 1284.9 893.2 1283.1 893.3 1281.7C893.4 1280.3 893.2 1279.1 893.2 1278.6Z" fill="#2F6C8E" /><path d="M836.2 1309.8C835.8 1309.3 834.6 1308.2 833.2 1308.1C831.8 1308 829.7 1308.2 828 1309C826.2 1309.7 824.7 1311 822.8 1312.4C820.9 1313.9 818.5 1315.9 816.7 1317.7C814.9 1319.4 812.9 1321 811.9 1322.9C810.9 1324.8 810.9 1326.5 810.6 1329C810.4 1331.4 810.2 1335.5 810.5 1337.7C810.7 1339.8 811 1340.8 811.9 1342C812.8 1343.2 814.7 1344.4 815.8 1345C817 1345.7 818.2 1346.3 818.9 1345.9C819.5 1345.6 819.4 1344.4 819.7 1342.9C820.1 1341.4 820.5 1338.8 821 1336.8C821.5 1334.8 821.8 1332.9 822.8 1330.7C823.8 1328.5 825.7 1326.2 827.1 1323.7C828.6 1321.3 830 1318 831.5 1315.9C832.9 1313.8 835 1312.2 835.8 1311.1C836.6 1310.1 836.7 1310.3 836.2 1309.8Z" fill="#26828E" /></g>
<path d="M136 1308C136.7 1306.7 145.1 1310.5 146.4 1313.1C147.7 1315.8 143.1 1319.5 144 1324C144.9 1328.5 152.3 1337.1 152 1340C151.7 1342.9 146.1 1341.6 142.4 1341.6C138.7 1341.6 130.1 1340.7 129.6 1340C129.1 1339.3 136.9 1338.9 139.2 1337.6C141.5 1336.3 142.7 1334.8 143.2 1332C143.7 1329.2 143.6 1324.8 142.4 1320.8C141.2 1316.8 135.3 1309.3 136 1308Z" fill="#30789A" stroke="#30789A" stroke-width="1.6"/><path d="M77.6 1276C77.1 1272.4 80.1 1270 83.2 1267.2C86.3 1264.4 91.2 1261.3 96 1259.2C100.8 1257.1 106.9 1255.3 112 1254.4C117.1 1253.5 122.7 1253.3 126.4 1253.9C130.1 1254.6 133.1 1257.7 134.4 1258.4C134.1 1261.3 133.6 1270.4 132.8 1276C132 1281.6 130.1 1289.3 129.6 1292C128.5 1292.3 126.7 1293.5 123.2 1293.9C119.7 1294.3 113.9 1293.9 108.8 1294.4C103.7 1294.9 96.5 1297.7 92.8 1296.8C89.1 1295.9 88.9 1292.3 86.4 1288.8C83.9 1285.3 78.1 1279.6 77.6 1276Z" fill="#482F7E" stroke="#482F7E" stroke-width="1.6"/><path d="M134.4 1258.4C136 1258.1 140.3 1256.3 144 1256.5C147.7 1256.6 152.5 1257.5 156.8 1259.2C161.1 1260.9 165.9 1263.6 169.6 1266.4C173.3 1269.2 177.2 1273.3 179.2 1276C181.2 1278.7 181.2 1281.3 181.6 1282.4C179.9 1283.7 175.3 1287.2 171.2 1290.4C167.1 1293.6 161.1 1297.9 156.8 1301.6C152.5 1305.3 147.5 1310.9 145.6 1312.8C144.8 1312.7 142.4 1313.9 140.8 1312C139.2 1310.1 137.9 1304.8 136 1301.6C134.1 1298.4 130.7 1294.3 129.6 1292.8C130.1 1290 132 1281.7 132.8 1276C133.6 1270.3 134.1 1261.3 134.4 1258.4Z" fill="#453F86" stroke="#453F86" stroke-width="1.6"/><path d="M53.6 1317.6C53.7 1313.1 54.5 1306.7 56 1301.6C57.5 1296.5 60 1290.9 62.4 1287.2C64.8 1283.5 67.9 1280.6 70.4 1279.5C72.9 1278.5 74.9 1279 77.6 1280.8C80.3 1282.6 84.1 1287.5 86.4 1290.4C88.7 1293.3 90.9 1295.5 91.2 1298.4C91.5 1301.3 88.7 1303.7 88 1308C87.3 1312.3 86.4 1319.2 87.2 1324C88 1328.8 92.9 1333.9 92.8 1336.8C92.7 1339.7 89.9 1340.5 86.4 1341.6C82.9 1342.7 76.3 1344.1 72 1343.5C67.7 1343 63.6 1340.9 60.8 1338.4C58 1335.9 56.4 1332.3 55.2 1328.8C54 1325.3 53.5 1322.1 53.6 1317.6Z" fill="#3D5590" stroke="#3D5590" stroke-width="1.6"/><path d="M89.6 1301.6C90.7 1299.2 91.2 1297.9 94.4 1296.8C97.6 1295.7 104 1295.2 108.8 1294.7C113.6 1294.2 119.5 1293.6 123.2 1293.9C126.9 1294.3 128.8 1294.5 131.2 1296.8C133.6 1299.1 135.7 1304 137.6 1308C139.5 1312 141.6 1316.5 142.4 1320.8C143.2 1325.1 143.2 1330.7 142.4 1333.6C141.6 1336.5 140.8 1337.3 137.6 1338.4C134.4 1339.5 128.3 1339.9 123.2 1340C118.1 1340.1 112 1340.3 107.2 1339.2C102.4 1338.1 97.6 1336.1 94.4 1333.6C91.2 1331.1 89.1 1327.7 88 1324C86.9 1320.3 87.7 1314.9 88 1311.2C88.3 1307.5 88.5 1304 89.6 1301.6Z" fill="#3B5B92" stroke="#3B5B92" stroke-width="1.6"/><path d="M144.8 1314.4C146.7 1310.9 150.8 1307.2 155.2 1303.2C159.6 1299.2 166.8 1293.8 171.2 1290.4C175.6 1287 178.7 1283 181.6 1282.7C184.5 1282.5 186.7 1285.7 188.8 1288.8C190.9 1291.9 192.9 1297.1 194.4 1301.6C195.9 1306.1 197.3 1311.2 197.6 1316C197.9 1320.8 197.5 1326.4 196 1330.4C194.5 1334.4 192.1 1337.6 188.8 1340C185.5 1342.4 180.3 1343.9 176 1344.8C171.7 1345.7 166.9 1345.7 163.2 1345.1C159.5 1344.6 156.3 1343.5 153.6 1341.6C150.9 1339.7 148.8 1336.5 147.2 1333.6C145.6 1330.7 144.4 1327.2 144 1324C143.6 1320.8 142.9 1317.9 144.8 1314.4Z" fill="#3D5590" stroke="#3D5590" stroke-width="1.6"/><path d="M220 1279.2C219.7 1275.7 222.8 1272.5 225.6 1269.6C228.4 1266.7 232.5 1263.9 236.8 1261.6C241.1 1259.3 246.4 1257.1 251.2 1256C256 1254.9 263.2 1255.3 265.6 1255.2C265.2 1257.1 262.9 1262.9 263.2 1266.4C263.5 1269.9 267.6 1274 267.2 1276C266.8 1278 264 1277.1 260.8 1278.4C257.6 1279.7 251.7 1281.7 248 1284C244.3 1286.3 240.5 1289.9 238.4 1292C236.3 1294.1 237.1 1297.1 235.2 1296.8C233.3 1296.5 229.7 1293.3 227.2 1290.4C224.7 1287.5 220.3 1282.7 220 1279.2Z" fill="#453F86" stroke="#453F86" stroke-width="1.6"/><path d="M265.6 1255.2C267.5 1254.7 272.8 1252.5 276.8 1252C280.8 1251.5 285.1 1251.2 289.6 1252C294.1 1252.8 299.5 1254.7 304 1256.8C308.5 1258.9 313.3 1262.1 316.8 1264.8C320.3 1267.5 323.7 1270.4 324.8 1272.8C325.9 1275.2 325.3 1278.2 323.2 1279.2C321.1 1280.2 316.5 1278.7 312 1278.9C307.5 1279 300.8 1279.4 296 1280C291.2 1280.6 286.1 1280.7 283.2 1282.4C280.3 1284.1 279.7 1290.4 278.4 1290.4C277.1 1290.4 277.1 1284.7 275.2 1282.4C273.3 1280.1 269.2 1279.5 267.2 1276.8C265.2 1274.1 263.5 1270 263.2 1266.4C262.9 1262.8 265.2 1257.1 265.6 1255.2Z" fill="#482F7E" stroke="#482F7E" stroke-width="1.6"/><path d="M204.8 1316C204.8 1311.2 205.9 1304.8 207.2 1300C208.5 1295.2 211.1 1290.1 212.8 1287.2C214.5 1284.3 216 1282.9 217.6 1282.4C219.2 1281.9 220.8 1282.5 222.4 1284C224 1285.5 224.9 1288.9 227.2 1291.2C229.5 1293.5 234.3 1294.8 236 1297.6C237.7 1300.4 238 1303.6 237.6 1308C237.2 1312.4 234 1319.2 233.6 1324C233.2 1328.8 233.3 1333.6 235.2 1336.8C237.1 1340 244.3 1341.6 244.8 1343.2C245.3 1344.8 241.3 1345.9 238.4 1346.4C235.5 1346.9 231.2 1347.5 227.2 1346.4C223.2 1345.3 217.7 1342.9 214.4 1340C211.1 1337.1 208.8 1332.8 207.2 1328.8C205.6 1324.8 204.8 1320.8 204.8 1316Z" fill="#3D5590" stroke="#3D5590" stroke-width="1.6"/><path d="M323.2 1277.6C324.5 1276.4 325.9 1274.7 328 1275.2C330.1 1275.7 333.5 1278 336 1280.8C338.5 1283.6 341.3 1287.5 343.2 1292C345.1 1296.5 346.7 1302.7 347.2 1308C347.7 1313.3 347.5 1319.2 346.4 1324C345.3 1328.8 343.3 1333.7 340.8 1336.8C338.3 1339.9 334.9 1341.3 331.2 1342.4C327.5 1343.5 322.4 1343.5 318.4 1343.2C314.4 1342.9 309.6 1341.7 307.2 1340.8C304.8 1339.9 302.4 1339.9 304 1337.6C305.6 1335.3 313.9 1331.3 316.8 1327.2C319.7 1323.1 320.7 1318.1 321.6 1312.8C322.5 1307.5 322.6 1300.3 322.4 1295.2C322.2 1290.1 320.2 1285.3 320.3 1282.4C320.5 1279.5 321.9 1278.8 323.2 1277.6Z" fill="#3D5590" stroke="#3D5590" stroke-width="1.6"/><path d="M278.4 1290.4C278.9 1285.6 280.3 1284.1 283.2 1282.4C286.1 1280.7 291.2 1280.6 296 1280C300.8 1279.4 308 1278.5 312 1278.9C316 1279.3 318.3 1279.7 320 1282.4C321.7 1285.1 322.1 1290.1 322.4 1295.2C322.7 1300.3 322.5 1307.5 321.6 1312.8C320.7 1318.1 319.5 1323.3 316.8 1327.2C314.1 1331.1 309.9 1333.9 305.6 1336C301.3 1338.1 294.9 1339.6 291.2 1340C287.5 1340.4 284.5 1340.3 283.2 1338.4C281.9 1336.5 283.7 1333.3 283.2 1328.8C282.7 1324.3 280.8 1317.6 280 1311.2C279.2 1304.8 277.9 1295.2 278.4 1290.4Z" fill="#3B5B92" stroke="#3B5B92" stroke-width="1.6"/><path d="M238.4 1292C240.1 1288 244.3 1286.3 248 1284C251.7 1281.7 257.3 1279.2 260.8 1278.4C264.3 1277.6 266.4 1278.3 268.8 1279.2C271.2 1280.1 273.6 1281.3 275.2 1284C276.8 1286.7 277.6 1290.7 278.4 1295.2C279.2 1299.7 279.2 1305.6 280 1311.2C280.8 1316.8 283.2 1324 283.2 1328.8C283.2 1333.6 282.1 1337.3 280 1340C277.9 1342.7 274.4 1343.9 270.4 1344.8C266.4 1345.7 260.5 1346 256 1345.6C251.5 1345.2 246.8 1344.1 243.2 1342.4C239.6 1340.7 236 1338.3 234.4 1335.2C232.8 1332.1 233.1 1328.5 233.6 1324C234.1 1319.5 236.8 1313.3 237.6 1308C238.4 1302.7 236.7 1296 238.4 1292Z" fill="#30789A" stroke="#30789A" stroke-width="1.6"/><g stroke="#000" stroke-width="0.9" stroke-linejoin="round"><path d="M136 1308C136.7 1306.7 145.1 1310.5 146.4 1313.1C147.7 1315.8 143.1 1319.5 144 1324C144.9 1328.5 152.3 1337.1 152 1340C151.7 1342.9 146.1 1341.6 142.4 1341.6C138.7 1341.6 130.1 1340.7 129.6 1340C129.1 1339.3 136.9 1338.9 139.2 1337.6C141.5 1336.3 142.7 1334.8 143.2 1332C143.7 1329.2 143.6 1324.8 142.4 1320.8C141.2 1316.8 135.3 1309.3 136 1308Z" fill="#30789A" /><path d="M77.6 1276C77.1 1272.4 80.1 1270 83.2 1267.2C86.3 1264.4 91.2 1261.3 96 1259.2C100.8 1257.1 106.9 1255.3 112 1254.4C117.1 1253.5 122.7 1253.3 126.4 1253.9C130.1 1254.6 133.1 1257.7 134.4 1258.4C134.1 1261.3 133.6 1270.4 132.8 1276C132 1281.6 130.1 1289.3 129.6 1292C128.5 1292.3 126.7 1293.5 123.2 1293.9C119.7 1294.3 113.9 1293.9 108.8 1294.4C103.7 1294.9 96.5 1297.7 92.8 1296.8C89.1 1295.9 88.9 1292.3 86.4 1288.8C83.9 1285.3 78.1 1279.6 77.6 1276Z" fill="#482F7E" /><path d="M134.4 1258.4C136 1258.1 140.3 1256.3 144 1256.5C147.7 1256.6 152.5 1257.5 156.8 1259.2C161.1 1260.9 165.9 1263.6 169.6 1266.4C173.3 1269.2 177.2 1273.3 179.2 1276C181.2 1278.7 181.2 1281.3 181.6 1282.4C179.9 1283.7 175.3 1287.2 171.2 1290.4C167.1 1293.6 161.1 1297.9 156.8 1301.6C152.5 1305.3 147.5 1310.9 145.6 1312.8C144.8 1312.7 142.4 1313.9 140.8 1312C139.2 1310.1 137.9 1304.8 136 1301.6C134.1 1298.4 130.7 1294.3 129.6 1292.8C130.1 1290 132 1281.7 132.8 1276C133.6 1270.3 134.1 1261.3 134.4 1258.4Z" fill="#453F86" /><path d="M53.6 1317.6C53.7 1313.1 54.5 1306.7 56 1301.6C57.5 1296.5 60 1290.9 62.4 1287.2C64.8 1283.5 67.9 1280.6 70.4 1279.5C72.9 1278.5 74.9 1279 77.6 1280.8C80.3 1282.6 84.1 1287.5 86.4 1290.4C88.7 1293.3 90.9 1295.5 91.2 1298.4C91.5 1301.3 88.7 1303.7 88 1308C87.3 1312.3 86.4 1319.2 87.2 1324C88 1328.8 92.9 1333.9 92.8 1336.8C92.7 1339.7 89.9 1340.5 86.4 1341.6C82.9 1342.7 76.3 1344.1 72 1343.5C67.7 1343 63.6 1340.9 60.8 1338.4C58 1335.9 56.4 1332.3 55.2 1328.8C54 1325.3 53.5 1322.1 53.6 1317.6Z" fill="#3D5590" /><path d="M89.6 1301.6C90.7 1299.2 91.2 1297.9 94.4 1296.8C97.6 1295.7 104 1295.2 108.8 1294.7C113.6 1294.2 119.5 1293.6 123.2 1293.9C126.9 1294.3 128.8 1294.5 131.2 1296.8C133.6 1299.1 135.7 1304 137.6 1308C139.5 1312 141.6 1316.5 142.4 1320.8C143.2 1325.1 143.2 1330.7 142.4 1333.6C141.6 1336.5 140.8 1337.3 137.6 1338.4C134.4 1339.5 128.3 1339.9 123.2 1340C118.1 1340.1 112 1340.3 107.2 1339.2C102.4 1338.1 97.6 1336.1 94.4 1333.6C91.2 1331.1 89.1 1327.7 88 1324C86.9 1320.3 87.7 1314.9 88 1311.2C88.3 1307.5 88.5 1304 89.6 1301.6Z" fill="#3B5B92" /><path d="M144.8 1314.4C146.7 1310.9 150.8 1307.2 155.2 1303.2C159.6 1299.2 166.8 1293.8 171.2 1290.4C175.6 1287 178.7 1283 181.6 1282.7C184.5 1282.5 186.7 1285.7 188.8 1288.8C190.9 1291.9 192.9 1297.1 194.4 1301.6C195.9 1306.1 197.3 1311.2 197.6 1316C197.9 1320.8 197.5 1326.4 196 1330.4C194.5 1334.4 192.1 1337.6 188.8 1340C185.5 1342.4 180.3 1343.9 176 1344.8C171.7 1345.7 166.9 1345.7 163.2 1345.1C159.5 1344.6 156.3 1343.5 153.6 1341.6C150.9 1339.7 148.8 1336.5 147.2 1333.6C145.6 1330.7 144.4 1327.2 144 1324C143.6 1320.8 142.9 1317.9 144.8 1314.4Z" fill="#3D5590" /><path d="M220 1279.2C219.7 1275.7 222.8 1272.5 225.6 1269.6C228.4 1266.7 232.5 1263.9 236.8 1261.6C241.1 1259.3 246.4 1257.1 251.2 1256C256 1254.9 263.2 1255.3 265.6 1255.2C265.2 1257.1 262.9 1262.9 263.2 1266.4C263.5 1269.9 267.6 1274 267.2 1276C266.8 1278 264 1277.1 260.8 1278.4C257.6 1279.7 251.7 1281.7 248 1284C244.3 1286.3 240.5 1289.9 238.4 1292C236.3 1294.1 237.1 1297.1 235.2 1296.8C233.3 1296.5 229.7 1293.3 227.2 1290.4C224.7 1287.5 220.3 1282.7 220 1279.2Z" fill="#453F86" /><path d="M265.6 1255.2C267.5 1254.7 272.8 1252.5 276.8 1252C280.8 1251.5 285.1 1251.2 289.6 1252C294.1 1252.8 299.5 1254.7 304 1256.8C308.5 1258.9 313.3 1262.1 316.8 1264.8C320.3 1267.5 323.7 1270.4 324.8 1272.8C325.9 1275.2 325.3 1278.2 323.2 1279.2C321.1 1280.2 316.5 1278.7 312 1278.9C307.5 1279 300.8 1279.4 296 1280C291.2 1280.6 286.1 1280.7 283.2 1282.4C280.3 1284.1 279.7 1290.4 278.4 1290.4C277.1 1290.4 277.1 1284.7 275.2 1282.4C273.3 1280.1 269.2 1279.5 267.2 1276.8C265.2 1274.1 263.5 1270 263.2 1266.4C262.9 1262.8 265.2 1257.1 265.6 1255.2Z" fill="#482F7E" /><path d="M204.8 1316C204.8 1311.2 205.9 1304.8 207.2 1300C208.5 1295.2 211.1 1290.1 212.8 1287.2C214.5 1284.3 216 1282.9 217.6 1282.4C219.2 1281.9 220.8 1282.5 222.4 1284C224 1285.5 224.9 1288.9 227.2 1291.2C229.5 1293.5 234.3 1294.8 236 1297.6C237.7 1300.4 238 1303.6 237.6 1308C237.2 1312.4 234 1319.2 233.6 1324C233.2 1328.8 233.3 1333.6 235.2 1336.8C237.1 1340 244.3 1341.6 244.8 1343.2C245.3 1344.8 241.3 1345.9 238.4 1346.4C235.5 1346.9 231.2 1347.5 227.2 1346.4C223.2 1345.3 217.7 1342.9 214.4 1340C211.1 1337.1 208.8 1332.8 207.2 1328.8C205.6 1324.8 204.8 1320.8 204.8 1316Z" fill="#3D5590" /><path d="M323.2 1277.6C324.5 1276.4 325.9 1274.7 328 1275.2C330.1 1275.7 333.5 1278 336 1280.8C338.5 1283.6 341.3 1287.5 343.2 1292C345.1 1296.5 346.7 1302.7 347.2 1308C347.7 1313.3 347.5 1319.2 346.4 1324C345.3 1328.8 343.3 1333.7 340.8 1336.8C338.3 1339.9 334.9 1341.3 331.2 1342.4C327.5 1343.5 322.4 1343.5 318.4 1343.2C314.4 1342.9 309.6 1341.7 307.2 1340.8C304.8 1339.9 302.4 1339.9 304 1337.6C305.6 1335.3 313.9 1331.3 316.8 1327.2C319.7 1323.1 320.7 1318.1 321.6 1312.8C322.5 1307.5 322.6 1300.3 322.4 1295.2C322.2 1290.1 320.2 1285.3 320.3 1282.4C320.5 1279.5 321.9 1278.8 323.2 1277.6Z" fill="#3D5590" /><path d="M278.4 1290.4C278.9 1285.6 280.3 1284.1 283.2 1282.4C286.1 1280.7 291.2 1280.6 296 1280C300.8 1279.4 308 1278.5 312 1278.9C316 1279.3 318.3 1279.7 320 1282.4C321.7 1285.1 322.1 1290.1 322.4 1295.2C322.7 1300.3 322.5 1307.5 321.6 1312.8C320.7 1318.1 319.5 1323.3 316.8 1327.2C314.1 1331.1 309.9 1333.9 305.6 1336C301.3 1338.1 294.9 1339.6 291.2 1340C287.5 1340.4 284.5 1340.3 283.2 1338.4C281.9 1336.5 283.7 1333.3 283.2 1328.8C282.7 1324.3 280.8 1317.6 280 1311.2C279.2 1304.8 277.9 1295.2 278.4 1290.4Z" fill="#3B5B92" /><path d="M238.4 1292C240.1 1288 244.3 1286.3 248 1284C251.7 1281.7 257.3 1279.2 260.8 1278.4C264.3 1277.6 266.4 1278.3 268.8 1279.2C271.2 1280.1 273.6 1281.3 275.2 1284C276.8 1286.7 277.6 1290.7 278.4 1295.2C279.2 1299.7 279.2 1305.6 280 1311.2C280.8 1316.8 283.2 1324 283.2 1328.8C283.2 1333.6 282.1 1337.3 280 1340C277.9 1342.7 274.4 1343.9 270.4 1344.8C266.4 1345.7 260.5 1346 256 1345.6C251.5 1345.2 246.8 1344.1 243.2 1342.4C239.6 1340.7 236 1338.3 234.4 1335.2C232.8 1332.1 233.1 1328.5 233.6 1324C234.1 1319.5 236.8 1313.3 237.6 1308C238.4 1302.7 236.7 1296 238.4 1292Z" fill="#30789A" /></g>
</svg>
</body></html>
